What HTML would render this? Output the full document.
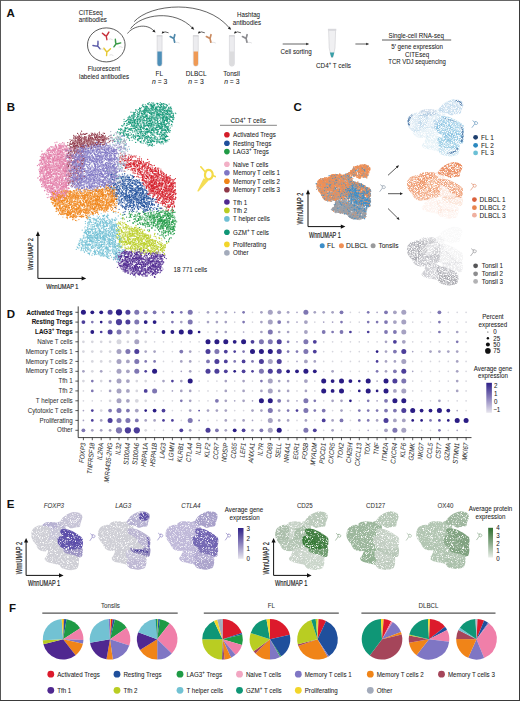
<!DOCTYPE html><html><head><meta charset="utf-8"><style>html,body{margin:0;padding:0;background:#fff;width:520px;height:701px;overflow:hidden}svg{display:block}text{font-family:"Liberation Sans", sans-serif}</style></head><body>
<svg width="520" height="701" viewBox="0 0 520 701">
<defs>
<linearGradient id="gpur" x1="0" y1="0" x2="0" y2="1"><stop offset="0" stop-color="#2e2088"/><stop offset="0.5" stop-color="#8a80bc"/><stop offset="1" stop-color="#e8e6ee"/></linearGradient>
<linearGradient id="ggrn" x1="0" y1="0" x2="0" y2="1"><stop offset="0" stop-color="#2f6f2f"/><stop offset="0.5" stop-color="#86a886"/><stop offset="1" stop-color="#e8eee8"/></linearGradient>
<filter id="spk" x="-8%" y="-8%" width="116%" height="116%" color-interpolation-filters="sRGB"><feGaussianBlur in="SourceGraphic" stdDeviation="0.9" result="b"/><feColorMatrix in="b" type="matrix" values="1 0 0 0 0  0 1 0 0 0  0 0 1 0 0  0 0 0 0 1" result="col"/><feColorMatrix in="b" type="matrix" values="0 0 0 0 0  0 0 0 0 0  0 0 0 0 0  0 0 0 1 0" result="ba"/><feTurbulence type="fractalNoise" baseFrequency="0.95" numOctaves="1" seed="4" result="n"/><feColorMatrix in="n" type="matrix" values="0 0 0 0 0  0 0 0 0 0  0 0 0 0 0  1 0 0 0 0" result="nz"/><feComposite in="ba" in2="nz" operator="arithmetic" k1="0" k2="3.2" k3="3.2" k4="-3.9" result="s"/><feComposite in="col" in2="s" operator="in"/></filter>
<filter id="spk2" x="-8%" y="-8%" width="116%" height="116%" color-interpolation-filters="sRGB"><feGaussianBlur in="SourceGraphic" stdDeviation="0.6" result="b"/><feColorMatrix in="b" type="matrix" values="1 0 0 0 0  0 1 0 0 0  0 0 1 0 0  0 0 0 0 1" result="col"/><feColorMatrix in="b" type="matrix" values="0 0 0 0 0  0 0 0 0 0  0 0 0 0 0  0 0 0 1 0" result="ba"/><feTurbulence type="fractalNoise" baseFrequency="1.6" numOctaves="1" seed="9" result="n"/><feColorMatrix in="n" type="matrix" values="0 0 0 0 0  0 0 0 0 0  0 0 0 0 0  1 0 0 0 0" result="nz"/><feComposite in="ba" in2="nz" operator="arithmetic" k1="0" k2="3.0" k3="3.0" k4="-3.6" result="s"/><feComposite in="col" in2="s" operator="in"/></filter>
<filter id="tex" x="-5%" y="-5%" width="110%" height="110%" color-interpolation-filters="sRGB"><feTurbulence type="fractalNoise" baseFrequency="1.3" numOctaves="1" seed="5" result="n"/><feColorMatrix in="n" type="matrix" values="0 0 0 0 0  0 0 0 0 0  0 0 0 0 0  4 0 0 0 -1.3" result="m"/><feComposite in="SourceGraphic" in2="m" operator="in"/></filter>
<filter id="tex2" x="-5%" y="-5%" width="110%" height="110%" color-interpolation-filters="sRGB"><feTurbulence type="fractalNoise" baseFrequency="1.3" numOctaves="1" seed="8" result="n"/><feColorMatrix in="n" type="matrix" values="0 0 0 0 0  0 0 0 0 0  0 0 0 0 0  5 0 0 0 -2.6" result="m"/><feComposite in="SourceGraphic" in2="m" operator="in"/></filter>
<filter id="tex3" x="-5%" y="-5%" width="110%" height="110%" color-interpolation-filters="sRGB"><feTurbulence type="fractalNoise" baseFrequency="2.2" numOctaves="2" seed="3" result="n"/><feColorMatrix in="n" type="matrix" values="0 0 0 0 0  0 0 0 0 0  0 0 0 0 0  4 0 0 0 -0.9" result="m"/><feComposite in="SourceGraphic" in2="m" operator="in"/></filter>
<linearGradient id="redC" x1="0" y1="0" x2="0.3" y2="1"><stop offset="0" stop-color="#ef9a66"/><stop offset="0.45" stop-color="#e8a878"/><stop offset="0.7" stop-color="#6a9ccc"/><stop offset="1" stop-color="#4a92c8"/></linearGradient>
</defs>
<rect width="520" height="701" fill="#fff"/>
<text x="0" y="0" transform="translate(6.60 16.60) scale(1 1.0)" font-size="11.5" text-anchor="start" font-weight="bold" fill="#111">A</text>
<text x="0" y="0" transform="translate(78.70 14.70) scale(1 1.12)" font-size="6.2" text-anchor="start" fill="#222" stroke="#222" stroke-width="0.05">CITEseq</text>
<text x="0" y="0" transform="translate(78.70 22.00) scale(1 1.12)" font-size="6.2" text-anchor="start" fill="#222" stroke="#222" stroke-width="0.05">antibodies</text>
<ellipse cx="106.3" cy="44.9" rx="18.8" ry="17.0" fill="none" stroke="#333" stroke-width="0.8"/>
<g transform="translate(106.2,35.8) rotate(-10) scale(1.0)" stroke="#c8323c" stroke-width="1.4" stroke-linecap="round" fill="none">
<path d="M0,0.5 L0,4 M0,0.5 L-2.6,-2.4 M0,0.5 L2.6,-2.4 M-1.2,-0.6 L-3.3,-3.2 M1.2,-0.6 L3.3,-3.2"/>
</g>
<path d="M108.7,39.3 q2,-1 4,0.5" stroke="#ccc" stroke-width="0.6" fill="none"/>
<g transform="translate(116.2,43.6) rotate(35) scale(1.0)" stroke="#3a9a48" stroke-width="1.4" stroke-linecap="round" fill="none">
<path d="M0,0.5 L0,4 M0,0.5 L-2.6,-2.4 M0,0.5 L2.6,-2.4 M-1.2,-0.6 L-3.3,-3.2 M1.2,-0.6 L3.3,-3.2"/>
</g>
<path d="M118.7,47.1 q2,-1 4,0.5" stroke="#ccc" stroke-width="0.6" fill="none"/>
<g transform="translate(97.5,45.8) rotate(-40) scale(1.0)" stroke="#5a5aa8" stroke-width="1.4" stroke-linecap="round" fill="none">
<path d="M0,0.5 L0,4 M0,0.5 L-2.6,-2.4 M0,0.5 L2.6,-2.4 M-1.2,-0.6 L-3.3,-3.2 M1.2,-0.6 L3.3,-3.2"/>
</g>
<path d="M100.0,49.3 q2,-1 4,0.5" stroke="#ccc" stroke-width="0.6" fill="none"/>
<g transform="translate(106.9,51.6) rotate(5) scale(1.0)" stroke="#e6c832" stroke-width="1.4" stroke-linecap="round" fill="none">
<path d="M0,0.5 L0,4 M0,0.5 L-2.6,-2.4 M0,0.5 L2.6,-2.4 M-1.2,-0.6 L-3.3,-3.2 M1.2,-0.6 L3.3,-3.2"/>
</g>
<path d="M109.4,55.1 q2,-1 4,0.5" stroke="#ccc" stroke-width="0.6" fill="none"/>
<text x="0" y="0" transform="translate(104.00 70.90) scale(1 1.12)" font-size="6.2" text-anchor="middle" fill="#222" stroke="#222" stroke-width="0.05">Fluorescent</text>
<text x="0" y="0" transform="translate(104.00 79.20) scale(1 1.12)" font-size="6.2" text-anchor="middle" fill="#222" stroke="#222" stroke-width="0.05" textLength="50" lengthAdjust="spacingAndGlyphs">labeled antibodies</text>
<g fill="none" stroke="#222" stroke-width="0.7">
<path d="M127.5,33.5 C132,27 146,22 154.2,31.2"/>
<path d="M130.6,28.6 C141,14 175,9 192.8,28.4"/>
<path d="M134.2,21.6 C150,4 205,-2 229.8,28.4"/>
</g>
<path d="M155.60,32.60 L152.26,31.53 L154.19,29.39Z" fill="#222"/>
<path d="M194.20,29.80 L190.92,28.56 L192.96,26.52Z" fill="#222"/>
<path d="M231.20,29.80 L227.86,28.73 L229.79,26.59Z" fill="#222"/>
<path d="M157.1,35.8 L157.1,63.7 Q157.1,66.2 159.6,66.2 Q162.1,66.2 162.1,63.7 L162.1,35.8Z" fill="#ececef" stroke="#c8c8cc" stroke-width="0.5"/>
<path d="M157.4,51.5 L157.4,63.7 Q157.4,65.9 159.6,65.9 Q161.79999999999998,65.9 161.79999999999998,63.7 L161.79999999999998,51.5Z" fill="#4d8fb8"/>
<rect x="156.7" y="35.199999999999996" width="5.8" height="1.2" fill="#d4d4d8"/>
<path d="M168.6,32.8 Q164.6,30.8 162.4,33.0" fill="none" stroke="#222" stroke-width="0.7"/>
<path d="M161.60,33.60 L162.84,31.03 L164.34,32.83Z" fill="#222"/>
<g transform="translate(173.8,38.6)" stroke="#4f88aa" stroke-width="1.7" stroke-linecap="round" fill="none"><path d="M0,0 L-3.6,-2.0 M0,0 L1.0,-3.9 M0,0 L0.9,3.6"/></g>
<path d="M175.6,42.5 q2.2,-0.6 4,0.6" stroke="#d0d0d4" stroke-width="0.6" fill="none"/>
<path d="M193.3,35.8 L193.3,63.7 Q193.3,66.2 195.8,66.2 Q198.3,66.2 198.3,63.7 L198.3,35.8Z" fill="#ececef" stroke="#c8c8cc" stroke-width="0.5"/>
<path d="M193.60000000000002,51.5 L193.60000000000002,63.7 Q193.60000000000002,65.9 195.8,65.9 Q198.0,65.9 198.0,63.7 L198.0,51.5Z" fill="#ef9a55"/>
<rect x="192.9" y="35.199999999999996" width="5.8" height="1.2" fill="#d4d4d8"/>
<path d="M204.8,32.8 Q200.8,30.8 198.60000000000002,33.0" fill="none" stroke="#222" stroke-width="0.7"/>
<path d="M197.80,33.60 L199.04,31.03 L200.54,32.83Z" fill="#222"/>
<g transform="translate(210.0,38.6)" stroke="#c98a60" stroke-width="1.7" stroke-linecap="round" fill="none"><path d="M0,0 L-3.6,-2.0 M0,0 L1.0,-3.9 M0,0 L0.9,3.6"/></g>
<path d="M211.8,42.5 q2.2,-0.6 4,0.6" stroke="#d0d0d4" stroke-width="0.6" fill="none"/>
<path d="M229.4,35.8 L229.4,63.7 Q229.4,66.2 231.9,66.2 Q234.4,66.2 234.4,63.7 L234.4,35.8Z" fill="#ececef" stroke="#c8c8cc" stroke-width="0.5"/>
<path d="M229.70000000000002,51.5 L229.70000000000002,63.7 Q229.70000000000002,65.9 231.9,65.9 Q234.1,65.9 234.1,63.7 L234.1,51.5Z" fill="#dcdcde"/>
<rect x="229.0" y="35.199999999999996" width="5.8" height="1.2" fill="#d4d4d8"/>
<path d="M240.9,32.8 Q236.9,30.8 234.70000000000002,33.0" fill="none" stroke="#222" stroke-width="0.7"/>
<path d="M233.90,33.60 L235.14,31.03 L236.64,32.83Z" fill="#222"/>
<g transform="translate(246.1,38.6)" stroke="#8c8c90" stroke-width="1.7" stroke-linecap="round" fill="none"><path d="M0,0 L-3.6,-2.0 M0,0 L1.0,-3.9 M0,0 L0.9,3.6"/></g>
<path d="M247.9,42.5 q2.2,-0.6 4,0.6" stroke="#d0d0d4" stroke-width="0.6" fill="none"/>
<text x="0" y="0" transform="translate(159.20 76.30) scale(1 1.12)" font-size="6.5" text-anchor="middle" fill="#222" stroke="#222" stroke-width="0.05">FL</text>
<text x="0" y="0" transform="translate(196.20 76.30) scale(1 1.12)" font-size="6.5" text-anchor="middle" fill="#222" stroke="#222" stroke-width="0.05">DLBCL</text>
<text x="0" y="0" transform="translate(231.60 76.30) scale(1 1.12)" font-size="6.5" text-anchor="middle" fill="#222" stroke="#222" stroke-width="0.05">Tonsil</text>
<text x="0" y="0" transform="translate(159.60 83.60) scale(1 1.12)" font-size="6.8" text-anchor="middle" fill="#222" stroke="#222" stroke-width="0.05"><tspan font-style="italic">n</tspan> = 3</text>
<text x="0" y="0" transform="translate(196.00 83.60) scale(1 1.12)" font-size="6.8" text-anchor="middle" fill="#222" stroke="#222" stroke-width="0.05"><tspan font-style="italic">n</tspan> = 3</text>
<text x="0" y="0" transform="translate(231.80 83.60) scale(1 1.12)" font-size="6.8" text-anchor="middle" fill="#222" stroke="#222" stroke-width="0.05"><tspan font-style="italic">n</tspan> = 3</text>
<text x="0" y="0" transform="translate(248.50 17.00) scale(1 1.12)" font-size="6.2" text-anchor="middle" fill="#222" stroke="#222" stroke-width="0.05">Hashtag</text>
<text x="0" y="0" transform="translate(247.00 25.10) scale(1 1.12)" font-size="6.2" text-anchor="middle" fill="#222" stroke="#222" stroke-width="0.05">antibodies</text>
<line x1="282.7" y1="44" x2="306.5" y2="44" stroke="#222" stroke-width="0.7"/>
<path d="M309.20,44.00 L306.20,45.35 L306.20,42.65Z" fill="#222"/>
<text x="0" y="0" transform="translate(296.00 54.20) scale(1 1.12)" font-size="6.8" text-anchor="middle" fill="#222" stroke="#222" stroke-width="0.05" textLength="31.2" lengthAdjust="spacingAndGlyphs">Cell sorting</text>
<path d="M328.6,30.2 L335.6,30.2 L335.0,48 L332.9,57.4 L331.3,57.4 L329.2,48Z" fill="#f0f0f2" stroke="#c4c4c8" stroke-width="0.5"/>
<path d="M329.9,52.6 L334.3,52.6 L332.9,57.3 L331.3,57.3Z" fill="#3aa0a8"/>
<rect x="327.9" y="28.8" width="8.4" height="1.8" fill="#d8d8dc"/>
<text x="0" y="0" transform="translate(333.50 67.80) scale(1 1.12)" font-size="6.8" text-anchor="middle" fill="#222" stroke="#222" stroke-width="0.05" textLength="35" lengthAdjust="spacingAndGlyphs">CD4<tspan font-size="4.4" dy="-2.6">+</tspan><tspan dy="2.6"> T cells</tspan></text>
<line x1="355.4" y1="44" x2="366.5" y2="44" stroke="#222" stroke-width="0.7"/>
<path d="M369.20,44.00 L366.20,45.35 L366.20,42.65Z" fill="#222"/>
<text x="0" y="0" transform="translate(416.20 37.60) scale(1 1.12)" font-size="6.2" text-anchor="middle" fill="#222" stroke="#222" stroke-width="0.05" textLength="55.4" lengthAdjust="spacingAndGlyphs">Single-cell RNA-seq</text>
<line x1="382" y1="40.0" x2="451.2" y2="40.0" stroke="#333" stroke-width="0.8"/>
<text x="0" y="0" transform="translate(417.10 49.20) scale(1 1.12)" font-size="6.2" text-anchor="middle" fill="#222" stroke="#222" stroke-width="0.05" textLength="51.8" lengthAdjust="spacingAndGlyphs">5′ gene expression</text>
<text x="0" y="0" transform="translate(417.10 56.80) scale(1 1.12)" font-size="6.2" text-anchor="middle" fill="#222" stroke="#222" stroke-width="0.05">CITEseq</text>
<text x="0" y="0" transform="translate(417.10 64.10) scale(1 1.12)" font-size="6.2" text-anchor="middle" fill="#222" stroke="#222" stroke-width="0.05" textLength="57.7" lengthAdjust="spacingAndGlyphs">TCR VDJ sequencing</text>
<text x="0" y="0" transform="translate(6.80 111.00) scale(1 1.0)" font-size="11.5" text-anchor="start" font-weight="bold" fill="#111">B</text>
<g fill="none" stroke-linecap="round" stroke-width="12.5" opacity="1.0" transform="scale(0.1)">
<path stroke="#acb4cb" d="M1125 1389h0m151 123h0m-84 101h0m-10 47h0m12 172h0"/>
<path stroke="#6fbe87" d="M1542 2117h0m75-4h0m16-12h0m19 9h0m-341 34h0m57 14h0m225-27h0m86-9h0m17 15h0m-294 39h0m2 23h0m0-19h0m72 9h0m62-21h0m28 3h0m17 16h0m6 6h0m78-14h0m48-18h0m29 24h0m-323 41h0m54 1h0m97-15h0m7 14h0m117-21h0m23 13h0m15 11h0m17 2h0m5-24h0m-282 52h0m80 2h0m104-5h0m17 11h0m55 8h0m11-24h0m-89 55h0m54 27h0"/>
<path stroke="#b0b8c8" d="M1235 1477h0m1 179h0m-90 88h0m26 130h0"/>
<path stroke="#ccd1db" d="M1218 1636h0m56 63h0"/>
<path stroke="#e27aa6" d="M627 1427h0m-70 22h0m27-1h0m3 4h0m4 11h0m8 14h0m4-19h0m9 8h0m5 12h0m15 0h0m2-14h0m-163 40h0m7 7h0m1 0h0m9-9h0m41-2h0m14 2h0m1-1h0m4 18h0m38-34h0m1 5h0m3 19h0m16 7h0m3-33h0m4 28h0m41-14h0m8 9h0m1 3h0m3 4h0m-245 27h0m8-2h0m5 18h0m21 2h0m6-14h0m37 3h0m10-25h0m36 23h0m31-13h0m5 11h0m7-3h0m11 3h0m2-11h0m13 16h0m13 1h0m4-24h0m4 5h0m7 19h0m-238 14h0m21 14h0m8 2h0m2-5h0m1-14h0m2 31h0m3-13h0m4 17h0m1-3h0m26-4h0m2 2h0m2-24h0m1 7h0m10 5h0m1-13h0m6 25h0m8-24h0m1 17h0m24 16h0m10-8h0m32-6h0m6-23h0m10 3h0m2 32h0m2-3h0m0-14h0m28-19h0m6 0h0m4 35h0m10 2h0m3-31h0m1 31h0m8-1h0m10-13h0m41-22h0m-299 43h0m11 3h0m31 17h0m18 6h0m24 4h0m2-34h0m0 36h0m2-13h0m9-6h0m2-5h0m23-1h0m3-12h0m5 23h0m19-18h0m11 29h0m11 3h0m21-15h0m8 9h0m12-15h0m10 18h0m5-12h0m16 9h0m11-19h0m39 14h0m19-13h0m-338 43h0m23-15h0m67 28h0m9-21h0m12 26h0m3 4h0m5-21h0m4 2h0m8-1h0m26 14h0m6-23h0m3 15h0m2 0h0m1-12h0m20 26h0m4-21h0m0-6h0m3 2h0m4 1h0m12 3h0m2-2h0m3-2h0m10 16h0m7-15h0m1 5h0m2 3h0m1 13h0m7-19h0m13 20h0m17-25h0m16 14h0m1-8h0m4 18h0m19 3h0m-299 20h0m6 16h0m3 2h0m11-19h0m14-6h0m6-4h0m10 17h0m8-10h0m6-6h0m10 12h0m9 17h0m2-21h0m10 22h0m7-37h0m9 14h0m7-4h0m9 22h0m2 4h0m9-37h0m24 39h0m4-3h0m15-13h0m4-15h0m13 0h0m6-3h0m1 1h0m15 18h0m21-7h0m18 9h0m4 3h0m4 7h0m3 0h0m23-15h0m-282 37h0m8-18h0m61 12h0m15-1h0m1 17h0m7-23h0m7 15h0m1-6h0m0-12h0m15 34h0m17-15h0m6-3h0m6 3h0m5 1h0m16-13h0m1 12h0m1 15h0m1-30h0m26 16h0m10-19h0m16 28h0m1 8h0m6-26h0m21-13h0m1 24h0m5 10h0m8-3h0m1 6h0m5-10h0m5 10h0m10-25h0m9 13h0m-314 35h0m17-16h0m11 29h0m35-4h0m0 5h0m2-30h0m13 19h0m1 8h0m1-7h0m3 12h0m10-13h0m9-6h0m12-8h0m3-9h0m23 7h0m3 22h0m9-20h0m31 5h0m2 0h0m1 18h0m5-15h0m6-14h0m3 4h0m26-5h0m2 4h0m18 30h0m5-7h0m7-24h0m38 23h0m5 11h0m7-29h0m6 15h0m-295 17h0m31 34h0m5-26h0m11 6h0m2 9h0m29-16h0m7 23h0m3-16h0m19-5h0m15 26h0m17-7h0m9 2h0m14-5h0m13-16h0m15 20h0m2-15h0m3 1h0m22-7h0m14 28h0m21-17h0m6-13h0m7 31h0m12-24h0m7 14h0m3-6h0m16-5h0m-285 26h0m51 24h0m19-5h0m4 16h0m6-16h0m15 4h0m30 11h0m2-31h0m20 27h0m21-4h0m3-19h0m13-1h0m3 7h0m4 20h0m7 0h0m3-34h0m3 31h0m2-34h0m16 12h0m9 12h0m6-3h0m3 10h0m5-24h0m0 9h0m5 23h0m-221 28h0m30 4h0m1-17h0m27-8h0m17 14h0m3-14h0m2 31h0m16-19h0m5 4h0m37 4h0m19-23h0m10-2h0m3 10h0m5-11h0m24 2h0m18 37h0m2-12h0m6-3h0m21 9h0m-210 10h0m11-3h0m21 7h0m31 1h0m30 1h0m2 25h0m4-23h0m3 26h0m8 1h0m9-16h0m5 15h0m14-28h0m4-8h0m8 13h0m3 5h0m6-9h0m-167 45h0m35 8h0m8-19h0m22 16h0m2 15h0m6-9h0m34 12h0m18-33h0m3 2h0"/>
<path stroke="#a3abbb" d="M1198 1338h0m-35 46h0m22-5h0m7-11h0m32 55h0m-18 45h0m12 20h0m18 30h0m-51 24h0m35 1h0m2 49h0m15 27h0m-90 51h0m104-4h0m25-5h0m-78 20h0m7 5h0m-70 54h0m16-6h0m7-3h0m24 36h0m-72 51h0m63 12h0m11-16h0m-114 35h0m39 10h0m29 13h0m3-15h0"/>
<path stroke="#eca9c6" d="M569 1471h0m57-4h0m-74 43h0m24-12h0m15 15h0m11-21h0m11 25h0m40-34h0m-204 50h0m68 9h0m37-3h0m15-5h0m43-4h0m17 16h0m33-2h0m-207 53h0m1-16h0m96-14h0m2 1h0m1-7h0m14 12h0m28 16h0m4 3h0m7-15h0m1 14h0m16-4h0m1-9h0m76 10h0m-264 15h0m5 29h0m47-15h0m22 12h0m0-27h0m55 5h0m13 6h0m23 2h0m10-5h0m34-8h0m-218 75h0m59-11h0m51-8h0m53 7h0m28-6h0m0-8h0m5 4h0m22-11h0m22 27h0m-265 25h0m102-10h0m61-4h0m6 25h0m26-14h0m20 21h0m16-33h0m15 0h0m3 14h0m33-7h0m-266 62h0m17 5h0m22 1h0m35-9h0m4-17h0m60-4h0m40 4h0m21 23h0m59-10h0m-276 19h0m53 15h0m55 17h0m56 0h0m40-24h0m-174 44h0m35 5h0m70 20h0m28-8h0m53-2h0m4 4h0m41-17h0m-141 51h0m73-18h0m16 27h0m19-1h0m33-12h0m-191 49h0m39-20h0m15-1h0m12 13h0m73-7h0m46 19h0m-169 9h0m37 10h0m50 1h0m6-3h0m4 7h0m36 5h0m-57 32h0m2-17h0m15 19h0m84-2h0"/>
<path stroke="#6e4ea3" d="M1241 2515h0m18-4h0m218-4h0m-259 44h0m28-19h0m2-5h0m27 17h0m10 8h0m6-18h0m12-11h0m7 28h0m53-20h0m19-7h0m18 10h0m69-10h0m39 13h0m38 0h0m50 22h0m12-15h0m-450 21h0m37 28h0m12 2h0m16-4h0m24-30h0m43 29h0m15-19h0m31 11h0m10-19h0m14 3h0m7 33h0m8-23h0m39-8h0m5 17h0m79 12h0m54-14h0m46 12h0m13-11h0m18-23h0m-400 56h0m11-15h0m18 3h0m10 14h0m11 10h0m4-16h0m11 22h0m3 4h0m16-38h0m29 26h0m11-11h0m62-3h0m8 4h0m43 6h0m8-16h0m56-1h0m14 10h0m17 8h0m7-11h0m10 8h0m36-5h0m19 13h0m-429 28h0m33-3h0m37 7h0m41-11h0m8 14h0m19-3h0m8 3h0m10 14h0m67-12h0m31-23h0m17 18h0m24 11h0m1-8h0m19 2h0m21-7h0m4 7h0m15-7h0m-321 21h0m25 30h0m65-14h0m11 12h0m26-13h0m2 7h0m17-20h0m19-1h0m15 21h0m11 12h0m23-3h0m24-14h0m33 1h0m49-12h0m19 17h0m40 5h0m-346 12h0m7 13h0m79-2h0m127-5h0m24 0h0m91 2h0m-54 44h0"/>
<path stroke="#9aa4c0" d="M1164 1338h0m29 52h0m-39 22h0m53 76h0m-36 151h0"/>
<path stroke="#c299b2" d="M728 1488h0m14 26h0m74 177h0m-84 147h0"/>
<path stroke="#d41c28" d="M1291 1548h0m50 11h0m-145 18h0m60-17h0m23 36h0m1 0h0m99-11h0m98 9h0m-279 25h0m10-2h0m35-11h0m2 0h0m7-2h0m6 0h0m30 29h0m13-29h0m3-2h0m16 5h0m14 2h0m2 27h0m14-32h0m9 6h0m18-2h0m2 3h0m5 10h0m11 16h0m7-6h0m13-6h0m18-12h0m31 26h0m27-24h0m-257 38h0m24 24h0m5-35h0m0 13h0m10 23h0m5-34h0m4 10h0m12-10h0m3 4h0m12 22h0m2-4h0m39-1h0m11 10h0m8-19h0m1-1h0m4 5h0m4-12h0m18 16h0m0 0h0m1-13h0m25 12h0m8-1h0m10-6h0m7-3h0m33 13h0m5-10h0m0 16h0m21-27h0m49 32h0m-233 18h0m8 6h0m15-16h0m11 26h0m24 8h0m9-18h0m8 3h0m27-24h0m23 5h0m21 17h0m4 1h0m32-17h0m2 1h0m12 18h0m12 8h0m2-14h0m27-4h0m20 23h0m9-36h0m19 35h0m-196 13h0m6 14h0m5 3h0m9 6h0m37-16h0m11-10h0m21 29h0m35-18h0m11 2h0m0-3h0m2 15h0m12-13h0m13-1h0m3-3h0m8 3h0m2-16h0m0 10h0m31 2h0m17-5h0m10 9h0m-276 29h0m17 2h0m47-6h0m3 17h0m10-10h0m10 14h0m12 4h0m13-14h0m11 21h0m8-34h0m17 14h0m1 5h0m8-19h0m8 31h0m3-5h0m2-19h0m2 8h0m18-2h0m5 18h0m6-25h0m1 29h0m41-14h0m35-12h0m13 28h0m13-14h0m0 9h0m16-28h0m6 16h0m6 2h0m-267 24h0m25 1h0m6 2h0m7 9h0m10 8h0m36-17h0m9 5h0m17 9h0m18 3h0m4 9h0m32-14h0m15 12h0m8-4h0m4 3h0m8 3h0m12-26h0m7-9h0m5 32h0m4-12h0m9-18h0m11 5h0m25-8h0m14 35h0m-286 14h0m34 29h0m13-37h0m11 37h0m26-2h0m5-21h0m13 5h0m8 7h0m1 2h0m10-26h0m3-2h0m57 15h0m30 19h0m0-14h0m15-11h0m8-3h0m25 20h0m4 1h0m2-12h0m5-10h0m14 8h0m1-3h0m3-11h0m1 18h0m31 4h0m-261 48h0m12 2h0m3-8h0m14-1h0m8-23h0m2 3h0m7 30h0m21-1h0m11-17h0m7 22h0m12-14h0m9-6h0m5 6h0m9 13h0m5-28h0m57 1h0m30 30h0m18-32h0m0 12h0m1-19h0m13 39h0m4-16h0m9 4h0m4-8h0m-257 31h0m41 8h0m5 11h0m43-17h0m11-11h0m11 34h0m1-17h0m5 17h0m1-30h0m10 34h0m0-29h0m1-3h0m13 16h0m10 15h0m5-6h0m17-19h0m18 14h0m19-1h0m45-10h0m2 10h0m-227 33h0m4 1h0m1-19h0m36 31h0m6-20h0m8 26h0m5-1h0m15-20h0m21-13h0m8 0h0m7 25h0m11 4h0m14-2h0m11-26h0m2 13h0m7-8h0m26 2h0m8-12h0m-132 68h0m35 1h0m1 7h0m9-5h0m1-14h0m12-16h0m8 36h0m14-15h0m0 1h0m48-1h0m21 8h0m5-12h0m-82 29h0m22 2h0m5 11h0m8 7h0m33 4h0m18-2h0m2-7h0"/>
<path stroke="#d6d9e0" d="M1218 1529h0m11 47h0"/>
<path stroke="#a35b68" d="M797 1355h0m36-20h0m9 5h0m126 16h0m85 2h0m-353 38h0m69-21h0m7 0h0m8 24h0m42-20h0m22 18h0m10-7h0m75 7h0m17-3h0m8-19h0m44 19h0m4-4h0m9-26h0m7 3h0m8 29h0m18-14h0m2-8h0m-281 47h0m7-11h0m40 0h0m60 2h0m7-6h0m5 7h0m1-7h0m16 15h0m44-16h0m18-5h0m56 20h0m1-15h0m6 0h0m29 29h0m-347 9h0m2 32h0m14-26h0m5 15h0m10-4h0m1 15h0m2-29h0m20 22h0m3-6h0m115-22h0m67 31h0m45-3h0m-251 32h0m44 0h0m33 13h0m9-28h0m-153 69h0m111-21h0m-49 32h0m85 22h0m-72 20h0m19 9h0m32 25h0m-115 116h0m106 7h0m-100 64h0m70-13h0m-40 27h0"/>
<path stroke="#e36d75" d="M1315 1557h0m-63 13h0m44 14h0m9-18h0m47 0h0m6 8h0m-141 63h0m116-6h0m4-1h0m26-3h0m93 43h0m-69 39h0m19-25h0m43 19h0m84 10h0m34-2h0m2-8h0m-213 31h0m39-7h0m43 5h0m22 20h0m12-32h0m6 15h0m48-13h0m51 15h0m32-11h0m-171 36h0m30 37h0m39-21h0m28 0h0m85 20h0m5-10h0m19-26h0m66 35h0m7-5h0m-268 24h0m12 16h0m58-27h0m89 30h0m8 2h0m65-28h0m4 8h0m-154 57h0m31-20h0m64 6h0m24-11h0m9 27h0m39 0h0m57-7h0m-273 12h0m33 25h0m47-15h0m7 7h0m31 0h0m10-10h0m90 1h0m53 29h0m-209 17h0m27-5h0m86 8h0m14-17h0m67 14h0m4 11h0m-164 25h0m3 14h0m56 9h0m1-22h0m23 6h0m28-4h0m30 21h0m15-13h0m-110 34h0m70-8h0m9 18h0m-61 36h0m58-12h0"/>
<path stroke="#8a7cc0" d="M668 1498h0m31-8h0m102 21h0m-130 46h0m94-25h0m27 5h0m-135 52h0m10-8h0m33 3h0m80 1h0m26-16h0m-83 54h0m96 0h0m5-12h0m2 27h0m12-32h0m-168 58h0m73 3h0m22-9h0m-96 58h0m96-24h0m70 3h0m-170 54h0m14-13h0m5 5h0m15 8h0m2-26h0m2 25h0m39-24h0m-7 71h0m-38 13h0m43 26h0m5-13h0m1-11h0m0 1h0m1-8h0m8 0h0m20 26h0m2 33h0m6-21h0"/>
<path stroke="#b77f89" d="M906 1356h0m-183 43h0m17 0h0m5-34h0m7 2h0m1 27h0m0 4h0m83-9h0m10 4h0m18-5h0m34-20h0m3 19h0m18 12h0m33-28h0m8 24h0m34-28h0m6 16h0m4 13h0m24-18h0m27-17h0m-325 50h0m31 15h0m19-7h0m8 2h0m77-17h0m29 35h0m3-26h0m38 15h0m5-17h0m18 12h0m15-1h0m12 6h0m7-23h0m58 15h0m-360 58h0m115-17h0m53-8h0m116 12h0m15-24h0m-249 41h0m79 33h0m8 64h0m0 23h0m-11 56h0m-145 30h0m78 12h0m14 17h0m23 123h0"/>
<path stroke="#ada7d9" d="M977 1424h0m-18 55h0m32-21h0m63 1h0m20 0h0m26 18h0m26-8h0m-322 18h0m4 28h0m56-26h0m50 0h0m136 9h0m15-6h0m22-5h0m39 22h0m-217 26h0m63 16h0m5-4h0m25 5h0m14 3h0m9 4h0m109-35h0m-424 74h0m63-5h0m67 2h0m18-20h0m3-9h0m1 2h0m29 4h0m57 15h0m15-7h0m19 13h0m26-12h0m6 0h0m0-4h0m69 11h0m16-28h0m5 0h0m6 0h0m32 33h0m-401 22h0m116 24h0m59-29h0m17 7h0m16 19h0m60-18h0m69 11h0m18-27h0m10 20h0m36 1h0m-410 32h0m64 18h0m8 5h0m1-18h0m19 4h0m16-15h0m106 15h0m65-13h0m32-9h0m21 34h0m66-20h0m0 10h0m73-2h0m-456 46h0m20 6h0m35-1h0m28-31h0m24 29h0m3-30h0m24 15h0m34 11h0m37-15h0m3 19h0m47-16h0m123-10h0m8 2h0m87 16h0m-411 27h0m66-9h0m127 27h0m52-13h0m24 4h0m30 14h0m-261 33h0m7-22h0m51 14h0m171-11h0m62 1h0m19-1h0m-422 32h0m2 20h0m59 8h0m4-3h0m46-23h0m29 34h0m31-30h0m13-6h0m21 21h0m69-7h0m24 11h0m-286 50h0m48-24h0m24 22h0m79-31h0m65 36h0m22-37h0m37 3h0m14 20h0m7 29h0"/>
<path stroke="#8f3848" d="M822 1343h0m38-8h0m68 16h0m3-8h0m25 1h0m11 13h0m-227 29h0m15-4h0m26 4h0m6-22h0m7 0h0m4 27h0m7-18h0m0 26h0m35-26h0m13-3h0m8 3h0m22 17h0m22-14h0m18 14h0m0-16h0m31 6h0m4 0h0m6-10h0m5-7h0m2 14h0m9 22h0m18-31h0m11 25h0m10-14h0m-294 57h0m0-1h0m5-26h0m8 18h0m3-7h0m3 17h0m34 1h0m13-11h0m15-24h0m6 31h0m5-23h0m15 11h0m14-19h0m11 6h0m9 5h0m22-8h0m10-2h0m15 15h0m15-6h0m1 20h0m45-3h0m9-5h0m6-14h0m16 27h0m30-32h0m11 25h0m3-24h0m31 18h0m14-8h0m11-10h0m-394 36h0m5-2h0m1 36h0m19-20h0m20-3h0m0 12h0m10-11h0m6 1h0m2-1h0m3 24h0m6-11h0m23 4h0m1-20h0m1 3h0m2-4h0m7 12h0m1 16h0m2-35h0m2 6h0m4-2h0m16 10h0m3 17h0m23-11h0m4-11h0m3-5h0m0 0h0m12 17h0m12 9h0m1-28h0m34 10h0m15 4h0m26-16h0m27 16h0m62-9h0m-322 61h0m4 7h0m6-37h0m9 6h0m7 11h0m18-1h0m27-16h0m7 2h0m15 9h0m10-13h0m66 7h0m-228 66h0m60-20h0m7-10h0m12 14h0m39 5h0m12-11h0m-151 50h0m23-8h0m23 53h0m37-7h0m7-6h0m59 22h0m2-28h0m12 42h0m-116 33h0m38 0h0m51 36h0m0-6h0m-109 43h0m85-2h0m-84 10h0m63 14h0m-43 38h0m54-1h0"/>
<path stroke="#a06088" d="M661 1461h0m51 19h0m106 35h0m-116 32h0m9-25h0m-17 49h0m14 3h0m76 22h0m-95 14h0m59 14h0m21 14h0m-60 14h0m70 18h0m61-22h0m-182 35h0m82 4h0m-5 37h0m23 12h0m26-1h0m35 20h0m-102 44h0m19-12h0m10-18h0m42 66h0"/>
<path stroke="#b17c9d" d="M700 1503h0m71 20h0m9 57h0m48-3h0m-94 28h0m32-1h0m-79 82h0m26 71h0"/>
<path stroke="#e791b6" d="M598 1435h0m19 4h0m-74 31h0m52 8h0m72-18h0m-201 45h0m44-6h0m9 12h0m46 7h0m11-6h0m51-5h0m3-12h0m-193 51h0m23-24h0m11 33h0m32-30h0m32 21h0m56-12h0m7 13h0m47-26h0m-233 68h0m25-6h0m33-1h0m5 1h0m2-15h0m2 9h0m2 7h0m3-13h0m10 3h0m3 6h0m28 7h0m8 9h0m29 1h0m1-3h0m14-31h0m10 2h0m13 33h0m4-35h0m40 26h0m9 1h0m1-17h0m-252 56h0m35-11h0m10-1h0m0-17h0m0 23h0m11 7h0m7 1h0m45-9h0m13 1h0m2-15h0m6 18h0m2 9h0m18-31h0m9 29h0m7-32h0m51 31h0m5-13h0m8 18h0m38-29h0m-258 71h0m10-8h0m19 5h0m5-4h0m19-6h0m21-26h0m36 29h0m7 1h0m30-30h0m22 35h0m10 2h0m26-26h0m6-2h0m-220 50h0m3-5h0m10 16h0m10-19h0m13 20h0m15-9h0m6 2h0m33-16h0m0 17h0m51 0h0m1 9h0m14-5h0m3-15h0m7 7h0m6-13h0m6 31h0m5-16h0m3-2h0m15-13h0m7 30h0m17-7h0m77-22h0m-291 32h0m70 12h0m3 21h0m5-25h0m10 6h0m2 8h0m2-20h0m19 22h0m14-6h0m106 5h0m12 4h0m0 6h0m5-30h0m7 14h0m8 2h0m-241 20h0m43 17h0m24-1h0m59-3h0m12-2h0m10 10h0m49 0h0m20 9h0m12 6h0m-223 33h0m16-21h0m40 17h0m2-19h0m3 17h0m19-1h0m35 12h0m42-23h0m22 16h0m15 10h0m16-12h0m9 1h0m29-5h0m15 2h0m-275 44h0m2-27h0m29 25h0m38 7h0m8 4h0m2 2h0m8-13h0m10-16h0m25-2h0m17 7h0m5 23h0m6-14h0m23 16h0m17-12h0m18 0h0m4-21h0m19 11h0m2 6h0m7 13h0m9-24h0m-173 39h0m9 25h0m55-24h0m21 0h0m11 0h0m6-5h0m1 30h0m37-15h0m5-1h0m13 1h0m12-2h0m8 9h0m10-26h0m-169 74h0m26-1h0m3-5h0m9 8h0m41-31h0m15 7h0m21 5h0m14 8h0m12 5h0m-176 19h0m40-9h0m1 14h0m7-9h0m45-6h0m39 29h0"/>
<path stroke="#d2df71" d="M1206 2275h0m54 34h0m82 4h0m-173 33h0m124-8h0m16-2h0m11 0h0m10 0h0m54 17h0m22-19h0m-201 62h0m29-24h0m49 24h0m103-8h0m38 7h0m-203 25h0m36-17h0m16-2h0m30 38h0m19-19h0m26-6h0m109 18h0m19-24h0m40 18h0m7-7h0m56 3h0m-258 57h0m2-12h0m10-17h0m27 7h0m90 5h0m24 4h0m62-5h0m34-15h0m49 9h0m-150 51h0m13-2h0m23 5h0m23 9h0m-95 3h0m201 28h0"/>
<path stroke="#476ead" d="M1096 1736h0m197 60h0m17 1h0m30-30h0m-148 59h0m9-18h0m10 23h0m91 4h0m24-2h0m74-8h0m-294 19h0m34 29h0m31-13h0m25 19h0m2-13h0m29-4h0m19-6h0m11 8h0m6 0h0m19-16h0m12 28h0m61-25h0m-228 52h0m1-17h0m10 18h0m123 14h0m71-36h0m10 25h0m26-27h0m1 39h0m1-35h0m13 1h0m3 7h0m3 1h0m3-8h0m9 0h0m8 11h0m7 1h0m8 20h0m6-28h0m-251 52h0m24 18h0m60-23h0m28 16h0m22-23h0m34 17h0m14-18h0m7 5h0m-179 55h0m30 0h0m100-20h0m18 8h0m0 0h0m17 6h0m38-12h0m17-1h0m27 11h0m5 13h0m6-17h0m5-4h0m-237 34h0m38-5h0m44 24h0m29 10h0m15-18h0m50-6h0m1 24h0m4-26h0m41 17h0m15-2h0m16-18h0m5 21h0m15-14h0m-187 44h0m17 17h0m2-20h0m104-13h0m12 24h0m32 36h0m28-19h0m34 1h0m1 1h0m-143 44h0"/>
<path stroke="#a2d6e3" d="M1214 1659h0m-55 236h0m-281 301h0m125-14h0m23 4h0m4-2h0m18 3h0m-171 52h0m14-26h0m81 19h0m153-32h0m73 34h0m-352 44h0m218-20h0m29 0h0m-240 38h0m62 9h0m75-3h0m8-6h0m101-5h0m6 25h0m59-14h0m9 1h0m-320 30h0m139 20h0m8 2h0m55-14h0m123-5h0m-253 50h0m104-14h0m28-9h0m100 23h0m-249 26h0m12-12h0m35 24h0m165 13h0m35-28h0m-295 66h0m121 1h0m11-30h0m12 16h0m53 0h0m129 12h0m-289 12h0m8 16h0m38 13h0m30-17h0m31 7h0m69-8h0m-60 36h0m142-1h0"/>
<path stroke="#c5d649" d="M1193 2229h0m14-10h0m25 42h0m25 9h0m8-1h0m46 0h0m-128 25h0m36 22h0m120-22h0m1 5h0m17 8h0m68 9h0m-224 21h0m19 5h0m10-19h0m74 11h0m17 19h0m45-14h0m10-4h0m45-13h0m3 15h0m25 16h0m9 2h0m-273 17h0m22-12h0m43 32h0m35-18h0m5 13h0m133-23h0m4 30h0m45-11h0m1 4h0m4-10h0m4 13h0m17-19h0m-290 53h0m18-16h0m6 14h0m38-4h0m16-5h0m28 2h0m16-13h0m4 21h0m41 14h0m108-10h0m11-18h0m15-3h0m13-2h0m33 15h0m-367 28h0m187 19h0m37-14h0m14 9h0m11 13h0m97-19h0m1 21h0m18-16h0m20 4h0m26-24h0m16 8h0m37 4h0m-370 39h0m37 9h0m29-2h0m2 11h0m54-28h0m22 20h0m5 9h0m19 8h0m33-10h0m26 9h0m12-29h0m30-6h0m76 2h0m-87 38h0m86-1h0"/>
<path stroke="#f5b06b" d="M703 1912h0m52-10h0m52-4h0m217 16h0m-393 40h0m34-32h0m2 21h0m5-22h0m73 35h0m18 0h0m44-25h0m75 12h0m26-13h0m16-7h0m60 22h0m6-12h0m117 8h0m32-3h0m-628 31h0m70 3h0m10 9h0m53 10h0m23-28h0m8 28h0m58-27h0m28 20h0m14-3h0m9 7h0m23-22h0m65 0h0m0 3h0m1-2h0m88-7h0m33 22h0m13-16h0m79 3h0m-554 57h0m1-22h0m20-1h0m20 35h0m19-11h0m15-12h0m87 22h0m21-11h0m44-13h0m16 1h0m46 21h0m50-34h0m80 34h0m27 2h0m67-21h0m-485 31h0m4 14h0m57 14h0m19-34h0m23 25h0m1 7h0m23-18h0m55 18h0m74-19h0m30 12h0m20-23h0m16 23h0m39-5h0m0-17h0m21 17h0m13-20h0m8 4h0m12-2h0m94 26h0m20-17h0m10-4h0m13 4h0m28 8h0m-578 31h0m59 10h0m4-2h0m4 12h0m44-14h0m7 19h0m59-29h0m10 10h0m65-7h0m57-4h0m4 1h0m6 27h0m13-15h0m113-6h0m42 20h0m30 1h0m81-27h0m-517 54h0m54-19h0m15 36h0m36-11h0m10-19h0m0 8h0m111-7h0m27 30h0m-30 18h0"/>
<path stroke="#b3bac7" d="M1091 1388h0m103-4h0m-12 53h0m22-21h0m27 19h0m7 1h0m6 36h0m-66 17h0m29 64h0m-34 42h0m-99 95h0m1 16h0m10-2h0m47 7h0m8 16h0m50 42h0m30 8h0m-77 71h0"/>
<path stroke="#3aa88e" d="M1519 1026h0m61 10h0m23-9h0m-190 49h0m17-32h0m2 18h0m18 10h0m18-9h0m62 9h0m6-22h0m29 29h0m57-32h0m-264 62h0m39 5h0m11-26h0m11 23h0m6 1h0m17-10h0m27-17h0m32 18h0m23-6h0m7 0h0m67 7h0m7 9h0m47-15h0m15 7h0m18-19h0m19 25h0m5-4h0m6-24h0m-364 60h0m66-8h0m17-7h0m25 0h0m3 29h0m9-15h0m1 17h0m11-38h0m9 37h0m9-25h0m24-6h0m37-1h0m1 10h0m15-9h0m58 15h0m22-5h0m11 9h0m4-13h0m21 12h0m39-2h0m-492 51h0m49-21h0m6 23h0m89 2h0m64-36h0m4 14h0m1-16h0m27 20h0m31-3h0m4-16h0m6 1h0m4-2h0m9 15h0m6 22h0m3-19h0m16 0h0m4 1h0m9 5h0m34 13h0m1-24h0m13 9h0m16 7h0m22-15h0m4-9h0m6 14h0m1-5h0m24 22h0m10-33h0m22 33h0m-485 21h0m36-16h0m9 15h0m13-7h0m1 22h0m40-31h0m31 22h0m10 17h0m20-37h0m3 0h0m1 29h0m18-11h0m23-14h0m7 0h0m13 16h0m20 12h0m23-5h0m8 1h0m9-8h0m17 16h0m31-29h0m55-1h0m2 18h0m9 13h0m2-12h0m6-22h0m28 8h0m46 1h0m-396 48h0m30 5h0m6 6h0m50-4h0m1-11h0m69-1h0m28 20h0m23-4h0m85 3h0m9-31h0m46 21h0m41-22h0m-538 73h0m10-25h0m64 23h0m10-29h0m6-4h0m84 26h0m18 2h0m10-27h0m5 5h0m50 29h0m34-9h0m7 2h0m47-13h0m3-10h0m73 3h0m15-2h0m15 18h0m1-12h0m13 10h0m12-9h0m-384 59h0m17-12h0m15-15h0m33 18h0m23 13h0m5-8h0m15 4h0m221-16h0m51 20h0m-437 39h0m122-36h0m8-1h0m108 32h0m27 2h0m13-26h0m57 1h0m18 28h0m11-15h0m32-11h0m17 8h0m20 16h0m46-1h0m-446 8h0m269 14h0m116 3h0m25-6h0m12 5h0m-185 41h0m31-6h0"/>
<path stroke="#6f8ebf" d="M1065 1704h0m238 44h0m-172 14h0m58-2h0m25 31h0m30 3h0m31 1h0m44-13h0m49 17h0m-164 20h0m93-13h0m34-6h0m25 39h0m-149 14h0m100 24h0m3-25h0m19 6h0m28-9h0m23 24h0m27-26h0m21 13h0m-303 25h0m69-4h0m117 3h0m24 18h0m-80 45h0m27 5h0m15-10h0m13-18h0m30 32h0m4-5h0m-150 26h0m97-7h0m91 19h0m9-15h0m23 15h0m35-29h0m61 26h0m2 12h0m-331 30h0m25-6h0m30-20h0m12 5h0m15 31h0m2-31h0m35 28h0m27-35h0m4 12h0m32 14h0m49-13h0m2 5h0m144-1h0m-221 29h0m72 17h0m37 4h0m94-24h0m-125 38h0m13 9h0m8 22h0m21-21h0m2 3h0m145-8h0"/>
<path stroke="#cbced8" d="M1154 1375h0m51 435h0"/>
<path stroke="#c4c9d3" d="M1219 1414h0m-24 63h0m6 8h0m-11 48h0m-66 104h0m34 66h0"/>
<path stroke="#bec4d6" d="M1227 1427h0m-63 253h0m4 135h0"/>
<path stroke="#88cadb" d="M1159 1412h0m35 26h0m-66 10h0m58 35h0m-253 670h0m108 2h0m44-2h0m-212 38h0m18-17h0m12 20h0m54-1h0m15-33h0m11 16h0m20 13h0m119 1h0m109-10h0m-326 38h0m45 16h0m8-30h0m91 28h0m14-24h0m8-4h0m36 17h0m-131 23h0m6 7h0m9-6h0m1-1h0m20 26h0m60-20h0m41 5h0m17-4h0m-268 56h0m15-23h0m32-4h0m29 13h0m3 26h0m11 0h0m1-12h0m31-22h0m16 31h0m11 2h0m32 0h0m30-15h0m41-23h0m3 9h0m16 2h0m23 16h0m21-3h0m-326 26h0m11-1h0m37 21h0m18 6h0m15-24h0m13 16h0m19-20h0m3 25h0m13-10h0m45-23h0m13 2h0m11 35h0m1-24h0m42-7h0m25-3h0m6 21h0m38-8h0m-313 34h0m2 17h0m23-7h0m15-5h0m11-5h0m10 21h0m16-12h0m125-9h0m5-10h0m42 33h0m19-24h0m13 6h0m0-3h0m3 14h0m30-12h0m-341 54h0m29-24h0m4 34h0m39-2h0m12-32h0m4 1h0m4-2h0m8 8h0m38 16h0m23-23h0m11 0h0m50 11h0m83 4h0m11-4h0m-366 53h0m22-15h0m17 17h0m72-30h0m3 12h0m18 0h0m27 22h0m52-19h0m83-12h0m88 29h0m-311 46h0m13-21h0m25-4h0m31 12h0m6-24h0m100 10h0m14 26h0m3-13h0m29-4h0m16-17h0m46 19h0m2-22h0m37 14h0m14 24h0m39-4h0m13-7h0m-262 37h0m104-22h0m132 6h0m-37 41h0m43-3h0"/>
<path stroke="#9f96ce" d="M1202 1508h0m-30 15h0m-39 188h0m45-15h0m-105 32h0m39 31h0m16-22h0m20 18h0m-54 41h0m24-2h0m-44 34h0m3 17h0m85 31h0m10-36h0m-11 52h0m-33 46h0"/>
<path stroke="#b4abd6" d="M787 1503h0m10-11h0m18 79h0m8-10h0m0 34h0m-146 30h0m131-10h0m-105 86h0m75 88h0m-59 34h0"/>
<path stroke="#de91b2" d="M652 1583h0m45 36h0m37 1h0m-69 54h0m15 0h0m20-20h0m108 6h0m-62 33h0m-2 28h0m75 24h0m-113 59h0"/>
<path stroke="#f08418" d="M913 1872h0m150-20h0m21 13h0m61 7h0m-572 45h0m91 2h0m37-3h0m5-4h0m39 6h0m45-25h0m50 25h0m5 0h0m1-24h0m21-3h0m58 22h0m20-5h0m15-4h0m3 9h0m4-9h0m14 8h0m3 7h0m9-20h0m1 15h0m14 3h0m9 1h0m1-21h0m6 11h0m3-20h0m15 20h0m19-3h0m11 6h0m14-28h0m2 31h0m5-7h0m11 9h0m-570 34h0m6-8h0m30 8h0m5-22h0m23 26h0m30-12h0m19-14h0m1 15h0m9-10h0m3-12h0m14 37h0m4-32h0m27 26h0m33 4h0m2-29h0m18 24h0m1-25h0m8 27h0m5 5h0m2-31h0m2 27h0m11 2h0m24-4h0m5 1h0m6-12h0m11 17h0m6-26h0m7 25h0m3-6h0m14 3h0m11-29h0m0 30h0m26-29h0m5 28h0m1-28h0m12 2h0m1-4h0m7 24h0m21-4h0m5-6h0m9 17h0m31-14h0m26-12h0m6 5h0m1 11h0m1 5h0m6-29h0m25 28h0m3 6h0m11-16h0m7-6h0m8 6h0m1 11h0m1 7h0m3-6h0m2-2h0m7-16h0m0 0h0m0 15h0m3-28h0m3 2h0m11 33h0m9-10h0m5-16h0m12 7h0m8 17h0m4-14h0m-612 54h0m24-1h0m14-28h0m2 29h0m0-3h0m3 7h0m27-26h0m5 4h0m33 5h0m3 7h0m41-22h0m3 6h0m2 27h0m11-13h0m10 2h0m12-9h0m15-5h0m1 1h0m4-5h0m1 18h0m0-15h0m62 15h0m22 0h0m14-5h0m22-2h0m8 14h0m3-16h0m24 5h0m10 0h0m19-6h0m7 22h0m6-39h0m3 26h0m12-26h0m7 37h0m1-34h0m0 1h0m3 33h0m1-35h0m1 32h0m10 0h0m33-5h0m3-29h0m7 24h0m19-22h0m7-1h0m21 24h0m5-9h0m16 11h0m12-13h0m8 12h0m5-24h0m5 25h0m9-27h0m4 11h0m18 15h0m-611 14h0m9 3h0m11 34h0m10-28h0m8 16h0m3-10h0m14-10h0m9 4h0m7-2h0m2 2h0m38-8h0m2 19h0m12-2h0m35-13h0m2 31h0m24-20h0m1 21h0m15-3h0m28-11h0m0-22h0m22 4h0m2 34h0m3-13h0m7 2h0m22-9h0m1-3h0m17-13h0m4 20h0m7 6h0m0-28h0m25 4h0m12 28h0m11-23h0m29 22h0m22-8h0m2-17h0m2 16h0m5-16h0m6 24h0m21-22h0m4-9h0m5 24h0m1-2h0m3 7h0m11-5h0m3-24h0m39 13h0m21 13h0m2 4h0m1-11h0m15 4h0m9-22h0m2 3h0m5 3h0m20 2h0m27 27h0m2-6h0m-642 11h0m14 20h0m2 2h0m8-12h0m5 9h0m0-11h0m7 30h0m13-32h0m17 2h0m2 5h0m1-2h0m26-5h0m7 24h0m23-29h0m8 9h0m7 21h0m17-16h0m2 14h0m9 4h0m20 0h0m12-21h0m22-11h0m4 13h0m24 15h0m3-23h0m1 22h0m14-13h0m4 12h0m2-20h0m5 1h0m4 2h0m12-5h0m1 13h0m7-10h0m2-8h0m1 9h0m7 29h0m36-20h0m16-8h0m6 10h0m3 10h0m8 3h0m7-19h0m10 19h0m5-21h0m8-7h0m7 23h0m2-22h0m1-3h0m0-1h0m4-2h0m1 7h0m27 21h0m4-10h0m3-17h0m3 28h0m13-16h0m8-5h0m12-1h0m6 27h0m17 3h0m3-25h0m1-8h0m13-3h0m16 0h0m20 26h0m29-14h0m14-8h0m-575 44h0m31 10h0m4-12h0m8 28h0m16-9h0m1 3h0m25-16h0m20-13h0m30 17h0m18 14h0m1-12h0m3 19h0m10-31h0m27-1h0m3 19h0m6-25h0m11 34h0m6-17h0m1 17h0m11-3h0m8-11h0m20 6h0m30-1h0m1 4h0m3-13h0m4 7h0m3-16h0m7 12h0m6 14h0m23-23h0m31-2h0m4 4h0m1 23h0m1-24h0m10 21h0m1-33h0m19 19h0m40 3h0m6-7h0m21-9h0m20-1h0m16 4h0m40 14h0m-521 28h0m24-2h0m13 16h0m11-10h0m32-10h0m2 17h0m9 11h0m14-17h0m5-2h0m10-14h0m14 1h0m8 34h0m15-26h0m18-8h0m7 11h0m22-9h0m48 1h0m4-4h0m5 32h0m9-22h0m55-7h0m3 16h0m1-4h0m3-8h0m-229 45h0m41 17h0m30-27h0m93 10h0m7 6h0"/>
<path stroke="#8e75b7" d="M1357 2507h0m-150 46h0m111-9h0m51-3h0m129 12h0m8-5h0m109 3h0m-396 18h0m68 18h0m14 4h0m26-12h0m70 5h0m4-22h0m2 30h0m7-9h0m21-5h0m4 7h0m2-19h0m36 24h0m68-30h0m0 16h0m13 1h0m67 9h0m-440 32h0m17-14h0m60 1h0m47 27h0m73-14h0m11 12h0m28-10h0m49 14h0m55-29h0m23 20h0m15-6h0m-334 42h0m39-16h0m16 10h0m16 22h0m5-26h0m54-5h0m72 2h0m0-2h0m55 7h0m45 21h0m19-1h0m30-17h0m29-14h0m-357 48h0m63 8h0m112 17h0m15-34h0m13 29h0m38-20h0m11-7h0m74 7h0m16 13h0m-271 22h0m2 1h0m45-2h0m13 7h0m14 16h0m32 12h0m27-15h0m70-7h0m28-13h0"/>
<path stroke="#db444e" d="M1251 1539h0m110 19h0m-127 36h0m12-33h0m38 8h0m32 19h0m-15 43h0m6-5h0m46 9h0m26-31h0m15 3h0m64 24h0m-217 14h0m19-1h0m24 12h0m35-8h0m54 15h0m23 9h0m17-31h0m33 4h0m-159 48h0m32-9h0m64 19h0m55-4h0m35-12h0m79 17h0m10 10h0m22-16h0m2 2h0m33 13h0m-290 15h0m12 3h0m62-10h0m5 3h0m4 29h0m0-6h0m59-25h0m9 11h0m12-5h0m90 11h0m13 12h0m39-7h0m-212 32h0m44 8h0m42-9h0m18-7h0m13 2h0m8 12h0m10-22h0m52 17h0m25 6h0m2-16h0m46 23h0m16-16h0m25 23h0m-221 36h0m16-29h0m29 9h0m13 16h0m1-9h0m2-14h0m4 23h0m8-22h0m13 29h0m16 0h0m5-28h0m27 22h0m3 3h0m65-24h0m17-8h0m-262 56h0m27 9h0m31-8h0m20-14h0m45 24h0m3-27h0m79 4h0m70 12h0m-208 51h0m3 5h0m7-6h0m7 3h0m25-17h0m22-4h0m2 26h0m7 0h0m9-18h0m8-16h0m15 37h0m16-12h0m7 9h0m3-35h0m1 32h0m8-5h0m19-7h0m5-11h0m7 10h0m16 10h0m3 3h0m23 6h0m-248 22h0m49 2h0m21-8h0m21-3h0m18 13h0m5-3h0m18 3h0m5 13h0m30-23h0m1 11h0m0-1h0m34 12h0m4-11h0m25-22h0m3 30h0m-134 36h0m22-28h0m26 24h0m13-23h0m14 19h0m56 5h0m37-9h0m-163 27h0m86 19h0m33-23h0m10 34h0m14-8h0m-1 22h0m4 5h0m-58 42h0"/>
<path stroke="#4f2890" d="M1234 2515h0m34 2h0m47-2h0m60-17h0m21-6h0m190 27h0m-403 40h0m26-3h0m12-36h0m7 0h0m13 37h0m2-36h0m13 9h0m46-9h0m15 7h0m3 9h0m41 16h0m10-6h0m0-26h0m1 19h0m2 2h0m3 6h0m10 10h0m17-11h0m7-13h0m0-13h0m0 34h0m37 3h0m69-3h0m6-6h0m8-24h0m8 33h0m10-22h0m7 13h0m12-8h0m8 3h0m48 1h0m1-1h0m5 8h0m9 3h0m-464 36h0m51 5h0m3 0h0m21-18h0m3 14h0m2-22h0m6-5h0m17 9h0m2 6h0m10-20h0m5 24h0m16-21h0m3-3h0m19 7h0m4 18h0m16-8h0m3 8h0m7-9h0m2 6h0m13 4h0m1-17h0m7 24h0m5-11h0m1-6h0m10 1h0m10 7h0m4 5h0m2-10h0m28 17h0m9-18h0m4 20h0m13-22h0m12 12h0m36-3h0m2 0h0m1-7h0m1 0h0m15-6h0m17-12h0m4 6h0m2 11h0m11 2h0m0-18h0m29 4h0m2 16h0m5-3h0m2-15h0m51 23h0m-472 46h0m10 5h0m26-20h0m33 12h0m13-14h0m4 9h0m6 15h0m26-5h0m20-13h0m13-14h0m16-6h0m6 3h0m24 17h0m1-12h0m7-6h0m23 23h0m52-7h0m10 12h0m2-31h0m3 27h0m1 2h0m4-15h0m14 1h0m0 8h0m6-11h0m10 8h0m20-9h0m10 21h0m14 1h0m5-22h0m9 5h0m2-15h0m7 23h0m9 14h0m2-14h0m22-10h0m1-12h0m-415 56h0m16 3h0m22-16h0m5 4h0m9 5h0m1 13h0m15-17h0m3-9h0m7 6h0m7 6h0m0-8h0m27 34h0m3-1h0m1-38h0m1 3h0m5 32h0m12-18h0m9 6h0m0 15h0m2-19h0m2 12h0m2-22h0m5 19h0m11-6h0m4 3h0m3 14h0m12-6h0m5-6h0m31 4h0m14-13h0m1 6h0m10-22h0m1 3h0m1 0h0m2 19h0m6-22h0m36 23h0m27 0h0m2-15h0m3-5h0m10 9h0m14 23h0m9-11h0m13-4h0m6 12h0m6-30h0m7 15h0m1 0h0m3 14h0m5 6h0m2-12h0m6-16h0m-388 40h0m9 18h0m7-17h0m16 6h0m3-2h0m19 7h0m27-16h0m9 7h0m20-8h0m5 7h0m6 23h0m28-6h0m39-7h0m0 6h0m5-11h0m4-2h0m0-10h0m7-4h0m27 12h0m1 15h0m9 9h0m12-29h0m23-1h0m20 9h0m2-12h0m2 5h0m1 29h0m26-2h0m6-19h0m10-14h0m6 7h0m8 8h0m25-12h0m-353 34h0m33 5h0m92 8h0m3-6h0m13 22h0m2-29h0m6 14h0m4-14h0m51 3h0m1 14h0m2 16h0m6-34h0m59 28h0m38-17h0m10 0h0m10-8h0m-129 38h0"/>
<path stroke="#b9cd22" d="M1170 2239h0m17-18h0m60 8h0m-8 48h0m15-34h0m9 2h0m83 29h0m11 2h0m-181 6h0m91 8h0m6 29h0m24-4h0m20-9h0m28-4h0m11 4h0m22 11h0m15-23h0m14 23h0m21-1h0m-254 26h0m23 7h0m39-8h0m13-20h0m4 17h0m1 11h0m39-18h0m1 7h0m14-3h0m2 16h0m17-16h0m8 7h0m14-22h0m11 16h0m12 16h0m1-28h0m26 31h0m16-19h0m30 19h0m8-15h0m7 15h0m9 0h0m12-6h0m22 2h0m-308 41h0m7-4h0m11-1h0m4-14h0m6-5h0m21 30h0m15-37h0m12 14h0m4 23h0m21-1h0m9-30h0m2 29h0m22-7h0m5-29h0m38 26h0m12 0h0m1-1h0m7-23h0m14 36h0m3-22h0m10 12h0m30-23h0m1 1h0m9-5h0m5 28h0m3-16h0m7 11h0m12-15h0m19 3h0m86 9h0m-398 41h0m12-8h0m26 1h0m18 3h0m7 6h0m2-10h0m24 15h0m1 6h0m2-25h0m40 12h0m8 17h0m0-11h0m20-23h0m2 33h0m7-20h0m28-6h0m3-1h0m16 26h0m4 2h0m4-25h0m3-3h0m12 15h0m14-2h0m26-8h0m4 2h0m41-14h0m0 29h0m9-15h0m6 2h0m7 14h0m58-17h0m15 12h0m58 2h0m-365 43h0m31-24h0m19 22h0m2-2h0m3-23h0m11 30h0m12-37h0m35 38h0m21-34h0m0-4h0m17 6h0m9 32h0m12-19h0m13 1h0m20 16h0m17-20h0m19 7h0m14-12h0m8 19h0m36 7h0m1-4h0m9-9h0m33 12h0m5-14h0m0-4h0m1 18h0m-398 28h0m12-17h0m53-3h0m80 18h0m4-14h0m0 9h0m3-13h0m41-3h0m1 28h0m17-25h0m9 19h0m26 11h0m6-6h0m2-20h0m4-7h0m30 6h0m42 22h0m19-15h0m8 5h0m16 0h0m1-18h0m11 9h0m4 16h0m-297 16h0m253 7h0m44 8h0"/>
<path stroke="#6fbfd4" d="M1186 1390h0m56-2h0m-40 13h0m93 90h0m-66 62h0m1 7h0m20 28h0m-36 42h0m-20 73h0m28-22h0m-176 471h0m-141 21h0m32 10h0m60 12h0m36-35h0m3 6h0m37-5h0m3 15h0m91 14h0m44-7h0m-330 40h0m20-22h0m15 25h0m41-1h0m5-15h0m17 28h0m45-19h0m22-14h0m6 9h0m3 11h0m17 4h0m4 2h0m18 1h0m7-23h0m18 18h0m-210 33h0m20 6h0m11 3h0m28-21h0m1 16h0m1-8h0m7-8h0m1 20h0m21-16h0m6 8h0m29-17h0m3 3h0m0 13h0m6 9h0m8-3h0m19-12h0m33 17h0m21-11h0m2 10h0m8-22h0m16-1h0m15 9h0m2 17h0m17-19h0m-332 56h0m44-23h0m7 28h0m17-21h0m10-2h0m42 21h0m21-17h0m7 22h0m7-8h0m4 8h0m3-32h0m27 6h0m28 24h0m15-29h0m13 2h0m6 21h0m13-16h0m0-3h0m30 19h0m2-19h0m35 17h0m-336 17h0m15 7h0m16 15h0m7-23h0m16 7h0m3 29h0m20-24h0m9-3h0m4 20h0m15-19h0m3 24h0m1-34h0m13 34h0m8-18h0m6 5h0m25 1h0m14-11h0m3 3h0m9 14h0m14 2h0m35 4h0m4-28h0m19 7h0m36 22h0m-334 40h0m0-8h0m28-20h0m37 3h0m11 7h0m10-10h0m4 25h0m1 3h0m12-37h0m18 12h0m12 22h0m26-3h0m1-5h0m5-14h0m5 14h0m2 2h0m26-9h0m19-14h0m6 26h0m5-27h0m46 23h0m12-23h0m22 18h0m17 4h0m9 8h0m20-22h0m44 25h0m2-15h0m-381 28h0m14 13h0m17 5h0m20-17h0m32 4h0m1-12h0m11 9h0m14 6h0m31 8h0m9-8h0m3-13h0m41 7h0m26 10h0m45-4h0m9 20h0m2-28h0m14 14h0m38-3h0m41-16h0m-412 41h0m45 3h0m0 11h0m2-2h0m0 20h0m21-22h0m10-12h0m11 5h0m4 21h0m19-20h0m2-4h0m53 4h0m18-2h0m14 14h0m11-22h0m6 30h0m9-8h0m6-16h0m5 22h0m7 8h0m7-14h0m27 13h0m12-4h0m1 7h0m16-31h0m8 17h0m32-19h0m3-4h0m0 33h0m25-3h0m38-27h0m16 14h0m8 12h0m-364 31h0m94 10h0m25 0h0m9-29h0m11-3h0m3 20h0m16-9h0m18 16h0m23 10h0m13-36h0m3 16h0m27 14h0m3-10h0m19-3h0m14-1h0m8 4h0m51 2h0m4 1h0m2 14h0m4-13h0m-357 16h0m102 2h0m10 4h0m35 21h0m12-20h0m12 11h0m18-4h0m31-14h0m6 13h0m16-7h0m23 9h0m46 14h0m0-12h0m2-5h0m4 19h0m0-21h0m15 10h0m15 3h0m11 15h0m-54 21h0m11-10h0m2 21h0m13-30h0m19 18h0m-4 37h0"/>
<path stroke="#b4add9" d="M1216 1472h0m-107 208h0"/>
<path stroke="#e5a9c3" d="M811 1604h0"/>
<path stroke="#7f76c4" d="M962 1428h0m5-6h0m-137 48h0m79-8h0m5-18h0m1 30h0m41-2h0m8-12h0m61-9h0m27 10h0m30 17h0m9-7h0m5 7h0m83-5h0m18-29h0m-382 63h0m29 10h0m3-36h0m5 15h0m5 5h0m2-16h0m9 31h0m4-13h0m31-22h0m23 35h0m0-12h0m2 9h0m2-4h0m37 5h0m4 1h0m2 4h0m28-9h0m1 2h0m18-24h0m0-5h0m36 5h0m17 10h0m12-13h0m17 30h0m22-2h0m8 3h0m2-22h0m14 13h0m45-1h0m-432 47h0m8-4h0m24-26h0m16 9h0m6-1h0m1-9h0m14 1h0m25-3h0m12 5h0m13-3h0m1 8h0m22 11h0m5-7h0m5 19h0m3-31h0m5 30h0m19-16h0m2-15h0m0 15h0m4 10h0m2-8h0m9 15h0m25-19h0m7-13h0m0 37h0m18-23h0m23 15h0m4 8h0m3-35h0m16 11h0m6 23h0m8-5h0m6-27h0m3-1h0m3 15h0m8-6h0m6-4h0m22 26h0m3-4h0m1-16h0m21 14h0m-427 27h0m68 10h0m1-4h0m1-17h0m7 28h0m4-18h0m4-9h0m22 12h0m12 18h0m15-20h0m14 13h0m1-20h0m14 24h0m1-27h0m27 21h0m27-10h0m0 10h0m14 6h0m5 0h0m10-30h0m11 5h0m17 20h0m7-13h0m13 3h0m1 15h0m35-11h0m38 3h0m11-24h0m11 35h0m7-26h0m1 11h0m3 9h0m14 3h0m4-5h0m16-24h0m2 32h0m8-8h0m-428 48h0m4-9h0m2 0h0m11-21h0m5 19h0m6-6h0m1 12h0m15-11h0m23 18h0m45-31h0m11 3h0m16-7h0m4 9h0m24 27h0m44-1h0m22-25h0m31 4h0m16-11h0m5 20h0m6-9h0m7-1h0m14-14h0m53 35h0m11-37h0m18 3h0m13 12h0m40-4h0m6 21h0m-447 31h0m5 5h0m38-15h0m11-8h0m7 7h0m18 13h0m7-16h0m29-1h0m72 20h0m24-23h0m6 31h0m32-36h0m3 31h0m2-8h0m31 0h0m11 7h0m2 8h0m2-30h0m1 5h0m18-8h0m8 20h0m0-16h0m1 21h0m21-17h0m8 7h0m7-16h0m1 31h0m38 1h0m27 3h0m0-14h0m11-7h0m28-15h0m-489 73h0m9-26h0m1 16h0m4 6h0m10-4h0m4-3h0m2-13h0m2-11h0m14 6h0m4-3h0m22 23h0m1-17h0m36-5h0m7 30h0m7-17h0m8 8h0m21 3h0m13-8h0m1 15h0m17-6h0m44-10h0m10 6h0m1-24h0m32 28h0m43-3h0m7 4h0m2-13h0m12 12h0m21 0h0m25-7h0m10 8h0m32-7h0m9-22h0m5 4h0m26 31h0m-440 34h0m25-26h0m17 9h0m24 8h0m8 4h0m45-25h0m24 24h0m6-2h0m1-4h0m3 4h0m20 5h0m6-3h0m5 11h0m1-31h0m9 30h0m5 0h0m27-9h0m10-8h0m7-15h0m14 14h0m30 19h0m4-10h0m15-7h0m33-14h0m9 28h0m14-29h0m1 22h0m10 8h0m2 2h0m6-25h0m25-1h0m-413 31h0m18 13h0m3 18h0m0-17h0m1 7h0m2-2h0m16 3h0m12 11h0m10-1h0m0-13h0m6 4h0m11 9h0m7 0h0m7-32h0m13 19h0m11-20h0m7 0h0m2 39h0m27-7h0m6 5h0m17-10h0m33-23h0m4 31h0m0-18h0m7-17h0m12 21h0m13-10h0m3 18h0m13-5h0m41 14h0m8-6h0m22-17h0m10 11h0m1-22h0m15 31h0m14-24h0m8-4h0m1-7h0m0 39h0m7-31h0m6 2h0m2 22h0m7-31h0m8 10h0m-441 57h0m24 2h0m5-23h0m33-5h0m1 1h0m1 3h0m11-1h0m1 29h0m3-28h0m2 33h0m11-18h0m13-8h0m2 7h0m15 0h0m3-20h0m10 13h0m20-4h0m4-7h0m34 30h0m20 6h0m13-19h0m17 5h0m2 4h0m2-19h0m12-7h0m14 36h0m7-10h0m4 11h0m1-6h0m11-10h0m2-14h0m24 18h0m5-27h0m0 15h0m13 12h0m28-26h0m1 23h0m16 9h0m12-22h0m6-3h0m4 16h0m17 10h0m13-13h0m-419 49h0m31-3h0m0 9h0m29 2h0m10-28h0m7 20h0m21-14h0m52 14h0m2 0h0m4 5h0m17-23h0m6 20h0m10 5h0m3-23h0m10 4h0m71-12h0m8-4h0m10 17h0m5-14h0m11 10h0m7 10h0m9-17h0m4-5h0m23 10h0m1-4h0m8-6h0m16 14h0m-329 42h0m18-17h0m34-2h0m57 22h0m72-22h0m31 0h0"/>
<path stroke="#0f9676" d="M1492 1025h0m41 14h0m-110 14h0m33 17h0m14 1h0m39-15h0m1 3h0m4 4h0m2-12h0m9 13h0m5 7h0m7 6h0m33-14h0m20 9h0m12 7h0m4-29h0m51 22h0m4 2h0m5-14h0m-308 36h0m38-12h0m1 0h0m3 4h0m37 15h0m1 15h0m6-30h0m0 10h0m15-6h0m5-3h0m5 6h0m3 13h0m17-28h0m40 1h0m25 20h0m5-10h0m6 28h0m7-24h0m1 12h0m8 1h0m5 1h0m8-14h0m1 22h0m17-19h0m10-4h0m17-14h0m22 23h0m4 9h0m7-11h0m27-17h0m22 35h0m-382 22h0m1 4h0m32-10h0m9 11h0m4-1h0m6-14h0m4-11h0m3 11h0m22 16h0m4-11h0m1 20h0m0 2h0m19-24h0m20 22h0m7-5h0m25-18h0m19 13h0m1-13h0m2-13h0m2 4h0m13 10h0m7-9h0m32 21h0m3-26h0m7 21h0m7 6h0m2 10h0m6-7h0m23-10h0m5 10h0m2-18h0m3 16h0m15 9h0m8-18h0m7 3h0m14 1h0m1-19h0m2 22h0m55-13h0m1 20h0m-452 22h0m1 16h0m9-23h0m42 17h0m6 10h0m23-5h0m10-11h0m31-7h0m62 14h0m1-20h0m0 26h0m30-20h0m11-10h0m4 18h0m1 12h0m9-18h0m39 16h0m33-30h0m5 7h0m25 17h0m9-15h0m3 10h0m7-15h0m10 29h0m2-21h0m16 4h0m0-8h0m2 4h0m24-1h0m0 26h0m3-7h0m-442 24h0m3-3h0m6-5h0m38 16h0m3-16h0m6-1h0m5 25h0m7-6h0m4 5h0m15-1h0m2-7h0m1-18h0m26 13h0m0 19h0m3-3h0m2-25h0m17 13h0m7-10h0m27 9h0m2-14h0m18 0h0m14 34h0m16-26h0m11 5h0m5-14h0m4 29h0m0-24h0m0 30h0m10-1h0m7-35h0m25 16h0m14 16h0m6 2h0m1-33h0m24 31h0m25-10h0m10-7h0m3-16h0m21 13h0m0-10h0m5-2h0m11 3h0m7 5h0m0-2h0m13 18h0m11 10h0m-454 12h0m39 28h0m88-3h0m14-31h0m10 10h0m15 6h0m37-11h0m1 17h0m8-8h0m2-3h0m25-4h0m5 12h0m4-11h0m9-11h0m41 0h0m28 36h0m9-3h0m4-21h0m11 0h0m5 17h0m9-2h0m15-16h0m3-9h0m4 20h0m22-2h0m71-16h0m-510 63h0m5-13h0m23 16h0m13-5h0m2-2h0m4-21h0m3 7h0m27 3h0m32-6h0m30-1h0m67 24h0m2 6h0m10-33h0m17-1h0m9 36h0m12-25h0m1 0h0m1-9h0m9 30h0m13 4h0m7-12h0m7 13h0m20-16h0m2 1h0m13 0h0m3 15h0m12-35h0m7 5h0m2 5h0m11 1h0m41-11h0m42 13h0m21-9h0m4 4h0m8 10h0m3-12h0m13 17h0m-565 47h0m100-7h0m49 10h0m45-5h0m41-17h0m2 24h0m25-32h0m7-6h0m12 29h0m36-14h0m1 13h0m2-6h0m2-20h0m11 16h0m42-11h0m7 2h0m27-1h0m27-2h0m17 18h0m22-13h0m28-5h0m32 1h0m24-5h0m-426 53h0m6-10h0m55 9h0m8 12h0m8-26h0m28 1h0m12 37h0m4-20h0m30-8h0m2 16h0m14-19h0m12 3h0m2 12h0m14-1h0m2 6h0m10-10h0m17 21h0m6-19h0m99 16h0m9-6h0m2-26h0m24 24h0m16 8h0m17-33h0m10 2h0m-535 51h0m153-13h0m110 18h0m25 11h0m39-16h0m14 9h0m41-14h0m20 5h0m26-2h0m22 9h0m9 7h0m18-14h0m32-12h0m23-3h0m-420 51h0m236-8h0m11-3h0m10 14h0m11 5h0m1-18h0"/>
<path stroke="#968ece" d="M1126 1425h0m14-22h0m-202 59h0m5-15h0m31 21h0m1-12h0m111 2h0m14-4h0m-252 45h0m12-5h0m52 10h0m26 5h0m3-11h0m12-2h0m15-3h0m6 11h0m3-11h0m13 15h0m71 0h0m18-7h0m43-2h0m39-6h0m-366 58h0m20-1h0m138 0h0m36-28h0m22 3h0m1 29h0m5-27h0m0 20h0m32-8h0m4 13h0m10-19h0m7 25h0m5-6h0m22-16h0m2 20h0m5-29h0m44 3h0m10 18h0m6-13h0m-419 47h0m7-14h0m6 28h0m15-22h0m20 21h0m10-10h0m24 11h0m1-15h0m19-9h0m31 17h0m0-3h0m19 1h0m5-21h0m1 10h0m19-5h0m29-2h0m5 25h0m5-21h0m13-11h0m59 18h0m42 16h0m17-11h0m27-15h0m27 17h0m22-3h0m-412 30h0m10 20h0m8-17h0m61 9h0m12-1h0m30-3h0m17-20h0m16 24h0m8-12h0m110 1h0m1 13h0m39-26h0m5 23h0m9-9h0m5-12h0m5 6h0m4 16h0m24-11h0m23-14h0m-374 51h0m3 4h0m2 13h0m8-15h0m1 6h0m24-16h0m33 18h0m4-5h0m35 15h0m9-16h0m30 5h0m61-9h0m22 5h0m1 10h0m19-26h0m20 21h0m38-13h0m5 25h0m56-32h0m7 18h0m-372 57h0m18-22h0m14-10h0m50 29h0m92-29h0m4 24h0m6-14h0m35-8h0m41-7h0m7 18h0m15-14h0m5 28h0m83-28h0m1 19h0m4-20h0m12 22h0m55 7h0m-375 45h0m27-7h0m8-16h0m25 13h0m11 4h0m21-5h0m4-21h0m11 33h0m22-4h0m4-3h0m23-11h0m55-2h0m10-6h0m24 7h0m6-2h0m2-8h0m24 29h0m43-34h0m-455 75h0m60-11h0m34-16h0m54 2h0m10 22h0m3-30h0m20 26h0m6-20h0m10 24h0m4-14h0m4 1h0m24-6h0m147-14h0m35 26h0m-388 26h0m130-4h0m3 24h0m19-14h0m6 2h0m3-21h0m52 30h0m37-6h0m9-18h0m5 21h0m32-24h0m17 28h0m12-9h0m13-16h0m21 11h0m29 7h0m11 5h0m11-22h0m1 20h0m21-28h0m-384 65h0m57-13h0m6 13h0m7 0h0m15-16h0m44 22h0m63-18h0m35 22h0m40 0h0m7-22h0m18-6h0m38 22h0m-256 25h0m40-12h0m58 18h0m-58 21h0"/>
<path stroke="#bec4d1" d="M1110 1388h0m65-17h0m4 63h0m132 115h0m-110 318h0"/>
<path stroke="#1f4f9c" d="M1129 1746h0m29-7h0m89-2h0m31 13h0m-47 22h0m4 19h0m15-22h0m4 29h0m5-3h0m12-1h0m14-24h0m10 2h0m7 23h0m27-33h0m32 33h0m31 4h0m-295 31h0m87 0h0m49-18h0m9 25h0m6-27h0m10-8h0m21 16h0m4 18h0m22-20h0m14 16h0m38-16h0m2 21h0m17-10h0m13-3h0m1-11h0m3 20h0m5-6h0m11 12h0m-314 18h0m54-11h0m8 31h0m10-35h0m8 26h0m15 2h0m14-21h0m19 17h0m9-7h0m66-11h0m10 4h0m69 12h0m1-6h0m27-5h0m20 5h0m-298 39h0m53 19h0m5-20h0m4-6h0m27 11h0m36-18h0m10 4h0m5 24h0m27-5h0m7-25h0m2 25h0m0 9h0m16 3h0m28-30h0m3 7h0m3 22h0m7-11h0m1 5h0m0-4h0m24-5h0m12-15h0m3-5h0m27 25h0m38 2h0m-325 30h0m23 12h0m26-25h0m22 5h0m11-10h0m9 23h0m3-16h0m1 4h0m28-7h0m5 26h0m16-22h0m9 23h0m4-6h0m24 8h0m5 5h0m11-6h0m14-20h0m12 19h0m6-9h0m4-14h0m5-7h0m23 3h0m5 0h0m1 11h0m44 2h0m9 15h0m1-14h0m9 20h0m3-19h0m-263 21h0m5 32h0m28-19h0m14 12h0m2 7h0m9-32h0m1 15h0m1-10h0m3-1h0m0 14h0m0 12h0m21-7h0m0-19h0m2 13h0m7-1h0m12-15h0m30 31h0m3 4h0m3-35h0m7 7h0m46 5h0m12 7h0m1 3h0m1-12h0m3-7h0m13 29h0m27-11h0m17 0h0m1 6h0m-231 41h0m31-1h0m5-8h0m9-18h0m69 7h0m14-8h0m2 4h0m27 17h0m1 3h0m2 8h0m13 3h0m11-27h0m58 13h0m1 15h0m21-38h0m0 16h0m6 21h0m7 2h0m37-12h0m-351 13h0m11 24h0m0-10h0m32 12h0m16-6h0m13 12h0m20-5h0m59-16h0m7-8h0m5 19h0m5-4h0m26 18h0m10-22h0m17 5h0m13 2h0m15-19h0m5 24h0m1-21h0m4 12h0m16 11h0m27 6h0m14-33h0m56 5h0m-326 50h0m29-1h0m22 4h0m17 6h0m12 9h0m49-20h0m57 17h0m8-2h0m11-14h0m14-5h0m25-1h0m20 19h0m47-14h0m4-9h0m16 18h0"/>
<path stroke="#8a80c4" d="M1225 1357h0m-93 47h0m117 148h0m30 29h0m-40 55h0m-139 52h0m12 6h0m23 21h0m20-8h0m-49 22h0m15 6h0m-65 56h0m49-2h0m16-1h0m3-15h0m-18 42h0m51 5h0m44 4h0m29 8h0m-111 86h0m54-24h0m-62 39h0m12-9h0m15 16h0"/>
<path stroke="#9f93cb" d="M703 1474h0m-48 32h0m49 9h0m-1 22h0m68 29h0m36 27h0m-47 24h0m-54 38h0m74 7h0m14-13h0m-20 58h0m0 12h0m-3 7h0m-92 63h0m49-17h0m17-6h0m1-1h0m11 9h0m49 16h0m9-9h0m-71 27h0"/>
<path stroke="#65bba7" d="M1523 1035h0m98 2h0m-153 27h0m154-22h0m10 22h0m17-22h0m16 4h0m4 17h0m-140 34h0m63 11h0m42-7h0m18-13h0m8 22h0m15-8h0m-276 22h0m30 17h0m81-1h0m29-20h0m22 1h0m47 6h0m51 25h0m-333 10h0m19 34h0m68-32h0m2 31h0m28 4h0m13-39h0m72 18h0m36-14h0m25 14h0m136 2h0m-421 36h0m14-9h0m149 0h0m50 13h0m45 11h0m-229 29h0m8-11h0m153-1h0m24-1h0m58-2h0m17 29h0m84-7h0m-402 13h0m123 36h0m114-17h0m107 15h0m1-5h0m-335 30h0m70 0h0m21-14h0m29 2h0m1 32h0m35-34h0m31 2h0m42 17h0m91 2h0m9-23h0m17 4h0m-459 34h0m435 32h0m-191 7h0m84 24h0m14 5h0m64-21h0m-37 46h0"/>
<path stroke="#f29a41" d="M1132 1874h0m-440 36h0m116 4h0m39-7h0m5 2h0m19-11h0m56 7h0m24 14h0m3-20h0m4-5h0m38 17h0m5-14h0m6 8h0m14-10h0m4 13h0m1 4h0m30 3h0m66-14h0m22 18h0m16-22h0m-495 52h0m32-13h0m1 7h0m5-3h0m1-3h0m4-14h0m60 36h0m2-17h0m2 9h0m9 4h0m39-25h0m70 2h0m5 5h0m29 1h0m19 10h0m12 0h0m24-17h0m5 0h0m5-1h0m2 2h0m11 23h0m22-21h0m18 11h0m9 1h0m10 0h0m47-15h0m13-7h0m3 14h0m13-18h0m3 9h0m9 22h0m2-21h0m-599 41h0m17 10h0m4 18h0m20-29h0m5 19h0m59-14h0m13-11h0m16 2h0m1 15h0m8 10h0m45-20h0m7 17h0m25 7h0m11-15h0m42-13h0m6 17h0m3 1h0m37 9h0m7 4h0m12-18h0m25 10h0m18 2h0m33-6h0m60-7h0m15-17h0m7 22h0m35 12h0m4-21h0m38-6h0m25-5h0m10 25h0m-579 42h0m8 2h0m11 6h0m6-12h0m23 11h0m13-16h0m2-17h0m32 9h0m8 22h0m5-19h0m6 8h0m59-9h0m6 0h0m22 8h0m13-6h0m9-9h0m3 7h0m0-1h0m17-10h0m7 1h0m2 5h0m38-2h0m7 30h0m2-11h0m6-2h0m4 11h0m37-20h0m22-5h0m36-5h0m17 14h0m6-13h0m0-8h0m24 37h0m11-22h0m31-12h0m40 14h0m14-8h0m4-5h0m10-3h0m-582 42h0m25 9h0m18 2h0m4-11h0m27 21h0m3-24h0m6 26h0m6-2h0m4 3h0m14-14h0m0-7h0m12 22h0m10 1h0m28-3h0m49-17h0m27 17h0m27-5h0m16-21h0m6 0h0m49 32h0m31-28h0m21 33h0m7-7h0m1-2h0m16 3h0m22 3h0m1-22h0m5-12h0m2 28h0m42-17h0m19 7h0m5-14h0m1-1h0m-503 71h0m6-30h0m81 26h0m9-27h0m71-3h0m16 29h0m3-25h0m16 32h0m2-19h0m4-12h0m0 32h0m1-37h0m19 7h0m57 7h0m18-5h0m0 11h0m38 7h0m4-18h0m6-2h0m46 16h0m11 1h0m44-23h0m34 4h0m22-1h0m36 5h0m25-4h0m-521 59h0m8 1h0m7-21h0m3-3h0m5 13h0m36 16h0m16 4h0m28-17h0m39 4h0m25 2h0m77-7h0m7 15h0m7-20h0m4-7h0m53 15h0m8-2h0m52 6h0m-170 26h0"/>
<path stroke="#d77aa2" d="M766 1499h0m8-6h0m-55 50h0m44 6h0m20-21h0m25-5h0m19-1h0m-163 40h0m112 19h0m44-21h0m-99 59h0m69 0h0m12 10h0m-92 26h0m15 17h0m3 3h0m-89 7h0m174 12h0m6 32h0m-52 39h0m6 21h0m46-22h0m-124 63h0m35-25h0"/>
<path stroke="#1f9a45" d="M1629 2108h0m2 2h0m16 9h0m21-3h0m8-6h0m-285 24h0m42-8h0m48 1h0m8 23h0m19-21h0m5 20h0m31 10h0m6-19h0m17-5h0m0-4h0m12 22h0m1-14h0m10-1h0m0-15h0m49 30h0m40-3h0m28-11h0m18 20h0m15-35h0m-380 45h0m24 23h0m25-17h0m9 17h0m13-21h0m10 26h0m20-22h0m0 16h0m12-23h0m17-7h0m1 14h0m9 4h0m4-18h0m4 11h0m3 19h0m15-13h0m11 18h0m23-28h0m9 11h0m8 17h0m0-23h0m7 26h0m11-16h0m8-23h0m9 16h0m8-7h0m19-8h0m17 29h0m9-19h0m0 10h0m1 14h0m21-33h0m2 18h0m3-5h0m9 10h0m10-13h0m16 3h0m-329 50h0m91 5h0m44 5h0m6-27h0m38 30h0m2-6h0m18-29h0m7 12h0m17 19h0m17-23h0m8 1h0m10-7h0m6 18h0m6-15h0m20 9h0m0 0h0m37-1h0m-329 59h0m11-32h0m49 26h0m7-27h0m15 2h0m20 17h0m77 7h0m51-3h0m1 10h0m3-6h0m6 0h0m50 3h0m2-18h0m28-12h0m4 5h0m11 19h0m15 0h0m-170 14h0m8 17h0m3 5h0m9 14h0m10-31h0m13 3h0m3-1h0m16 17h0m46 9h0m16-31h0m13 13h0m16 22h0m2-11h0m3-21h0m-156 54h0m22 14h0m17-25h0m14-6h0m19 6h0m4 31h0m30-39h0m25 7h0m1 12h0m32-5h0m-77 83h0"/>
<path stroke="#c0c4d0" d="M1156 1439h0m17-22h0m-40 68h0m116 31h0m-47 61h0m1 58h0m39 157h0m-26 63h0"/>
<path stroke="#47ac66" d="M1565 2117h0m120-9h0m-373 32h0m13-19h0m56 15h0m1 2h0m60 8h0m39 3h0m35-26h0m20-2h0m112 14h0m5-9h0m6 14h0m15 12h0m16 6h0m-347 30h0m1 1h0m42-1h0m13-15h0m1 17h0m46 3h0m0-13h0m26 19h0m23-24h0m41 1h0m17-1h0m1 22h0m15-35h0m9 33h0m28-15h0m69-19h0m3 0h0m27 32h0m0-30h0m36-1h0m-412 69h0m108 4h0m33-22h0m72 14h0m47-10h0m1-17h0m17 2h0m18 35h0m13-36h0m23 19h0m20 5h0m10-21h0m46 29h0m4-32h0m6 35h0m-368 8h0m100 22h0m75-9h0m30 6h0m28 7h0m0-21h0m11-8h0m15 14h0m15 8h0m3-10h0m1 10h0m8-12h0m7 12h0m0 14h0m79-8h0m-256 35h0m110-13h0m13 22h0m100-25h0m-36 55h0m24-12h0"/>
<path stroke="#1f9a45" d="M1296 2116h0m206-18h0m158 18h0m56-16h0m-414 57h0m51-6h0m101-1h0m28-14h0m26-4h0m3-1h0m75 4h0m5 15h0m10-4h0m52 5h0m6 0h0m11-10h0m3-2h0m5 15h0m1-5h0m4-17h0m5-7h0m0 6h0m1 19h0m8-14h0m4 5h0m20-20h0m7 20h0m-436 32h0m12-11h0m6 12h0m37-10h0m34 21h0m94-25h0m23 9h0m1 2h0m19 25h0m8-35h0m11 28h0m7 0h0m0-15h0m3 3h0m23-15h0m2 5h0m16-5h0m4 2h0m2 32h0m8-11h0m3-12h0m7 17h0m4 9h0m12-30h0m7 7h0m64 1h0m30 19h0m-398 30h0m1 7h0m13-17h0m25-9h0m14-3h0m91 19h0m33-18h0m4 18h0m28-1h0m13-10h0m42 20h0m13-29h0m1-1h0m12 33h0m1-5h0m5-2h0m2 3h0m4-19h0m6 2h0m4-8h0m1 30h0m18-8h0m11-11h0m2-17h0m20 38h0m19-20h0m20 2h0m5-11h0m-361 32h0m106 1h0m11 17h0m25 15h0m13-25h0m35-5h0m1-2h0m38 30h0m0-8h0m6 4h0m17-11h0m14-15h0m26 32h0m49 0h0m16-11h0m14-23h0m-230 43h0m118 3h0m4 33h0m15-8h0m3 3h0m7-32h0m0 9h0m5 21h0m18-4h0m6 4h0m9-32h0m0 10h0m19 4h0m8-4h0m-40 105h0m5-12h0"/>
<path stroke="#db444e" d="M1195 1592h0m66-5h0m52 6h0m84-25h0m-194 46h0m41-5h0m4 27h0m11-36h0m21 9h0m48 21h0m58-2h0m11-12h0m7-1h0m1 10h0m16 10h0m-160 25h0m5 14h0m4-24h0m37 14h0m9 0h0m28 3h0m21-22h0m30 29h0m29-18h0m3 8h0m18 7h0m14-17h0m1-5h0m49 21h0m5-21h0m-192 34h0m1 24h0m33 1h0m52 5h0m60-33h0m80 27h0m60-4h0m-234 32h0m50 17h0m23-20h0m46 8h0m0 6h0m5 6h0m55-5h0m5-9h0m6 15h0m10-26h0m34-7h0m10 30h0m3-27h0m10 10h0m-231 44h0m30-5h0m20-11h0m25 10h0m36 20h0m16-15h0m7-12h0m8 35h0m17-35h0m44 23h0m27 0h0m-190 25h0m47 6h0m16-4h0m5 13h0m13-3h0m2-16h0m11-5h0m3 10h0m45-10h0m22-3h0m48 19h0m13-10h0m42 23h0m0-7h0m5 5h0m15 4h0m5-33h0m16 23h0m-274 35h0m1 1h0m5-11h0m16 28h0m6-25h0m12 12h0m5 6h0m1-25h0m23 1h0m6 28h0m9-31h0m5 34h0m28-13h0m16 2h0m100-2h0m9-21h0m17-3h0m18 0h0m-231 68h0m119-13h0m8 17h0m10-22h0m24 13h0m27-1h0m2-10h0m11 1h0m11 10h0m6 12h0m-228 19h0m3-4h0m35-5h0m4-2h0m15 13h0m12 15h0m10 0h0m2-18h0m15 9h0m10 16h0m1 1h0m5-3h0m45-33h0m14 30h0m24-22h0m21 17h0m-150 30h0m29-10h0m31 4h0m24 23h0m17-22h0m4-7h0m10 30h0m64-14h0m-107 47h0m40-15h0m40-3h0m-77 53h0m32 10h0m7 2h0m4-6h0m-76 16h0m109 27h0"/>
<path stroke="#d6d9e0" d="M1146 1720h0"/>
<path stroke="#e5a9c3" d="M833 1555h0m-146 80h0m100-6h0m-91 160h0m78-16h0"/>
<path stroke="#d2df71" d="M1228 2197h0m-28 79h0m27-28h0m128 31h0m-110 14h0m12 18h0m13-28h0m22 32h0m24-31h0m10 26h0m22-26h0m-140 50h0m58-7h0m3-1h0m29 24h0m77-2h0m18-23h0m-192 51h0m17 21h0m157-3h0m21 3h0m54-22h0m49-5h0m4-3h0m111 17h0m-418 31h0m7-14h0m20 1h0m64 27h0m102-3h0m20-2h0m12 8h0m87-12h0m76 16h0m-371 43h0m99-17h0m94-2h0m165 2h0m-134 25h0m124 5h0m59 22h0m-185 12h0m39 3h0m82-6h0m13 7h0m5-6h0"/>
<path stroke="#b0b8c8" d="M1263 1628h0"/>
<path stroke="#a06088" d="M702 1487h0m68 24h0m-66 42h0m19-27h0m80 18h0m34 7h0m-160 23h0m53 49h0m17 11h0m29-24h0m-18 54h0m-59 51h0m106-7h0m4-22h0m-76 44h0m50 8h0m7 12h0m3 6h0m26-26h0m-62 68h0m5-9h0m13 0h0m3-29h0m3 65h0m-57 38h0"/>
<path stroke="#f29a41" d="M1082 1879h0m-439 15h0m6 18h0m6-1h0m88-6h0m6 11h0m51 2h0m82-9h0m3-9h0m42 13h0m63-19h0m29-4h0m16 1h0m41 16h0m22 5h0m3-26h0m1 1h0m10 4h0m1-4h0m36 7h0m-600 43h0m23 9h0m56-2h0m88 8h0m18-16h0m7 13h0m20 2h0m29-5h0m9 11h0m6-26h0m13 5h0m0 0h0m15-1h0m23 18h0m10-14h0m2 5h0m7 15h0m13-26h0m21-4h0m19 15h0m14 12h0m13-20h0m21-10h0m3 17h0m16-5h0m4-5h0m22 9h0m12 8h0m1-22h0m24 21h0m7 10h0m40-23h0m-599 55h0m22-20h0m2 22h0m32-5h0m28-3h0m15-4h0m1 7h0m21-24h0m21 32h0m18-11h0m28-23h0m21 4h0m17 21h0m14-26h0m15 30h0m25-21h0m1-1h0m29 18h0m8-21h0m2 7h0m1 16h0m24-8h0m6-2h0m21-5h0m25 3h0m10-6h0m54-11h0m7 8h0m10-1h0m10 26h0m20-10h0m95-9h0m4-1h0m41-10h0m-640 59h0m8-19h0m10 5h0m5-2h0m24 27h0m18-25h0m2 17h0m4-13h0m25 14h0m7 12h0m22-25h0m1-12h0m6 3h0m22 24h0m76-20h0m1 9h0m20 19h0m11 3h0m30 0h0m70-9h0m5-13h0m12 14h0m29-10h0m2-19h0m10-2h0m31 5h0m9 18h0m2-6h0m18-5h0m2 21h0m14-9h0m3-19h0m10 18h0m19 9h0m43-6h0m3-20h0m35 0h0m8 7h0m2 14h0m7-15h0m-588 38h0m66-6h0m2-4h0m1 31h0m69-18h0m37 7h0m22-12h0m40 10h0m81-18h0m6 0h0m2 12h0m21 13h0m6-18h0m13-7h0m49 13h0m29 0h0m14 9h0m18-13h0m6 6h0m30 21h0m3-24h0m5 4h0m11 20h0m10-24h0m1-8h0m18 11h0m-496 63h0m8-13h0m13-15h0m4 8h0m10 12h0m39 7h0m23 2h0m23-6h0m15-6h0m0-13h0m2 2h0m9 14h0m6-25h0m20-2h0m34 18h0m1 6h0m8-16h0m19 6h0m33 7h0m105-23h0m2 17h0m27-6h0m44 10h0m5-21h0m7 10h0m-447 52h0m39 1h0m2 5h0m1-17h0m21 13h0m16-24h0m35 30h0m13 3h0m3-2h0m1-1h0m20-12h0m15-15h0m57 6h0m47-3h0m-232 45h0m64-1h0m61 24h0m14-32h0m31 3h0"/>
<path stroke="#7f76c4" d="M1059 1429h0m-234 49h0m41-8h0m50-1h0m3-25h0m8-2h0m18 27h0m21 10h0m1-26h0m29-5h0m12 21h0m6 2h0m10 1h0m3-22h0m17 20h0m13-12h0m-264 41h0m32-13h0m1 13h0m6 4h0m7 3h0m7-17h0m34 2h0m3 14h0m6 1h0m11 8h0m7-28h0m24 7h0m2-5h0m2 17h0m40-15h0m11 4h0m9 3h0m5 15h0m18 6h0m6-23h0m15 5h0m7 4h0m13 11h0m0-2h0m1-2h0m16-23h0m10 1h0m4 1h0m18-4h0m21 26h0m16 2h0m4-19h0m10 16h0m5-15h0m44 1h0m-488 55h0m41-14h0m1 19h0m2-2h0m5-31h0m19 24h0m5-26h0m3 28h0m5 3h0m13-29h0m6 20h0m18-11h0m20-11h0m0 2h0m3 21h0m17-22h0m14 28h0m4-29h0m3 6h0m64-4h0m4 20h0m22 9h0m51-5h0m1-19h0m10-6h0m21 19h0m35 5h0m10-15h0m7 2h0m21 20h0m-396 18h0m10 0h0m6 27h0m8-9h0m4-3h0m1 1h0m2 0h0m1-22h0m12 22h0m5-9h0m0 20h0m3 0h0m13-9h0m8 4h0m26-24h0m7 2h0m3 23h0m3-15h0m16-4h0m9 4h0m6-6h0m0-10h0m5 35h0m0-29h0m2 21h0m19 7h0m22-14h0m10 6h0m1 1h0m9-28h0m0 30h0m13 2h0m4-6h0m3-22h0m14 22h0m2-24h0m14 2h0m23-1h0m18 20h0m4 8h0m12-1h0m3-28h0m7 19h0m2 0h0m11 11h0m5-20h0m4-6h0m8 23h0m8-3h0m11 0h0m16-24h0m5 29h0m0-17h0m8-16h0m11 17h0m10 15h0m3-12h0m-454 37h0m1 13h0m8-16h0m38-4h0m16 28h0m4-6h0m9-31h0m7 29h0m39 8h0m0-9h0m59-29h0m25 3h0m1 10h0m2 15h0m2-16h0m17-4h0m12 14h0m0 5h0m8-11h0m22-12h0m2 4h0m7 20h0m16-5h0m45 2h0m24-20h0m3 17h0m7-1h0m4-22h0m7 37h0m35-33h0m3 22h0m4 13h0m21-13h0m-466 43h0m33 3h0m10-19h0m2 26h0m3-14h0m1-24h0m54 34h0m19-12h0m8 1h0m38 7h0m2 0h0m17-29h0m2 3h0m13 28h0m2 0h0m38-29h0m3 23h0m1-13h0m8-8h0m9 21h0m9 10h0m9-15h0m8 2h0m5-12h0m19 12h0m36-17h0m2 12h0m6-8h0m1 7h0m5 6h0m11 11h0m3-25h0m37 26h0m1-18h0m15 9h0m4-18h0m36-1h0m-484 65h0m27-27h0m51 17h0m26 4h0m17-4h0m3 12h0m23-23h0m4-6h0m45 19h0m0-21h0m15 0h0m2 5h0m1 26h0m3-5h0m5 0h0m7 9h0m18-32h0m9 5h0m6 25h0m2-36h0m9 17h0m1 21h0m3-29h0m1 29h0m0-14h0m12-7h0m6 19h0m17-23h0m17 3h0m4-13h0m3 25h0m10-3h0m15 13h0m11-33h0m8 31h0m14-2h0m6-34h0m25 37h0m27-7h0m1-17h0m8 15h0m-434 26h0m14 16h0m0-1h0m13 0h0m7-23h0m1 11h0m15-3h0m11-9h0m5 16h0m20-6h0m11 22h0m1-16h0m16 8h0m26-9h0m3-16h0m27 24h0m3 9h0m1-11h0m13 3h0m43-4h0m1-24h0m5 5h0m17 14h0m6 8h0m44-3h0m13 8h0m28 2h0m13-23h0m4 12h0m5 13h0m7-24h0m15 19h0m49 6h0m5-33h0m0 27h0m2-24h0m-450 48h0m7 2h0m7 9h0m8-6h0m3 7h0m3-22h0m11 13h0m4 17h0m1-25h0m16 19h0m2-26h0m4 12h0m22 5h0m2-7h0m6-12h0m3 3h0m2-4h0m0 31h0m2-2h0m2-31h0m6 29h0m22-10h0m16 10h0m3-17h0m4 23h0m25-22h0m3-4h0m39 18h0m19-6h0m4-12h0m32 30h0m11-6h0m5-24h0m4-2h0m8 1h0m5 2h0m12 25h0m2-1h0m6-12h0m0-4h0m2 13h0m8-22h0m3 0h0m43 11h0m19 9h0m-401 28h0m7 13h0m9-28h0m3 4h0m2 6h0m25-4h0m11 12h0m5 16h0m9-32h0m13 21h0m1 7h0m5-22h0m1-5h0m1-4h0m9 17h0m25 1h0m6-12h0m16 5h0m18-1h0m6 27h0m43-21h0m7-17h0m1 28h0m7-8h0m0-17h0m8 19h0m18-12h0m18-6h0m16-1h0m8 18h0m15-1h0m23 12h0m24-22h0m4 10h0m8-10h0m-356 45h0m69 4h0m19-8h0m14-5h0m38 18h0m13-23h0m14 23h0m15 7h0m0-28h0m2 7h0m12 18h0m13-10h0m10 6h0m2-2h0m14 13h0m39-8h0m7-19h0m9-6h0m13 11h0m3 6h0m1-10h0m4 22h0m1-29h0m1 34h0m1-16h0m62-9h0m-322 35h0m23-3h0m4 33h0m6-32h0m42 6h0m72 0h0m5 7h0"/>
<path stroke="#8f3848" d="M810 1346h0m33-2h0m11-1h0m37 8h0m24-11h0m11-7h0m48 6h0m20 1h0m20 6h0m18-15h0m-277 41h0m22 26h0m18-14h0m19 9h0m3-33h0m47 39h0m19-16h0m9 6h0m18-5h0m8 12h0m21 1h0m14-26h0m3 21h0m26 0h0m1-16h0m1-15h0m1-1h0m13 35h0m7 2h0m15-37h0m10 36h0m10-26h0m5 22h0m2-23h0m15 26h0m10-16h0m16-13h0m22 7h0m-410 59h0m14-29h0m11 26h0m6-3h0m19-12h0m3-5h0m37 20h0m5 2h0m4 3h0m0-10h0m10-7h0m8-9h0m4 25h0m20-16h0m4 16h0m25-3h0m2-30h0m4 35h0m5-11h0m24 8h0m5-15h0m67-17h0m2 21h0m32 7h0m1-5h0m18 5h0m4-18h0m95-1h0m-452 42h0m25 13h0m2-24h0m42 23h0m7 7h0m8-7h0m0-11h0m28-3h0m13 23h0m26-5h0m1-4h0m82 10h0m6-20h0m12-11h0m42 10h0m9 16h0m7-28h0m15 4h0m26 3h0m12-3h0m-335 71h0m35-13h0m10 5h0m2 8h0m17-16h0m7 1h0m103-14h0m33-3h0m-244 75h0m176-4h0m2-11h0m-69 61h0m2 6h0m22-1h0m35 25h0m-110 8h0m35 19h0m2-15h0m25 18h0m7-6h0m-94 48h0m42-22h0m27 1h0m0 12h0m73 16h0m-156 17h0m95 30h0m6 5h0m58 1h0m-161 66h0m44-15h0"/>
<path stroke="#acb4cb" d="M1097 1356h0m140 276h0"/>
<path stroke="#a35b68" d="M761 1359h0m25-10h0m21-7h0m105-11h0m81 11h0m36 8h0m80 6h0m-373 25h0m39 16h0m0-32h0m13 12h0m5-2h0m20 7h0m42 4h0m44-8h0m69 18h0m26-26h0m5 29h0m3-27h0m54 14h0m-304 46h0m66-30h0m20 35h0m8-19h0m4 13h0m14 7h0m4-16h0m3-13h0m11-7h0m16 25h0m8 11h0m17-18h0m9-19h0m41 1h0m15 13h0m6-2h0m4 4h0m0-16h0m20 0h0m33 11h0m-345 29h0m5 27h0m32-26h0m42 28h0m18-22h0m32 18h0m15-13h0m48-13h0m-196 55h0m14 11h0m14 4h0m125-20h0m163-9h0m-293 77h0m9-13h0m-59 19h0m55 4h0m34 146h0m40 39h0m-44 38h0m-67 28h0m37-10h0m64 9h0"/>
<path stroke="#8a80c4" d="M1242 1364h0m-65 55h0m87 20h0m-100 13h0m28 20h0m19 2h0m-71 33h0m25 29h0m-86 134h0m31-7h0m-28 28h0m42 13h0m76-10h0m20-4h0m-143 70h0m0 24h0m32-1h0m3-2h0m68 10h0m-40 34h0m68-9h0m-170 42h0m31-15h0m31 35h0m10-2h0m33-32h0m-56 62h0m79-19h0m-28 70h0"/>
<path stroke="#6f8ebf" d="M1120 1720h0m123 30h0m30 9h0m33-9h0m-52 49h0m-77 32h0m67 0h0m80-26h0m-121 51h0m46 2h0m79-3h0m1 20h0m36-27h0m37 26h0m-298 21h0m44-8h0m48 2h0m103-2h0m32 0h0m33-6h0m39 12h0m-197 28h0m29 22h0m10-11h0m2 3h0m11 18h0m74-29h0m10 11h0m30 5h0m15-19h0m11 38h0m3-37h0m17 28h0m2 9h0m12-10h0m-151 23h0m50 15h0m36 2h0m16 8h0m28-15h0m1 2h0m3 5h0m32-9h0m-245 41h0m87 6h0m22-16h0m28 12h0m40-14h0m26 23h0m45-18h0m37 9h0m-239 51h0m19-18h0m19 1h0m99-17h0m19 25h0m117-15h0m-255 41h0m124-11h0m150 15h0"/>
<path stroke="#c299b2" d="M744 1698h0m-47 53h0"/>
<path stroke="#d41c28" d="M1214 1581h0m40 17h0m30-16h0m-6 45h0m2-22h0m11 3h0m3 29h0m18-7h0m25-2h0m9-16h0m14 0h0m7-1h0m29-10h0m7 37h0m7-5h0m25-11h0m16 17h0m11-14h0m14 0h0m6 6h0m11 8h0m-259 10h0m24 22h0m37-1h0m4-27h0m7 3h0m18-5h0m12 3h0m1 14h0m6-4h0m34 8h0m10-11h0m28 28h0m13-34h0m2 23h0m12-3h0m50 12h0m50-23h0m-294 59h0m4-31h0m7 1h0m76 2h0m2-2h0m36 11h0m7 9h0m4 9h0m4-1h0m4-11h0m1-2h0m6-10h0m24 4h0m39-3h0m14-1h0m19 11h0m12 15h0m0-17h0m2 15h0m7-16h0m1 16h0m5-19h0m4 18h0m18 0h0m1-21h0m7-2h0m5 17h0m1 8h0m5 2h0m8-34h0m6 9h0m4 28h0m-182 5h0m1 3h0m5 6h0m36 16h0m6-24h0m17 29h0m44-23h0m18-6h0m25 16h0m32-2h0m5 4h0m9 3h0m14-5h0m25 7h0m22 12h0m5-3h0m-242 16h0m1 1h0m3-11h0m40 1h0m10 1h0m0 11h0m35 7h0m2-11h0m12-4h0m38 27h0m6 5h0m8-19h0m5-18h0m8 8h0m29-2h0m3-3h0m13-2h0m6 32h0m22-28h0m2 19h0m15-4h0m20 7h0m-277 17h0m2-4h0m21 4h0m5 15h0m3-6h0m6 6h0m1 16h0m22-29h0m13 11h0m15-4h0m4-6h0m1 18h0m1-14h0m11 13h0m1 5h0m13 3h0m2 5h0m1 0h0m3-8h0m4-24h0m39 23h0m3-23h0m2 27h0m42-27h0m9 10h0m14 7h0m1-22h0m0 7h0m2 20h0m13-27h0m5 27h0m1-10h0m1 13h0m10-9h0m2-7h0m1-15h0m20 27h0m17 6h0m1-16h0m15 10h0m-286 39h0m38-19h0m6 13h0m7 4h0m2-11h0m5 13h0m2-4h0m4-2h0m10 13h0m23 1h0m6-16h0m1-19h0m14 19h0m7-10h0m29 17h0m7-20h0m4 0h0m0 7h0m12 17h0m9 9h0m19-24h0m1 21h0m19 2h0m12-14h0m13 6h0m0-24h0m3-6h0m8 24h0m6 9h0m-269 7h0m40 16h0m3-14h0m6 13h0m5 6h0m2 14h0m9-16h0m3 17h0m6-8h0m33-13h0m14 23h0m1-37h0m1 3h0m4 11h0m6 21h0m49-15h0m4 18h0m6-16h0m0-22h0m6 3h0m1-1h0m1 12h0m0 14h0m4-4h0m16-7h0m3-14h0m13 7h0m3 17h0m6-24h0m9 28h0m1 0h0m-191 20h0m18-2h0m25-8h0m7 5h0m40-6h0m10 2h0m4 19h0m20-5h0m4 15h0m28 2h0m9-28h0m2 17h0m9-4h0m21 14h0m6-28h0m6 19h0m25-10h0m-227 49h0m63-1h0m13 4h0m15-19h0m5 31h0m3-19h0m11 2h0m17-14h0m5 22h0m2-24h0m9 13h0m19-6h0m8 13h0m4 9h0m6-32h0m1 3h0m0 16h0m7-5h0m7 5h0m2-13h0m2 29h0m5-36h0m17 27h0m-195 31h0m16-7h0m29 18h0m21-22h0m17 24h0m2-7h0m10-10h0m8-6h0m56-8h0m18 12h0m-58 50h0m5-5h0m19 6h0m20-19h0m-62 56h0m20 2h0m46-4h0"/>
<path stroke="#47ac66" d="M1592 2082h0m73-1h0m44 25h0m14-12h0m-494 58h0m61-14h0m6-8h0m25 19h0m30-2h0m11-27h0m14 38h0m18-13h0m48 0h0m4-12h0m17 20h0m46-1h0m17-1h0m26-7h0m22-5h0m29 20h0m0-1h0m26-6h0m33-13h0m7 1h0m41-19h0m3 30h0m-487 32h0m112 10h0m52-29h0m13 23h0m1-27h0m17 18h0m93-17h0m24 38h0m36-37h0m39 37h0m35 0h0m9-39h0m39 25h0m-267 51h0m13-27h0m11 28h0m16-7h0m31-29h0m31 24h0m15-19h0m1 9h0m3-15h0m29 34h0m47-26h0m2-6h0m33 29h0m12 5h0m7 1h0m7-33h0m9 26h0m1-13h0m-273 25h0m112 16h0m24-7h0m18 24h0m28-14h0m3 9h0m30-18h0m29 1h0m5 0h0m74-1h0m2-6h0m-163 51h0m85-16h0m0 15h0m11 20h0m6-24h0m55 6h0m-60 52h0m19-19h0m-68 30h0m14 24h0m66-6h0"/>
<path stroke="#1f4f9c" d="M1129 1656h0m13 24h0m-34 71h0m212 6h0m-158 27h0m48-10h0m11-2h0m70 6h0m18 21h0m23-33h0m-192 38h0m0 24h0m2-4h0m48-2h0m8-2h0m27-11h0m1-7h0m2 28h0m22 1h0m20-18h0m3 26h0m11-1h0m11-11h0m30 2h0m13-28h0m6 7h0m24 11h0m41 9h0m20-1h0m-292 32h0m30-6h0m50 9h0m3-19h0m26 12h0m3-14h0m12 36h0m4-16h0m22-18h0m5 23h0m11-10h0m9 9h0m1-10h0m12 9h0m22-21h0m28 31h0m4-2h0m40-18h0m-353 31h0m52 29h0m6-1h0m12-21h0m5 14h0m26-25h0m13 23h0m13-2h0m2 13h0m0-13h0m29 12h0m3-30h0m14 6h0m21 5h0m45 9h0m0-21h0m6 3h0m2 25h0m10-24h0m3 17h0m2-3h0m11 1h0m0 9h0m28 8h0m17-15h0m39-5h0m4 20h0m12-13h0m2-10h0m13 6h0m5 4h0m-323 22h0m22-4h0m6 22h0m2-18h0m7 10h0m21 3h0m23 14h0m3 0h0m1-10h0m13 13h0m26-17h0m29-19h0m39 30h0m25-14h0m5-8h0m20-4h0m10 11h0m0-3h0m10 20h0m13 3h0m10-35h0m8 17h0m1-7h0m4-2h0m0-10h0m10 34h0m19-30h0m-300 43h0m52 28h0m10-9h0m7-26h0m13 8h0m3 24h0m4-28h0m7 14h0m15-14h0m3 12h0m11-4h0m13 1h0m25 2h0m9-7h0m12 21h0m5-22h0m9 30h0m35-6h0m25 3h0m11-33h0m1 36h0m12-23h0m11-1h0m7 18h0m1-28h0m2-3h0m11 27h0m4-5h0m3 2h0m5-8h0m35 13h0m-336 48h0m7-37h0m1 2h0m14 11h0m17 14h0m43-24h0m17 3h0m7 13h0m10-1h0m0-3h0m7 3h0m3-14h0m19 14h0m1-8h0m25-5h0m3 24h0m16 0h0m4-19h0m3 22h0m7-6h0m2-3h0m18-23h0m27 7h0m4 18h0m9 12h0m13-12h0m29-9h0m3 1h0m25-6h0m14-1h0m-328 45h0m18 21h0m20-2h0m7-25h0m9 18h0m3-23h0m29 14h0m23 21h0m20-35h0m7 8h0m6 16h0m25 1h0m25 5h0m22-21h0m4 10h0m7-14h0m10 22h0m18-7h0m34-22h0m19 2h0m10 3h0m4 1h0m-339 45h0m149-1h0m3-2h0m0-6h0m94 18h0m8-11h0m13 18h0m3-12h0m11-16h0m94 10h0m11 23h0m27-34h0m13 0h0"/>
<path stroke="#bec4d1" d="M1241 1401h0"/>
<path stroke="#c4c9d3" d="M1204 1372h0m-29 32h0m0 84h0m107 54h0m-36 165h0m-91 145h0"/>
<path stroke="#a3abbb" d="M1143 1342h0m18-18h0m35 11h0m70 63h0m-33 19h0m2-2h0m-135 26h0m48 11h0m108 43h0m-38 102h0m-129 115h0m76-2h0m72 1h0m-96 44h0m-7 18h0m53 11h0m31-13h0m-184 47h0m81-4h0m24-6h0m6 15h0m24-11h0m-26 33h0m59 12h0"/>
<path stroke="#6e4ea3" d="M1263 2516h0m34 0h0m18-15h0m-151 33h0m24 22h0m29 2h0m38-14h0m18 4h0m55 2h0m12-28h0m20 30h0m7-23h0m23 22h0m33-22h0m33 12h0m57-3h0m23-3h0m21-8h0m8 5h0m14 4h0m1 23h0m3-13h0m18 12h0m-393 7h0m36 2h0m8 18h0m4-20h0m14 25h0m17-16h0m8 14h0m6 2h0m23-15h0m6 4h0m9 6h0m3 7h0m45 2h0m13-24h0m0-7h0m3 19h0m16-2h0m10 16h0m18-31h0m26 6h0m28 15h0m5-3h0m5-10h0m29 12h0m16-11h0m33-14h0m4 12h0m7 15h0m16 4h0m6-29h0m24-1h0m-434 61h0m54 17h0m2-9h0m105-12h0m54-4h0m7 9h0m11 3h0m16-19h0m11 22h0m4-10h0m12 1h0m1-6h0m22 11h0m13-14h0m86 14h0m-323 40h0m20-9h0m57-13h0m51 4h0m3-6h0m45-1h0m16 38h0m20-4h0m26-16h0m21 9h0m9-10h0m18 0h0m2 22h0m17-37h0m4-2h0m11 18h0m-355 37h0m1 11h0m4 6h0m33-1h0m1-14h0m15 8h0m19 12h0m26-16h0m1-21h0m12 1h0m17 14h0m24-15h0m37 26h0m32 5h0m17-26h0m6 15h0m15 13h0m23-16h0m25-3h0m4-13h0m36-1h0m-237 46h0m34 17h0m60 9h0m6-25h0m6-4h0m49-2h0m2 25h0m6 4h0"/>
<path stroke="#4f2890" d="M1272 2519h0m125-5h0m-221 38h0m53-18h0m18 10h0m39-7h0m5 2h0m13 12h0m18-11h0m33 4h0m3-4h0m5-1h0m3-12h0m4 13h0m2 1h0m12 8h0m26-3h0m40 10h0m19 1h0m15-13h0m1-9h0m7-4h0m16 9h0m8 16h0m15 3h0m104-3h0m-438 8h0m5 18h0m6-16h0m7 5h0m43-4h0m19-2h0m1 30h0m6-34h0m14 24h0m4-23h0m6 30h0m10 3h0m4-15h0m10 6h0m9 0h0m23-1h0m0-16h0m10 12h0m9 3h0m14-3h0m3 17h0m5-9h0m18-6h0m8 7h0m46-2h0m2 9h0m1-11h0m16 13h0m2-24h0m16-4h0m5 13h0m17 11h0m13-31h0m4 34h0m15-35h0m10 23h0m5-3h0m28 5h0m1-1h0m6-5h0m28-8h0m-464 51h0m28 4h0m6-12h0m6-11h0m0-6h0m30 10h0m5 28h0m2-8h0m6-16h0m26-6h0m1-7h0m1 3h0m8 31h0m2-2h0m6-25h0m8 30h0m35-12h0m33 1h0m50-1h0m51 2h0m0-26h0m1 36h0m9-30h0m2 18h0m4 11h0m7-1h0m22-33h0m9-2h0m11 15h0m14-2h0m12 16h0m6-14h0m38-7h0m-428 50h0m18-8h0m8 9h0m16-12h0m3 1h0m1 19h0m1 5h0m3-28h0m1 16h0m13-14h0m9 12h0m8-4h0m0 15h0m13-9h0m41-20h0m15 38h0m2-15h0m8 13h0m10-23h0m32 11h0m0 3h0m9-23h0m8 24h0m5 8h0m41-23h0m2 2h0m16-10h0m20 25h0m14-15h0m5 12h0m33-20h0m22 15h0m2 12h0m5-26h0m7 16h0m3-8h0m1 4h0m0-3h0m3 18h0m33-36h0m2 0h0m-409 49h0m20 3h0m21 16h0m10-22h0m66 0h0m16 9h0m7-6h0m12 24h0m10-8h0m8-3h0m1-18h0m7 34h0m2 0h0m2-6h0m13-24h0m17 13h0m2-8h0m14-6h0m38 18h0m30-11h0m30 4h0m3 16h0m8 0h0m1-3h0m53-5h0m-321 23h0m25 3h0m14 4h0m13 18h0m3-18h0m56-4h0m21 15h0m28-8h0m25 13h0m4-27h0m6-2h0m10 13h0m37 4h0m6-16h0m4 11h0m3-4h0m9 10h0m7 5h0m20-23h0m-28 49h0"/>
<path stroke="#968ece" d="M825 1454h0m28 3h0m16-7h0m11 17h0m5-12h0m21 6h0m13-11h0m8 28h0m21-8h0m23-15h0m81 15h0m25-16h0m-293 57h0m53-26h0m26 31h0m14-29h0m65 19h0m112 13h0m28-19h0m6-8h0m21 11h0m6 9h0m17-19h0m26 13h0m5 6h0m-394 8h0m8 17h0m35 22h0m20-8h0m14 7h0m0-6h0m3-13h0m4 14h0m3-17h0m19 9h0m4-17h0m19 0h0m54 13h0m42-12h0m2-9h0m7 6h0m44 22h0m22-6h0m39 8h0m9-17h0m17 15h0m30-15h0m3-10h0m6 12h0m-453 38h0m19 7h0m6-12h0m11-2h0m33 23h0m5 3h0m48-31h0m71 10h0m2 20h0m6-23h0m5 17h0m2 6h0m23 8h0m18-20h0m15 20h0m14-32h0m1 0h0m0 17h0m5-21h0m24 3h0m29-2h0m39 11h0m32 4h0m25-19h0m19 39h0m-403 39h0m5-8h0m3 6h0m32-35h0m57 14h0m15 9h0m1-2h0m12 2h0m5-5h0m19-9h0m30 0h0m38-10h0m3 16h0m27-1h0m53-15h0m95 17h0m14 13h0m-422 15h0m8-4h0m60 38h0m45-37h0m4 4h0m23 21h0m24-15h0m18 23h0m10-25h0m64-3h0m15-2h0m15 6h0m15 24h0m5-1h0m10-2h0m55-11h0m2 15h0m11-4h0m14 3h0m2-32h0m-433 44h0m27 7h0m10-13h0m35 31h0m5-12h0m56 17h0m22-35h0m29 3h0m21 5h0m54 29h0m1-18h0m2 15h0m4-5h0m20-1h0m3-1h0m39-25h0m40 24h0m8-23h0m28 18h0m26-7h0m7-16h0m20 5h0m-444 56h0m5-18h0m2 18h0m2-17h0m45 35h0m20-25h0m9 18h0m2-19h0m8 26h0m60-36h0m23 11h0m30-13h0m5 30h0m3-26h0m9 11h0m33 22h0m17-31h0m3 16h0m33-9h0m38 12h0m8-19h0m50 17h0m2-13h0m15-5h0m-402 43h0m6 2h0m4 6h0m13 9h0m3 12h0m35 1h0m6-19h0m13 19h0m17-34h0m17 16h0m12-11h0m1 13h0m13-1h0m63 6h0m18-24h0m39 2h0m20-2h0m25 5h0m35 29h0m29-33h0m-370 35h0m7 8h0m6 15h0m8-18h0m40 17h0m31-7h0m1 13h0m3-22h0m37 30h0m54-3h0m5-11h0m22 14h0m11 2h0m8-33h0m34 10h0m4 0h0m2-15h0m9 11h0m18 28h0m6-31h0m15 15h0m7-9h0m4-6h0m27 22h0m20-30h0m5 10h0m1-7h0m6 17h0m-387 36h0m10 18h0m3-29h0m14 31h0m11-17h0m11-5h0m5-6h0m10 9h0m19-17h0m5 6h0m18 20h0m6 7h0m3 0h0m7-22h0m22-9h0m5 16h0m32-6h0m2 13h0m16 3h0m62-17h0m64 2h0m-324 32h0m27 17h0m16-7h0m78-10h0m49 11h0m1-2h0m44-7h0m-88 36h0"/>
<path stroke="#0f9676" d="M1478 1037h0m90-4h0m8 1h0m-146 31h0m11 6h0m12-23h0m17 30h0m39-38h0m13 16h0m15-1h0m10-10h0m10 25h0m3 2h0m20-10h0m30 7h0m6-24h0m1 18h0m12 12h0m5-6h0m1-17h0m26-5h0m25 30h0m-317 23h0m78 2h0m5 14h0m12-30h0m3 22h0m4-4h0m12-21h0m4 25h0m15 0h0m7-24h0m0-2h0m10 15h0m2 4h0m22 18h0m11-37h0m10 8h0m3 2h0m25-1h0m13 24h0m18-26h0m5 14h0m6-15h0m3 31h0m1-30h0m7 16h0m1-23h0m0 24h0m2 4h0m10-29h0m13 22h0m1 9h0m19 1h0m3 0h0m3-3h0m8 8h0m4-27h0m-399 31h0m18 30h0m13-25h0m3 1h0m40 20h0m31-14h0m27 8h0m55-19h0m5-3h0m4 18h0m10 3h0m21-7h0m4-12h0m4 5h0m25 17h0m0 12h0m3-6h0m1-7h0m13 11h0m8-16h0m10 9h0m8-26h0m27 4h0m48 13h0m0-3h0m2-6h0m25-1h0m-435 66h0m25 0h0m13-1h0m13-17h0m6 6h0m5-11h0m11-11h0m2 37h0m13-20h0m8-13h0m5 3h0m12 28h0m9-23h0m25-10h0m6 25h0m4-11h0m4 15h0m4-18h0m10-13h0m39 26h0m1 4h0m13-4h0m10 7h0m30 2h0m32-8h0m39-14h0m3 4h0m9-15h0m2 20h0m18-11h0m11 4h0m4-11h0m4 34h0m5 1h0m4-19h0m4 8h0m53 7h0m-492 42h0m24-4h0m4 6h0m10-12h0m9 0h0m30-23h0m17 15h0m2-17h0m3 12h0m3-4h0m13-1h0m19 9h0m8 17h0m48-9h0m60 8h0m12-31h0m20 21h0m29-17h0m19 16h0m3-15h0m5 10h0m16-12h0m8 30h0m1-17h0m31-18h0m2 26h0m13-26h0m17 1h0m28 14h0m29 5h0m-509 36h0m9 3h0m36-5h0m47 11h0m5-22h0m17 19h0m15 3h0m18-9h0m17-6h0m9 27h0m15 1h0m9-12h0m22-14h0m10-12h0m9 19h0m11-5h0m16 0h0m6 3h0m43 13h0m0-16h0m29 17h0m8-4h0m15 0h0m8-12h0m1 10h0m17-22h0m1 16h0m13 5h0m16-16h0m3-9h0m7 7h0m7 15h0m8 8h0m5-6h0m1 13h0m14-8h0m-467 22h0m29 28h0m7-15h0m40-16h0m1 8h0m23-7h0m5 18h0m22 10h0m10-27h0m10 12h0m38-10h0m6 5h0m11 21h0m21-32h0m20 7h0m1-1h0m7 1h0m8-8h0m33 34h0m3-23h0m14 3h0m12 17h0m19-26h0m15 18h0m8 8h0m4-19h0m11-15h0m13 2h0m14 19h0m41 5h0m0 11h0m6-36h0m4 13h0m-494 32h0m20 19h0m7-17h0m31 25h0m28-15h0m13 5h0m1-7h0m34 4h0m14-22h0m82 8h0m13 8h0m21 17h0m64 0h0m20-7h0m12 6h0m36-26h0m3 12h0m15 10h0m34-5h0m6-1h0m1 5h0m12-17h0m12 13h0m-518 49h0m29 1h0m31 0h0m16 2h0m134-5h0m7-24h0m39 20h0m23-26h0m27 38h0m38-37h0m0 4h0m1 2h0m5 10h0m12 2h0m5 4h0m22-5h0m19 13h0m23 7h0m3-5h0m44-10h0m16-1h0m6-11h0m5 13h0m7-20h0m4 12h0m3-11h0m-459 57h0m156 2h0m22-17h0m29 9h0m82 8h0m15-9h0m11 3h0m8-15h0m19 10h0m69 5h0m7-2h0m2 11h0m30-6h0m-128 22h0"/>
<path stroke="#b3bac7" d="M1163 1382h0m14 14h0m58 12h0m-46 151h0m41 16h0m2 60h0m-86 22h0m55-16h0m19 3h0m-66 56h0m-48 21h0m73 60h0m-17 83h0"/>
<path stroke="#b9cd22" d="M1204 2140h0m23 38h0m-41 87h0m14 9h0m79-12h0m-96 35h0m8 16h0m21-14h0m4 6h0m7 7h0m67-14h0m3 15h0m16-13h0m10 10h0m7-1h0m37-16h0m5 17h0m5-3h0m1-18h0m19 8h0m1 6h0m22-12h0m-242 53h0m41-23h0m19 4h0m25 3h0m13 30h0m3-18h0m27 16h0m3-22h0m8 22h0m14-18h0m0 20h0m16-19h0m32 4h0m19-10h0m6 7h0m33-1h0m8 0h0m9 5h0m10 0h0m14 6h0m9 5h0m24 3h0m-333 16h0m0 13h0m20 7h0m45-3h0m8-31h0m29 12h0m2 12h0m1 14h0m16-35h0m6 1h0m34 25h0m16 7h0m4-9h0m7 2h0m16-15h0m10 1h0m10-13h0m3 23h0m35-2h0m2-14h0m11-7h0m1 11h0m7-13h0m2 1h0m17 23h0m7-23h0m10 22h0m17 11h0m0 2h0m86-11h0m-398 26h0m17 13h0m13 7h0m4-13h0m13 20h0m14-22h0m25-15h0m4 10h0m8 26h0m6-7h0m5 7h0m5-23h0m66-13h0m5 5h0m0 22h0m4-12h0m1 5h0m21-19h0m2 31h0m8 2h0m0-22h0m7 21h0m29 3h0m9-3h0m15 2h0m9-21h0m7-12h0m52 5h0m10 2h0m3-6h0m17 17h0m-382 45h0m50-23h0m17-2h0m10 1h0m71 3h0m7-3h0m8 1h0m33 1h0m3 18h0m8 16h0m28-24h0m3-13h0m2 36h0m5-5h0m26-12h0m5 14h0m1-23h0m9 7h0m3 4h0m9-16h0m0 1h0m11 5h0m17 7h0m22 8h0m18 5h0m4-10h0m1 0h0m19 3h0m28-20h0m16 26h0m22-26h0m-360 37h0m12 2h0m60 4h0m38-6h0m7 16h0m2 0h0m2 12h0m3-19h0m32 16h0m19-24h0m13 9h0m17 15h0m20-27h0m6 33h0m5-18h0m18 11h0m24-13h0m7-7h0m7 14h0m33-17h0m12 25h0m-215 38h0m32-4h0m12-16h0m43-2h0m48 6h0m23 6h0m71 9h0"/>
<path stroke="#c0c4d0" d="M1161 1373h0m15 7h0m67 78h0m13 83h0m-64 87h0m35 52h0m18 29h0"/>
<path stroke="#9f96ce" d="M1089 1400h0m141 233h0m-116 91h0m61-2h0m-35 75h0m-96 34h0m51-10h0m7 22h0"/>
<path stroke="#eca9c6" d="M523 1465h0m-31 38h0m39 12h0m18-5h0m22-17h0m16 14h0m10-22h0m72 32h0m-236 21h0m8 11h0m39 3h0m6 1h0m11 2h0m27-33h0m12 16h0m17-5h0m-153 66h0m83-16h0m58-16h0m28-3h0m1 35h0m58-11h0m14-23h0m64 30h0m-254 34h0m7-4h0m80-24h0m24 28h0m25 1h0m14 6h0m18-13h0m33 11h0m32-8h0m-272 51h0m59-23h0m13 12h0m12 7h0m10 1h0m88-33h0m19 30h0m24-6h0m7 4h0m6 10h0m-97 32h0m128 8h0m-220 6h0m26 13h0m86-18h0m29 3h0m1 30h0m30-12h0m16-21h0m29 29h0m7 6h0m-306 21h0m45 20h0m9-15h0m3-12h0m11 29h0m4-34h0m16 5h0m22 8h0m53 9h0m43 5h0m36 2h0m64-18h0m-240 40h0m11 23h0m1 1h0m13-17h0m19 4h0m16-21h0m7 5h0m27 4h0m14-6h0m37 17h0m18-1h0m33-4h0m0-11h0m4 2h0m5 16h0m28-21h0m-255 45h0m17 4h0m10-12h0m19 34h0m45-10h0m69-18h0m-128 31h0m40 32h0m20-27h0m75 33h0m56-10h0m17-4h0m14 15h0m-44 19h0m-90 25h0m73 10h0m51 0h0m-93 36h0"/>
<path stroke="#8a7cc0" d="M711 1477h0m79 0h0m-135 33h0m16-15h0m46-15h0m86 37h0m-17 6h0m-126 44h0m28 16h0m61 11h0m11-20h0m52-12h0m0 10h0m-139 37h0m59 10h0m78 14h0m-62 25h0m46 2h0m5 2h0m0-3h0m-2 42h0m23 13h0m-137 39h0m72-12h0m-68 40h0m123 11h0m-74 46h0m37-27h0m-87 36h0"/>
<path stroke="#476ead" d="M1088 1746h0m25-1h0m45 11h0m-40 17h0m99 13h0m22-13h0m12 15h0m36 9h0m24-1h0m15-15h0m-176 22h0m26 24h0m18-7h0m9 6h0m26-15h0m5 12h0m16-11h0m36 19h0m3-18h0m28 16h0m5-17h0m22 18h0m34 1h0m0-4h0m-277 51h0m63-6h0m61-29h0m6 1h0m6 5h0m1 9h0m30 1h0m31-6h0m80 25h0m4-16h0m35 12h0m-196 36h0m22-22h0m12 18h0m60-1h0m30-3h0m12-12h0m19 11h0m14 8h0m1-29h0m30 6h0m14 13h0m43 16h0m-304 16h0m30-1h0m7 15h0m1 3h0m14-22h0m7 17h0m42 10h0m39 2h0m6-32h0m37 32h0m18-6h0m2-23h0m45 5h0m44 4h0m2 2h0m-335 25h0m107 13h0m29 7h0m21 8h0m6-26h0m19 24h0m5 9h0m17-28h0m6 21h0m7-2h0m34 8h0m19-36h0m10 12h0m65 2h0m16 13h0m6-14h0m6 14h0m-337 25h0m53 11h0m82 10h0m9-33h0m2 5h0m54-4h0m44 21h0m43 4h0m5-24h0m33 17h0m21 14h0m11 3h0m-259 11h0m6 9h0m21-10h0m36 27h0m8-30h0m3 10h0m77-13h0m14 19h0m45-15h0m4 4h0m1 21h0m22-13h0m0 17h0m43 2h0m29-13h0m-206 50h0m161-21h0m32-7h0"/>
<path stroke="#b77f89" d="M924 1350h0m74-11h0m-257 22h0m41 25h0m45-11h0m29 15h0m37-23h0m37 22h0m41-13h0m4-5h0m28 26h0m117-20h0m-383 46h0m13-20h0m31 23h0m13-12h0m259 5h0m-338 50h0m111-28h0m30 14h0m43 1h0m-167 35h0m10-3h0m106 52h0m-143 43h0m2-22h0m47 8h0m55 5h0m14 21h0m-64 109h0m-59 36h0m74 12h0m-7 22h0m-65 47h0m36 8h0"/>
<path stroke="#ada7d9" d="M814 1475h0m2 1h0m21-36h0m7 36h0m11-7h0m41 8h0m4-5h0m5 2h0m31 3h0m93-6h0m73-9h0m-339 32h0m28 24h0m11-17h0m26 15h0m19-26h0m28-4h0m217 28h0m-222 11h0m2 33h0m3-4h0m88-4h0m1-1h0m52 10h0m-281 20h0m37 4h0m11-4h0m58 6h0m78 13h0m38-1h0m75 1h0m28-24h0m14 24h0m13-37h0m41 37h0m9-8h0m37 7h0m-429 42h0m90-4h0m82-31h0m34 25h0m93-22h0m31 30h0m46-22h0m23-10h0m-386 37h0m11-1h0m6 21h0m62 14h0m92-1h0m87-29h0m62-3h0m6-2h0m-367 60h0m96-12h0m11 29h0m31-7h0m29 4h0m40 2h0m18-25h0m217 14h0m7-18h0m4-5h0m-439 55h0m89 9h0m69-16h0m88 12h0m80-12h0m33-3h0m8 0h0m-333 39h0m45 27h0m25-19h0m90 11h0m65 5h0m1-16h0m22 19h0m13-34h0m-280 53h0m15-13h0m101 36h0m8-20h0m20-4h0m10 15h0m30-15h0m1 12h0m8 2h0m21-24h0m31 30h0m2-20h0m72 4h0m10-15h0m52 31h0m-405 17h0m14 8h0m22-7h0m39 10h0m27-12h0m12 30h0m9-30h0m140 19h0m1-22h0m3-4h0m124 1h0m-206 53h0m74 16h0"/>
<path stroke="#e27aa6" d="M569 1422h0m72 10h0m-109 39h0m24-21h0m6 22h0m3 0h0m36-15h0m4 5h0m8 9h0m22-4h0m5-15h0m15 6h0m-178 41h0m21-10h0m17 22h0m1-2h0m21-20h0m5 22h0m14-12h0m1 3h0m2-20h0m10 7h0m8 11h0m17-14h0m8-5h0m0 36h0m6-12h0m1-5h0m10 14h0m5-20h0m41 3h0m4-14h0m0 25h0m-252 40h0m42 4h0m22-17h0m20 17h0m14 6h0m11-33h0m27 18h0m15 13h0m1-13h0m36-19h0m13 32h0m4-2h0m1-34h0m4 10h0m44 9h0m8-5h0m36 23h0m-302 12h0m8 8h0m2 2h0m3 17h0m16-18h0m7-8h0m26 4h0m8 14h0m2-3h0m3 0h0m6-12h0m15 16h0m15-13h0m8 20h0m1-9h0m6-3h0m0 10h0m6-31h0m1 6h0m8 12h0m20 14h0m5-26h0m1 3h0m18 9h0m6 16h0m6-11h0m2-9h0m2-3h0m8 2h0m18 4h0m-236 21h0m9 26h0m1-18h0m6 10h0m6 15h0m22-14h0m1-14h0m25 17h0m9-12h0m4 1h0m23 13h0m22-4h0m2-18h0m3 28h0m2 4h0m12-17h0m4-16h0m6 0h0m9 11h0m3-9h0m18 2h0m9-5h0m10 21h0m2-2h0m9-8h0m12 14h0m2 12h0m9-28h0m15 4h0m42 8h0m7-1h0m-320 22h0m15 33h0m8-33h0m14 0h0m2 29h0m7-3h0m6-15h0m6 16h0m7-13h0m1 6h0m8 9h0m2 6h0m3-6h0m25 0h0m4-31h0m17 35h0m6-18h0m35-10h0m13 13h0m11 4h0m5-23h0m10 30h0m8-16h0m5-9h0m13 20h0m33-5h0m2 11h0m19-29h0m-262 70h0m16-30h0m3 32h0m26-33h0m2 11h0m6 17h0m3-15h0m3 4h0m0-17h0m34 29h0m1-15h0m21 10h0m10-15h0m9 1h0m14-6h0m37 0h0m0-6h0m8 0h0m23 17h0m6 5h0m5-21h0m4 17h0m1 11h0m15-13h0m2 0h0m5 9h0m2 9h0m16-34h0m-284 48h0m3-3h0m1 23h0m9-15h0m20 8h0m17-4h0m18 3h0m2-10h0m5 25h0m11-16h0m2-6h0m7-3h0m18 28h0m1-15h0m6 12h0m17-18h0m5-1h0m24 5h0m15-6h0m2 10h0m5-9h0m13 10h0m11-7h0m6-1h0m6-17h0m18-2h0m14 12h0m26-3h0m11 11h0m2-6h0m-288 47h0m30 9h0m7 0h0m0-10h0m2-9h0m3 10h0m18-20h0m36 3h0m8 17h0m1-12h0m36 28h0m2-16h0m11 4h0m9 7h0m12-8h0m10-12h0m13-1h0m1-10h0m10 36h0m6-33h0m5 12h0m17-14h0m38 20h0m-262 24h0m18 8h0m18 5h0m1 11h0m5-22h0m2 22h0m11 5h0m8-6h0m2-24h0m2 1h0m15 29h0m7-15h0m1 15h0m1 0h0m4-6h0m7 5h0m5-1h0m3 3h0m1-2h0m22-27h0m3 20h0m6-1h0m26-15h0m28 25h0m1-32h0m1-1h0m0 11h0m12-9h0m26 30h0m1-6h0m9-7h0m14-1h0m-262 46h0m28-11h0m12-12h0m25 9h0m42 6h0m9-19h0m3 7h0m13 10h0m11-13h0m4 14h0m15 3h0m18-15h0m10 9h0m9 12h0m1-22h0m6 19h0m8 2h0m2-16h0m6 10h0m0 16h0m13-27h0m2 22h0m5 7h0m4-13h0m21 14h0m6-30h0m-215 32h0m17 22h0m6-22h0m6 18h0m16-13h0m6 4h0m6 24h0m8 2h0m14-14h0m7 16h0m10-35h0m2 24h0m7 0h0m5-7h0m14 18h0m8-33h0m10-2h0m1 25h0m10 11h0m55-34h0m-166 61h0m6-18h0m6 18h0m18-18h0m0 11h0m19 0h0m3 17h0m8-31h0m12 3h0m7-7h0m9 13h0m7 22h0m1-3h0m22-10h0m25 6h0m4-12h0m1-8h0m-115 44h0m16 15h0m35-24h0"/>
<path stroke="#b4add9" d="M1182 1428h0m-2 33h0m48 22h0m-89 311h0m13-21h0m-22 52h0m-23 46h0m71-29h0m-66 55h0"/>
<path stroke="#a2d6e3" d="M898 2194h0m74-7h0m6 25h0m139 1h0m-264 54h0m181 17h0m0-4h0m-61 47h0m6 19h0m41-4h0m37 1h0m7 10h0m15-21h0m9 10h0m16 6h0m-210 36h0m144-1h0m19-19h0m89 14h0m-353 27h0m98 7h0m49 3h0m0 1h0m28-7h0m48 20h0m26 0h0m6-16h0m2 24h0m22-27h0m82-6h0m6 32h0m39-3h0m-261 28h0m104-14h0m67 1h0m16 13h0m76 18h0m-352 4h0m14-1h0m14 15h0m124 11h0m11-3h0m69 4h0m1-23h0m89 17h0m23 8h0m24 5h0m2-16h0m-330 30h0m109 13h0m126-17h0m50 44h0"/>
<path stroke="#3aa88e" d="M1458 1066h0m17 2h0m28-25h0m23 35h0m2-8h0m13-10h0m3-5h0m91 23h0m7-6h0m6-31h0m42 31h0m18-4h0m-332 48h0m40 2h0m21-5h0m0 6h0m29-25h0m7 14h0m3-27h0m11 18h0m4 5h0m16-1h0m6 6h0m13-28h0m18 14h0m34-2h0m18 14h0m0 11h0m8-17h0m3 9h0m2-28h0m2 13h0m5 18h0m9-14h0m29 11h0m18-4h0m-334 43h0m4-10h0m30 16h0m1-4h0m105-27h0m27 5h0m9 18h0m8-6h0m16 11h0m9-20h0m15 20h0m2 2h0m21-20h0m7 3h0m16 2h0m7 11h0m40-16h0m31 3h0m17 15h0m23 6h0m-438 31h0m4 5h0m47-28h0m67 33h0m20-7h0m8-25h0m4-1h0m33-2h0m9 21h0m11 5h0m40-2h0m27-15h0m11 2h0m21-15h0m13 11h0m23 21h0m36-2h0m2 7h0m1-34h0m9 24h0m18 1h0m3-27h0m16 12h0m1-13h0m28 17h0m-435 56h0m9-5h0m6-16h0m13-3h0m17 28h0m9-8h0m41-16h0m7 1h0m14-10h0m52 14h0m74 5h0m2-15h0m57 27h0m28-25h0m5 7h0m18-13h0m10 10h0m1-2h0m21 20h0m-373 22h0m16-3h0m12 6h0m76 17h0m18-3h0m6-22h0m29-4h0m40 0h0m6 7h0m64 8h0m26-12h0m24-6h0m20 14h0m30 16h0m5-23h0m32 10h0m-436 53h0m89-2h0m6-14h0m51 17h0m64-11h0m3-17h0m18 14h0m24 0h0m9-18h0m0 22h0m12-7h0m11 10h0m48-18h0m9-6h0m22 12h0m12 9h0m-451 22h0m25 20h0m9 10h0m28 4h0m109-22h0m21 5h0m4-9h0m50-9h0m26-2h0m33 1h0m12 16h0m98 5h0m21 3h0m-363 34h0m37-19h0m150 11h0m40-1h0m34 0h0m2 8h0m11-17h0m20 31h0m45 3h0m12-12h0m-223 43h0m30-12h0m6-13h0m36 0h0m54 0h0m44 16h0m62-14h0m19-2h0"/>
<path stroke="#d77aa2" d="M708 1482h0m3 32h0m25-26h0m97 14h0m-103 53h0m8-6h0m21 29h0m49-1h0m-29 48h0m-42 39h0m4 3h0m-5 40h0m51 10h0m-5 42h0m-109 32h0m4-1h0m74 71h0"/>
<path stroke="#f5b06b" d="M610 1901h0m35 6h0m124-14h0m7-7h0m11 28h0m75-31h0m35 33h0m44-24h0m22 15h0m129-6h0m43 15h0m-456 22h0m96-3h0m1-2h0m66 1h0m2 19h0m26-31h0m16 5h0m2 11h0m11 6h0m21-23h0m103 14h0m104 19h0m48 3h0m-644 20h0m25-10h0m11 17h0m70-11h0m8-3h0m14 28h0m2-14h0m17-3h0m37 8h0m19-20h0m74 11h0m39-6h0m0-1h0m2-1h0m21-2h0m37 20h0m26-30h0m22 1h0m2 31h0m4-9h0m61-21h0m23 30h0m1 1h0m45-25h0m29 13h0m52 2h0m-627 55h0m17-34h0m2 28h0m5-27h0m10 19h0m9 14h0m2-21h0m4 15h0m36-12h0m35-7h0m29 3h0m2 16h0m16-14h0m4 21h0m3-25h0m7 11h0m13-10h0m122-6h0m91 15h0m44-15h0m29 0h0m13 12h0m7 2h0m4-16h0m20 26h0m4 4h0m-436 18h0m31-5h0m64 26h0m15-21h0m127 12h0m41-7h0m20-9h0m20-4h0m96 27h0m11 3h0m-493 24h0m38-21h0m3 7h0m25 17h0m10-13h0m129 19h0m57-14h0m13 3h0m16 9h0m21-4h0m55-21h0m7 0h0m6 20h0m10 9h0m91-27h0m5 34h0m3-21h0m-398 40h0m43 2h0m62-12h0m90 10h0m77 1h0m-303 31h0m46-10h0m68 4h0"/>
<path stroke="#e791b6" d="M550 1427h0m6 32h0m10 3h0m22 13h0m24-5h0m3-15h0m2 19h0m10-21h0m21 6h0m16 8h0m-187 46h0m1-21h0m20 7h0m23 11h0m13-11h0m48-8h0m28-5h0m35 7h0m11 21h0m1 3h0m30-11h0m3 2h0m-255 38h0m10-5h0m24-7h0m19 14h0m3-19h0m22 30h0m39-10h0m57 0h0m8 0h0m1-6h0m4-13h0m50 4h0m-257 49h0m0 4h0m8-22h0m25 6h0m46 28h0m30-38h0m8 19h0m30 3h0m6-4h0m3 7h0m13-24h0m41 0h0m22 31h0m40-31h0m-258 73h0m4-29h0m24 30h0m39-22h0m30-10h0m1-4h0m37 37h0m3-29h0m16 3h0m27 2h0m17 9h0m9-19h0m19-1h0m9 36h0m15-15h0m-221 30h0m43-6h0m10 32h0m29-7h0m98 6h0m10-30h0m12-2h0m10 3h0m14-3h0m1 33h0m15-33h0m-288 53h0m27-9h0m36-3h0m22 19h0m30-12h0m1 23h0m14-31h0m10 11h0m5 9h0m25-17h0m11 24h0m34-12h0m65 4h0m9-14h0m-276 42h0m2-8h0m5 3h0m5 31h0m12-3h0m22-30h0m10 21h0m19-12h0m6 12h0m35-3h0m34-13h0m22 16h0m18-12h0m28 23h0m53-14h0m-284 54h0m96-30h0m7-3h0m25 5h0m28 11h0m2-3h0m4-10h0m6 21h0m10 0h0m25 0h0m13 9h0m67-15h0m-269 42h0m0-9h0m2 8h0m6-5h0m4 4h0m7-5h0m32-15h0m26 4h0m25 23h0m10-6h0m33 13h0m4-37h0m14 18h0m4 7h0m9-7h0m20 11h0m7 6h0m9-30h0m25 21h0m-204 36h0m4 0h0m12 10h0m23-13h0m8 9h0m4-10h0m22 21h0m49-34h0m3 5h0m24 25h0m11 4h0m8-21h0m24-4h0m4 18h0m-206 31h0m31-12h0m33 15h0m13-20h0m5 11h0m1 17h0m86-28h0m9-1h0m37 24h0m-158 11h0m16 4h0m19 16h0m21-7h0m14 12h0m31-21h0m1 2h0m29 7h0m10 13h0m-80 24h0m35 17h0m25-5h0"/>
<path stroke="#6fbe87" d="M1607 2111h0m17-8h0m-400 47h0m179-16h0m42-6h0m145 3h0m-184 51h0m87 15h0m48-2h0m10-3h0m40 2h0m74 3h0m83-25h0m-204 31h0m48 8h0m63 20h0m30-8h0m3-8h0m5 10h0m18 5h0m24-11h0m7 18h0m-313 15h0m93 7h0m9-19h0m10 19h0m73-13h0m96 18h0m-218 30h0m197 39h0"/>
<path stroke="#de91b2" d="M711 1480h0m1 14h0m90 95h0m15 88h0m11-28h0m-164 35h0m170-3h0m-136 107h0m40 5h0"/>
<path stroke="#e36d75" d="M1238 1591h0m69-22h0m14 6h0m58 16h0m-68 40h0m75-20h0m105 18h0m-246 28h0m22 3h0m164-17h0m46 24h0m7 11h0m2-38h0m-178 61h0m40 0h0m67 16h0m0-23h0m7 2h0m96-3h0m91-3h0m7 22h0m-273 23h0m84-13h0m84 29h0m50 2h0m15-28h0m14 33h0m69 0h0m-167 23h0m26-20h0m0 37h0m2-35h0m3 17h0m16 19h0m9-4h0m44-18h0m31 14h0m6-8h0m15-17h0m8 6h0m-192 48h0m93-9h0m72 17h0m97-17h0m-236 54h0m2-23h0m87 11h0m6-1h0m22-4h0m7 13h0m-116 42h0m9 3h0m48-23h0m4 15h0m1-17h0m-55 72h0m111-19h0m-32 63h0m76-29h0m25 31h0m7-10h0m15-17h0m16-2h0m25 27h0m11-14h0m-181 40h0m80 13h0m16-17h0m25-14h0m-35 60h0m44-16h0m8-9h0"/>
<path stroke="#6fbfd4" d="M1246 1452h0m-64 140h0m16 179h0m-75 107h0m-96 280h0m9-3h0m98-31h0m-256 38h0m9 16h0m53 17h0m21-1h0m51 1h0m14-6h0m11 7h0m0 2h0m-158 34h0m14 7h0m2-17h0m68-19h0m6 8h0m16 4h0m17 16h0m2-17h0m0-3h0m2 27h0m0-12h0m15-9h0m4-5h0m7 14h0m7-4h0m22-5h0m17 22h0m20-12h0m4-18h0m50 21h0m-264 18h0m34-1h0m16-3h0m9 15h0m25-17h0m16 29h0m40-14h0m9 14h0m61-1h0m44-22h0m3 31h0m1-14h0m2-11h0m15-10h0m-309 75h0m54-26h0m6-3h0m2 5h0m121 14h0m0-18h0m18 15h0m4-1h0m27 1h0m5 6h0m27-6h0m0-11h0m3-9h0m9 5h0m4 25h0m5-15h0m46 0h0m-332 20h0m18 27h0m19 9h0m14 0h0m61-10h0m5 2h0m9 10h0m12-21h0m7 21h0m1-1h0m27-37h0m30 10h0m4 4h0m11 11h0m0-3h0m27-18h0m7 22h0m17-19h0m5 20h0m7-28h0m13 10h0m0 2h0m9 27h0m3-7h0m-286 11h0m8 14h0m11 2h0m10-2h0m16-4h0m28-11h0m1 12h0m8 8h0m4-8h0m2 10h0m8-2h0m5 9h0m1-14h0m15 4h0m12-3h0m1 3h0m1-14h0m2 20h0m1 2h0m2-8h0m23-3h0m1 16h0m12-1h0m2-6h0m5-23h0m43 33h0m39-33h0m33 5h0m1 10h0m22 18h0m4-13h0m-400 51h0m5 3h0m50-27h0m5 16h0m7 2h0m11-11h0m44 1h0m11 11h0m23-8h0m21 13h0m18-31h0m16 14h0m1 3h0m3-8h0m2 11h0m15-3h0m18-20h0m14 0h0m19 38h0m13-23h0m1-10h0m9 21h0m14-24h0m9 26h0m1-27h0m4 2h0m8 24h0m9 3h0m7-21h0m4-7h0m54-1h0m-416 55h0m2-2h0m55 6h0m4 11h0m7-29h0m8 15h0m5-17h0m11 3h0m19 0h0m9 27h0m4-5h0m4-3h0m30-10h0m13-7h0m24-6h0m21 17h0m6-14h0m10 0h0m39 19h0m1 15h0m55-12h0m16 1h0m8 5h0m5-6h0m6-19h0m1 19h0m10-9h0m24 22h0m15-5h0m5-8h0m-401 41h0m22-3h0m2-15h0m15-7h0m22 29h0m6-21h0m5 6h0m10 6h0m30-17h0m18 31h0m6-11h0m5 9h0m29-31h0m11-2h0m41 16h0m21-11h0m14 0h0m11 7h0m0 5h0m50 20h0m22-16h0m26-14h0m50 29h0m-331 21h0m50 10h0m43-9h0m9-10h0m10 31h0m4-8h0m10 7h0m6-11h0m6-10h0m19 21h0m36 1h0m17-6h0m53-11h0m2-7h0m37 16h0m43 0h0m-73 20h0m29 6h0"/>
<path stroke="#9f93cb" d="M687 1506h0m23-24h0m37 27h0m66 109h0m2 52h0m-124 29h0m121-3h0m-144 52h0m41-26h0m6 19h0m-5 54h0m0 38h0m53-16h0"/>
<path stroke="#b17c9d" d="M748 1501h0m-25 21h0m24 54h0m6 20h0m-16 41h0m38-35h0m39 46h0m-112 70h0m5-7h0m105 5h0m-48 50h0"/>
<path stroke="#9aa4c0" d="M1243 1402h0m-58 136h0m-41 22h0m84 87h0m25 6h0"/>
<path stroke="#c5d649" d="M1181 2238h0m43-15h0m-11 27h0m35 28h0m10-6h0m-93 23h0m49-1h0m71-9h0m6-2h0m73 21h0m8-21h0m57 19h0m-205 18h0m36 25h0m15 12h0m8-19h0m2-18h0m5 24h0m5-22h0m7 25h0m24-21h0m7 22h0m44-27h0m12 4h0m36 27h0m21-1h0m-207 14h0m7 21h0m14-24h0m20 4h0m9 3h0m12 28h0m50-36h0m13 2h0m2 13h0m28-5h0m27 1h0m57 8h0m86 0h0m27-6h0m-392 40h0m66 7h0m35-6h0m12-5h0m16 9h0m17-12h0m43-2h0m3 2h0m17 22h0m4 5h0m1-22h0m42-11h0m24 12h0m5 12h0m5 8h0m6-28h0m7 11h0m19 19h0m9-17h0m20-3h0m0-10h0m6 32h0m63-37h0m-410 66h0m54-21h0m21 33h0m58-9h0m8-7h0m36-12h0m12-2h0m10-2h0m30 6h0m30-6h0m36 18h0m1-8h0m0 0h0m61 7h0m25-22h0m8 31h0m42 5h0m-339 23h0m14-1h0m13-15h0m5 4h0m15 7h0m22 11h0m14 10h0m89 2h0m40-14h0m1-2h0m39-5h0m1 11h0m33-9h0m31 1h0m10 2h0m-116 25h0m0-1h0"/>
<path stroke="#65bba7" d="M1532 1042h0m-81 71h0m4-15h0m12-12h0m7 0h0m32 27h0m29-8h0m19 4h0m10 8h0m68-11h0m45-15h0m4 2h0m-344 31h0m135 27h0m62-13h0m9-16h0m4 29h0m96 7h0m44-6h0m32-18h0m40 1h0m-473 41h0m14-8h0m19 12h0m127-15h0m42 33h0m103-34h0m31 1h0m33 23h0m-259 43h0m26-3h0m28-19h0m102 11h0m87 14h0m50-5h0m-359 15h0m40 7h0m5 26h0m15-19h0m49-11h0m31 0h0m70 29h0m116-4h0m43-15h0m-513 36h0m20-6h0m93 13h0m29 8h0m20-2h0m103-8h0m188-12h0m22 15h0m0-21h0m-445 43h0m39 12h0m106-13h0m16 15h0m156-8h0m26-1h0m47 14h0m-420 32h0m30-14h0m160 36h0m184-20h0m13 19h0m0-15h0m-89 32h0m51-6h0m30 8h0m102-9h0"/>
<path stroke="#88cadb" d="M1203 1399h0m21-36h0m-52 74h0m12-23h0m57 233h0m-13 133h0m-151 362h0m-98 41h0m15-20h0m68 6h0m25 23h0m58 3h0m9-16h0m-268 42h0m14-19h0m59 24h0m34-1h0m47 5h0m41 7h0m13-9h0m13 11h0m-233 38h0m4-6h0m0-17h0m93 1h0m57 17h0m3 4h0m24-13h0m14-10h0m2 10h0m27-13h0m15 24h0m14-4h0m27-22h0m6 15h0m-338 39h0m44 2h0m54-5h0m24-18h0m24 7h0m27 14h0m23-20h0m35 21h0m-187 22h0m7 32h0m10-1h0m0-17h0m3-7h0m29 26h0m3-3h0m44-30h0m20 13h0m35-15h0m33 8h0m19 15h0m47 13h0m3-29h0m21 20h0m31-16h0m-350 58h0m70-11h0m22-7h0m16 4h0m108 7h0m3 10h0m5-14h0m1-13h0m2 8h0m8-16h0m17 18h0m13 12h0m7-30h0m13 2h0m9 27h0m8-5h0m60 8h0m12-21h0m-400 47h0m13-11h0m2 18h0m8-4h0m175 4h0m50-2h0m35-6h0m20-15h0m29 17h0m70-9h0m-379 35h0m8 9h0m13-7h0m13-2h0m47 4h0m67-3h0m45 12h0m37-13h0m41 8h0m7 7h0m9 9h0m25-12h0m0 5h0m13-3h0m27 5h0m9-23h0m-416 53h0m101 18h0m38-14h0m39 15h0m4-14h0m0 4h0m21-1h0m45-8h0m38-3h0m2-11h0m41 23h0m33 10h0m11-18h0m26 14h0m65-13h0m-333 51h0m6-27h0m101 1h0m37 33h0m29-4h0m6 8h0m62-28h0m4 7h0m25 17h0m28-15h0m-154 25h0m37-2h0m60 36h0m2-24h0m41-3h0m15 15h0m11-8h0"/>
<path stroke="#bec4d6" d="M1192 1389h0"/>
<path stroke="#b4abd6" d="M813 1558h0m-147 22h0m116 52h0m67-7h0"/>
<path stroke="#ccd1db" d="M1252 1595h0m-84 198h0"/>
<path stroke="#cbced8" d="M1096 1384h0m105-10h0m69 106h0m-68 180h0m-28 100h0"/>
<path stroke="#8e75b7" d="M1179 2555h0m28-6h0m48-8h0m11-5h0m25-13h0m54 15h0m21 2h0m17 19h0m40-31h0m15 6h0m16 19h0m139-9h0m39-18h0m19 25h0m-475 45h0m62-27h0m120 22h0m20-1h0m24-13h0m67 14h0m34-14h0m11-14h0m8 16h0m4 20h0m2 0h0m14-22h0m-338 42h0m146 4h0m60 1h0m3-23h0m58 6h0m2 23h0m63-19h0m2 8h0m13 12h0m8-10h0m21 1h0m7 11h0m14-11h0m-397 57h0m77-22h0m10 13h0m13-10h0m129 6h0m1-22h0m40 31h0m29-13h0m31 8h0m37-9h0m8-8h0m-309 27h0m206 38h0m22-5h0m5-9h0m27-14h0m20 4h0m13 21h0m28-23h0m-191 32h0m20 29h0m6-5h0m28 3h0m47-23h0m24 0h0m-87 33h0"/>
<path stroke="#f08418" d="M974 1873h0m95-22h0m3 27h0m10-35h0m23 25h0m-473 35h0m68 9h0m17 7h0m20-14h0m33 5h0m62-10h0m60 4h0m21-1h0m46 11h0m4-8h0m7 8h0m14 2h0m7-16h0m20 10h0m4-15h0m11 9h0m55 0h0m38 10h0m1-7h0m6-7h0m0 16h0m0-7h0m1-9h0m13-1h0m31 2h0m-643 36h0m30 9h0m20 5h0m1-6h0m20 7h0m1-5h0m22 3h0m14 9h0m27-25h0m8 25h0m19-21h0m20 6h0m16-3h0m3 2h0m0-13h0m5 21h0m12-7h0m33 12h0m18-34h0m5 8h0m1 5h0m16 22h0m5-2h0m22-3h0m33-5h0m18-24h0m5 3h0m18 9h0m1-1h0m22-2h0m11 1h0m21 24h0m36-18h0m7 12h0m3-13h0m3-11h0m3 31h0m4-9h0m1-11h0m6 16h0m2-6h0m1-3h0m11-19h0m32 19h0m11-5h0m11-6h0m5-5h0m10 18h0m38-14h0m-639 49h0m43 12h0m0-8h0m14 4h0m20-25h0m6 14h0m40 4h0m8 15h0m14-16h0m7 12h0m14-30h0m13 26h0m1-29h0m4 9h0m6 7h0m9 5h0m1 10h0m48-16h0m2-7h0m14 10h0m12-19h0m43 37h0m2-1h0m3-21h0m2-8h0m2 26h0m9-23h0m22-3h0m26 23h0m9-22h0m2 17h0m3-14h0m10-5h0m15 7h0m9-13h0m3 25h0m4 13h0m0-14h0m17-3h0m9-21h0m4 11h0m4 10h0m1 6h0m2-17h0m30-9h0m5 27h0m1-17h0m18 11h0m1-7h0m1 2h0m1 1h0m5-10h0m5-1h0m11 29h0m25 3h0m9-39h0m9 2h0m7 36h0m3-38h0m12 33h0m4-24h0m5 20h0m4-3h0m20-21h0m-640 66h0m13-15h0m5-11h0m16 14h0m15 12h0m9-24h0m5 6h0m20 6h0m10 3h0m2-21h0m15 4h0m33 2h0m18 29h0m1-35h0m2 30h0m3-8h0m11-11h0m11-9h0m28 7h0m20 16h0m33-4h0m31-6h0m1 23h0m3-3h0m18-21h0m4-12h0m3 15h0m0 13h0m5-19h0m4-5h0m10 31h0m10-24h0m13 8h0m3-9h0m20 17h0m1-21h0m8 1h0m1 26h0m11 0h0m3-29h0m1 23h0m4 6h0m2-7h0m2-10h0m10 15h0m7-7h0m44-16h0m12 5h0m23-16h0m6 36h0m4-26h0m2 12h0m8 0h0m15-1h0m6-7h0m12 10h0m28-16h0m-595 48h0m4 1h0m79 13h0m19-15h0m8 18h0m6-8h0m2 10h0m4-13h0m8-22h0m9 17h0m35 9h0m14-7h0m11-8h0m1 5h0m12-7h0m21-9h0m11 35h0m6 0h0m4-11h0m24-17h0m5 10h0m22 2h0m2-1h0m17 12h0m9-5h0m10-12h0m68 17h0m11-18h0m10-10h0m10 17h0m9-17h0m12 26h0m7 11h0m4-19h0m3 13h0m31 3h0m0-19h0m9-3h0m1 14h0m1-16h0m14 11h0m6-9h0m20-14h0m7 23h0m3 7h0m2-24h0m7 30h0m25-3h0m3-24h0m-558 36h0m10-2h0m7 23h0m0-2h0m12-13h0m8 21h0m56-5h0m33-18h0m1 3h0m13 14h0m14 11h0m5-26h0m10 6h0m11 2h0m4-8h0m8 28h0m10-1h0m1-15h0m1 7h0m11-21h0m1-2h0m1 31h0m1-16h0m7 10h0m15-16h0m5 23h0m9-22h0m15 20h0m2-17h0m8-11h0m8 3h0m8-2h0m4 20h0m4-21h0m18 27h0m3-28h0m9-1h0m13 7h0m2 6h0m11-9h0m16 12h0m12-16h0m2-2h0m14-3h0m30 2h0m15 34h0m3-15h0m98 14h0m-508 5h0m17 16h0m28-14h0m4 4h0m2-3h0m1 13h0m11-18h0m1 10h0m18 6h0m4-15h0m6 29h0m10-6h0m1 5h0m3-29h0m12 9h0m55 5h0m6-10h0m6 29h0m19-32h0m26 10h0m24-2h0m32-9h0m19 18h0m17-6h0m7-10h0m10-2h0m6 11h0m-252 46h0m7-4h0m5-6h0m31-2h0m55-4h0m16 0h0m39 7h0"/>
<path stroke="#6e4ea3" d="M1247 2507h0m17 11h0m-34 3h0m8 14h0m20-3h0m13 0h0m6 7h0m21 2h0m10-15h0m2 29h0m62-34h0m151 13h0m81 22h0m-419 19h0m1-8h0m8 2h0m53 20h0m20-24h0m48 32h0m114-12h0m8-3h0m25 6h0m15 3h0m9-1h0m2-6h0m8-5h0m19 4h0m17-3h0m5 6h0m9-5h0m4-5h0m27 15h0m4-6h0m27-7h0m-393 38h0m22-11h0m4 25h0m2-27h0m6 28h0m23-25h0m7 13h0m7 11h0m7 7h0m2-33h0m27 0h0m3 20h0m10-21h0m28 22h0m3 2h0m26 11h0m11-13h0m1 12h0m14-29h0m14 21h0m17-17h0m8-12h0m17 24h0m7-2h0m7-22h0m7 5h0m12 34h0m21-5h0m6-32h0m53 21h0m6-7h0m9-2h0m3 23h0m-431 36h0m14-29h0m35 4h0m9 23h0m33-2h0m6 8h0m33-9h0m5 8h0m3-28h0m15 26h0m40-31h0m50 10h0m29-3h0m63 5h0m35 4h0m0-4h0m1 2h0m9-7h0m6 20h0m23 4h0m-339 36h0m6-9h0m28-12h0m13-2h0m24 17h0m19 7h0m7-27h0m28 16h0m3-16h0m0-4h0m16 32h0m25-23h0m21 11h0m11-4h0m5-9h0m0-6h0m1 4h0m5 14h0m3-11h0m5 14h0m20-4h0m3 0h0m45-11h0m12 19h0m25 13h0m7-20h0m-295 28h0m49 16h0m0-20h0m22-3h0m26 19h0m62 1h0m14-15h0m17 2h0m51 18h0m6-11h0m10-2h0m-69 32h0"/>
<path stroke="#8a80c4" d="M1180 1428h0m21 39h0m48 62h0m-171 133h0m67 16h0m102-28h0m-107 59h0m1-18h0m6 22h0m-5 26h0m6 20h0m3-19h0m-35 20h0m22 17h0m48-12h0m20-1h0m-162 38h0m60 47h0m4 24h0m33-22h0m7 4h0m20 47h0m-90 46h0m27-5h0m1-23h0"/>
<path stroke="#8e75b7" d="M1251 2494h0m-49 54h0m14-11h0m58 7h0m8-1h0m20-14h0m43 28h0m27 2h0m3-5h0m19-30h0m139 12h0m-381 60h0m6-15h0m27 0h0m119 15h0m78-29h0m8-7h0m1 35h0m9-32h0m13 32h0m52-5h0m9-7h0m57-2h0m73 13h0m10 0h0m-348 10h0m23 29h0m6 5h0m4 0h0m44-24h0m39 1h0m6 3h0m46 9h0m23 7h0m18 5h0m22-7h0m20-5h0m45-25h0m67 23h0m-423 43h0m81-8h0m15-13h0m0 11h0m312-12h0m5 31h0m-310 42h0m3-18h0m1 5h0m36-6h0m72-18h0m14 37h0m108-9h0m4-27h0m83 8h0m-380 35h0m31-2h0m59 23h0m9-26h0m26 11h0m96-6h0m11 13h0m25 14h0m-151 15h0"/>
<path stroke="#a06088" d="M746 1453h0m-35 54h0m70 3h0m-88 31h0m45 14h0m54-12h0m0 9h0m24 4h0m-42 35h0m-84 22h0m13-5h0m52 2h0m16-5h0m40 18h0m13-21h0m-147 69h0m0-11h0m15-16h0m26 15h0m10-16h0m38 3h0m42-4h0m-150 67h0m14 0h0m0-21h0m42 15h0m15-9h0m33-2h0m-33 42h0m107 31h0m-135 41h0m36-1h0"/>
<path stroke="#f29a41" d="M1082 1877h0m-289 21h0m47 2h0m9 12h0m23 0h0m115-13h0m40-6h0m28 19h0m49-23h0m-571 48h0m26 8h0m36 5h0m22-26h0m28 33h0m1-11h0m3-22h0m39-1h0m14-2h0m3 28h0m18-29h0m8 36h0m2-6h0m5 3h0m13-14h0m2 18h0m11-8h0m14-21h0m40 12h0m24-17h0m4 25h0m20-4h0m5-18h0m5 4h0m8-1h0m0 26h0m41-25h0m4 26h0m28-12h0m1-3h0m6-1h0m21 1h0m16 18h0m1-22h0m30-8h0m9 14h0m20 12h0m14-34h0m3 2h0m30 22h0m0 2h0m18 0h0m35-5h0m-635 32h0m28 4h0m33-13h0m13 32h0m53 1h0m15-15h0m15-23h0m7 22h0m2 13h0m18-23h0m13-10h0m27 24h0m5 9h0m3-35h0m4 16h0m21 13h0m29-28h0m24 13h0m2-1h0m2 18h0m5 6h0m31-8h0m19-25h0m4 7h0m0 2h0m25 8h0m8-21h0m6 17h0m19-1h0m2 4h0m17 6h0m4-7h0m1 7h0m32 0h0m4-23h0m73 27h0m27-26h0m8 24h0m2-10h0m-596 53h0m21-6h0m40-24h0m35 35h0m7 0h0m15-35h0m2 26h0m26-20h0m2 10h0m27 0h0m20-5h0m8 9h0m37-16h0m10 24h0m65-2h0m18 5h0m1-8h0m41 9h0m6-2h0m11-2h0m8-21h0m12 27h0m45 3h0m2-27h0m11-11h0m29 33h0m80-17h0m8-6h0m1-6h0m2 23h0m24 8h0m7-6h0m17-14h0m-579 50h0m15 2h0m21-2h0m12-20h0m15 33h0m2-28h0m9 20h0m11-12h0m22-5h0m11-9h0m10-1h0m19 33h0m2-31h0m5 16h0m10-3h0m10 10h0m21-15h0m50-13h0m4 6h0m14 21h0m27-23h0m20 13h0m5-14h0m40 31h0m0-4h0m12-4h0m20-13h0m3 14h0m18-16h0m30 10h0m2-21h0m12 33h0m126-15h0m-601 55h0m7-30h0m25 1h0m3 3h0m1 1h0m5 10h0m2-10h0m23-1h0m8-1h0m5 16h0m1 4h0m33 6h0m3-5h0m7-16h0m10 14h0m47-9h0m14-10h0m12 1h0m84 10h0m5 0h0m2 7h0m62-6h0m47-3h0m72 0h0m17-9h0m0-3h0m72 27h0m4 5h0m20-2h0m5-32h0m-491 52h0m20 12h0m1-3h0m9 13h0m1-28h0m37 25h0m42-24h0m1 12h0m8-20h0m6 24h0m7-2h0m26 2h0m34-14h0m4-3h0m4-2h0m5 1h0m9 6h0m5 18h0m16-10h0m20-3h0m-254 48h0m44-22h0m34 9h0m4-9h0m3 14h0m50-11h0m3 0h0m6 7h0m60 10h0"/>
<path stroke="#9f96ce" d="M1213 1362h0m-76 87h0m116 35h0m-103 215h0m-81 56h0m32 1h0m1-33h0m11 29h0m83 9h0m-82 86h0m-61 42h0m56 37h0m32 41h0"/>
<path stroke="#e5a9c3" d="M790 1534h0m-14 119h0m-47 50h0m-38 24h0m23 5h0"/>
<path stroke="#b17c9d" d="M666 1506h0m10-1h0m43 30h0m3 23h0m20 46h0m10 4h0m-53 32h0m50 95h0m34-10h0"/>
<path stroke="#0f9676" d="M1482 1038h0m135-2h0m19 1h0m-199 28h0m26 1h0m1-5h0m47-14h0m6 28h0m10-10h0m20-16h0m25 28h0m15-15h0m9 11h0m10 0h0m1-16h0m2-14h0m64 11h0m33 23h0m-319 18h0m10-14h0m1 21h0m4-17h0m4 24h0m25 0h0m15 9h0m10-16h0m0-16h0m2 17h0m4 0h0m3 6h0m27-14h0m2 2h0m5-6h0m17-6h0m21-4h0m18 5h0m6-4h0m2 26h0m44 7h0m24-20h0m43 23h0m22-18h0m16 12h0m-395 41h0m24-4h0m11-25h0m29 2h0m10 19h0m9 14h0m17-27h0m27-10h0m8 3h0m0 17h0m11 10h0m27-29h0m0 3h0m27 19h0m53-1h0m3-13h0m36 14h0m17-20h0m14 22h0m0-19h0m20 0h0m4 5h0m26 14h0m10-4h0m0 4h0m19-14h0m16 25h0m18-27h0m-451 42h0m16-10h0m3 17h0m19-19h0m36 33h0m16-7h0m3 2h0m13-7h0m10-5h0m43-10h0m6 21h0m3-1h0m3 3h0m12-6h0m62-2h0m5 10h0m24 0h0m51-9h0m5 13h0m4-14h0m3-11h0m24 10h0m10 13h0m31-23h0m7-4h0m4 4h0m8 5h0m10-7h0m-490 68h0m44-27h0m7 11h0m8 6h0m38 2h0m16 3h0m15-22h0m61 27h0m7-30h0m8 24h0m2-1h0m18 0h0m2-6h0m13 13h0m22-22h0m3 3h0m8 18h0m12-11h0m0-15h0m48 8h0m19 17h0m17 4h0m8-9h0m6-14h0m1-1h0m9 8h0m27 12h0m7-32h0m36-2h0m16 14h0m-470 59h0m18-20h0m13-11h0m12-2h0m48 9h0m4-2h0m12 27h0m2-23h0m10 11h0m34 11h0m9-33h0m23 30h0m36-17h0m15 15h0m12 9h0m5-16h0m8-3h0m4 3h0m1-15h0m0 14h0m4-18h0m27 12h0m35 4h0m4-8h0m20 23h0m11-14h0m1 14h0m23-28h0m4 32h0m4-19h0m6-2h0m-465 37h0m56-4h0m26 24h0m28-21h0m0-1h0m8 11h0m24-19h0m12 0h0m15 14h0m23-1h0m13 1h0m14 16h0m25-25h0m23 4h0m7 26h0m11-25h0m5 17h0m8 2h0m25-9h0m7-17h0m40 12h0m20 13h0m23-26h0m4-6h0m7 27h0m27-6h0m12 3h0m22-22h0m4 22h0m7 13h0m-484 16h0m27-11h0m1 10h0m1-3h0m6 4h0m27 11h0m118 10h0m2-21h0m15-12h0m26 33h0m13 0h0m10-20h0m24-8h0m26-3h0m9 9h0m6-7h0m13 25h0m40-23h0m5 17h0m4-18h0m29-4h0m5 2h0m6 30h0m4-11h0m1-2h0m7 17h0m14-5h0m3-5h0m3-16h0m3-2h0m14 26h0m-352 21h0m41-2h0m2 1h0m18 17h0m9-6h0m5-25h0m4 2h0m4 2h0m2 18h0m1-23h0m11 21h0m46-11h0m8-7h0m7 3h0m45 5h0m1 27h0m33-11h0m41 10h0m12-15h0m24 3h0m28-17h0m12-4h0m-415 55h0m149-3h0m6 0h0m30-12h0m33 24h0m8-3h0m25-22h0m6 17h0m25-5h0m33 15h0m3-4h0m27-8h0m36 19h0m21-38h0m1 4h0m8-1h0m-171 49h0m3-3h0"/>
<path stroke="#d2df71" d="M1198 2238h0m91 29h0m2 14h0m18 9h0m33 13h0m40 9h0m20-7h0m44-3h0m-215 50h0m10-22h0m2 2h0m35 18h0m34-22h0m69 0h0m28 0h0m14 4h0m31 11h0m3-5h0m46 16h0m-195 6h0m16 3h0m111-3h0m6 16h0m17-8h0m71 31h0m-212 30h0m35 1h0m21-23h0m35-2h0m71 4h0m22 6h0m33-7h0m69 23h0m-381 13h0m1 27h0m4-15h0m69-15h0m26 11h0m1-10h0m12-1h0m72 5h0m14 0h0m46 28h0m59 2h0m16-21h0m17 14h0m3-6h0m40-8h0m10 0h0m-273 38h0m63-11h0m5 9h0m7-1h0m3 13h0m6-22h0m15 11h0m41 0h0m42-5h0m13 21h0m41-15h0m0 29h0"/>
<path stroke="#b0b8c8" d="M1191 1450h0m65-7h0m-64 57h0m21 54h0"/>
<path stroke="#b9cd22" d="M1201 2236h0m31-4h0m-28 9h0m26 29h0m27 1h0m4-22h0m10 25h0m89-4h0m0-16h0m-176 64h0m16-31h0m15 18h0m16-19h0m29 3h0m36 9h0m0-17h0m12 8h0m12-8h0m8 6h0m2 28h0m5-22h0m24 25h0m3-2h0m1 3h0m7-18h0m10 8h0m3-27h0m24 11h0m37 7h0m48 16h0m-302 26h0m6-10h0m56 17h0m44-9h0m16 11h0m13-8h0m0 4h0m22-14h0m0 20h0m14-15h0m11-16h0m16 20h0m15 16h0m25-35h0m1 16h0m3 19h0m113-11h0m4-13h0m-384 40h0m7-1h0m60 7h0m65 6h0m19-26h0m13 39h0m22-35h0m19 8h0m2 0h0m6 18h0m4-10h0m4-5h0m27 7h0m7 16h0m20-30h0m0 22h0m25-3h0m15 4h0m2-12h0m14 20h0m27-6h0m34-28h0m-363 51h0m4-12h0m1 17h0m0 18h0m18-25h0m31 0h0m1 7h0m7 6h0m4-5h0m2-12h0m5 13h0m0 2h0m6 14h0m10-9h0m12-5h0m8-2h0m1 0h0m35 5h0m8-1h0m5-24h0m11 33h0m27-16h0m22 16h0m8-27h0m15 21h0m9 5h0m15-27h0m0 2h0m7 9h0m6-10h0m13 17h0m1-18h0m8-1h0m2 30h0m4-10h0m14 12h0m8-39h0m24 35h0m5-25h0m25 14h0m92 6h0m19-9h0m-509 41h0m71 16h0m1-20h0m8 21h0m23-11h0m18-28h0m10 28h0m6-10h0m29 4h0m17-22h0m10 17h0m7 2h0m5 17h0m5-10h0m17-25h0m34 0h0m4 5h0m2 15h0m1-3h0m4-10h0m45 5h0m12-5h0m13 0h0m1 9h0m15-10h0m9 14h0m33 18h0m4-10h0m24-22h0m14 7h0m8 23h0m8-16h0m4 7h0m1-19h0m-370 38h0m37 3h0m18 26h0m21-27h0m8-6h0m20 5h0m13 2h0m15-1h0m3 6h0m2-8h0m8-4h0m19 15h0m20-16h0m23 11h0m5 2h0m6 7h0m0 12h0m36 1h0m7-27h0m37-1h0m34 17h0m9-13h0m11 27h0m-185 9h0m64-7h0m5 20h0m57-19h0"/>
<path stroke="#6f8ebf" d="M1074 1758h0m259 18h0m-135 36h0m42 21h0m39-20h0m63 4h0m16-13h0m13 6h0m-127 62h0m3 3h0m4-1h0m62 3h0m103-12h0m-276 27h0m31-6h0m30 8h0m43-11h0m16 3h0m17 6h0m103 18h0m-150 39h0m61 6h0m18 4h0m28-2h0m37-22h0m1-9h0m70 21h0m22-21h0m23 21h0m-251 22h0m33 8h0m4 19h0m15 3h0m54-37h0m22-1h0m30 27h0m0-8h0m16 0h0m-225 59h0m22-32h0m1 21h0m31-12h0m29-4h0m95-2h0m26 0h0m53 6h0m30 15h0m-222 48h0m8-3h0m98-10h0m54-24h0m3 3h0m60 15h0m-234 59h0m50 0h0m146-30h0m59-3h0m1 36h0"/>
<path stroke="#e27aa6" d="M494 1478h0m15-11h0m0 1h0m6 3h0m38-12h0m13 11h0m28-15h0m1-1h0m9 15h0m-185 43h0m58-12h0m7 3h0m5-17h0m7 20h0m11 5h0m19-12h0m0 1h0m10 6h0m11-19h0m3-1h0m3 9h0m28 16h0m7-8h0m13 5h0m21-11h0m18-2h0m0 10h0m8-16h0m3 7h0m6 2h0m14-17h0m7 8h0m11 30h0m-232 27h0m11 10h0m15-32h0m4 18h0m12-1h0m1 7h0m3 10h0m0-14h0m16 4h0m2-20h0m16 17h0m11-18h0m24 16h0m0 11h0m3-12h0m5-16h0m5 19h0m3-4h0m4-5h0m3-4h0m3-3h0m20-9h0m21 27h0m13 9h0m19-23h0m9 2h0m-257 62h0m10-15h0m2 15h0m5 0h0m21-27h0m3-9h0m11 21h0m21-16h0m5 17h0m9-18h0m30 23h0m2-12h0m2-4h0m1 2h0m27 16h0m6 3h0m1-17h0m5 14h0m3-18h0m4-12h0m6 31h0m9-17h0m28-10h0m3 32h0m21 2h0m17-33h0m8 7h0m5-6h0m3 4h0m4 22h0m19-20h0m-315 33h0m54 34h0m5-24h0m6-3h0m6-2h0m35 4h0m1 7h0m22 1h0m7-19h0m14 8h0m3-11h0m42 12h0m4 22h0m1-8h0m0-22h0m13 6h0m20-3h0m9 26h0m7-26h0m10 1h0m5 25h0m7-12h0m3 9h0m2 9h0m1-7h0m5-11h0m15 16h0m12-27h0m-278 30h0m12 31h0m8 1h0m6-5h0m3-3h0m1-12h0m2-1h0m1 6h0m2 16h0m0-6h0m8 2h0m5-21h0m3 4h0m3 4h0m10-12h0m6 27h0m13-4h0m15-10h0m2-14h0m23 26h0m3-4h0m8-9h0m16 15h0m2 3h0m1-15h0m17 10h0m7-10h0m1 7h0m11 13h0m0-34h0m10-4h0m9 3h0m3 30h0m1 4h0m6-4h0m10-16h0m5-5h0m6 17h0m31 0h0m-300 15h0m14 19h0m10-2h0m21 7h0m8-25h0m26 30h0m16-29h0m10 22h0m14-13h0m8 15h0m3-6h0m31-8h0m6 8h0m14 11h0m7-5h0m5-1h0m1-27h0m36 4h0m5 13h0m1 5h0m2 14h0m1-32h0m1 33h0m1-8h0m9 5h0m4-17h0m4 12h0m27 1h0m-253 24h0m7 17h0m17-10h0m5 13h0m2-21h0m2 7h0m11-17h0m3 5h0m23 0h0m8 23h0m5-26h0m13 12h0m14-8h0m0 5h0m11-1h0m55-13h0m5 15h0m3 9h0m25 9h0m3-16h0m66 11h0m-309 46h0m9-6h0m7-18h0m6 13h0m12-16h0m9 1h0m14 26h0m14-18h0m1 7h0m3-10h0m3 16h0m9-4h0m4-11h0m11 21h0m2-22h0m27-10h0m20 28h0m6-29h0m0 27h0m36-2h0m2-15h0m0 25h0m4-33h0m6 6h0m1 15h0m15 1h0m34-2h0m0-19h0m3 24h0m4-10h0m3-11h0m17-6h0m-278 55h0m5-15h0m19 0h0m14 27h0m32-1h0m3-13h0m28-2h0m3 17h0m18-21h0m9-1h0m7 0h0m0 5h0m13-8h0m9 1h0m3 22h0m3-19h0m24 25h0m5-9h0m17 10h0m19-9h0m15 1h0m7-2h0m0 1h0m3 4h0m1-6h0m10 4h0m-232 38h0m2-21h0m11 28h0m0 5h0m10-25h0m0 8h0m2-4h0m3 18h0m13 0h0m12-18h0m22 11h0m7-12h0m3-6h0m2 4h0m14 19h0m16-19h0m5 6h0m1 9h0m16-28h0m3 34h0m29-30h0m18 30h0m18-35h0m2 1h0m12 9h0m5 3h0m11 1h0m-196 42h0m15 11h0m3 4h0m14-25h0m9 2h0m9-4h0m27 20h0m21 3h0m2-17h0m13 14h0m7-15h0m21 18h0m5-12h0m9-8h0m39 23h0m-207 31h0m40-14h0m4-8h0m1 4h0m17 5h0m18-5h0m2 7h0m11 18h0m4-20h0m3 17h0m11-8h0m1-9h0m1 26h0m27-16h0m29 3h0m3 16h0m5-30h0m2 6h0m1-11h0m1 36h0m11-37h0m-156 46h0m5-3h0m32 14h0m20-11h0m22-8h0m43 5h0m16 5h0m1-10h0m-49 48h0"/>
<path stroke="#9aa4c0" d="M1109 1352h0m100 81h0m79 33h0m-45 95h0m-53 130h0m-19 82h0m45-10h0"/>
<path stroke="#8a7cc0" d="M708 1507h0m39-21h0m4 14h0m26 16h0m25-19h0m-115 23h0m1 9h0m25 27h0m48-4h0m6-16h0m31 14h0m-117 17h0m42 17h0m17-10h0m8 15h0m6 8h0m2-32h0m-69 38h0m6 35h0m16-16h0m21 14h0m29-32h0m-41 53h0m20-12h0m68 5h0m-113 57h0m25-11h0m2 56h0m-64 37h0m78 7h0m49-6h0m24-5h0m-98 15h0m39 30h0m13-25h0"/>
<path stroke="#6fbe87" d="M1657 2070h0m8 33h0m-292 40h0m140-1h0m0 9h0m27 4h0m98-27h0m34 25h0m25-7h0m1 13h0m3-3h0m-456 34h0m92-24h0m86 15h0m88-8h0m5 8h0m109-19h0m123 17h0m-397 41h0m9-14h0m184 1h0m38 17h0m171-23h0m-322 39h0m7 9h0m125-6h0m6 34h0m14-7h0m28-30h0m1 22h0m48-11h0m5 3h0m7 60h0m35 4h0m38-18h0m-132 51h0m18 9h0m72 15h0"/>
<path stroke="#e791b6" d="M591 1461h0m10 1h0m1 7h0m1-18h0m22 7h0m6 6h0m10-21h0m-136 60h0m10 14h0m13-23h0m15 20h0m1-20h0m35 19h0m14-8h0m31 8h0m20-32h0m9 0h0m25 4h0m8 6h0m-240 43h0m36-14h0m22 38h0m1-34h0m9 26h0m20-3h0m1-10h0m12 13h0m24-26h0m18 6h0m20 12h0m28 1h0m29 4h0m4-6h0m27 3h0m-265 37h0m31-20h0m5 37h0m52-6h0m23-9h0m46-6h0m18 18h0m8-2h0m7-32h0m1 5h0m8 27h0m32-22h0m-258 66h0m10-21h0m5 21h0m42-32h0m66 23h0m1-12h0m9 12h0m1-18h0m25 23h0m4-4h0m38 6h0m25-18h0m7-13h0m20 0h0m34 16h0m-298 37h0m24 4h0m23-6h0m1-14h0m1 28h0m21 6h0m3-29h0m2 6h0m3 25h0m2-1h0m18 1h0m23-28h0m39-9h0m15 6h0m5 17h0m0-6h0m9 11h0m25-5h0m10-7h0m11 7h0m6 14h0m11-20h0m5 9h0m1 4h0m17-5h0m-245 43h0m2 9h0m19-17h0m37-9h0m14 20h0m1-19h0m33 18h0m9-11h0m8-19h0m48 29h0m8 1h0m2-13h0m34-9h0m19 1h0m4-2h0m11 5h0m-232 33h0m14 28h0m24-33h0m15 26h0m0-5h0m46-16h0m11 24h0m5-5h0m4 4h0m9 10h0m43-25h0m1-3h0m2 8h0m8 1h0m11-5h0m1 1h0m39-4h0m4 26h0m-260 40h0m45-3h0m10-21h0m12 8h0m22-14h0m14 25h0m6-4h0m8 2h0m37-10h0m35-20h0m3 13h0m37-12h0m15 37h0m1-33h0m19 27h0m-244 10h0m36 0h0m27 22h0m1-20h0m5 17h0m11 10h0m39-5h0m8-20h0m3 33h0m25-13h0m2-13h0m3-7h0m17 13h0m28-14h0m1 1h0m1 14h0m2-19h0m-190 54h0m12 15h0m27-11h0m7-8h0m17 22h0m12-2h0m10-21h0m13 6h0m14-1h0m4-6h0m4 23h0m10-10h0m3 8h0m20 3h0m-146 18h0m6 17h0m18-13h0m13 11h0m8 12h0m1-2h0m7 0h0m31-2h0m28-7h0m9-12h0m16-1h0m14 5h0m30 13h0m25-24h0m-187 59h0m37-7h0m2-8h0m6-2h0m56 21h0m24-3h0m1-20h0m10 7h0m4 17h0m22-16h0m-122 27h0m15 23h0m42 12h0m15-28h0"/>
<path stroke="#8f3848" d="M816 1312h0m-79 41h0m39-19h0m31-3h0m59 5h0m4-3h0m13 26h0m32-8h0m1 0h0m24-2h0m11 0h0m20-2h0m24-27h0m29 37h0m5 0h0m1-3h0m15-20h0m-306 37h0m51 19h0m13-18h0m11 8h0m31 1h0m1-14h0m3 25h0m12-23h0m23 6h0m4 18h0m4-3h0m4-29h0m12 22h0m1-23h0m2 14h0m14 12h0m7 2h0m12-28h0m3 12h0m4 6h0m14-7h0m2-2h0m7 14h0m14 13h0m10-28h0m1-8h0m4 13h0m11 6h0m14 15h0m3-16h0m4-17h0m1 31h0m6-2h0m21-9h0m20 5h0m-405 40h0m27-10h0m30 11h0m11 6h0m12-26h0m14 18h0m2 9h0m10-32h0m11 1h0m3 22h0m35 5h0m8-13h0m9 6h0m61-19h0m1 35h0m25-9h0m4-3h0m10 6h0m5-1h0m28-2h0m2-16h0m13 15h0m5-3h0m16-1h0m1-23h0m-330 52h0m4-6h0m27 26h0m11-12h0m2 1h0m2-22h0m37 8h0m11 14h0m13-20h0m8-3h0m0 0h0m8 26h0m7 5h0m12-15h0m1 10h0m2-21h0m10 27h0m7-22h0m25-5h0m3 3h0m4 9h0m34 15h0m22-27h0m4 8h0m14-9h0m7 2h0m35 2h0m8-2h0m-299 68h0m27-13h0m11-18h0m18 35h0m150-34h0m-231 48h0m6-10h0m15 20h0m62-7h0m13-8h0m44 29h0m-131 19h0m37 9h0m105 2h0m8 2h0m-154 33h0m85-3h0m43-12h0m3 30h0m5-1h0m1-31h0m4 6h0m-146 44h0m1 10h0m57 4h0m65 6h0m-51 29h0m11 2h0m38-25h0m-99 53h0m29 7h0m30-4h0m-68 27h0m71 30h0m-89 9h0"/>
<path stroke="#a2d6e3" d="M1120 1790h0m-108 345h0m33 46h0m-142 40h0m4-15h0m75 5h0m140-11h0m33 4h0m-268 60h0m8-21h0m31 17h0m41-14h0m8 29h0m5-4h0m2-7h0m37-11h0m114 12h0m15 30h0m-284 42h0m79-15h0m130 33h0m25-23h0m-170 29h0m63 22h0m28 12h0m1-17h0m26-4h0m18-1h0m50 11h0m26-12h0m26 1h0m4 2h0m-384 57h0m38-16h0m45-12h0m51 31h0m21-3h0m6-30h0m75 5h0m14-5h0m171 18h0m-417 57h0m139-1h0m6 0h0m73-12h0m19 13h0m21-19h0m91 5h0m4-14h0m33 9h0m-389 28h0m120 27h0m25-33h0m20 6h0m177 3h0m-122 47h0m33-10h0m54 9h0m84 16h0m9-25h0m-92 60h0"/>
<path stroke="#b4add9" d="M1178 1394h0m-25 322h0m-82 160h0m10-31h0m62 20h0m42-9h0m-71 32h0"/>
<path stroke="#65bba7" d="M1536 1028h0m-45 15h0m57-2h0m-55 57h0m9 14h0m69-4h0m20 4h0m18-19h0m-182 64h0m4-6h0m208-24h0m14 23h0m34-8h0m-403 39h0m26 8h0m75-6h0m153 2h0m41-8h0m19 0h0m50-1h0m2 1h0m36-14h0m-323 75h0m25-8h0m92-30h0m74 1h0m15 32h0m56-20h0m2 0h0m7-3h0m-318 41h0m30 22h0m37-12h0m33-7h0m91 24h0m20-11h0m83 3h0m2-11h0m24 1h0m18-16h0m28 26h0m3 2h0m20 7h0m-359 35h0m59-2h0m41-4h0m53 1h0m136-10h0m61 5h0m-261 40h0m40 14h0m97-38h0m73 25h0m24-20h0m-384 51h0m133-4h0m138 17h0m36-22h0m35-5h0m15 6h0m-320 36h0m114 9h0m174 26h0m69-28h0"/>
<path stroke="#c299b2" d="M644 1495h0m14 57h0m143-12h0m1 42h0m-138 74h0m50 15h0m105 3h0"/>
<path stroke="#d77aa2" d="M666 1469h0m50 21h0m-13 88h0m14 1h0m-3 22h0m60 9h0m3 5h0m-20 58h0m18-5h0m-34 61h0m-10 45h0m-27 35h0m42-7h0m13 3h0m11 52h0"/>
<path stroke="#a3abbb" d="M1107 1315h0m91 78h0m4-13h0m-92 26h0m27-5h0m71 16h0m33-14h0m1 10h0m6 26h0m5-30h0m-115 66h0m112-26h0m-4 37h0m-35 35h0m6 0h0m3 48h0m-28 64h0m-74 38h0m108 4h0m-154 20h0m91-10h0m-86 81h0m72 28h0m78 4h0m-137 62h0m43 10h0m70-14h0m4 3h0m-30 67h0"/>
<path stroke="#bec4d6" d="M1164 1803h0"/>
<path stroke="#476ead" d="M1091 1789h0m77-1h0m2-2h0m56-23h0m37-1h0m-153 67h0m130 8h0m1-27h0m12 28h0m55-33h0m49 20h0m4-12h0m66 21h0m-200 43h0m46-24h0m71-7h0m20 27h0m4-5h0m11-5h0m18-9h0m17 25h0m26-12h0m-142 13h0m8 6h0m13 13h0m33 8h0m10 5h0m12-10h0m50-10h0m33 6h0m-292 34h0m129 15h0m116-19h0m17-3h0m72 27h0m-318 40h0m32 5h0m6-31h0m24 21h0m61 7h0m42-19h0m12 18h0m8-10h0m7-14h0m5 20h0m8 7h0m40-15h0m28-7h0m12 4h0m20-3h0m49 10h0m-261 19h0m2 32h0m5-9h0m7-25h0m17 37h0m60-28h0m15-6h0m25-5h0m3 4h0m35 15h0m28 15h0m10-13h0m-326 53h0m72-15h0m62 16h0m45-33h0m38 36h0m2 0h0m3 1h0m4-30h0m24 25h0m30-13h0m23 8h0m3-23h0m22 11h0m26 18h0m13-22h0m1-2h0m21-4h0m-299 39h0m8 30h0m63-1h0m8-18h0m107-14h0m44 23h0m-243 20h0"/>
<path stroke="#e36d75" d="M1204 1533h0m18 17h0m88 9h0m16 5h0m-117 66h0m13-23h0m62-6h0m62 50h0m6 1h0m39 21h0m6-10h0m58 9h0m45 2h0m-113 29h0m61 11h0m-45 27h0m45-13h0m49 20h0m74-17h0m10 28h0m8 0h0m58-2h0m5-4h0m-278 9h0m60 22h0m3-4h0m71 9h0m61-27h0m46 4h0m51 28h0m-148 10h0m63-2h0m41 24h0m-153 27h0m107 22h0m24 3h0m29-7h0m17-9h0m8-13h0m11-3h0m16 13h0m18 18h0m-215 25h0m97-4h0m22-6h0m27 14h0m43-20h0m2 17h0m15-23h0m14 3h0m-176 67h0m5-17h0m11-5h0m72-1h0m20 1h0m37 10h0m40-3h0m8-12h0m-195 42h0m52 3h0m20 21h0m29-28h0m19 30h0m48 2h0m23-4h0m-44 37h0m41-13h0"/>
<path stroke="#968ece" d="M1003 1464h0m5 6h0m31 0h0m18-30h0m26 19h0m18 7h0m112-4h0m-400 30h0m27 19h0m5-27h0m17 4h0m90 25h0m23-32h0m9 1h0m14 19h0m26 17h0m17-24h0m41 2h0m2 13h0m33-28h0m-361 69h0m10-13h0m6-5h0m39-6h0m5 14h0m46-15h0m21 2h0m29 4h0m133 15h0m15-21h0m16 33h0m-327 39h0m19-16h0m28-16h0m15 16h0m39 9h0m83-25h0m37 34h0m17-7h0m29 6h0m34-26h0m6-9h0m38 35h0m43-15h0m4 2h0m13-14h0m-396 68h0m45-34h0m23 5h0m30 6h0m49 17h0m3-31h0m10 23h0m9-14h0m18 26h0m31-16h0m1-16h0m30 32h0m52 0h0m54-29h0m13 22h0m37-14h0m25-14h0m-437 45h0m0 14h0m12-16h0m1 23h0m23-13h0m23 0h0m13 3h0m12-1h0m32 2h0m82-9h0m26 8h0m53 7h0m3 11h0m14-15h0m9 17h0m30-5h0m53-9h0m22 13h0m-430 3h0m1 17h0m5 20h0m4-21h0m13 8h0m10 0h0m8-24h0m26 6h0m2 33h0m50-32h0m3 16h0m6-3h0m8 11h0m57-7h0m12-5h0m19 20h0m19-25h0m5 3h0m15-7h0m0 11h0m36-14h0m16-4h0m9 33h0m4-5h0m54-8h0m30-7h0m3 17h0m26 2h0m-436 41h0m0-15h0m21 15h0m2-32h0m33 31h0m14-5h0m1 3h0m55 6h0m7-21h0m14 12h0m26-30h0m42 11h0m41 1h0m6 22h0m5-2h0m9 1h0m5-10h0m0-5h0m1-14h0m32 12h0m8 3h0m23-17h0m37 2h0m39 24h0m-422 15h0m11 4h0m21 0h0m2 3h0m43-1h0m18 5h0m96 0h0m60 20h0m49-22h0m48-4h0m87 0h0m-425 39h0m12 23h0m1 3h0m18-32h0m1 10h0m38 12h0m25 4h0m15-9h0m13 17h0m1-15h0m24-2h0m37 19h0m37-10h0m6-10h0m5-9h0m18 26h0m65-30h0m29 15h0m16-10h0m11 12h0m27 6h0m-383 18h0m4-2h0m5 21h0m27 7h0m13-30h0m8 1h0m23 18h0m5 14h0m2-1h0m68-9h0m7-2h0m16 8h0m13-18h0m14 16h0m77-11h0m11-12h0m20 8h0m-266 48h0m39-13h0m13 9h0m52 10h0m16-11h0"/>
<path stroke="#b77f89" d="M831 1345h0m-81 22h0m32-3h0m12 12h0m41 11h0m16-6h0m16 12h0m43 4h0m18 0h0m125-2h0m27-3h0m-294 27h0m15 17h0m20-9h0m19-22h0m191 10h0m-264 57h0m8 0h0m25-13h0m102-14h0m31-2h0m53 24h0m-265 47h0m66-19h0m207-1h0m-201 66h0m-113 68h0m17-2h0m13-21h0m71 20h0m-16 59h0m27 18h0m-109 38h0m123-5h0m-30 44h0m37-1h0"/>
<path stroke="#a35b68" d="M808 1343h0m87 9h0m53-20h0m1 10h0m26 17h0m16-33h0m-233 58h0m7-3h0m3 5h0m16-13h0m4 19h0m41-3h0m13 3h0m4-11h0m1 4h0m45-20h0m8 30h0m14-5h0m25-2h0m84-14h0m-320 58h0m26-6h0m4 6h0m24-1h0m10-19h0m4 11h0m7 3h0m13-9h0m29 8h0m3 9h0m22-4h0m22-28h0m28 5h0m28 20h0m11-5h0m33-19h0m19 4h0m50 12h0m-330 47h0m1 9h0m31 1h0m18-11h0m6-25h0m18 27h0m23-8h0m1 10h0m18-26h0m15 36h0m3-16h0m38 8h0m3-5h0m10-1h0m16-20h0m47 33h0m21-18h0m2-20h0m7 3h0m60 2h0m-346 40h0m47 5h0m14-2h0m36 26h0m8-13h0m31 15h0m-137 36h0m12-3h0m35-21h0m67 4h0m-92 32h0m119 35h0m-122 5h0m28 16h0m-71 26h0m2-2h0m39 7h0m1 4h0m-28 48h0m26 51h0m26-17h0m14-7h0m-48 39h0m109 16h0m-98 71h0"/>
<path stroke="#d6d9e0" d="M1190 1338h0m31 246h0m1 33h0"/>
<path stroke="#db444e" d="M1198 1583h0m6-15h0m45 15h0m23 16h0m13-6h0m2-22h0m52-3h0m28 60h0m37-4h0m-137 23h0m14-3h0m152 12h0m9 7h0m32 1h0m13 12h0m-176 21h0m27 22h0m16-3h0m4-31h0m26 7h0m75 14h0m9-3h0m53-11h0m10 21h0m54 3h0m-207 26h0m18-19h0m9 14h0m27 16h0m22-8h0m49 6h0m11 5h0m18-20h0m39 2h0m13 8h0m-149 53h0m4-4h0m3-27h0m89 2h0m11 6h0m13-1h0m29-13h0m53 11h0m0 22h0m2-4h0m15-12h0m17-14h0m6 20h0m9-6h0m16 1h0m-205 47h0m9-21h0m10-4h0m3 14h0m33 8h0m27 15h0m17-19h0m21 6h0m2-5h0m0 15h0m3-27h0m50 12h0m2-16h0m1 6h0m5 24h0m14-28h0m12 29h0m27-35h0m19 29h0m-306 19h0m22-1h0m4 17h0m8-9h0m6 19h0m13-35h0m5 1h0m48 28h0m7-27h0m11 22h0m18-19h0m25 18h0m43-17h0m26 20h0m21-11h0m20-13h0m5 7h0m-152 59h0m3-26h0m22 23h0m45 9h0m8-8h0m6-19h0m14 14h0m14-12h0m21-3h0m2 24h0m-222 21h0m50-6h0m3 30h0m5-12h0m12-7h0m22 13h0m36-13h0m24-10h0m36 12h0m16-3h0m8-5h0m47-1h0m10 10h0m-189 36h0m20 20h0m36-29h0m42 28h0m1-26h0m86 24h0m-127 16h0m8 3h0m6-2h0m96 26h0m-46 11h0m2 29h0m28 16h0m13 13h0"/>
<path stroke="#6fbfd4" d="M1207 1389h0m51 65h0m-36 58h0m31-31h0m-97 273h0m41-3h0m2 32h0m-127 374h0m111 2h0m-289 35h0m53-2h0m39-13h0m56 11h0m24-26h0m11 15h0m51 20h0m-274 17h0m53-3h0m50 22h0m1-1h0m39 4h0m67-11h0m26-16h0m29 4h0m27-9h0m9 0h0m-233 66h0m23-9h0m18-7h0m18 2h0m54-18h0m7 24h0m22-16h0m3-8h0m5 19h0m40 6h0m9-22h0m1 27h0m16-22h0m8 8h0m17 3h0m-308 53h0m16-15h0m2 20h0m0-22h0m8 14h0m5 5h0m1-24h0m2 6h0m35 14h0m26-18h0m5 8h0m1-15h0m33 23h0m2-21h0m7 21h0m3-8h0m47-3h0m11-5h0m2 25h0m4-31h0m27 32h0m16-38h0m27 19h0m13-10h0m13 26h0m10 1h0m4-12h0m1-18h0m19 13h0m-354 28h0m23 6h0m5 11h0m20 9h0m1-21h0m3-9h0m13-1h0m4 23h0m19-16h0m17 13h0m12-22h0m5 2h0m2 24h0m11 5h0m1-13h0m14-16h0m2 3h0m2 13h0m10-2h0m24 0h0m5-14h0m3 35h0m26-26h0m22 12h0m3 12h0m5 3h0m34-27h0m4 20h0m2 0h0m11-25h0m0-2h0m5 1h0m1 6h0m3 21h0m17-20h0m15 22h0m-352 28h0m42 10h0m3-26h0m4 16h0m15-22h0m1 36h0m4 2h0m1-19h0m16-6h0m4 17h0m8-21h0m8 17h0m35-22h0m15 6h0m13-7h0m15 13h0m9 12h0m0-28h0m6 14h0m6 1h0m4 23h0m7-14h0m5 5h0m11-27h0m7 14h0m18 6h0m8 6h0m7 9h0m19-35h0m9 28h0m58-29h0m9 4h0m-378 39h0m41 12h0m4 3h0m29-9h0m0 7h0m11-9h0m21 10h0m2-9h0m2 2h0m29-7h0m70 17h0m16 4h0m6-23h0m27 34h0m1-13h0m3-21h0m8 36h0m3-11h0m4 10h0m22 0h0m27 1h0m1-21h0m2-4h0m30 25h0m8-1h0m-413 40h0m42-37h0m5 2h0m8 19h0m29-21h0m4 38h0m13-28h0m6 22h0m29-3h0m12-16h0m14 18h0m4 1h0m9-30h0m6 25h0m11-15h0m5 23h0m19-19h0m4 16h0m7-1h0m7-24h0m4 8h0m1 6h0m4-14h0m16-6h0m18 37h0m32-7h0m13-7h0m8-19h0m14-4h0m27 11h0m1-10h0m0 20h0m2 16h0m26-20h0m8 1h0m11-1h0m8 5h0m8 8h0m-398 25h0m3-12h0m64 2h0m69 29h0m129-5h0m7-14h0m20 12h0m52 11h0m8-31h0m21 15h0m2-9h0m-309 37h0m7 2h0m34 19h0m28-10h0m6-9h0m28 3h0m4-9h0m34 1h0m5-8h0m4 17h0m15 12h0m19-7h0m12 0h0m64-10h0m12 10h0m3-22h0m8 3h0m8 2h0m1-5h0m-107 47h0m11 7h0m7 9h0m34-12h0m18 22h0m6-18h0m3-4h0m22-8h0m13 26h0m1 10h0m6-5h0m-19 24h0m34-14h0"/>
<path stroke="#b4abd6" d="M698 1546h0m45 7h0m-42 53h0m37 42h0m-49 54h0"/>
<path stroke="#47ac66" d="M1504 2108h0m219-28h0m-474 64h0m211 15h0m49-19h0m40 16h0m16-23h0m7 17h0m22-12h0m3-5h0m6-13h0m27 37h0m19-18h0m6-10h0m0 24h0m18 4h0m29-14h0m10 16h0m11-35h0m-370 65h0m45-24h0m0 13h0m17 19h0m7-37h0m68 30h0m33-29h0m3 23h0m9-6h0m7-15h0m57 28h0m10-25h0m33 29h0m31 4h0m26-19h0m4 9h0m11-25h0m-437 49h0m92 2h0m21-9h0m57 30h0m11-29h0m42 12h0m20-8h0m27 0h0m28 2h0m7-5h0m23 20h0m9-19h0m2 4h0m7 3h0m41 6h0m11 4h0m77-11h0m4-11h0m-307 49h0m3 2h0m65 24h0m40-11h0m1-15h0m21-7h0m47 16h0m3-22h0m0 18h0m6-17h0m35 35h0m26-12h0m9-6h0m3-16h0m14 4h0m-172 56h0m47-11h0m115 1h0m-93 54h0m66-25h0"/>
<path stroke="#de91b2" d="M710 1491h0m7-7h0m24 95h0m-94 76h0m30-3h0m27 37h0m57 47h0m-25 59h0m6-29h0m17 37h0"/>
<path stroke="#4f2890" d="M1251 2511h0m17 7h0m113-1h0m55-5h0m0-9h0m5-2h0m-250 25h0m22 6h0m6 22h0m25-25h0m0 29h0m9-31h0m30 16h0m0-3h0m2-19h0m13 0h0m15 35h0m3-29h0m26 28h0m3-20h0m14 4h0m1-16h0m5 21h0m38-17h0m14 26h0m45-16h0m3 16h0m3 6h0m29-27h0m50 7h0m15 20h0m8-39h0m2 37h0m-368 27h0m4-15h0m10-8h0m37 31h0m1-26h0m5 12h0m5-5h0m1-8h0m6 11h0m3-13h0m3 4h0m50 27h0m2-10h0m12 3h0m5 2h0m12 0h0m2-6h0m12 13h0m14-23h0m6-12h0m5 15h0m8-14h0m10 28h0m21 6h0m54-15h0m20-17h0m23 5h0m8 19h0m19-23h0m54-1h0m13 26h0m-436 11h0m34 12h0m6 25h0m7-7h0m9 1h0m1-23h0m14-8h0m8 22h0m0-4h0m6 5h0m21-11h0m8 12h0m2-4h0m3-13h0m13 7h0m6-2h0m12-4h0m26 24h0m12-32h0m4 33h0m3-23h0m9 10h0m27 4h0m4 6h0m3-13h0m6 21h0m12-8h0m3 7h0m2-26h0m34-7h0m20 8h0m3 7h0m3-8h0m9 5h0m5-12h0m4 10h0m18 22h0m14-5h0m3-32h0m15 7h0m51 12h0m5 1h0m-442 33h0m13 11h0m12 7h0m14-14h0m15 19h0m5 2h0m5-34h0m3 11h0m2 24h0m9-29h0m2 16h0m2-1h0m13-16h0m8 18h0m23 12h0m5-1h0m16-5h0m21-25h0m3 20h0m1 0h0m7-24h0m3 28h0m2-32h0m13 4h0m10-1h0m8 1h0m3 11h0m4 8h0m14-12h0m1-6h0m0 23h0m5-21h0m4 14h0m33-20h0m10 32h0m18 0h0m0-32h0m2 35h0m16-22h0m0-4h0m6-2h0m7 7h0m1 10h0m2-20h0m2 27h0m12-11h0m1 0h0m4 6h0m1-27h0m1 5h0m6 23h0m27-28h0m18 1h0m1 26h0m-360 42h0m4-18h0m14 15h0m11 6h0m21-26h0m30 21h0m1 7h0m4-16h0m19 2h0m0-19h0m4 24h0m5-15h0m0-2h0m16 9h0m34 15h0m6-2h0m32-7h0m21 6h0m10-15h0m2-13h0m19 30h0m0-28h0m4 31h0m0-30h0m11 25h0m0-20h0m20 9h0m11 10h0m5 2h0m2-17h0m22 26h0m4-17h0m17-13h0m4 3h0m14 12h0m-313 38h0m38 1h0m8 7h0m0-1h0m8-16h0m24 12h0m4-3h0m3-12h0m13 9h0m5-7h0m2-12h0m11 27h0m11-8h0m8-10h0m1 9h0m16-11h0m3-2h0m30 2h0m37 7h0m9 1h0m22-7h0m47-8h0m-60 47h0"/>
<path stroke="#ada7d9" d="M858 1467h0m85-1h0m33-13h0m0 24h0m10-36h0m63 36h0m11-23h0m104 24h0m-373 6h0m7 13h0m5-11h0m93 30h0m1-36h0m8 12h0m3 26h0m3-14h0m0-4h0m22 14h0m28-9h0m32-23h0m29 28h0m145-2h0m-384 37h0m9 13h0m0-13h0m35 13h0m19-31h0m5 15h0m65-19h0m147 9h0m24-3h0m22-8h0m30 21h0m-256 40h0m9 1h0m113 15h0m1-6h0m1-24h0m81 19h0m-221 25h0m36 23h0m12-18h0m106 18h0m75-7h0m4-14h0m-85 26h0m0 36h0m11-11h0m4-4h0m30 11h0m20-4h0m68 6h0m-423 13h0m22 12h0m132-10h0m73 4h0m164-1h0m33-9h0m16 6h0m-453 33h0m150 5h0m90-7h0m3 7h0m22 7h0m7 10h0m25-13h0m69 28h0m76-38h0m-373 48h0m3 26h0m0-35h0m34 10h0m91 28h0m8-34h0m1 0h0m14 27h0m42-19h0m8 21h0m87 6h0m74-28h0m13 1h0m-357 66h0m10-12h0m58-25h0m22 36h0m22-3h0m7-23h0m14 26h0m29-29h0m-18 69h0m18-19h0m5 2h0m23 4h0m6 0h0m113 1h0m53-17h0m-235 39h0"/>
<path stroke="#f08418" d="M1004 1865h0m57 7h0m7-14h0m7 17h0m41-11h0m-560 50h0m57 3h0m25 0h0m21-10h0m20 9h0m29 0h0m26-7h0m31-8h0m36-2h0m54 20h0m48-12h0m31 10h0m23-15h0m6 7h0m1-2h0m2-17h0m15 25h0m9-7h0m10-7h0m16 14h0m10-16h0m29-7h0m11-1h0m4 7h0m4 6h0m5-3h0m16-4h0m0-10h0m3 17h0m1-14h0m42 10h0m-618 23h0m11 9h0m6 5h0m2 4h0m46 4h0m3 3h0m16 2h0m1 1h0m16 4h0m66-16h0m5 13h0m2-21h0m13-6h0m19 30h0m34-19h0m6 0h0m1-10h0m13 10h0m37-9h0m14 27h0m16-5h0m9-6h0m3-10h0m14 17h0m6 1h0m9 2h0m2-22h0m11 8h0m6 18h0m1-24h0m12 8h0m24-4h0m11-2h0m43 22h0m3-34h0m7 24h0m8-3h0m14 13h0m67-29h0m8 1h0m7 30h0m9-29h0m3-1h0m0 21h0m14 6h0m3-34h0m-631 72h0m4-12h0m15-1h0m17 18h0m1-3h0m27-34h0m2 4h0m7 22h0m0-15h0m6-3h0m11 0h0m8 7h0m4-14h0m11 5h0m5 6h0m10 1h0m19-2h0m1 13h0m20-17h0m9 11h0m16 9h0m14-19h0m6 6h0m6-12h0m21 0h0m6 9h0m13-3h0m1 18h0m10-19h0m2-1h0m13 19h0m5-11h0m29-7h0m13 16h0m7-19h0m38 18h0m8 15h0m13-4h0m26-30h0m7-3h0m10 37h0m11-6h0m6-26h0m5 6h0m14-10h0m19 3h0m17 5h0m24 22h0m11-32h0m1 29h0m40-26h0m13 26h0m3 6h0m2-28h0m3-1h0m16-4h0m10 24h0m5 7h0m2-10h0m1 2h0m7 4h0m1-7h0m-639 44h0m12-25h0m5 5h0m11 7h0m3 23h0m0-2h0m23-1h0m16-14h0m18-4h0m3-5h0m6-7h0m1 19h0m9-20h0m2 5h0m5 29h0m2-33h0m22 15h0m7-9h0m4-7h0m15 32h0m6-11h0m23 0h0m29-6h0m1 15h0m27-19h0m1 16h0m2-4h0m14-15h0m4 16h0m16 6h0m19 0h0m23-13h0m11 8h0m21-4h0m12-12h0m1 15h0m20 4h0m12-24h0m24 0h0m6 6h0m6-11h0m22 8h0m10 10h0m11-16h0m3 4h0m15 10h0m4 2h0m28 4h0m5-23h0m1 30h0m3 0h0m13-2h0m25-19h0m0-10h0m11 17h0m4 21h0m6-33h0m2 14h0m7 13h0m2-19h0m-567 45h0m20 13h0m1-8h0m6 12h0m69-15h0m14 18h0m10-36h0m12 2h0m5 10h0m7 15h0m20 4h0m23-13h0m3 6h0m4-19h0m36-6h0m8 4h0m1-2h0m19 1h0m6-4h0m3 32h0m5-19h0m2-4h0m18 9h0m10-3h0m30 18h0m2-14h0m2-15h0m15 21h0m2-19h0m5 1h0m19 29h0m9-31h0m5 21h0m7-21h0m11-1h0m10 7h0m14 19h0m0-21h0m1 24h0m19-19h0m11-13h0m19 24h0m17 9h0m15-9h0m4-23h0m2-1h0m4 9h0m0-2h0m6 9h0m55 2h0m-597 28h0m7-7h0m3 4h0m10 19h0m0-4h0m2-6h0m0 15h0m25-7h0m3-21h0m8 0h0m13 24h0m21-13h0m4 19h0m0-16h0m18 19h0m0-17h0m0 1h0m16-12h0m9 34h0m2-16h0m16-10h0m5-7h0m29 6h0m5-3h0m7 3h0m18-11h0m4 29h0m2-21h0m13-8h0m5 25h0m2-25h0m30 37h0m0-21h0m13 9h0m6-20h0m11 16h0m28 1h0m37-18h0m6 10h0m2-6h0m6 0h0m21-6h0m24 15h0m5-4h0m26-5h0m10 13h0m28-8h0m5 12h0m15-19h0m42 5h0m-526 30h0m2 13h0m4 5h0m16-5h0m29-14h0m8 13h0m6 4h0m12 17h0m0-33h0m1 22h0m8-22h0m1 28h0m12-13h0m7 9h0m1-6h0m68-3h0m17-9h0m43-8h0m19 5h0m14 30h0m11-16h0m47-4h0m6-13h0m47-1h0m205 2h0m-509 53h0m32-11h0m0 4h0m12-2h0m10 30h0m1-29h0m14-6h0m20 6h0m0 2h0m28-9h0m10 4h0m9-3h0m18 4h0m7-1h0m-79 38h0"/>
<path stroke="#c4c9d3" d="M1236 1533h0m-74 61h0m27 37h0m28-12h0m-103 62h0m13 64h0m120 31h0"/>
<path stroke="#c0c4d0" d="M1114 1348h0m-16 37h0m117 4h0m11 29h0m14 33h0m1 36h0m-43 315h0"/>
<path stroke="#3aa88e" d="M1465 1079h0m9-13h0m7-21h0m2-5h0m18 19h0m35 6h0m38-22h0m20 1h0m25 28h0m27-5h0m45-26h0m-256 66h0m31-7h0m4 18h0m12-6h0m44-12h0m22-7h0m6 11h0m1 9h0m45-32h0m0 14h0m1 15h0m6-2h0m15-14h0m22-12h0m35 13h0m6 14h0m1-8h0m3 6h0m4-3h0m6 9h0m18-13h0m-387 23h0m9 11h0m4 6h0m30-2h0m45 17h0m10-16h0m5 5h0m16-23h0m69 6h0m13 32h0m17-20h0m22 13h0m51-2h0m6 5h0m15-30h0m66 12h0m-414 25h0m6 19h0m83-14h0m88 5h0m3 7h0m18-7h0m21 26h0m7-29h0m5 6h0m6 10h0m9-25h0m18 9h0m14-4h0m31 19h0m25 10h0m7-10h0m18-3h0m3 4h0m30-5h0m3 4h0m42-23h0m5 20h0m-334 20h0m63 3h0m10 6h0m4 2h0m47 16h0m54 2h0m80-28h0m2 34h0m12-3h0m4-15h0m36-13h0m2 9h0m-397 42h0m11 2h0m1 21h0m35-22h0m12-8h0m18 17h0m8-18h0m14 22h0m76-19h0m4 3h0m9-1h0m6 3h0m20 21h0m6-33h0m23 5h0m4 7h0m8 15h0m1-31h0m14 25h0m26-8h0m44 17h0m4-30h0m15 20h0m-473 27h0m24 11h0m23 6h0m53-21h0m7 11h0m27-12h0m17 4h0m34 23h0m23-20h0m72 6h0m13 3h0m40-6h0m0-11h0m34 8h0m43-3h0m15 11h0m10 6h0m3-10h0m21 16h0m-467 11h0m52 28h0m37 2h0m15 0h0m72 5h0m32-38h0m23 13h0m52 25h0m60-4h0m30-22h0m3 1h0m83-12h0m-363 63h0m109-10h0m44 4h0m6-6h0m17 10h0m40-5h0m3 20h0m9-7h0m11-3h0m20-20h0m51 3h0m31 22h0m-453 15h0m199-6h0m75 29h0m22-26h0m32 13h0m52-7h0m21 1h0m43 2h0m-152 29h0"/>
<path stroke="#d41c28" d="M1260 1555h0m-39 34h0m7-25h0m77 8h0m3 25h0m15-28h0m72 19h0m20 1h0m-146 26h0m39 15h0m26 2h0m8-2h0m8-5h0m35 3h0m0 8h0m19-21h0m12-6h0m24 23h0m-157 40h0m17-26h0m2 20h0m8-10h0m36-8h0m0-6h0m11 22h0m12-15h0m7 18h0m0-13h0m43 14h0m6 4h0m32-26h0m3 23h0m15 2h0m14-23h0m33 10h0m5 20h0m-179 28h0m2-13h0m28-1h0m10-3h0m9 14h0m2-18h0m7 34h0m16-8h0m37 2h0m18-11h0m11-20h0m10 27h0m7-17h0m1-4h0m8 23h0m35-27h0m5 32h0m4-8h0m27-4h0m-207 27h0m12 16h0m41-3h0m34-23h0m3 37h0m10-38h0m2 25h0m15 6h0m34-21h0m2 26h0m32-6h0m8 7h0m32-8h0m15 5h0m3 2h0m42-12h0m39 12h0m-359 10h0m79 31h0m3-18h0m6 11h0m22-6h0m12-1h0m20-1h0m2-21h0m22 8h0m4-8h0m5 3h0m2 19h0m16 11h0m25 3h0m12-31h0m1 4h0m6 14h0m12 9h0m29-3h0m3-2h0m19-5h0m22-9h0m2 19h0m10-19h0m66 23h0m11-12h0m-324 45h0m6 7h0m24-14h0m34 13h0m6 3h0m10-13h0m10-26h0m16 4h0m8 25h0m13-13h0m8 4h0m17-5h0m10 19h0m7-7h0m23-22h0m0 31h0m8-36h0m19 19h0m3 20h0m29-3h0m4-5h0m4-4h0m38-5h0m13 11h0m-275 36h0m20-11h0m2-17h0m6 30h0m2-26h0m25 7h0m1-9h0m9 11h0m7-2h0m12 27h0m8-12h0m11 1h0m2-6h0m5 7h0m14-11h0m7-6h0m4 2h0m2-14h0m12 6h0m39 16h0m13 4h0m14-6h0m16-7h0m4 6h0m15-18h0m24 27h0m1-2h0m-275 15h0m27 10h0m25-7h0m4 18h0m3-18h0m8-4h0m5 15h0m2-12h0m1 1h0m7 5h0m8 24h0m22-20h0m26 12h0m9-23h0m3 10h0m9 26h0m3-6h0m5-17h0m6-3h0m20-11h0m5 4h0m9 33h0m0-4h0m14-3h0m3-4h0m10 5h0m16-17h0m14-15h0m3 37h0m1-35h0m18 13h0m-278 40h0m8 9h0m4-2h0m16-11h0m10-10h0m39 28h0m14-18h0m7 9h0m9 19h0m10-28h0m8 11h0m23-2h0m2-5h0m9-14h0m3 29h0m19 0h0m15-14h0m30 11h0m3-3h0m18-24h0m21 4h0m-205 42h0m29 30h0m4-23h0m9-12h0m5-1h0m2 39h0m12-18h0m4-4h0m16-8h0m30-7h0m2 3h0m5 19h0m18 12h0m23-12h0m3-10h0m6-8h0m16 29h0m21-6h0m15-17h0m-141 43h0m15 15h0m10 2h0m28-10h0m26-17h0m23 23h0m-91 21h0m43 28h0m35-19h0m6-18h0m6 2h0m6 27h0"/>
<path stroke="#f5b06b" d="M1054 1868h0m-282 49h0m0-29h0m20 29h0m57-8h0m30-8h0m65-2h0m37-4h0m50 22h0m19-33h0m97 23h0m-556 49h0m10-26h0m6 17h0m31-1h0m28-9h0m78-5h0m33 2h0m2 12h0m14 4h0m23-3h0m72 8h0m5-23h0m28 1h0m31-4h0m3 8h0m42-15h0m3 30h0m66-1h0m7-4h0m31 10h0m-547 9h0m80 29h0m58-8h0m27-3h0m67 11h0m20-28h0m57 5h0m42-6h0m118 14h0m18 0h0m13-10h0m22 1h0m9-8h0m25 7h0m32-7h0m13 19h0m5-18h0m-417 39h0m25 11h0m0 15h0m44 3h0m12 1h0m42 5h0m61-10h0m33-3h0m52 6h0m34-13h0m-397 35h0m154 26h0m13-38h0m54 31h0m0 7h0m16-13h0m22-11h0m2 16h0m29-22h0m104 0h0m15 12h0m-423 32h0m28 12h0m86-16h0m35 21h0m9-13h0m56-9h0m26 24h0m4-18h0m79 20h0m-376 32h0m177 9h0m-40 6h0m36 6h0m9 40h0"/>
<path stroke="#c5d649" d="M1233 2180h0m-29 59h0m62 12h0m15 5h0m-114 52h0m33 3h0m97 5h0m18-24h0m14-1h0m7 22h0m6-1h0m3-29h0m10 16h0m129 16h0m-261 38h0m4 6h0m13-34h0m14 25h0m24 6h0m14-14h0m23 9h0m18-12h0m2 13h0m39-6h0m36 5h0m10-26h0m0 30h0m-252 13h0m61 9h0m5 0h0m14 4h0m26 11h0m4 6h0m1-15h0m18-19h0m14 17h0m15 18h0m17-6h0m2-27h0m2 21h0m13 10h0m10-11h0m17 11h0m1-11h0m22 6h0m8-6h0m24-3h0m10 16h0m52-5h0m37-31h0m-333 48h0m0-1h0m75 23h0m41-6h0m2-17h0m71 28h0m9-36h0m19 29h0m37 0h0m8-1h0m15-7h0m6 0h0m5-12h0m17-9h0m11 34h0m6-18h0m8 6h0m1-24h0m17 28h0m33 9h0m34-1h0m-409 37h0m24-26h0m85-3h0m2 33h0m0-29h0m1 23h0m35-15h0m52 23h0m4-30h0m18 18h0m2-26h0m1 16h0m30-13h0m83 12h0m2-3h0m32 12h0m-238 20h0m7 7h0m181 20h0m5-29h0m4 31h0m9-20h0m-149 26h0m104 10h0"/>
<path stroke="#1f9a45" d="M1429 2117h0m150-7h0m155-6h0m-431 42h0m92-9h0m54 1h0m10-4h0m72 24h0m1-16h0m3 13h0m63-29h0m12-6h0m10 3h0m1-1h0m20 36h0m6 0h0m1-23h0m26 5h0m4 17h0m22-4h0m21-22h0m7 25h0m5-34h0m17 0h0m-484 48h0m38-9h0m38 2h0m14 27h0m31 7h0m11-34h0m95 3h0m9 2h0m35 10h0m22 20h0m48-26h0m3 23h0m10-17h0m3 14h0m48-5h0m13-20h0m2 20h0m8 1h0m39-15h0m-436 34h0m76 6h0m15-11h0m12 32h0m24 5h0m24-11h0m6-20h0m18 21h0m11-4h0m33 14h0m1-15h0m15-3h0m5 2h0m1-3h0m11 14h0m25-12h0m12-12h0m8-1h0m6 8h0m13-5h0m6-9h0m6 19h0m8-1h0m11 4h0m1-21h0m8 24h0m3 4h0m9-9h0m30 2h0m1-4h0m20 5h0m9-3h0m1-18h0m15 7h0m26 6h0m-335 28h0m57 14h0m11-13h0m15-7h0m20 14h0m26-4h0m14 0h0m13 12h0m2-19h0m22 14h0m7 2h0m19-14h0m11 15h0m5-1h0m15-16h0m0 31h0m12-10h0m1-17h0m13-2h0m4 26h0m23-3h0m14 9h0m-259 23h0m118-19h0m33-1h0m5 20h0m49-12h0m17 21h0m2-18h0m22 3h0m2-3h0m3 25h0m3-23h0m11-5h0m6 15h0m-119 46h0m5-13h0m17-8h0m7-3h0m3 30h0m20-27h0m49 17h0m11-10h0m-100 41h0m45 36h0"/>
<path stroke="#7f76c4" d="M969 1424h0m38 11h0m59 4h0m-298 31h0m41 5h0m5 3h0m24-26h0m29 1h0m48 25h0m17-12h0m3-2h0m11-19h0m5 28h0m4-22h0m25 14h0m3-7h0m6 5h0m13-13h0m3 13h0m29-8h0m5 17h0m30 1h0m50-3h0m31-11h0m-377 41h0m20 12h0m28 3h0m1 3h0m4-13h0m5 6h0m3-19h0m18 21h0m2 2h0m17-5h0m12 2h0m2-28h0m1 19h0m17-4h0m10-18h0m18 17h0m32 10h0m5-8h0m24-9h0m15-9h0m3 13h0m22-5h0m8 29h0m4-31h0m2 7h0m11 15h0m10-13h0m2-10h0m17 14h0m3 0h0m1 12h0m22-17h0m2 9h0m2-19h0m13 30h0m4-12h0m6 12h0m1-30h0m3 31h0m1-21h0m15 2h0m81-9h0m-514 70h0m5-17h0m24 2h0m38 10h0m4 5h0m30-14h0m2 8h0m2-30h0m32 31h0m7-17h0m10 2h0m12-18h0m14 9h0m3 5h0m16 16h0m2-31h0m13 8h0m15 17h0m18 14h0m2-20h0m11 12h0m0 4h0m3-34h0m13 29h0m5-16h0m17-8h0m33 4h0m1 26h0m0-21h0m0-13h0m11-1h0m2 19h0m21 1h0m1-10h0m7 25h0m10-27h0m31 6h0m1 4h0m4 18h0m1-23h0m9-1h0m-436 29h0m21 24h0m13-18h0m5 29h0m19-16h0m2 15h0m5-33h0m6 13h0m20-11h0m13 1h0m4 32h0m1-29h0m6-5h0m8 9h0m6 18h0m11-17h0m10 20h0m12-27h0m15 23h0m27-22h0m11 6h0m27 12h0m8 6h0m11 4h0m10-29h0m3-6h0m16 5h0m0 4h0m10 19h0m3-18h0m0 25h0m2-14h0m28-17h0m6 20h0m9-12h0m18 20h0m10 4h0m7-10h0m34 3h0m14 6h0m16-21h0m-444 64h0m23-20h0m7-11h0m41-1h0m3-5h0m6 32h0m5-16h0m34 20h0m4-23h0m2 15h0m6-23h0m33 4h0m22-9h0m10 9h0m4-1h0m6-7h0m14 12h0m4 15h0m11-11h0m2-15h0m15 32h0m18-9h0m8-25h0m18-1h0m36 33h0m3-6h0m25 6h0m25 1h0m7-27h0m1 31h0m-395 12h0m39 20h0m4-12h0m16-2h0m2-5h0m4 0h0m10 0h0m5-12h0m20 38h0m16-30h0m1 3h0m29-4h0m3 18h0m18-16h0m0 30h0m56-37h0m8 17h0m4 10h0m22-23h0m2 24h0m39-21h0m12 4h0m7-4h0m20 26h0m29 1h0m0-3h0m4-9h0m13-13h0m3 15h0m2 10h0m18-17h0m2 5h0m5-18h0m5 26h0m8-30h0m3 6h0m-425 47h0m7 1h0m51-10h0m3-4h0m5 23h0m23 0h0m8 10h0m0-30h0m0 14h0m5-15h0m1 1h0m42 22h0m29-13h0m10-5h0m22 26h0m5-10h0m12-11h0m0 11h0m23-24h0m10 22h0m17 7h0m9 2h0m3-16h0m12-9h0m17 4h0m10 24h0m7 0h0m12-27h0m3 8h0m7-11h0m14 10h0m6 21h0m18-36h0m35 4h0m6 35h0m38-7h0m4-5h0m-467 37h0m7-14h0m34 5h0m9-5h0m5 5h0m6 23h0m8-13h0m2 10h0m24-33h0m13 14h0m9 21h0m24-36h0m4 36h0m9-7h0m6-25h0m11-3h0m4 35h0m1-18h0m11-4h0m7 4h0m4 8h0m10-8h0m14 8h0m4-4h0m19-2h0m16 8h0m6 9h0m7-24h0m6 2h0m1-14h0m3 21h0m6-10h0m8 11h0m18-24h0m19 16h0m13 13h0m5-10h0m30-8h0m4-1h0m3 16h0m13 1h0m14 11h0m18-35h0m4 30h0m-469 25h0m16-7h0m8 3h0m6 24h0m11 0h0m5-7h0m18 2h0m23-1h0m17-24h0m0 16h0m17-1h0m2 15h0m19-16h0m17-12h0m4 15h0m13-3h0m21 17h0m11-30h0m4 27h0m15-5h0m11 0h0m15-25h0m11 19h0m5 14h0m7-30h0m2 2h0m20 8h0m1-17h0m23 2h0m6 3h0m13 6h0m5-5h0m5 19h0m2-18h0m9 3h0m41-11h0m8 5h0m8 1h0m7 28h0m12 0h0m6-18h0m2 10h0m12-20h0m-433 69h0m16-36h0m8 1h0m33 34h0m17-16h0m1 20h0m10-10h0m3-27h0m22 13h0m21 13h0m15-3h0m10-7h0m18-5h0m1-8h0m9 13h0m16 13h0m1 5h0m7-35h0m4 4h0m8 30h0m44-27h0m2-7h0m14 17h0m5-2h0m17 3h0m0-13h0m4 21h0m1 5h0m16 1h0m33-18h0m25 8h0m-399 37h0m35-16h0m25 12h0m22 1h0m2 2h0m17 0h0m16 20h0m2 0h0m46-12h0m17-11h0m1 21h0m2-12h0m11 5h0m22-5h0m4-6h0m46 3h0m2 16h0m16-20h0m62-12h0m21 9h0m12 9h0m32-22h0m-337 49h0m114-5h0m14-5h0m56 20h0"/>
<path stroke="#9f93cb" d="M674 1543h0m169-10h0m-106 46h0m-19 46h0m79 14h0m41-12h0m-95 113h0m69-1h0m-70 59h0m-70 13h0m128 0h0m3 4h0"/>
<path stroke="#1f4f9c" d="M1116 1747h0m107-7h0m-97 55h0m55-13h0m32 2h0m18-20h0m22 14h0m17 1h0m8-8h0m11 11h0m1-4h0m7 19h0m38-23h0m-204 61h0m23 0h0m66 3h0m2-32h0m3-5h0m64 1h0m38 32h0m2-10h0m11 14h0m1-32h0m34 0h0m2 1h0m-267 67h0m25-21h0m12-10h0m8-2h0m18 26h0m13-11h0m43 17h0m1 2h0m31-18h0m6 12h0m14 6h0m20-23h0m52 26h0m10-33h0m1 3h0m10 15h0m6-2h0m3 1h0m21-19h0m7 35h0m-242 19h0m33-12h0m35 14h0m22 11h0m9-5h0m1-17h0m2-6h0m11 13h0m19 23h0m8-32h0m11 7h0m2 6h0m35-6h0m0 2h0m30-10h0m3 13h0m11-15h0m0 23h0m9-7h0m11-13h0m11 29h0m16-34h0m-293 60h0m29-8h0m31 3h0m4-9h0m31 15h0m6-11h0m11 18h0m21 7h0m6 3h0m19-13h0m11-9h0m17 9h0m11-11h0m2 11h0m10-17h0m2-6h0m9-3h0m15 34h0m6-8h0m15-18h0m2 15h0m11-8h0m0 8h0m54-9h0m-324 26h0m11 0h0m2 35h0m16-27h0m20 0h0m13 24h0m30-27h0m10 14h0m6-18h0m30 10h0m6 27h0m13-30h0m2 31h0m19-24h0m1 14h0m18-22h0m12 15h0m12 6h0m4 4h0m7-24h0m29 23h0m2 5h0m19-14h0m1-10h0m5 20h0m4-1h0m0-20h0m20-6h0m16-3h0m21 26h0m21 6h0m25 3h0m11-5h0m-370 15h0m4 13h0m32 3h0m46-11h0m30-10h0m10 29h0m0-9h0m18-1h0m2 6h0m4 3h0m39-7h0m11 8h0m22-25h0m3 24h0m6-18h0m7 16h0m17-11h0m0 10h0m17 7h0m20-24h0m5 28h0m10 0h0m23-10h0m-331 12h0m52 26h0m60-4h0m8-2h0m4-6h0m10 24h0m4-5h0m10-19h0m1 11h0m42 13h0m14-14h0m15-23h0m32 23h0m2-10h0m7 19h0m0-20h0m20 15h0m15 4h0m63-22h0m37 12h0m-323 23h0m125 6h0m1-3h0m96 16h0m16-13h0m-254 53h0m194-21h0"/>
<path stroke="#bec4d1" d="M1186 1645h0"/>
<path stroke="#cbced8" d="M1160 1382h0m91 250h0m7-17h0m-41 254h0"/>
<path stroke="#b3bac7" d="M1174 1368h0m13 0h0m16 106h0m34-7h0m38 28h0m-63 28h0m-29 39h0m12 16h0m1 14h0m-11 77h0m-48 50h0m24 22h0m-117 49h0m142 29h0m7-10h0m-137 49h0m37 28h0m46 40h0m15 7h0"/>
<path stroke="#88cadb" d="M1113 1378h0m146 75h0m2 49h0m-72 144h0m26 28h0m-57 455h0m-236 57h0m18-3h0m9 11h0m15 5h0m133-3h0m21-6h0m-264 46h0m79-14h0m5-21h0m3-1h0m7 30h0m3-5h0m57 5h0m10-27h0m8 29h0m5-3h0m20 4h0m38 2h0m15-18h0m9 16h0m17-5h0m26-27h0m-283 73h0m38-26h0m67-6h0m20-2h0m41 14h0m21 9h0m3-22h0m47 5h0m28 16h0m14 5h0m-256 49h0m28-5h0m1-22h0m104 26h0m31-3h0m71-8h0m-299 54h0m9-7h0m88 8h0m21-14h0m1-15h0m22 29h0m23-30h0m11 25h0m9-23h0m28 11h0m12-3h0m7 15h0m25-31h0m30 30h0m21 1h0m3-30h0m2 28h0m-342 36h0m56-14h0m10-5h0m27 7h0m23 11h0m23 12h0m9-37h0m25 30h0m14-23h0m34 20h0m50 4h0m21-7h0m58-21h0m-336 63h0m7-10h0m10-3h0m28-12h0m62 18h0m31-1h0m34 8h0m25-17h0m53 7h0m36-13h0m19 21h0m35-3h0m-340 53h0m38-30h0m1 32h0m64-38h0m13 10h0m38 7h0m69-16h0m3 22h0m86-3h0m18-8h0m44 5h0m-271 25h0m29 23h0m36 12h0m12-2h0m14-19h0m20 5h0m51 14h0m3-14h0m56 12h0m6-1h0m0-1h0m6-25h0m9 22h0m72-9h0m-304 35h0m25 5h0m53-13h0m134 20h0m11-25h0m13 32h0m-77 15h0m54 12h0"/>
<path stroke="#eca9c6" d="M527 1479h0m76-37h0m34 13h0m-171 48h0m4 4h0m51 7h0m47 3h0m4-34h0m101-3h0m-216 78h0m68-10h0m6 4h0m25-25h0m18 29h0m30 0h0m45-20h0m8 19h0m28-4h0m-238 48h0m10-38h0m53 32h0m84-28h0m44 18h0m-120 42h0m57 4h0m86 3h0m23-27h0m-277 58h0m13 2h0m22-11h0m27 7h0m43-13h0m8 16h0m28 9h0m43-13h0m9-10h0m42 26h0m-186 26h0m68 15h0m61-16h0m16-4h0m11 15h0m4-32h0m57 27h0m12-26h0m-253 42h0m22 24h0m89-1h0m6-16h0m75-7h0m25 25h0m-223 13h0m32 17h0m156-2h0m44-7h0m23 24h0m-261 22h0m39 14h0m16-12h0m8-2h0m67 15h0m39-17h0m15-8h0m13 11h0m10-2h0m25 14h0m15-20h0m-233 51h0m25 1h0m13 4h0m31 3h0m83-14h0m20 20h0m13 5h0m12-30h0m-160 33h0m37 13h0m41 2h0m14-14h0m20 16h0m56-12h0m8 7h0m17-5h0m-96 57h0m14-15h0m24 13h0m42-3h0m-24 31h0"/>
<path stroke="#acb4cb" d="M1246 1456h0m-63 201h0m6 86h0"/>
</g>
<g opacity="1">
<g transform="translate(39.00,102.60) scale(1.0000,1.0000) translate(-39.0,-102.6)">
</g></g>
<g transform="translate(39.00,102.60) scale(1.0000,1.0000) translate(-39.0,-102.6)">
<g fill="none" stroke="#f2d52a" stroke-width="1.30" stroke-linecap="round" stroke-linejoin="round" opacity="0.85">
<path d="M208.5,169.8 C211.5,169.8 213,172.5 212.6,175.5 C212.2,178.5 209.5,180 207.2,179 C205,178 204.8,175 205.3,173 C205.8,171 206.8,169.8 208.5,169.8 Z" stroke-width="2.2"/>
<path d="M204.8,171.5 L200.8,166.8 M212.6,175.5 L215.2,176.6" stroke-width="1.6"/>
</g><g fill="#f2d52a" opacity="0.8">
<path d="M203.6,178.2 L208.6,180.6 L198.6,191.6 L197.2,191.2Z"/>
</g></g>
<path d="M37.9,234.3 L37.9,278.4 L83.2,278.4" fill="none" stroke="#111" stroke-width="1.0"/>
<path d="M37.90,231.30 L39.97,235.90 L35.83,235.90Z" fill="#111"/>
<path d="M86.20,278.40 L81.60,280.47 L81.60,276.33Z" fill="#111"/>
<text x="0" y="0" transform="translate(62.30 288.60) scale(1 1.0)" font-size="7.9" text-anchor="middle" fill="#222" stroke="#222" stroke-width="0.2" textLength="32.3" lengthAdjust="spacingAndGlyphs">WnnUMAP 1</text>
<text x="0" y="0" transform="translate(33.00 254.20) rotate(-90) scale(1 1.0)" font-size="7.9" text-anchor="middle" fill="#222" stroke="#222" stroke-width="0.2" textLength="32.3" lengthAdjust="spacingAndGlyphs">WnnUMAP 2</text>
<text x="0" y="0" transform="translate(190.30 271.60) scale(1 1.12)" font-size="6.2" text-anchor="middle" fill="#222" stroke="#222" stroke-width="0.05" textLength="33.6" lengthAdjust="spacingAndGlyphs">18 771 cells</text>
<text x="0" y="0" transform="translate(248.20 123.00) scale(1 1.12)" font-size="6.6" text-anchor="middle" fill="#222" stroke="#222" stroke-width="0.05" textLength="35.5" lengthAdjust="spacingAndGlyphs">CD4<tspan font-size="4.4" dy="-2.5">+</tspan><tspan dy="2.5"> T cells</tspan></text>
<line x1="220" y1="125.3" x2="276.9" y2="125.3" stroke="#333" stroke-width="0.6"/>
<circle cx="226.9" cy="134.7" r="2.8" fill="#d41c28"/>
<text x="0" y="0" transform="translate(233.10 137.20) scale(1 1.12)" font-size="6.2" text-anchor="start" fill="#222" stroke="#222" stroke-width="0.05">Activated Tregs</text>
<circle cx="226.9" cy="143.2" r="2.8" fill="#1f4f9c"/>
<text x="0" y="0" transform="translate(233.10 145.70) scale(1 1.12)" font-size="6.2" text-anchor="start" fill="#222" stroke="#222" stroke-width="0.05">Resting Tregs</text>
<circle cx="226.9" cy="151.6" r="2.8" fill="#1f9a45"/>
<text x="0" y="0" transform="translate(233.10 154.10) scale(1 1.12)" font-size="6.2" fill="#222" stroke="#222" stroke-width="0.05">LAG3<tspan font-size="4.5" dy="-2.5">+</tspan><tspan dy="2.5"> Tregs</tspan></text>
<circle cx="226.9" cy="164.2" r="2.8" fill="#f2b0c6"/>
<text x="0" y="0" transform="translate(233.10 166.70) scale(1 1.12)" font-size="6.2" text-anchor="start" fill="#222" stroke="#222" stroke-width="0.05">Naive T cells</text>
<circle cx="226.9" cy="172.7" r="2.8" fill="#7f76c4"/>
<text x="0" y="0" transform="translate(233.10 175.20) scale(1 1.12)" font-size="6.2" text-anchor="start" fill="#222" stroke="#222" stroke-width="0.05">Memory T cells 1</text>
<circle cx="226.9" cy="181.2" r="2.8" fill="#f08418"/>
<text x="0" y="0" transform="translate(233.10 183.70) scale(1 1.12)" font-size="6.2" text-anchor="start" fill="#222" stroke="#222" stroke-width="0.05">Memory T cells 2</text>
<circle cx="226.9" cy="189.7" r="2.8" fill="#8f3848"/>
<text x="0" y="0" transform="translate(233.10 192.20) scale(1 1.12)" font-size="6.2" text-anchor="start" fill="#222" stroke="#222" stroke-width="0.05">Memory T cells 3</text>
<circle cx="226.9" cy="202.0" r="2.8" fill="#4f2890"/>
<text x="0" y="0" transform="translate(233.10 204.50) scale(1 1.12)" font-size="6.2" text-anchor="start" fill="#222" stroke="#222" stroke-width="0.05">Tfh 1</text>
<circle cx="226.9" cy="210.4" r="2.8" fill="#b9cd22"/>
<text x="0" y="0" transform="translate(233.10 212.90) scale(1 1.12)" font-size="6.2" text-anchor="start" fill="#222" stroke="#222" stroke-width="0.05">Tfh 2</text>
<circle cx="226.9" cy="218.9" r="2.8" fill="#6fbfd4"/>
<text x="0" y="0" transform="translate(233.10 221.40) scale(1 1.12)" font-size="6.2" text-anchor="start" fill="#222" stroke="#222" stroke-width="0.05">T helper cells</text>
<circle cx="226.9" cy="232.3" r="2.8" fill="#0f9676"/>
<text x="0" y="0" transform="translate(233.10 234.80) scale(1 1.12)" font-size="6.2" fill="#222" stroke="#222" stroke-width="0.05">GZM<tspan font-size="4.5" dy="-2.5">+</tspan><tspan dy="2.5"> T cells</tspan></text>
<circle cx="226.9" cy="244.4" r="2.8" fill="#f2d52a"/>
<text x="0" y="0" transform="translate(233.10 246.90) scale(1 1.12)" font-size="6.2" text-anchor="start" fill="#222" stroke="#222" stroke-width="0.05">Proliferating</text>
<circle cx="226.9" cy="252.9" r="2.8" fill="#a3abbb"/>
<text x="0" y="0" transform="translate(233.10 255.40) scale(1 1.12)" font-size="6.2" text-anchor="start" fill="#222" stroke="#222" stroke-width="0.05">Other</text>
<text x="0" y="0" transform="translate(293.60 111.40) scale(1 1.0)" font-size="11.5" text-anchor="start" font-weight="bold" fill="#111">C</text>
<g transform="translate(316.90,164.50) scale(0.3933,0.3159) translate(-39.0,-102.6)">
<g fill="none" stroke-linecap="round" stroke-width="35.0" opacity="1.0" transform="scale(0.1)">
<path stroke="#ef8f55" d="M1485 1079h0m99-19h0m51-16h0m26 16h0m-251 54h0m24-15h0m214-13h0m-288 57h0m26 16h0m47-34h0m91 0h0m3-1h0m21 28h0m75-19h0m9-7h0m7-3h0m36 9h0m0 9h0m27 12h0m-307 35h0m141-7h0m35 10h0m20-19h0m1 7h0m40 13h0m36-25h0m53 14h0m17-21h0m-462 74h0m84-25h0m4 27h0m73-6h0m2 2h0m12-9h0m3-15h0m81 25h0m3-7h0m7-4h0m32 1h0m32-17h0m17 30h0m13-18h0m36-17h0m9 20h0m-249 26h0m55 1h0m9 24h0m39-29h0m1 6h0m5 2h0m20 4h0m4 12h0m134-2h0m-488 21h0m129-2h0m0 31h0m5-25h0m13 6h0m143-7h0m77 7h0m-722 58h0m101-1h0m70 4h0m60 1h0m41 1h0m1-4h0m30-20h0m62 20h0m13-31h0m23 1h0m35 9h0m34 10h0m61-5h0m212 18h0m-774 20h0m5-1h0m82-7h0m33 2h0m44-4h0m70 27h0m43-17h0m117-17h0m0 3h0m52 15h0m195 7h0m29-2h0m15-9h0m24 7h0m60-10h0m22-6h0m-784 63h0m87 7h0m2-6h0m63 4h0m35-24h0m12 19h0m78 8h0m77-29h0m32 9h0m314 0h0m104 13h0m-995 20h0m92 11h0m62 11h0m2 8h0m36-8h0m2-1h0m50-14h0m61 13h0m44-16h0m44 13h0m18-6h0m139-14h0m-736 66h0m62-27h0m35 11h0m36-12h0m20 23h0m13-2h0m4 9h0m10-16h0m29-17h0m22 27h0m63-2h0m17 12h0m17-7h0m2-22h0m40 13h0m74-5h0m1 19h0m104 3h0m59-24h0m2 13h0m14-8h0m20 2h0m22-14h0m146 29h0m-843 22h0m34-14h0m22 32h0m44-10h0m97-16h0m29 18h0m13-4h0m17 13h0m61-7h0m20 3h0m17-3h0m4-28h0m16 33h0m19-32h0m10 1h0m28 31h0m21-10h0m20-20h0m98 11h0m19-13h0m140 9h0m58-7h0m-778 53h0m27 2h0m61 5h0m22 6h0m2-17h0m11-10h0m37 25h0m18-7h0m47 5h0m9-19h0m9 29h0m47-9h0m111-27h0m9 33h0m12-13h0m29-4h0m35-7h0m16 1h0m131 8h0m26 5h0m29 12h0m65-16h0m57 6h0m27-17h0m4 19h0m25-7h0m58 0h0m-926 20h0m157 28h0m64-18h0m48 10h0m29-12h0m20 18h0m0-10h0m12 7h0m40-21h0m12 12h0m57-3h0m1 26h0m64-34h0m9 10h0m85-11h0m24 35h0m41-34h0m24 8h0m63 26h0m28-37h0m13 5h0m3 10h0m240 13h0m-1061 24h0m7 18h0m59-29h0m77 6h0m7 18h0m37 12h0m23-24h0m79 0h0m118 14h0m33-12h0m12-15h0m72 18h0m70 6h0m5-20h0m81 10h0m77 20h0m6-33h0m27 27h0m10-19h0m45-2h0m120 21h0m38-10h0m149 7h0m-1145 23h0m3 23h0m23-24h0m32-5h0m94 1h0m15 1h0m62 32h0m65-34h0m15 10h0m25 18h0m50 5h0m123-28h0m18 27h0m85-18h0m40 13h0m78-31h0m10 15h0m21 5h0m273 12h0m18-12h0m-1006 37h0m8-8h0m67 29h0m99-28h0m158-10h0m205 31h0m58 6h0m33-28h0m37 14h0m15-1h0m31-20h0m81-2h0m38 28h0m138-26h0m21 19h0m35 3h0m46 13h0m-1005 40h0m8-32h0m105-4h0m23 0h0m14 35h0m32-29h0m1 0h0m3 6h0m15 22h0m12 1h0m33-31h0m23 6h0m19 0h0m29 19h0m8-13h0m14 7h0m125 11h0m20-8h0m63 7h0m83-13h0m26-14h0m218 7h0m105 16h0m1-11h0m9 3h0m17 14h0m49-4h0m107-7h0m-1239 28h0m2 7h0m18-17h0m26 15h0m7-3h0m1 0h0m15 1h0m30-7h0m63 28h0m90-3h0m17 4h0m8-1h0m0-17h0m10-3h0m5 15h0m59-15h0m32 14h0m32-3h0m18 0h0m29-17h0m88 24h0m28-30h0m44 9h0m71 11h0m9-6h0m308-5h0m202-1h0m71 2h0m20 12h0m-1282 18h0m91 30h0m10-9h0m16-5h0m16-16h0m31 17h0m3-18h0m69 34h0m54-20h0m78-2h0m42 9h0m20 4h0m183-24h0m53 9h0m357 5h0m152-17h0m-1154 69h0m19-22h0m15 0h0m8 17h0m106-9h0m232 11h0m23-28h0m205 25h0m3 6h0m11-10h0m45 15h0m3 1h0m160-5h0m174 2h0m209-19h0m-1178 53h0m192 6h0m24-20h0m5-7h0m118 26h0m11-21h0m1 3h0m18-4h0m86-3h0m44 28h0m125-35h0m381 20h0m7-19h0m73 9h0m22 27h0m-925 37h0m86-16h0m60 0h0m135-12h0m24-4h0m16 27h0m45-3h0m134 12h0m87-16h0m130-10h0m193-2h0m24 23h0m7-12h0m15 4h0m63-4h0m-1171 20h0m23 0h0m9 11h0m47 12h0m97-25h0m7 13h0m74-12h0m0 24h0m63-20h0m18 29h0m66-6h0m54-2h0m148-8h0m123 8h0m377 7h0m8-10h0m13 15h0m-1122 20h0m89-2h0m75-8h0m87 11h0m121 5h0m175-16h0m511 12h0m56-7h0m-1099 44h0m14-11h0m6 25h0m3 2h0m27 0h0m9-9h0m131 14h0m88-3h0m9-8h0m27 5h0m59-29h0m134 10h0m26 15h0m56-14h0m11 7h0m305-19h0m-858 61h0m2 0h0m63-9h0m79-3h0m125 18h0m164-14h0m1 39h0m669-11h0m-364 61h0m284-9h0m19 23h0m-530 96h0m521 40h0m-83 58h0m-336 164h0m394-6h0m-16 80h0m-278 20h0"/>
<path stroke="#3d8ec9" d="M1323 1131h0m11 29h0m249 28h0m-224 32h0m134 70h0m155 5h0m-178 58h0m98-6h0m-696 13h0m675 0h0m63 71h0m-895 12h0m527 5h0m-222 67h0m-439 31h0m38-25h0m107 20h0m468-5h0m78 21h0m-540 23h0m62-16h0m244 30h0m187-2h0m-279 43h0m44-5h0m261-16h0m12 4h0m-251 23h0m361 0h0m27 4h0m4 2h0m121 32h0m-662 4h0m72 8h0m188 10h0m15 2h0m22-10h0m94-5h0m84-1h0m18 3h0m-556 34h0m222 21h0m340 0h0m70 11h0m179-8h0m47 2h0m-589 10h0m98 10h0m18 21h0m5 8h0m34-25h0m61 10h0m32-8h0m101 2h0m22-16h0m190 32h0m-900 20h0m322 11h0m26-25h0m118 23h0m57 6h0m31-5h0m152-18h0m29 31h0m195-16h0m23 8h0m-915 22h0m36 8h0m74 16h0m236-11h0m90 15h0m106-14h0m14-9h0m10-10h0m219 23h0m2-28h0m54 0h0m-538 39h0m104 19h0m7 12h0m30-24h0m9 2h0m2 25h0m27-29h0m86 14h0m18 5h0m247 10h0m6-5h0m35 0h0m19-5h0m1-6h0m8 10h0m2-10h0m85-16h0m-779 38h0m148 18h0m6-9h0m113 8h0m6 14h0m52-26h0m4 11h0m22-14h0m19 37h0m2-6h0m33-23h0m6 20h0m7 4h0m44-29h0m121-3h0m7 25h0m25 11h0m15 1h0m33-36h0m70 8h0m-498 30h0m92 38h0m11-12h0m28-3h0m50-8h0m78 9h0m42-19h0m60 8h0m43-12h0m78 19h0m-1066 23h0m154 4h0m205 24h0m97-19h0m14-12h0m36-1h0m64 24h0m28 0h0m48 1h0m5 11h0m18-23h0m16 20h0m13-25h0m113 29h0m83 1h0m26-38h0m12 19h0m-533 44h0m117 14h0m14-31h0m44 0h0m47 8h0m33 21h0m395 3h0m-1055 15h0m404-5h0m83 30h0m159-21h0m98 5h0m177-4h0m27 16h0m120-10h0m-409 19h0m65 13h0m137 21h0m70-6h0m7-27h0m18 25h0m9-19h0m40 25h0m52 1h0m51-3h0m-789 25h0m391-17h0m29 20h0m37-6h0m44-8h0m71-5h0m27 26h0m32 1h0m54-5h0m68 0h0m1 8h0m47-20h0m-665 32h0m301 18h0m3 3h0m182-10h0m55 18h0m78-2h0m33-21h0m-391 48h0m130 1h0m161-12h0m-787 71h0m384 1h0m8-32h0m37 14h0m84 2h0m285-22h0m23 16h0m-577 24h0m78 34h0m25-32h0m64 34h0m266-26h0m140-8h0m-677 54h0m181-3h0m192 10h0m309 12h0m-343 15h0m3 18h0m48 5h0m141-22h0m91 8h0m-798 45h0m234-22h0m166 24h0m59-7h0m139 6h0m224 5h0m-283 24h0m57 22h0m235 2h0m-663 23h0m30-5h0m49 17h0m43-23h0m216-5h0m26-4h0m194 3h0m-365 55h0m408-3h0m52 17h0m-468 18h0m272 5h0m157-14h0m-345 48h0m350 6h0m-348 43h0m195 10h0m-37 28h0"/>
<path stroke="#9c9ea4" d="M1419 1070h0m187-18h0m-115 42h0m194 4h0m-343 72h0m96 15h0m11 73h0m102 59h0m-556 73h0m24 4h0m107-15h0m446 14h0m30-1h0m82-22h0m-538 63h0m127-9h0m2 19h0m-657 58h0m136 11h0m77-22h0m-5 49h0m42-2h0m211 3h0m9 4h0m137-24h0m17 34h0m50-32h0m-658 38h0m52 24h0m-306 50h0m165-22h0m172-4h0m40-2h0m375 25h0m85 4h0m12-6h0m68 10h0m-892 23h0m247 8h0m316-28h0m89 31h0m51-5h0m109-23h0m276-1h0m-1075 62h0m83-24h0m59 19h0m133 5h0m22 8h0m3 0h0m326-3h0m365-30h0m-1009 57h0m421 7h0m117-21h0m118 17h0m-575 35h0m15 4h0m418-16h0m125 27h0m22 3h0m64-34h0m37 6h0m499-6h0m-1104 67h0m40-4h0m59 11h0m341-28h0m105-4h0m258 7h0m266 0h0m-1055 39h0m261 8h0m870 7h0m-1192 19h0m349 34h0m126-27h0m185 20h0m492-18h0m-1170 31h0m32 0h0m61 20h0m44-2h0m90 14h0m138-21h0m133-8h0m49 32h0m10-26h0m569-2h0m-1107 58h0m51-8h0m263 13h0m138 6h0m148-4h0m266-9h0m-743 18h0m113 16h0m225 6h0m64 8h0m42 0h0m3-31h0m37 37h0m18-35h0m3 34h0m6 0h0m538-23h0m-927 62h0m107-24h0m40-10h0m139 2h0m104 34h0m13-9h0m86-28h0m71 16h0m71 14h0m9-20h0m207 15h0m-941 20h0m307 12h0m83-2h0m108-10h0m362-3h0m41 6h0m-776 57h0m44-25h0m50 29h0m216-18h0m244 23h0m63 1h0m80-4h0m30-23h0m8-6h0m83 25h0m49-16h0m-987 54h0m65-6h0m8-11h0m224 5h0m40 18h0m204 3h0m143-19h0m13 6h0m119-8h0m17 23h0m-633 7h0m8 21h0m20-4h0m5 5h0m8-3h0m45-2h0m13-2h0m176 0h0m178-20h0m96 32h0m24-32h0m41 23h0m0-15h0m43 3h0m117 2h0m-752 43h0m7 6h0m95 12h0m24-17h0m6-10h0m4-5h0m27 34h0m103-21h0m9-7h0m7 6h0m283 23h0m142-6h0m100-23h0m-861 51h0m56 19h0m27-34h0m43 22h0m109-2h0m5-23h0m172 36h0m57-3h0m3-17h0m93-14h0m69 22h0m-618 37h0m12-14h0m45 25h0m134-26h0m71 18h0m0-16h0m28 23h0m66-15h0m32-8h0m27 22h0m57 4h0m63-16h0m15-15h0m4 4h0m-538 55h0m7-1h0m34 1h0m29 2h0m33 13h0m8-26h0m91 3h0m11-2h0m13 20h0m32-5h0m39-27h0m26 11h0m18 6h0m66 15h0m48 3h0m73-6h0m36-8h0m13 5h0m10 12h0m2-21h0m8 7h0m-636 38h0m1-23h0m58 19h0m9 6h0m10-6h0m13-15h0m130 5h0m17 23h0m48-32h0m175 34h0m35-13h0m75-6h0m2 6h0m14 14h0m26-2h0m5-17h0m14 15h0m47-8h0m59 8h0m69 0h0m-790 22h0m3 1h0m19-13h0m124 4h0m22 25h0m15-28h0m87 20h0m4 2h0m5 4h0m40-15h0m159-4h0m74 16h0m28 7h0m69 3h0m16-31h0m59 23h0m11 3h0m-799 10h0m98 34h0m128-4h0m27 8h0m52-35h0m21 10h0m52 26h0m99-29h0m156 4h0m163-13h0m-669 43h0m28 15h0m24 3h0m33-22h0m34 0h0m19 30h0m46-12h0m100 4h0m34-14h0m21 16h0m122 6h0m32 3h0m56-12h0m14-4h0m26 12h0m16-3h0m52-25h0m17 36h0m12-15h0m-310 30h0m40 27h0m134-37h0m26 34h0m4 1h0m9-35h0m13 3h0m90 0h0m5 33h0m-446 13h0m91 27h0m16-31h0m8 13h0m97 1h0m9 16h0m53-35h0m65 26h0m56-2h0m8 8h0m-362 39h0m21-24h0m60 16h0m21-15h0m10 23h0m17-11h0m22-18h0m22 11h0m15 13h0m85 10h0m145-34h0m-387 38h0m87 18h0m49-17h0m29 26h0m71-6h0m15-23h0m34 36h0m95-17h0m-190 55h0"/>
<path stroke="#3d8ec9" d="M1586 1119h0m68-36h0m-227 48h0m162 3h0m131 7h0m-399 112h0m5 13h0m127-12h0m156-11h0m-478 119h0m57 68h0m-324 46h0m48-27h0m-57 42h0m31 16h0m181-6h0m116-20h0m85 62h0m-522 39h0m3-17h0m478-5h0m29 30h0m-709 18h0m82 25h0m105-13h0m34-6h0m402 8h0m122 4h0m65-18h0m50 29h0m-452 6h0m165 36h0m18-12h0m150-11h0m-686 54h0m553 7h0m55-24h0m109-9h0m22-1h0m29 23h0m60-4h0m127-9h0m15 13h0m-698 32h0m148-14h0m403 4h0m77 22h0m-930 34h0m242-7h0m8 6h0m259 1h0m79 14h0m13-3h0m41-32h0m60 25h0m12-13h0m122 7h0m203-5h0m6 10h0m35-21h0m-877 64h0m94-19h0m187-3h0m84 13h0m57 12h0m24-24h0m4 11h0m2-11h0m22 27h0m7 2h0m50-38h0m34 18h0m3 14h0m70-5h0m55 6h0m16-13h0m10 15h0m145-23h0m23 6h0m-589 57h0m27-15h0m30 5h0m69-21h0m8 15h0m54 2h0m104 8h0m7-13h0m6 0h0m22-11h0m44 23h0m3 7h0m12-28h0m100 23h0m45-23h0m16 5h0m68 20h0m22 3h0m17-27h0m-497 66h0m15-22h0m16 25h0m155 1h0m130-21h0m116-7h0m-503 32h0m102 12h0m32 4h0m11 8h0m33-6h0m37-10h0m17-2h0m58 10h0m63-14h0m97 25h0m91 5h0m40-12h0m-1000 54h0m173-17h0m174 16h0m63-28h0m96 12h0m8 10h0m33-12h0m8-4h0m31 21h0m402-15h0m-900 31h0m431 12h0m22 16h0m18-11h0m15-10h0m2 15h0m27-24h0m35-7h0m125 4h0m9 26h0m52 5h0m188-24h0m-498 31h0m31-2h0m34 29h0m1-1h0m14 1h0m5 1h0m49-20h0m26 25h0m13-36h0m10 38h0m32-16h0m12-12h0m5 11h0m222 15h0m13-29h0m-487 56h0m175 15h0m51-7h0m36-22h0m9 15h0m55-12h0m62-2h0m123 11h0m-921 29h0m419 29h0m28-16h0m157-21h0m180 19h0m37 6h0m20-13h0m80 7h0m-480 20h0m24 1h0m33 19h0m24 3h0m11-20h0m21 34h0m30-16h0m64-15h0m98 27h0m89-16h0m15 8h0m34-22h0m-732 64h0m131-16h0m83 25h0m2-8h0m120-19h0m43 14h0m86-24h0m119 36h0m80-30h0m32 9h0m-805 47h0m123 3h0m102-5h0m41-19h0m95 6h0m166-1h0m5 17h0m207-11h0m44 23h0m50-6h0m-756 38h0m222 1h0m21-17h0m313 11h0m180-11h0m42 0h0m-505 59h0m377-17h0m71 14h0m-695 14h0m213 3h0m36 2h0m126 0h0m73-3h0m31 36h0m167-4h0m-654 5h0m129 34h0m143-11h0m166 0h0m14 11h0m3-33h0m39 35h0m18-1h0m-493 9h0m84 34h0m223-11h0m81 3h0m-516 27h0m278 12h0m400 4h0m-138 22h0m62-11h0m-295 70h0m58-4h0m12 1h0m247-28h0m92 12h0m27-15h0m-209 62h0m112 3h0m-101 15h0m218 26h0m-344 35h0m101 23h0"/>
<path stroke="#9c9ea4" d="M1600 1028h0m-72 130h0m173 18h0m-491 96h0m66 1h0m-6 43h0m34-9h0m151-16h0m-68 33h0m-619 45h0m176-2h0m154 29h0m51-9h0m35-25h0m454 8h0m-705 47h0m225 14h0m60 5h0m-620 10h0m454 27h0m191-20h0m-558 45h0m362-9h0m153 29h0m66-23h0m-812 33h0m88 27h0m159-23h0m370 5h0m156-3h0m-783 47h0m99 5h0m32-16h0m105 11h0m688 12h0m-760 39h0m196-29h0m16 3h0m-163 41h0m4 30h0m470-18h0m-640 53h0m671-13h0m169 18h0m-927 5h0m219 9h0m87 28h0m313-29h0m-236 52h0m720 11h0m55-25h0m-1099 62h0m78-22h0m416 29h0m47-11h0m42 2h0m23 11h0m4-34h0m-246 60h0m7-25h0m837 38h0m-982 27h0m209 3h0m13-18h0m0 4h0m83-1h0m98-11h0m62 33h0m252-26h0m-900 41h0m92 8h0m304-8h0m111 9h0m11 18h0m137-6h0m84-18h0m31 22h0m242-21h0m-946 35h0m19 14h0m114-12h0m125 1h0m293 1h0m615-13h0m-892 53h0m119 22h0m165-1h0m-576 33h0m24-22h0m26 33h0m32-38h0m6 16h0m10-3h0m157-1h0m22-12h0m12 5h0m61 7h0m51-2h0m80 14h0m30 2h0m50-19h0m-478 45h0m135 12h0m60 9h0m72-29h0m112-4h0m424 5h0m11 10h0m253 12h0m-1036 40h0m71-4h0m12-2h0m145-10h0m61 19h0m157-23h0m362 31h0m-594 9h0m54 18h0m40-9h0m11 2h0m6 19h0m6-6h0m101-17h0m0 20h0m386-13h0m167 15h0m67 3h0m-811 2h0m20 32h0m131-22h0m3 0h0m52-7h0m4 13h0m48 13h0m573-21h0m-862 36h0m97 6h0m47-6h0m76 16h0m42-2h0m27-15h0m81 31h0m210-6h0m49-26h0m-658 55h0m17 21h0m65-21h0m17-6h0m44-9h0m16 11h0m27 23h0m4-21h0m103 16h0m11-30h0m22 26h0m14 2h0m5 2h0m44-7h0m36 8h0m22 5h0m17-23h0m35 15h0m-503 39h0m31-28h0m36-1h0m62 29h0m33-14h0m22 2h0m18 3h0m15 9h0m24 6h0m65-27h0m22 6h0m19-8h0m38 28h0m43-15h0m30 2h0m150 9h0m-572 15h0m74 30h0m41-13h0m58 1h0m173-1h0m28 2h0m9 13h0m34-26h0m87 13h0m21 4h0m8-11h0m87-3h0m1 3h0m-717 47h0m44-12h0m85 2h0m70 17h0m15-3h0m5-16h0m3 2h0m6 24h0m95-1h0m54-19h0m147-15h0m63 3h0m218 26h0m57 3h0m-848 37h0m21-13h0m1-5h0m213 6h0m27-13h0m157 15h0m54 1h0m28-23h0m105 33h0m16-15h0m159 9h0m19-19h0m-743 51h0m79 19h0m11-27h0m9 9h0m26 13h0m170-31h0m10 31h0m47-25h0m8 29h0m103-34h0m126 30h0m68-1h0m2-29h0m96 21h0m9-22h0m9-1h0m-690 42h0m69 17h0m14-14h0m0 26h0m33-32h0m126 37h0m32-8h0m72-2h0m31 5h0m44-9h0m109 10h0m56-11h0m9 2h0m-313 22h0m98-6h0m45 34h0m35-25h0m63-9h0m92 9h0m82 12h0m-460 43h0m8-23h0m134 27h0m30 9h0m21-29h0m3 17h0m9-11h0m9 8h0m24-4h0m26 6h0m31-21h0m-270 44h0m59 19h0m224 4h0m5-23h0m17 6h0m17 15h0m36-6h0m-338 19h0m78 7h0m7 20h0m190-19h0m85-4h0m-299 47h0m24 6h0m53-7h0m16 10h0m18-13h0"/>
<path stroke="#ef8f55" d="M1586 1033h0m-80 25h0m32 7h0m38-23h0m6 25h0m61 7h0m-250 39h0m182-2h0m19-29h0m3 5h0m-87 59h0m1-4h0m31 4h0m4-5h0m28-6h0m47 8h0m59-18h0m10 11h0m-380 61h0m40-30h0m8 4h0m37 4h0m212 9h0m25-16h0m12-8h0m73 35h0m-469 38h0m61-15h0m203-8h0m6 23h0m16-3h0m19-24h0m72 20h0m-387 46h0m42-3h0m41-11h0m167-17h0m8 37h0m58-19h0m21 20h0m5-30h0m4 3h0m39-3h0m50-1h0m31-6h0m10 15h0m-552 61h0m33 1h0m2-17h0m23-8h0m2-13h0m12 10h0m60 1h0m77-9h0m8 7h0m62-5h0m110 10h0m33-8h0m30 18h0m7 12h0m6-19h0m84-8h0m-945 62h0m39-6h0m24-2h0m87 15h0m192-7h0m30-3h0m172-5h0m4 1h0m64 6h0m83-10h0m67 15h0m11-5h0m65 6h0m48-4h0m9-27h0m21 1h0m-869 58h0m6 4h0m31-11h0m4 18h0m14-19h0m93 9h0m4-19h0m10 21h0m50-23h0m8 29h0m65-4h0m97-20h0m32-1h0m39 22h0m114-14h0m28-5h0m92 20h0m134-25h0m2 16h0m12-6h0m-903 46h0m3 14h0m28-36h0m7 0h0m6 24h0m0-7h0m19-2h0m138 14h0m20-30h0m6 9h0m56 13h0m152-6h0m8-14h0m213 22h0m64 5h0m20-15h0m91 23h0m80-14h0m7-22h0m-993 75h0m44-10h0m30 7h0m33-21h0m89-12h0m31 30h0m39-28h0m85 3h0m4 5h0m54 25h0m88-30h0m15 11h0m9-9h0m76 32h0m189-19h0m-996 40h0m7 2h0m51 16h0m58-27h0m8-11h0m54 18h0m0 14h0m18 7h0m13-39h0m58 37h0m59-28h0m16 5h0m14-9h0m17 5h0m13-7h0m48 24h0m3-8h0m98 15h0m26-9h0m46-24h0m15 1h0m1 12h0m32-7h0m2-1h0m14 7h0m13 25h0m64-37h0m16 6h0m-744 58h0m5-5h0m28 16h0m6-34h0m31 33h0m10-4h0m10-2h0m2-28h0m55 2h0m7 19h0m37 14h0m27-22h0m66 6h0m21-11h0m13 21h0m57 3h0m18-17h0m14 20h0m32-31h0m14 31h0m2-23h0m13 2h0m14 17h0m236-26h0m-750 54h0m7 3h0m11 1h0m39-17h0m87 11h0m33 17h0m68-13h0m9-22h0m72 38h0m3-18h0m28 9h0m18-2h0m77 10h0m61-37h0m25 29h0m29-10h0m61 5h0m1-7h0m77-7h0m56-2h0m144 24h0m78-15h0m-979 29h0m54 31h0m70-11h0m68-8h0m18 15h0m36-17h0m27 10h0m30 2h0m14-2h0m24-6h0m18 12h0m63-12h0m66 17h0m25-19h0m14-7h0m105 23h0m4-7h0m6-24h0m13 17h0m217-20h0m88 24h0m34 8h0m22 3h0m7-10h0m-1062 45h0m22-30h0m21 33h0m158-17h0m55 18h0m34-14h0m3 8h0m55-18h0m12-6h0m36 25h0m30-10h0m12 13h0m27-1h0m36-26h0m113 34h0m74-2h0m3-28h0m89 2h0m73 23h0m143-11h0m38-20h0m4 4h0m16 26h0m57-33h0m24 28h0m-1038 38h0m29 0h0m5-26h0m28 29h0m23 2h0m151-20h0m3 26h0m28-17h0m141 8h0m30-20h0m16 23h0m14-9h0m64-15h0m67-7h0m7 2h0m55 24h0m11 10h0m40-31h0m101-5h0m111 20h0m29-11h0m64 5h0m42 15h0m-1141 37h0m51-4h0m1 1h0m89 12h0m50-23h0m29-11h0m91 21h0m4 5h0m7 6h0m13-26h0m3 27h0m110 2h0m2-6h0m27 0h0m33-23h0m59 7h0m33 25h0m103-1h0m6-15h0m257-11h0m6 7h0m142 11h0m26 7h0m47-23h0m-1164 54h0m52 9h0m107-7h0m36 0h0m29-28h0m113 12h0m4 4h0m2 16h0m50 3h0m0-37h0m146 15h0m39 20h0m1-23h0m66 2h0m3 21h0m61-5h0m6-20h0m243 11h0m224 14h0m-1146 24h0m42 8h0m31-1h0m11-1h0m41-19h0m39 20h0m7 0h0m32-16h0m44 0h0m7 15h0m56 0h0m48-18h0m9 30h0m21-26h0m11 27h0m92-18h0m55 18h0m99-23h0m55 19h0m170 5h0m99-10h0m47-8h0m100-2h0m4 9h0m-1175 16h0m41 28h0m3-7h0m44-8h0m36-16h0m64 24h0m47-17h0m145 15h0m73-9h0m20 22h0m13-14h0m26 2h0m90-24h0m18 12h0m25 6h0m69-3h0m142 22h0m194-7h0m103-8h0m54 7h0m-1143 30h0m137 20h0m13-34h0m92 21h0m81 10h0m77-18h0m32 19h0m33-24h0m14 13h0m1 0h0m52-20h0m7 33h0m65-35h0m117 15h0m177-10h0m90-6h0m136 27h0m92-1h0m-1219 44h0m41 3h0m31-31h0m48 5h0m3 14h0m6-20h0m24 30h0m68-6h0m59-1h0m34-9h0m18-14h0m131 14h0m87-17h0m236 24h0m53-23h0m26 37h0m178-4h0m29-23h0m86-1h0m39-3h0m49 20h0m-1214 18h0m55 9h0m92-2h0m131 26h0m13-35h0m172-4h0m6 32h0m1-9h0m520-14h0m93-6h0m76 22h0m25-22h0m7 29h0m-1092 8h0m49 6h0m33 8h0m157 1h0m70 22h0m192-15h0m108-20h0m36 37h0m332-32h0m52 15h0m6-13h0m4 13h0m-1032 36h0m10 3h0m140-16h0m9 34h0m95-23h0m64 2h0m38-8h0m69 1h0m416 11h0m218-4h0m-1141 27h0m20 22h0m68-21h0m11 9h0m53 0h0m44-14h0m5 18h0m19 9h0m36-9h0m13-8h0m102 25h0m32-33h0m5-3h0m115 14h0m8 24h0m626-35h0m-1121 55h0m58-12h0m53-5h0m298 17h0m47-15h0m304 27h0m43 6h0m107 1h0m79-15h0m-849 38h0m1028 1h0m-90 28h0m-22 85h0m-479 62h0m118-11h0m111-3h0m-106 135h0m112-14h0m-587 20h0m403 56h0m390-13h0m-199 150h0m-138 36h0m70 19h0"/>
<path stroke="#3d8ec9" d="M1667 1084h0m-141 59h0m116-20h0m-200 47h0m224 24h0m57-28h0m-438 55h0m-27 46h0m253-6h0m91 69h0m45 16h0m-946 26h0m131 3h0m481 9h0m323-13h0m-494 29h0m3 29h0m82 1h0m-316 38h0m164-3h0m-367 47h0m12-9h0m22-12h0m29 17h0m381-8h0m-389 33h0m4-3h0m-123 34h0m82 8h0m305 8h0m299-8h0m20 15h0m-818 51h0m222-7h0m7 7h0m72-32h0m338 24h0m71 4h0m66-21h0m76-9h0m-303 38h0m118 17h0m14 19h0m149-25h0m3 24h0m26-8h0m-927 43h0m661-16h0m173 0h0m81 2h0m129-14h0m44 27h0m-840 10h0m348 13h0m54 17h0m143 6h0m67-21h0m109-1h0m84-7h0m-888 67h0m237-12h0m449 11h0m379-9h0m-985 36h0m6 9h0m200-24h0m175 17h0m45-22h0m35 18h0m77 1h0m174 11h0m76-3h0m-784 27h0m212 8h0m102-15h0m33 6h0m4-9h0m64 4h0m69 29h0m26-36h0m8 7h0m8 3h0m85 21h0m125-15h0m27-10h0m202-4h0m-665 44h0m106 3h0m13 28h0m163-17h0m77-7h0m12 24h0m20-23h0m31 1h0m72 3h0m39-6h0m36 21h0m2 2h0m40-36h0m-858 44h0m7 11h0m44 18h0m418-1h0m7-12h0m81 6h0m15 9h0m60-9h0m3 9h0m22-19h0m10 4h0m67-21h0m24 16h0m1 15h0m37-3h0m60-20h0m30 31h0m22-6h0m14-13h0m14-19h0m2 16h0m-990 53h0m214-13h0m225 15h0m39-10h0m7 5h0m18 0h0m84 11h0m4-5h0m83-24h0m98 8h0m130-4h0m70 17h0m64-23h0m-282 62h0m11-6h0m43-4h0m76-1h0m79-12h0m18 2h0m-478 66h0m14-25h0m34-6h0m4 15h0m16-1h0m12 10h0m67 11h0m136-17h0m32-8h0m141 11h0m10-7h0m29 22h0m-927 9h0m9 29h0m113-24h0m105-7h0m176 14h0m151 3h0m23-7h0m36 3h0m127-15h0m6 4h0m25 7h0m64 6h0m84-10h0m-817 68h0m418-24h0m259 5h0m78-1h0m-335 28h0m94 14h0m65-19h0m53 9h0m21 18h0m40 1h0m80-6h0m35 12h0m54-11h0m-792 40h0m103 7h0m129-27h0m56 30h0m94-25h0m166-2h0m19 30h0m-612 25h0m237-4h0m48 20h0m172-17h0m17-19h0m71 7h0m20 12h0m19 9h0m33-3h0m12 5h0m72-29h0m-747 47h0m131 14h0m425-23h0m21 6h0m84 24h0m22-15h0m161 7h0m34 5h0m-539 14h0m456-2h0m36 20h0m-738 47h0m339-19h0m116 15h0m39 10h0m-336 41h0m94-21h0m4-6h0m436 16h0m-848 21h0m21 1h0m104 14h0m136 6h0m8-16h0m74 14h0m117-5h0m259-11h0m-315 69h0m31-32h0m177 12h0m67 12h0m8-14h0m3-8h0m8 8h0m29 9h0m29-17h0m16 0h0m-71 92h0m112-9h0m-295 33h0m101 41h0m54 6h0m137-10h0m-355 69h0m54-8h0m47 40h0m70-7h0"/>
<path stroke="#9c9ea4" d="M1578 1061h0m-147 60h0m43 26h0m-31 25h0m88 75h0m-548 89h0m-168 42h0m34 20h0m312-31h0m212 4h0m-548 55h0m318-3h0m36 2h0m20 6h0m-451 18h0m104 7h0m-268 38h0m5 22h0m170-9h0m446 11h0m7 39h0m-580 23h0m70 3h0m29 11h0m2-19h0m331-2h0m173 9h0m-675 25h0m12 7h0m136 20h0m66-20h0m119-6h0m27 7h0m416 0h0m94 9h0m-947 21h0m125 27h0m170 2h0m362-8h0m-691 14h0m180 16h0m132-5h0m20-4h0m257 17h0m69 2h0m86-7h0m100 17h0m93-24h0m-851 55h0m182 12h0m167-7h0m281-27h0m-503 37h0m174-1h0m235 1h0m44 36h0m82-23h0m11 10h0m23-12h0m461 0h0m-1175 36h0m379 18h0m116-25h0m80 27h0m105-7h0m12 6h0m153 7h0m295 1h0m-1003 13h0m76 18h0m102 6h0m90-23h0m91 5h0m76 10h0m1-21h0m7 11h0m191 9h0m467-4h0m-1233 58h0m456-12h0m146-6h0m-519 34h0m29 17h0m1-5h0m52 3h0m115 1h0m117-27h0m17 35h0m32-27h0m115 10h0m51 13h0m97-21h0m132 16h0m375-16h0m11-7h0m-983 46h0m200-2h0m141-7h0m606 24h0m36-24h0m-976 40h0m29 6h0m154 14h0m33 4h0m88 5h0m84-9h0m13-2h0m219-19h0m37 13h0m-851 51h0m72-23h0m25 2h0m119 28h0m48-16h0m59 11h0m161-18h0m474 2h0m138 2h0m-1090 49h0m130-11h0m5-1h0m531 19h0m331-28h0m-944 44h0m200 30h0m68-23h0m25 23h0m43-33h0m209 12h0m335 5h0m6 12h0m-563 10h0m76 15h0m23 6h0m12-18h0m32 1h0m216 19h0m309-25h0m-750 41h0m190 19h0m118 2h0m65-12h0m12 12h0m185-11h0m192 23h0m79-5h0m-847 34h0m59 9h0m166-18h0m17 20h0m114-28h0m8 32h0m10-34h0m30 1h0m109 28h0m224-5h0m54-3h0m6 12h0m-745 10h0m12 15h0m71-11h0m2 27h0m64-2h0m12-26h0m140-10h0m36 14h0m56-4h0m4 0h0m73 1h0m293 11h0m-837 32h0m34 17h0m71-18h0m12 11h0m40-20h0m20 24h0m43-6h0m121-21h0m18 3h0m106-1h0m41-1h0m0 1h0m14 13h0m23-12h0m10 20h0m164 0h0m14-23h0m33 0h0m42 30h0m-780 10h0m10 9h0m26 25h0m83-29h0m35 14h0m31-2h0m50-17h0m14 35h0m9-7h0m24-12h0m106-15h0m14 36h0m16 0h0m26-25h0m39 24h0m75-13h0m23 10h0m28-6h0m-643 45h0m51 1h0m113-22h0m20 6h0m1 4h0m235 14h0m10-10h0m34-6h0m36 4h0m19-24h0m46 31h0m82-11h0m21 10h0m6 8h0m5-30h0m-765 37h0m41 2h0m96 16h0m60-5h0m33 2h0m91-20h0m277 26h0m42 12h0m156-22h0m54 8h0m39-13h0m-663 31h0m42 15h0m31 19h0m10-27h0m28 29h0m86-14h0m27-24h0m142 7h0m115 23h0m87-21h0m47 26h0m-730 11h0m52 12h0m117 8h0m18-26h0m18 19h0m138-7h0m8 15h0m5-13h0m45 21h0m43-33h0m24 23h0m49-10h0m56 16h0m-358 35h0m3 3h0m10-28h0m112 20h0m14 11h0m131-20h0m21 8h0m79-4h0m13-9h0m146 26h0m-454 11h0m113 0h0m43 30h0m2-3h0m43-10h0m1-7h0m36 12h0m17-18h0m69 29h0m0-31h0m61-4h0m25 27h0m-232 38h0m39 11h0m15-33h0m62 32h0m5-37h0m19 34h0m17-10h0m6-9h0m48-11h0m90 29h0m-401 34h0m105-8h0m2-9h0m108 14h0m73 2h0m-244 24h0m36 20h0m22-9h0m8-20h0m144 24h0m11 7h0m46-16h0"/>
<path stroke="#ef8f55" d="M1500 1040h0m54 29h0m25 10h0m55-3h0m-242 4h0m66 33h0m34-25h0m18 22h0m2 9h0m46 0h0m3-7h0m-240 19h0m183-11h0m1 10h0m5 1h0m120-3h0m80 9h0m13-6h0m-428 46h0m45-5h0m18 6h0m132-18h0m114 18h0m2 19h0m25-25h0m16 2h0m48 9h0m7-17h0m34-3h0m-452 43h0m2 22h0m141 4h0m43-32h0m37 37h0m21-13h0m15-19h0m32 9h0m26 14h0m23-28h0m46 37h0m54-20h0m-475 59h0m17-9h0m71-22h0m2 33h0m2 1h0m74-38h0m56 28h0m98-26h0m-315 70h0m142-21h0m101 18h0m5-16h0m88 16h0m4 0h0m17-24h0m35 27h0m-781 23h0m46 18h0m9-8h0m15 11h0m139-8h0m166-29h0m63 27h0m58-20h0m27-4h0m63 0h0m147 16h0m-849 51h0m15 7h0m12-13h0m20-7h0m186-8h0m245 30h0m171-30h0m77-3h0m4-2h0m9 29h0m84-24h0m56-1h0m3 17h0m-905 30h0m4-1h0m1-11h0m35 17h0m31 6h0m70-10h0m6 10h0m74-19h0m240-7h0m240 35h0m20-10h0m47-13h0m14-12h0m129 12h0m-1150 58h0m47 6h0m16-9h0m111-4h0m21-20h0m16 27h0m70 4h0m69 1h0m168-8h0m77-7h0m31 15h0m134-32h0m56 25h0m170-25h0m14 11h0m-951 49h0m35 13h0m7 2h0m71-9h0m88-1h0m55 2h0m17-25h0m5 24h0m29-19h0m144 6h0m166 12h0m31-18h0m37 29h0m-780 3h0m23 21h0m102-5h0m3 11h0m72-15h0m38-7h0m58 8h0m58-1h0m3-12h0m35 33h0m85-35h0m46 37h0m101-11h0m7 2h0m38 7h0m43-29h0m10 10h0m-692 29h0m13 17h0m19-21h0m0 34h0m15-33h0m8 18h0m21-18h0m34 37h0m18-27h0m8 19h0m26-31h0m98 30h0m19-16h0m70 12h0m40 11h0m5-5h0m14-16h0m25 12h0m30-14h0m50 17h0m42-26h0m129 13h0m6 14h0m10-11h0m114 11h0m34-18h0m-868 36h0m13-5h0m53 21h0m67-22h0m40 21h0m47-3h0m12-12h0m64 2h0m16 27h0m31-25h0m38 14h0m11-14h0m14 5h0m29-17h0m28 26h0m20 0h0m22-11h0m12 20h0m17-18h0m20 18h0m0-11h0m95-16h0m119 14h0m59-2h0m48 15h0m0-14h0m85-7h0m-1029 50h0m26-26h0m52 32h0m30-11h0m28 0h0m56-13h0m36 2h0m52 6h0m11-16h0m77 12h0m15-8h0m2 28h0m2-21h0m33 20h0m23-6h0m33-25h0m97 37h0m25 2h0m17-39h0m15 1h0m27 28h0m12-29h0m35 20h0m51-19h0m16 20h0m84-15h0m150 4h0m44 29h0m10-27h0m15-9h0m94 31h0m-1150 20h0m7-7h0m51 30h0m55 2h0m21-34h0m121 25h0m7 8h0m68-27h0m2 7h0m27-18h0m4 12h0m8 2h0m3-8h0m6 28h0m106-5h0m8-15h0m39 20h0m6-19h0m40-12h0m15 33h0m76-11h0m3-21h0m5 31h0m89-33h0m69 1h0m7 9h0m71-5h0m32 21h0m136 4h0m7-25h0m43 5h0m-1112 49h0m8-13h0m63 20h0m54-22h0m14 21h0m48-20h0m18 24h0m96-11h0m16-15h0m2 12h0m10-1h0m13 17h0m1-14h0m25 18h0m6-2h0m23-5h0m22-5h0m76-8h0m84 10h0m72 8h0m10-33h0m4 7h0m39 7h0m4 2h0m9-1h0m30-14h0m257 17h0m109 2h0m52 7h0m-1171 28h0m49 20h0m2 0h0m29-19h0m37-11h0m53 21h0m8-23h0m59 24h0m26 9h0m64-2h0m40-18h0m1-10h0m9-3h0m11 25h0m0-6h0m133 15h0m114-21h0m68-13h0m23 5h0m7 5h0m4 1h0m57 5h0m0 12h0m163 6h0m105-38h0m196 26h0m-1149 31h0m22-13h0m166 11h0m73-16h0m0 39h0m20-39h0m21 17h0m58 21h0m49-18h0m20-14h0m19 4h0m72 11h0m31-2h0m457-19h0m9 31h0m89-30h0m6 35h0m69-29h0m-1174 65h0m12-8h0m2-15h0m117 9h0m114-5h0m131 9h0m57-2h0m9 13h0m16-8h0m4-6h0m42 13h0m44-10h0m25-15h0m10 15h0m381-19h0m210 19h0m-1171 42h0m4 5h0m53-16h0m294-2h0m82 24h0m79 2h0m453-27h0m49-2h0m27 7h0m22-10h0m102-2h0m-1172 44h0m18 16h0m40-9h0m48 6h0m73-12h0m49 9h0m21-9h0m43-6h0m35 15h0m22-11h0m185 9h0m85-7h0m9 22h0m135 4h0m18-14h0m246-3h0m12-15h0m33 21h0m26-4h0m4 1h0m23 13h0m44-2h0m-1184 32h0m82-11h0m11 3h0m47 15h0m78-10h0m94 10h0m24-18h0m43 1h0m145-11h0m57 3h0m25 23h0m18 1h0m94-27h0m69 32h0m95-6h0m195-3h0m92 3h0m64 7h0m-1214 24h0m22 1h0m107 0h0m26 3h0m22 16h0m9-26h0m69 12h0m65-2h0m486-2h0m246-14h0m71 9h0m-1108 27h0m325 13h0m6 20h0m34-11h0m107 5h0m311 1h0m48-16h0m76-11h0m269 27h0m-1103 40h0m19-19h0m34 2h0m71 19h0m74-27h0m116 32h0m87-14h0m446-3h0m-876 34h0m35 18h0m10 6h0m21-33h0m144 15h0m12-14h0m4 14h0m473-21h0m213 7h0m199 18h0m-1018 22h0m694 14h0m2-19h0m62 2h0m155 0h0m-227 56h0m101 15h0m123-20h0m-697 31h0m598 2h0m75 24h0m-416 9h0m140 25h0m186-16h0m83 18h0m166-28h0m-511 109h0m27-10h0m-34 36h0m-128 61h0m-267 27h0m387-13h0m148 49h0m260 12h0m-463 10h0m51 19h0m119 8h0m309-22h0m-381 94h0m170 44h0"/>
<path stroke="#9c9ea4" d="M1609 1033h0m-167 66h0m221 13h0m-95 203h0m-364 6h0m178 29h0m-257 49h0m-89 32h0m195 3h0m-312 38h0m315 3h0m254-31h0m-933 41h0m189 34h0m47-36h0m310 29h0m-660 43h0m150 25h0m638-11h0m8 22h0m-777 24h0m32 19h0m579 4h0m-651 23h0m584 14h0m105-19h0m221 19h0m-845 28h0m243-7h0m625-3h0m-933 30h0m266 18h0m71 5h0m46-4h0m326 16h0m82-34h0m32 2h0m5 12h0m339 12h0m-852 31h0m216-5h0m663 23h0m-1128 22h0m14 13h0m17-5h0m157 6h0m204-2h0m334 0h0m-419 38h0m110 8h0m502-38h0m194 14h0m-1079 49h0m322 11h0m201-22h0m64-12h0m2 3h0m-594 54h0m6 7h0m132 2h0m90-8h0m161-2h0m78 6h0m262-7h0m-495 29h0m23 9h0m356-14h0m8 2h0m356 14h0m-870 25h0m94 30h0m234-24h0m94 22h0m58-20h0m-551 60h0m18 0h0m19-18h0m98 5h0m103 0h0m116-2h0m57 11h0m11-16h0m67 2h0m68-5h0m273 17h0m179 9h0m-952 19h0m268 8h0m100-9h0m361 3h0m118-4h0m228 22h0m13-29h0m-827 42h0m65-2h0m267 33h0m161-7h0m140 4h0m-857 14h0m119 32h0m119-4h0m7-15h0m47 10h0m161 9h0m60-6h0m83-13h0m324 9h0m49-27h0m-747 62h0m94-5h0m156-6h0m157 26h0m116-16h0m48-2h0m14-8h0m85-4h0m146 19h0m21-5h0m27-3h0m-866 49h0m7 4h0m2 1h0m10-15h0m9 6h0m89-10h0m32 6h0m1-6h0m31 11h0m7 8h0m151-6h0m6-10h0m426 13h0m-775 24h0m14 17h0m30-20h0m43 7h0m23-14h0m18 1h0m27 29h0m17-13h0m66 13h0m2 1h0m6 3h0m44-17h0m2 6h0m28-3h0m57-4h0m68 2h0m18 17h0m42-24h0m120 21h0m-645 38h0m43-18h0m14 11h0m54 0h0m78-14h0m29 9h0m4-19h0m12 32h0m185-2h0m30-6h0m42-16h0m67 8h0m109-3h0m-660 29h0m40 24h0m69 8h0m30-32h0m85-2h0m36 31h0m10-19h0m1-6h0m84 27h0m164 3h0m11-25h0m38 12h0m64-22h0m22 34h0m94-38h0m-811 50h0m53-10h0m37 0h0m5 12h0m26 9h0m31-17h0m105 4h0m31 11h0m75 0h0m69 10h0m119 1h0m13 5h0m8-25h0m9 2h0m79 6h0m64-14h0m16 18h0m21 9h0m110-23h0m-801 66h0m97-7h0m27-11h0m12 0h0m8-8h0m31 0h0m19 30h0m14-21h0m48-13h0m12 15h0m11 5h0m103 12h0m4 1h0m173-17h0m34-4h0m54-16h0m130 15h0m24 6h0m-788 33h0m11 12h0m45-13h0m1-6h0m39 24h0m4-6h0m10-8h0m46 2h0m23-3h0m17 5h0m13 15h0m6-25h0m20 10h0m7 2h0m17 0h0m33 13h0m59-19h0m15 22h0m18-17h0m39-13h0m17 18h0m118-11h0m65-14h0m23 13h0m34 3h0m-704 33h0m145 24h0m32-18h0m88-17h0m11 32h0m1-22h0m61 23h0m33 5h0m6-35h0m164 26h0m15 8h0m13-32h0m5 9h0m34 21h0m49-12h0m104-14h0m-623 41h0m11-5h0m110 12h0m25-13h0m64 31h0m6-9h0m62 8h0m33 2h0m37-32h0m20 20h0m76-20h0m73 19h0m8-2h0m30-3h0m27 2h0m25 4h0m8 7h0m-494 12h0m239 26h0m117 2h0m8-14h0m14 16h0m103-14h0m-375 35h0m9 23h0m28-20h0m105 18h0m35-1h0m102-22h0m43 22h0m8-7h0m-319 14h0m7 10h0m2 4h0m59 14h0m5-16h0m70 17h0m7-22h0m30-1h0m2 5h0m44 13h0m41-1h0m5 0h0m77-12h0m-221 38h0m0-10h0m76 21h0m23-21h0m59 16h0m49-14h0m8 11h0"/>
<path stroke="#ef8f55" d="M1541 1030h0m101 32h0m2-11h0m16 9h0m37 7h0m-367 24h0m51 15h0m13 3h0m5 2h0m28-22h0m34-9h0m12 25h0m112-10h0m27-11h0m22 3h0m11 31h0m55-28h0m-365 38h0m82 23h0m79 1h0m2 0h0m14-15h0m10 13h0m126 9h0m27-24h0m58-12h0m-378 69h0m27-11h0m84-15h0m7 3h0m55 19h0m30-13h0m53 8h0m13 0h0m10 16h0m21-15h0m46 8h0m-421 37h0m12-3h0m77-17h0m85-3h0m64 15h0m20-19h0m35 36h0m30-6h0m14 7h0m41-35h0m-453 75h0m56-20h0m66 17h0m31-14h0m92 17h0m22-10h0m6-16h0m3 5h0m2-7h0m6 28h0m13-8h0m25-22h0m28-9h0m21 35h0m5-11h0m29-6h0m40 7h0m21 0h0m-380 16h0m62 21h0m114-7h0m53 0h0m4 13h0m53-25h0m90 8h0m11 8h0m-879 45h0m30-3h0m57 16h0m84-20h0m169-5h0m53 27h0m134-31h0m14-7h0m124 38h0m14 0h0m58-36h0m51 16h0m2-5h0m24 12h0m70 11h0m-878 41h0m120-23h0m39 13h0m1-6h0m8 12h0m4-30h0m26 29h0m31-19h0m308-9h0m77 9h0m11 14h0m26 11h0m23-13h0m81-20h0m6 33h0m74-9h0m15-10h0m21-7h0m-845 45h0m190-1h0m111-12h0m8 3h0m94 7h0m209 0h0m33 21h0m83-16h0m-1000 55h0m186-14h0m40-14h0m8-5h0m71 7h0m6-8h0m27 27h0m47-10h0m0-11h0m10 32h0m47-19h0m31 7h0m120 0h0m71-11h0m21 3h0m254-11h0m-1037 55h0m14-10h0m113 21h0m14-6h0m116-15h0m38 1h0m4 13h0m90-23h0m5 29h0m16-33h0m28 25h0m206 5h0m130-23h0m-779 57h0m155-16h0m15 11h0m51-4h0m12-5h0m1 3h0m54 26h0m21-32h0m17-1h0m2 0h0m148 9h0m36 19h0m76-9h0m-585 44h0m0 10h0m20-12h0m136 8h0m29-5h0m130-30h0m20 38h0m0-14h0m108 2h0m91-18h0m40 26h0m1 5h0m193-19h0m0 6h0m67-2h0m40 14h0m-787 12h0m29 16h0m21-14h0m59 6h0m47 20h0m41 0h0m50-37h0m2 17h0m11 7h0m1 8h0m23-6h0m84 7h0m49-19h0m60-1h0m4-4h0m66-7h0m83 23h0m84-23h0m100 9h0m102 26h0m-1047 11h0m118 8h0m3-14h0m15 11h0m15 10h0m31-2h0m144-9h0m53-5h0m21 18h0m139-24h0m113 3h0m20 12h0m3-3h0m28-12h0m6 21h0m3 1h0m71-3h0m22-9h0m214-6h0m-1006 62h0m5-12h0m96 4h0m8 11h0m29 6h0m1-19h0m2-13h0m17 1h0m0 6h0m20 21h0m80-17h0m22-6h0m77 14h0m18-20h0m27 10h0m74-14h0m30 36h0m44-18h0m8 14h0m17-19h0m3-10h0m23-1h0m90 15h0m35 10h0m20-21h0m95 21h0m218-8h0m47-12h0m-1099 53h0m37-17h0m72 15h0m10 19h0m28-19h0m46 20h0m27-11h0m50 3h0m50 3h0m8-30h0m14 27h0m16 1h0m90-9h0m64-6h0m4 14h0m15-19h0m20 26h0m34-30h0m19 7h0m32 23h0m68-2h0m0-24h0m82 24h0m8-13h0m233-20h0m18 28h0m2-21h0m12 12h0m110-2h0m-1207 32h0m42 1h0m108-6h0m25 10h0m3-14h0m24 0h0m43 31h0m36-18h0m67 14h0m5-4h0m47-12h0m0-5h0m11 18h0m176-22h0m39 21h0m64 11h0m8 2h0m46-32h0m30 2h0m18 17h0m26-3h0m8 16h0m118-7h0m151-17h0m39 0h0m10 0h0m41 8h0m87 6h0m-1178 15h0m110 27h0m27-1h0m21 4h0m44 4h0m18-11h0m9-6h0m12-9h0m37 5h0m129 10h0m15 1h0m19 10h0m104-11h0m5 12h0m53-8h0m21-9h0m77-15h0m90 16h0m103-20h0m345 2h0m-1289 52h0m24 23h0m36-5h0m59-2h0m3-6h0m7-26h0m25 24h0m104 11h0m17-24h0m22-5h0m16 4h0m33 16h0m225 10h0m46-6h0m34-15h0m74 0h0m403 1h0m57 20h0m94-18h0m28 12h0m-1287 23h0m15 18h0m20-18h0m39-11h0m36 28h0m52-21h0m77 15h0m17-14h0m82 29h0m122-14h0m12-2h0m6-14h0m5-2h0m58 32h0m57-21h0m30 7h0m23-7h0m45-10h0m40 15h0m33-11h0m31 22h0m25-3h0m376-28h0m67 13h0m-1209 61h0m105-15h0m33 8h0m54-4h0m23-8h0m41-3h0m75 4h0m98 8h0m37-23h0m57 32h0m28-17h0m135 14h0m304-9h0m121-15h0m97 10h0m4 12h0m-960 31h0m3 16h0m40-36h0m66 34h0m4-6h0m87-15h0m32 19h0m57-14h0m15-9h0m8 28h0m10-2h0m17-1h0m30-12h0m23 11h0m283 3h0m158-1h0m108-4h0m-1195 17h0m46-6h0m33 35h0m49-13h0m146 13h0m114-37h0m583 14h0m203-15h0m13 30h0m-1128 12h0m41-2h0m89 19h0m45 14h0m51-17h0m41-10h0m3-3h0m15 5h0m4 6h0m16-14h0m63 9h0m137 16h0m47-13h0m105-12h0m372 29h0m-962 16h0m33-6h0m71 26h0m12-15h0m58-6h0m34 14h0m44-8h0m30 26h0m3-6h0m70-13h0m-373 44h0m75 14h0m6-6h0m170-13h0m468-14h0m10 49h0m118 10h0m136 9h0m18-24h0m-185 65h0m75-23h0m159 17h0m-235 42h0m-320 16h0m511 30h0m29-8h0m-527 61h0m288 30h0m285-37h0m-103 155h0m-239 83h0m-25 57h0m14-9h0m69 11h0m190 40h0"/>
<path stroke="#3d8ec9" d="M1538 1128h0m77-7h0m-303 48h0m6 100h0m147 0h0m-297 50h0m104-20h0m2 18h0m286-14h0m-486 76h0m81 2h0m15-3h0m-439 61h0m137-28h0m144 16h0m48-2h0m-205 49h0m95-1h0m155 5h0m102-15h0m-144 40h0m136 2h0m-401 41h0m73-25h0m28 15h0m313 33h0m95 17h0m13-10h0m-552 56h0m59 7h0m263-2h0m124 1h0m35-17h0m109-17h0m-888 71h0m191-21h0m317-1h0m46 15h0m194-9h0m3 6h0m22-9h0m3-3h0m9 18h0m79-26h0m143 15h0m37-20h0m12 31h0m-1074 22h0m680-3h0m143 0h0m43 5h0m83-11h0m12 28h0m115-4h0m42-14h0m29 5h0m-1012 54h0m145-31h0m412 16h0m2 13h0m63-20h0m125 9h0m175-1h0m97 0h0m-779 51h0m200-22h0m150 17h0m39 3h0m17-18h0m150-3h0m44 15h0m65 4h0m135-26h0m-764 41h0m240 6h0m11 21h0m19-23h0m13 22h0m69 3h0m18-1h0m112-28h0m211 17h0m2 4h0m63 10h0m31-10h0m-495 30h0m17-10h0m29 28h0m53-9h0m34 9h0m64-6h0m48-21h0m27 5h0m27 8h0m93 14h0m29 1h0m82-7h0m20-22h0m21 1h0m-564 49h0m30 1h0m0-2h0m278 19h0m7 9h0m3-32h0m115 32h0m19-25h0m79 2h0m-1098 60h0m560-9h0m22 9h0m101-17h0m32-2h0m136-12h0m132 29h0m124-5h0m-975 46h0m404 4h0m61-13h0m93 3h0m55 7h0m48-22h0m7 9h0m37 0h0m40-19h0m2-2h0m119 34h0m89-35h0m14 29h0m29 8h0m0-35h0m-971 63h0m333-18h0m154 20h0m31-23h0m2 32h0m120-15h0m10-1h0m15 12h0m21-26h0m15 12h0m31-7h0m117-3h0m151 22h0m-1075 16h0m547 24h0m18 4h0m17-30h0m75 3h0m34 3h0m68-4h0m16 0h0m3 1h0m53 31h0m-839 1h0m624 13h0m72 19h0m10-20h0m40 13h0m111-15h0m56 7h0m108-12h0m0-1h0m-1030 52h0m86-9h0m592 20h0m60 0h0m103-10h0m163 21h0m25-21h0m60 10h0m-281 40h0m8-26h0m20 8h0m57 30h0m9-15h0m24-13h0m53-5h0m21 19h0m62-10h0m15 22h0m-725 24h0m275-13h0m6 0h0m168 22h0m29-3h0m109-21h0m23 9h0m10 3h0m5-2h0m14 10h0m122-25h0m-766 65h0m42 12h0m234-28h0m227 21h0m34-13h0m18 20h0m4-14h0m64-3h0m15-17h0m5 5h0m3 8h0m30 14h0m5-16h0m12 16h0m17-1h0m14 3h0m15-24h0m11 23h0m-573 45h0m98-13h0m15 9h0m234-17h0m9 6h0m130-13h0m-489 51h0m183 7h0m59 11h0m196-20h0m51-11h0m-773 53h0m448 17h0m100-22h0m-99 48h0m102 16h0m7 0h0m22-25h0m-540 56h0m374-6h0m49-18h0m149 24h0m-275 35h0m192 0h0m62-12h0m8 19h0m93-26h0m49 6h0m-178 66h0m11-38h0m141 3h0m40 24h0m-138 27h0m-246 95h0m218 24h0m139 47h0"/>
<path stroke="#3d8ec9" d="M1578 1059h0m15-1h0m-266 115h0m270 5h0m-188 39h0m-520 138h0m320-8h0m108 8h0m-341 39h0m132-6h0m107-14h0m117 12h0m-557 36h0m82-6h0m16 17h0m93 0h0m-132 38h0m10-3h0m22-28h0m197 33h0m104 1h0m-613 54h0m260 29h0m381-11h0m49 7h0m-526 15h0m38 18h0m477-15h0m17 8h0m7-7h0m-884 60h0m365-5h0m98-27h0m25 36h0m110-8h0m114 11h0m115-22h0m14-16h0m57 37h0m3-31h0m3 11h0m207 17h0m-769 36h0m13-14h0m216-3h0m128 13h0m164-16h0m27-8h0m92 19h0m124 5h0m-208 39h0m220-14h0m97 10h0m-972 32h0m273 17h0m162-24h0m58-5h0m245 11h0m56 13h0m75-2h0m13 4h0m12-14h0m167 23h0m-918 17h0m29 13h0m385-13h0m12 11h0m108 1h0m5-15h0m28-11h0m57 15h0m30-14h0m138 32h0m6-6h0m72-4h0m-1105 45h0m149-26h0m139 31h0m248-30h0m73 19h0m15 14h0m58-1h0m12-4h0m3-12h0m81 8h0m0 5h0m54-23h0m1 0h0m3 19h0m17-9h0m61-7h0m26 21h0m-418 33h0m70-15h0m39-10h0m7 31h0m72-16h0m58 16h0m64-32h0m18 39h0m40-39h0m171 0h0m10 10h0m66 28h0m0-30h0m32 14h0m53-2h0m-1041 40h0m255-8h0m129 22h0m55-15h0m59 0h0m29 1h0m123-10h0m13 21h0m165 7h0m102-7h0m66 1h0m4 5h0m-591 6h0m82 34h0m3-10h0m76 11h0m35-20h0m30-11h0m1 25h0m23-21h0m7-10h0m4 15h0m78 6h0m10-21h0m26 11h0m36 2h0m39 13h0m49-5h0m-417 48h0m37 2h0m45-24h0m112 28h0m81-24h0m10-8h0m197 28h0m-863 21h0m118 22h0m202-5h0m80-8h0m9-4h0m55 8h0m82-16h0m47 16h0m13-23h0m11 25h0m23-25h0m3 27h0m112-4h0m14 12h0m106-22h0m-979 47h0m68 9h0m222-16h0m330 15h0m189-18h0m11 20h0m27-21h0m30 18h0m103-11h0m5 10h0m-1117 47h0m438-10h0m80-2h0m262-13h0m13-3h0m143 12h0m31 10h0m18-9h0m19 9h0m-275 30h0m35 9h0m6-28h0m16 9h0m13 17h0m38-26h0m5 5h0m74 15h0m15 14h0m-140 40h0m1-25h0m30 6h0m54 4h0m68-19h0m63 29h0m17-22h0m80 28h0m-712 8h0m69 31h0m3 3h0m291-26h0m1 24h0m25-35h0m1 0h0m13 11h0m28 19h0m20 1h0m54-23h0m107 16h0m28-23h0m61 25h0m80-16h0m-594 57h0m103-17h0m125 10h0m151-7h0m7-8h0m41 15h0m82-17h0m-657 54h0m54 17h0m92-4h0m146-5h0m40-1h0m177 0h0m15-4h0m25-4h0m5 8h0m15-13h0m15 15h0m49-15h0m5 23h0m6-4h0m76-2h0m-379 23h0m136 20h0m204-19h0m33 19h0m-719 35h0m94-23h0m335 9h0m215 21h0m-569 26h0m56-8h0m104 22h0m47-31h0m72 13h0m178 15h0m-293 11h0m117 6h0m-172 44h0m197-1h0m13 27h0m137-25h0m33-1h0m47-9h0m-208 54h0m194 14h0m-459 21h0m122 44h0m23 1h0m27 14h0m195 57h0m64 5h0m-235 48h0m50-16h0"/>
<path stroke="#ef8f55" d="M1611 1039h0m-183 33h0m41-23h0m0-1h0m38 23h0m7-30h0m37 36h0m41-13h0m7 4h0m-243 40h0m13-16h0m24 22h0m12-14h0m21 9h0m28-11h0m28 16h0m5-13h0m30-16h0m9 3h0m65 27h0m32-14h0m21 7h0m25 6h0m-231 37h0m81-20h0m50 6h0m35 0h0m11 18h0m6-30h0m26 5h0m-256 32h0m102 30h0m14-28h0m16 26h0m135-29h0m1 11h0m81 24h0m-482 19h0m36 21h0m39-23h0m124 20h0m5-8h0m28-7h0m70-8h0m52-3h0m14 30h0m39-1h0m-363 16h0m65 3h0m75-13h0m29 16h0m5 6h0m12 4h0m16-24h0m10 14h0m124 12h0m45 0h0m-422 42h0m47-13h0m37-3h0m52 2h0m154 15h0m92-31h0m13 12h0m23 10h0m4-21h0m-898 71h0m184-33h0m3 28h0m195-10h0m13-10h0m213 27h0m2-7h0m173-19h0m-827 36h0m3 27h0m194-16h0m19 22h0m7-10h0m41 3h0m91-17h0m13-15h0m98 4h0m11 32h0m108-1h0m66 1h0m71-11h0m48-14h0m38 12h0m106-17h0m-942 73h0m11-14h0m8 3h0m5 5h0m52-19h0m6 21h0m28-14h0m91-1h0m153 19h0m8-39h0m26 31h0m516-22h0m-1095 59h0m69-28h0m19 31h0m24 5h0m49-5h0m5-19h0m78 0h0m129 5h0m54-9h0m83-1h0m25 8h0m43 2h0m-561 52h0m16-17h0m26 19h0m43 4h0m44-26h0m62 4h0m16 11h0m20-8h0m19 5h0m9 18h0m31-3h0m3-30h0m49 13h0m4-3h0m29-8h0m20 16h0m6 1h0m100 12h0m26-26h0m-596 67h0m14-21h0m21-8h0m41 21h0m3-25h0m37 1h0m11 14h0m69-11h0m24-6h0m0 18h0m64-6h0m45-12h0m0-3h0m29 5h0m40 34h0m17-2h0m17-6h0m16-4h0m59 6h0m23-33h0m50 23h0m62-20h0m58 24h0m6 0h0m24-7h0m57-15h0m-839 62h0m44-25h0m33 18h0m77-18h0m63 27h0m133-13h0m8-13h0m28 22h0m0-11h0m3 6h0m1 16h0m21 2h0m10-11h0m32-13h0m178 5h0m26 13h0m28-16h0m201 7h0m66 7h0m-919 39h0m31-20h0m95 3h0m29 14h0m17-14h0m115 11h0m8 5h0m22-27h0m14 11h0m15-11h0m22 1h0m42 34h0m31-3h0m15-30h0m48 36h0m46-2h0m14-32h0m6 2h0m34 18h0m54-24h0m84 11h0m30 8h0m-775 56h0m120-13h0m3 3h0m21-1h0m4 0h0m76-15h0m68 7h0m18 20h0m9-30h0m117 5h0m30 12h0m31 3h0m50-8h0m64 5h0m15-17h0m7-1h0m16 23h0m84 8h0m34-13h0m39-10h0m16 5h0m46 0h0m42-9h0m3 24h0m56-1h0m28-4h0m40-4h0m-1092 49h0m38-33h0m73 35h0m118-32h0m109 17h0m40-10h0m23 12h0m21-23h0m17 24h0m19 15h0m24-28h0m26-9h0m21 21h0m20-18h0m106 8h0m155-5h0m22-4h0m61 25h0m45 10h0m82-38h0m197 37h0m-1170 40h0m26-36h0m58 15h0m4-10h0m122 17h0m6 1h0m9-13h0m15-8h0m4 16h0m66-5h0m8-15h0m10 19h0m44 11h0m3-16h0m170-7h0m29-6h0m86 5h0m21-4h0m19 6h0m249 1h0m54 22h0m12 8h0m116-39h0m33 10h0m-1195 36h0m68 11h0m1 11h0m26-21h0m49 5h0m155-11h0m15 25h0m46-16h0m8 19h0m22-27h0m2 8h0m33 10h0m14 17h0m52-25h0m24-3h0m95 29h0m46-18h0m15 10h0m4-16h0m44-3h0m8 9h0m151-3h0m138 5h0m122-2h0m38-6h0m-1079 61h0m8-10h0m17-22h0m13 15h0m10 8h0m28 3h0m29-18h0m12 13h0m35-21h0m12 4h0m39 28h0m33-6h0m47-27h0m52 34h0m20-6h0m53-2h0m80-19h0m50 1h0m109-3h0m30 21h0m336-23h0m21 5h0m32 24h0m-1042 7h0m106 18h0m55-13h0m3-1h0m106 26h0m107-14h0m49-1h0m68-12h0m487-3h0m106 21h0m-1085 38h0m17-3h0m18 4h0m36-4h0m63 22h0m147-34h0m25-4h0m16 35h0m32 1h0m2-14h0m122 0h0m53 10h0m183-25h0m38 11h0m293 17h0m-1063 12h0m149-3h0m249 25h0m70-6h0m3 0h0m32 9h0m0-30h0m100 5h0m475-5h0m120 7h0m-1153 43h0m70 25h0m96-5h0m43-26h0m3 13h0m24 7h0m79 4h0m41-11h0m55-10h0m211 15h0m469-11h0m23 0h0m53 13h0m-1041 17h0m23-4h0m5 2h0m35 14h0m231 5h0m0-3h0m36 13h0m128-27h0m38 7h0m497 20h0m44-12h0m-1175 40h0m86 1h0m17 2h0m87 16h0m77-10h0m115-8h0m12 15h0m44-35h0m1 35h0m54-3h0m10-14h0m240-4h0m52 14h0m7-21h0m182 14h0m148 12h0m-1052 31h0m116-5h0m2-17h0m5 9h0m23 7h0m164-13h0m242-5h0m457 7h0m100 31h0m-1107 29h0m149-27h0m29 13h0m28 15h0m33-26h0m208 1h0m76 14h0m264-15h0m155 9h0m109 27h0m-952 19h0m141-15h0m424 4h0m-287 36h0m44 31h0m379-18h0m124 19h0m141-7h0m-776 19h0m571 32h0m-38 38h0m-161 14h0m-106 37h0m-22 139h0m450-23h0m-427 68h0m442 8h0m-586 3h0m363 9h0m21 117h0m43 56h0"/>
<path stroke="#9c9ea4" d="M1328 1140h0m122 4h0m179 13h0m39-37h0m-302 114h0m-11 55h0m-457 103h0m638-31h0m116 34h0m-644 27h0m118 7h0m33-27h0m-379 47h0m16-4h0m114 17h0m296-3h0m-678 29h0m156 6h0m30-8h0m76 32h0m250-32h0m179 0h0m5 20h0m42-4h0m-529 32h0m272 22h0m-319 23h0m85-12h0m109 7h0m42-1h0m101 12h0m93-19h0m70-3h0m-419 70h0m468-14h0m160-12h0m-759 47h0m310-4h0m322-10h0m16 38h0m-670 27h0m64-8h0m40-13h0m9 2h0m12 29h0m173-24h0m18 26h0m208-3h0m46 0h0m213 3h0m-752 42h0m148-36h0m325 30h0m-648 29h0m108 15h0m385-19h0m81 6h0m185 5h0m-728 44h0m48 5h0m278-22h0m26 5h0m23 14h0m417 2h0m8-25h0m88 14h0m213-18h0m-1131 44h0m148 5h0m409-9h0m123 31h0m94-10h0m267 4h0m44-10h0m-781 53h0m5-5h0m228 0h0m30-11h0m76 13h0m3-19h0m-494 30h0m90 24h0m18-17h0m119 15h0m1 7h0m10-23h0m18 28h0m38-5h0m47-20h0m98 13h0m0 7h0m206-24h0m37 30h0m52-1h0m-846 19h0m196-3h0m282-1h0m-314 27h0m50 0h0m48 18h0m70-4h0m67 5h0m57 15h0m62-15h0m126-14h0m76 9h0m-542 64h0m208-6h0m349-14h0m205-1h0m136-2h0m68 14h0m-820 12h0m2-1h0m96 1h0m8-1h0m7 23h0m19-19h0m11 27h0m318-29h0m32 4h0m-701 57h0m119-23h0m21 12h0m10 2h0m11 2h0m249-13h0m353 25h0m-742 13h0m277 14h0m89 11h0m564 0h0m16 11h0m-738 27h0m25 14h0m11 0h0m25-9h0m99-2h0m53-13h0m27 21h0m133-35h0m83 10h0m331-8h0m50 28h0m-811 49h0m1-3h0m14-29h0m111 5h0m45 15h0m3-3h0m51 10h0m125-16h0m8-16h0m45 37h0m33-11h0m-489 23h0m39 16h0m11-3h0m19-7h0m16 21h0m92-19h0m71-15h0m67 11h0m8 3h0m28-7h0m55 15h0m30-15h0m182 18h0m0 9h0m-606 17h0m11 21h0m22-25h0m186 7h0m44-12h0m10 31h0m17-34h0m17 17h0m48 3h0m57-15h0m49 17h0m25-15h0m147-6h0m83 29h0m174-8h0m-937 46h0m46-5h0m19-3h0m19 11h0m33-13h0m10 0h0m6 3h0m20 7h0m42-15h0m17-9h0m26 3h0m41 20h0m32-16h0m11 19h0m76 3h0m0-25h0m26-11h0m24 38h0m216-19h0m13 7h0m71-18h0m154-4h0m-836 66h0m14-13h0m111 18h0m6 0h0m20-23h0m61 23h0m59-22h0m18 5h0m15-12h0m4 25h0m9-23h0m135-2h0m18 1h0m92 5h0m25 25h0m52-33h0m67 22h0m7 5h0m-781 35h0m70-26h0m61 23h0m1-19h0m8 32h0m36-15h0m95-2h0m17-4h0m36-8h0m34 13h0m16-19h0m106 15h0m33-11h0m44 26h0m196-18h0m-678 54h0m9 7h0m61-3h0m139 5h0m94-26h0m187 29h0m59-13h0m7-20h0m49 2h0m45-6h0m-652 38h0m4 34h0m162-28h0m19 3h0m84 27h0m7-25h0m13-7h0m5 23h0m36 1h0m117-10h0m29 8h0m102-25h0m24 8h0m2 6h0m11-13h0m15 12h0m24 15h0m5-13h0m42-13h0m56 19h0m-639 22h0m64 5h0m57-1h0m6 3h0m54-5h0m106 32h0m64-27h0m23 5h0m60 5h0m8-13h0m45 26h0m84-6h0m10-6h0m17 3h0m9-13h0m-337 61h0m110 5h0m12-1h0m66 1h0m6-3h0m22-8h0m67-1h0m3 12h0m40-37h0m36 31h0m-391 34h0m34-8h0m11 0h0m33 8h0m41-16h0m129 15h0m70-11h0m52-9h0m-270 55h0m97-10h0m67-8h0m16 0h0m-194 42h0m87 20h0m37 16h0"/>
<path stroke="#3d8ec9" d="M1542 1142h0m-28 18h0m-138 66h0m156-1h0m68-5h0m-478 107h0m232 25h0m181 5h0m-762 30h0m243 32h0m182-7h0m63 26h0m-471 36h0m429-13h0m-329 54h0m79-28h0m-329 150h0m192 0h0m7-21h0m44-13h0m191 8h0m267 23h0m93-29h0m27 32h0m-765 40h0m43-11h0m383 13h0m194-10h0m70-2h0m24-6h0m62-7h0m45-2h0m-803 49h0m570-11h0m4 8h0m113-17h0m74 2h0m53 21h0m8 6h0m-872 45h0m71-6h0m105-6h0m384-7h0m69 23h0m0-39h0m88 2h0m29 16h0m108-14h0m48-4h0m26 26h0m-735 39h0m424-17h0m91 10h0m7 3h0m184-12h0m107 18h0m-984 32h0m278 11h0m180 3h0m45-11h0m11 1h0m6-8h0m10-15h0m42 25h0m33-22h0m13 26h0m59 3h0m72-11h0m304-2h0m-1159 42h0m243 0h0m126 18h0m266-9h0m33-23h0m135 4h0m30-5h0m22 2h0m-924 51h0m554 1h0m120-20h0m26 16h0m7 3h0m372 11h0m19-26h0m98 9h0m2 14h0m4-9h0m-1045 37h0m357 13h0m96-12h0m33 23h0m2 0h0m88-14h0m55-13h0m16 15h0m29 9h0m93-8h0m51 3h0m95-15h0m62 16h0m44-12h0m52 13h0m-990 45h0m128-26h0m115 19h0m215-11h0m22-1h0m41 1h0m107-13h0m227 17h0m-1084 23h0m41-5h0m132 18h0m295 17h0m221-32h0m147 8h0m29 18h0m35-1h0m29-10h0m92-6h0m188 22h0m-455 9h0m48-1h0m37 16h0m9 7h0m7-6h0m28-11h0m7 8h0m68-1h0m101 4h0m32 11h0m-786 20h0m357 9h0m103-13h0m38 24h0m55-25h0m22-1h0m55 19h0m12 13h0m25-3h0m7-11h0m15-19h0m22 26h0m25-20h0m48 1h0m56 8h0m-418 27h0m30-2h0m99 34h0m50-15h0m183-16h0m38 0h0m28 1h0m5 20h0m29-4h0m-570 27h0m52-9h0m18 27h0m49-15h0m19 13h0m7-24h0m74 35h0m52-9h0m62-11h0m15-19h0m44 0h0m78 6h0m36 8h0m7 13h0m6-22h0m-609 64h0m301 8h0m37-22h0m28 5h0m6-15h0m21 26h0m10-27h0m18 3h0m38-7h0m2 20h0m64 8h0m53 3h0m20-1h0m21 9h0m-814 40h0m232-11h0m91-15h0m82-4h0m156 3h0m44 22h0m102-24h0m5 3h0m8-2h0m73 5h0m28 0h0m42 2h0m-704 45h0m215 10h0m12 2h0m69-8h0m21-10h0m123-14h0m191 34h0m56-30h0m15 19h0m3-11h0m15 21h0m-397 21h0m21-10h0m51 22h0m173-18h0m74 28h0m30-38h0m15 25h0m-784 50h0m197-11h0m17-9h0m76 21h0m55-16h0m124-10h0m65 24h0m31 0h0m66-1h0m-623 27h0m235-17h0m31 31h0m202-1h0m69-12h0m32 1h0m23-2h0m78 3h0m-432 33h0m171 13h0m6-24h0m108-4h0m13 6h0m120 18h0m20-5h0m-527 31h0m376-3h0m76 20h0m86 0h0m-14 23h0m-502 38h0m96 14h0m221-12h0m184 62h0m-383 21h0m190-14h0m78 20h0m-189 40h0m251-8h0m-111 44h0"/>
<path stroke="#9c9ea4" d="M1300 1237h0m97-35h0m189 70h0m42-29h0m-179 79h0m156 2h0m2 18h0m62 12h0m-768 8h0m228 9h0m57-1h0m150-8h0m102 4h0m167 28h0m76-23h0m-855 40h0m118 9h0m185 7h0m483-13h0m-676 48h0m241-2h0m57 4h0m-752 21h0m249 27h0m59-18h0m382-13h0m117 36h0m-604 9h0m447 19h0m50-20h0m-638 54h0m257-2h0m51 22h0m5-7h0m97 3h0m54-9h0m203 4h0m71 6h0m-658 20h0m32 12h0m129 4h0m133-16h0m7 5h0m41-4h0m60 5h0m63 11h0m137 1h0m-567 26h0m41-13h0m162 13h0m569-17h0m-192 75h0m94-8h0m99-22h0m112 7h0m-1127 42h0m609-11h0m49-5h0m42 28h0m93-8h0m155 8h0m139-13h0m-1063 32h0m611 25h0m71-27h0m-739 51h0m235-15h0m209 25h0m322 5h0m270-16h0m-967 31h0m51 19h0m125 13h0m207-7h0m248-30h0m42 5h0m288 21h0m19-13h0m259-3h0m-1118 45h0m320-15h0m173 32h0m559-11h0m-754 54h0m101-4h0m95-24h0m38 21h0m320-30h0m-888 59h0m65-18h0m19 31h0m77-3h0m60-6h0m92-1h0m84 10h0m75-4h0m5-1h0m38-7h0m137 3h0m269 15h0m11-1h0m-950 9h0m79 19h0m61-19h0m4 19h0m62 5h0m156-2h0m132-10h0m17-11h0m55 5h0m-126 39h0m4-6h0m424 6h0m324-1h0m-1043 36h0m15 23h0m70-14h0m16 6h0m204-12h0m154 30h0m220-31h0m23 19h0m12 0h0m125-13h0m223 11h0m-1110 19h0m1 19h0m506 10h0m374-28h0m77 23h0m-840 23h0m77-7h0m207 28h0m7-13h0m8 0h0m36 3h0m8-21h0m70 20h0m135-8h0m63 3h0m-330 58h0m39-23h0m55 11h0m321-4h0m245-16h0m-775 62h0m9-20h0m26 11h0m4-5h0m26 28h0m66-6h0m68-22h0m53 18h0m20-10h0m182 5h0m-284 54h0m94 0h0m64-3h0m90-22h0m145 23h0m-585 34h0m13 10h0m2-26h0m12-3h0m181-5h0m39 21h0m23-1h0m1 14h0m4-20h0m8 9h0m40 7h0m34-6h0m24-27h0m128 30h0m9-25h0m79-7h0m47 37h0m9-35h0m69 9h0m-786 49h0m0 4h0m65 5h0m31 8h0m22-31h0m41 26h0m15-14h0m74 8h0m7-2h0m48 8h0m30-17h0m3 8h0m75 13h0m97-2h0m25-21h0m19 26h0m91-17h0m36-1h0m70 8h0m-758 36h0m2-22h0m47 2h0m141 19h0m67 9h0m21-5h0m42-20h0m10-4h0m48 14h0m108 2h0m7-4h0m68 14h0m21-10h0m125 8h0m54 7h0m-753 34h0m24-3h0m36-2h0m1-20h0m8 14h0m43-5h0m4 25h0m54-25h0m3-11h0m32 5h0m3 4h0m7 19h0m8-20h0m93 22h0m66-23h0m36 9h0m187-15h0m18 27h0m1 9h0m113-28h0m83 21h0m-744 16h0m36 5h0m84-4h0m30-3h0m2 2h0m46 6h0m55 17h0m114-27h0m189-4h0m44 7h0m28 30h0m37-23h0m-681 50h0m52-10h0m21 6h0m69 13h0m38-28h0m26 13h0m25-13h0m72 27h0m207 6h0m9-30h0m72 12h0m60-18h0m51 24h0m8-1h0m7-3h0m-345 38h0m25 8h0m31-5h0m146-15h0m21 10h0m65-9h0m9 15h0m55-17h0m14 2h0m4-2h0m-403 67h0m117-12h0m61 6h0m195 0h0m10-20h0m37 0h0m-365 49h0m4-9h0m19-7h0m89 8h0m11 0h0m31 7h0m140 18h0m-338 14h0m48 27h0m36-20h0m18 6h0m67 16h0m40-11h0m50-10h0m26 13h0m8-3h0m57-9h0m18-11h0m-210 66h0m43-7h0m29-13h0m51 16h0m-45 23h0"/>
<path stroke="#ef8f55" d="M1605 1037h0m-102 11h0m73 0h0m-204 62h0m30 5h0m4-9h0m34-13h0m69 3h0m59 8h0m8-6h0m12 17h0m16-5h0m19-14h0m2 18h0m13-21h0m26 21h0m41-12h0m-302 30h0m4-7h0m34 14h0m47 18h0m6-3h0m16-7h0m8 9h0m42-32h0m50 28h0m0 0h0m102 1h0m0-1h0m-400 13h0m19 30h0m66-11h0m91-8h0m8 21h0m151-5h0m1-9h0m30-13h0m8 3h0m39-5h0m-469 46h0m65 5h0m9 7h0m167 12h0m27-29h0m16 16h0m-286 23h0m2 11h0m29 18h0m7-10h0m28-24h0m7 5h0m84 7h0m29-2h0m23 0h0m17-11h0m20 6h0m32-6h0m13 0h0m23 19h0m87-11h0m8 0h0m23-3h0m-439 68h0m5-21h0m29-5h0m-280 66h0m153-28h0m64 11h0m57-11h0m50-2h0m53 30h0m61-12h0m55 15h0m18-10h0m22-18h0m83 11h0m3-11h0m27 26h0m41-13h0m4-17h0m-909 65h0m49 4h0m60-8h0m28-24h0m37 10h0m1-2h0m26 27h0m156-36h0m141 6h0m64 27h0m56-23h0m24 11h0m154 14h0m28-6h0m42 5h0m-968 25h0m35 6h0m30 10h0m31-23h0m82-8h0m19 7h0m45 4h0m30 18h0m8-34h0m44 38h0m149-13h0m349-7h0m123-14h0m-998 37h0m52 30h0m23 4h0m34-35h0m44 1h0m55 35h0m28-2h0m8-10h0m18 5h0m12-20h0m58 1h0m9-2h0m117 0h0m43 29h0m78-27h0m268 9h0m183-9h0m-1165 62h0m96-32h0m36 31h0m35-18h0m24-1h0m45 25h0m13-17h0m2 6h0m42-8h0m15 1h0m14 15h0m1-21h0m134 6h0m186-14h0m133 22h0m-806 25h0m8 1h0m36 3h0m7-3h0m20 24h0m58-10h0m61 9h0m20-15h0m111-9h0m6-8h0m17 16h0m9-14h0m73 30h0m90 1h0m0-21h0m3 14h0m32-8h0m47-8h0m106-5h0m93-2h0m-848 32h0m32 2h0m30 4h0m47 4h0m61-4h0m60 17h0m21-22h0m30 33h0m13-11h0m37-10h0m14 25h0m41-18h0m11 16h0m121-8h0m57-3h0m31-25h0m29 30h0m97 3h0m17-23h0m68-3h0m40 25h0m46-3h0m-913 28h0m72 11h0m12-17h0m7-6h0m14 1h0m1 19h0m19-2h0m9 3h0m14-15h0m24 22h0m62-31h0m40 11h0m2-2h0m56 18h0m4-7h0m65 0h0m22 2h0m61-6h0m55-8h0m16 9h0m201 8h0m11-13h0m3 15h0m15 1h0m59-12h0m71 13h0m68 3h0m3-13h0m33-19h0m43 34h0m-1024 40h0m36-2h0m52-31h0m41 7h0m219 29h0m13-39h0m1 0h0m20 11h0m53 27h0m275-4h0m108-21h0m153-7h0m83 24h0m-1081 15h0m8 17h0m36-6h0m5 15h0m29 5h0m29-5h0m28 7h0m57-9h0m43-5h0m6 9h0m29-9h0m11-19h0m68 32h0m55-14h0m30 4h0m69-2h0m0-5h0m1-9h0m14 23h0m29-31h0m23 13h0m11-11h0m29 7h0m47 3h0m13-2h0m30 14h0m31-14h0m34 6h0m2 13h0m45-21h0m186 16h0m6-15h0m203 17h0m-1156 15h0m77 24h0m28 9h0m30-37h0m101 20h0m42 0h0m10 10h0m48-14h0m2-12h0m15 7h0m72-1h0m2-2h0m100 15h0m60-22h0m29 30h0m90-13h0m6 17h0m22 3h0m189-8h0m58 5h0m70-19h0m88 0h0m-1080 30h0m108 27h0m68-13h0m134-11h0m154 23h0m21-21h0m14 12h0m17-22h0m49 15h0m34 4h0m340-10h0m29 25h0m73-2h0m64-33h0m57 4h0m38 11h0m-1294 46h0m39-10h0m27 23h0m14-18h0m2 1h0m123 1h0m46-3h0m40-3h0m10 26h0m28-22h0m50 16h0m208 7h0m7-19h0m61-20h0m12 28h0m114-9h0m238-9h0m98 4h0m5 22h0m58-23h0m64 20h0m21-16h0m-1247 61h0m42-35h0m60 13h0m1 10h0m18 9h0m76-25h0m110 26h0m77 2h0m10-15h0m15-22h0m1 6h0m83 7h0m72 12h0m1 1h0m1 10h0m57-23h0m328 18h0m131 3h0m76-23h0m22 21h0m-1110 10h0m85 21h0m10-8h0m22 14h0m200-23h0m28-3h0m63 32h0m55-21h0m53-3h0m28 20h0m58-16h0m52 7h0m25-19h0m261 0h0m42 32h0m24-18h0m195 8h0m-1224 27h0m7 16h0m55 0h0m22-7h0m237-3h0m78 11h0m47-15h0m179 17h0m25-12h0m7 10h0m57-26h0m112 4h0m386 16h0m11-2h0m-1092 23h0m109-1h0m99 32h0m33-26h0m25 24h0m30-3h0m25-22h0m223 24h0m59-9h0m243-15h0m135 13h0m11 4h0m65-15h0m-1098 55h0m46-9h0m26-14h0m51 31h0m10-8h0m12-9h0m13 15h0m149-5h0m59-7h0m12-14h0m79 23h0m9 3h0m29 6h0m75-31h0m155 8h0m174 3h0m28 7h0m142 3h0m6-28h0m85 21h0m-1100 46h0m55-3h0m38-13h0m24 23h0m46-22h0m174 10h0m52 15h0m10-20h0m-411 34h0m82 19h0m33-27h0m34 34h0m37-33h0m14 32h0m98-3h0m57-15h0m233-6h0m262 21h0m-876 11h0m15 14h0m77 10h0m66 1h0m85-4h0m24-22h0m467 34h0m-646 18h0m26-14h0m477 4h0m246 17h0m24-10h0m167 21h0m-462 39h0m495-28h0m72 7h0m-666 52h0m74 38h0m400 4h0m111-19h0m62 7h0m12 35h0m-548 74h0m-43 55h0m-165 71h0m407 11h0m-213 46h0m131 18h0"/>
</g>
</g>
<g opacity="1">
<g transform="translate(316.90,164.50) scale(0.3933,0.3159) translate(-39.0,-102.6)">
</g></g>
<g transform="translate(316.90,164.50) scale(0.3933,0.3159) translate(-39.0,-102.6)">
<g fill="none" stroke="#8a98a8" stroke-width="2.37" stroke-linecap="round" stroke-linejoin="round" opacity="0.85">
<path d="M206.5,170.2 C210,168.5 213.5,171 213,175 C212.5,179 208.5,180 206.5,177.8 C204.5,175.5 204.5,172 206.5,170.2 Z"/>
<path d="M205.8,177 L199,188 M204.8,171 L201,167"/>
</g></g>
<g filter="url(#tex)" opacity="0.95">
<g transform="translate(408.30,100.40) scale(0.3985,0.3165) translate(-39.0,-102.6)">
<path d="M108.0,136.0C108.8,134.2 114.2,131.8 117.0,132.0C119.8,132.2 123.0,134.3 125.0,137.0C127.0,139.7 128.7,143.3 129.0,148.0C129.3,152.7 127.7,159.7 127.0,165.0C126.3,170.3 126.2,176.2 125.0,180.0C123.8,183.8 122.0,187.0 120.0,188.0C118.0,189.0 113.8,189.0 113.0,186.0C112.2,183.0 114.3,175.2 115.0,170.0C115.7,164.8 117.5,159.5 117.0,155.0C116.5,150.5 113.5,146.2 112.0,143.0C110.5,139.8 107.2,137.8 108.0,136.0Z" fill="#b0d0e8" stroke="#b0d0e8" stroke-width="6" stroke-linejoin="round" opacity="0.3"/>
<path d="M105.0,168.0C106.3,164.3 111.7,164.3 114.0,166.0C116.3,167.7 118.5,173.7 119.0,178.0C119.5,182.3 118.2,189.0 117.0,192.0C115.8,195.0 113.8,196.7 112.0,196.0C110.2,195.3 107.2,192.7 106.0,188.0C104.8,183.3 103.7,171.7 105.0,168.0Z" fill="#90c0e0" stroke="#90c0e0" stroke-width="6" stroke-linejoin="round" opacity="0.5"/>
<path d="M80.0,146.0C82.5,144.7 86.7,144.3 90.0,144.0C93.3,143.7 96.7,143.7 100.0,144.0C103.3,144.3 107.2,144.7 110.0,146.0C112.8,147.3 115.6,148.8 117.0,152.0C118.4,155.2 118.5,160.7 118.5,165.0C118.5,169.3 118.1,174.5 117.0,178.0C115.9,181.5 114.8,184.2 112.0,186.0C109.2,187.8 104.0,188.2 100.0,189.0C96.0,189.8 91.7,190.8 88.0,191.0C84.3,191.2 80.7,191.5 78.0,190.0C75.3,188.5 73.0,186.2 72.0,182.0C71.0,177.8 71.5,170.0 72.0,165.0C72.5,160.0 73.7,155.2 75.0,152.0C76.3,148.8 77.5,147.3 80.0,146.0Z" fill="#9cc4e0" stroke="#9cc4e0" stroke-width="6" stroke-linejoin="round" opacity="0.3"/>
<path d="M70.0,140.0C70.8,138.1 72.7,136.6 75.0,135.5C77.3,134.4 80.8,133.9 84.0,133.5C87.2,133.1 91.0,133.2 94.0,133.3C97.0,133.4 99.9,133.5 102.0,134.3C104.1,135.1 106.0,136.4 106.5,138.0C107.0,139.6 106.4,142.4 105.0,144.0C103.6,145.6 100.5,146.8 98.0,147.5C95.5,148.2 92.7,148.1 90.0,148.5C87.3,148.9 84.5,149.6 82.0,150.0C79.5,150.4 77.0,151.5 75.0,151.0C73.0,150.5 70.8,148.8 70.0,147.0C69.2,145.2 69.2,141.9 70.0,140.0Z" fill="#5a88b8" stroke="#5a88b8" stroke-width="6" stroke-linejoin="round" opacity="0.35"/>
<path d="M66.0,148.0C67.4,144.8 71.3,145.8 74.0,146.0C76.7,146.2 80.2,147.0 82.0,149.0C83.8,151.0 84.7,154.5 85.0,158.0C85.3,161.5 84.7,166.0 84.0,170.0C83.3,174.0 82.7,179.2 81.0,182.0C79.3,184.8 76.3,187.2 74.0,187.0C71.7,186.8 68.4,184.7 67.0,181.0C65.6,177.3 65.7,170.5 65.5,165.0C65.3,159.5 64.6,151.2 66.0,148.0Z" fill="#9cc4e0" stroke="#9cc4e0" stroke-width="6" stroke-linejoin="round" opacity="0.3"/>
<path d="M38.5,168.0C38.7,164.5 39.3,161.0 40.5,158.0C41.7,155.0 43.5,152.0 45.5,150.0C47.5,148.0 50.1,147.0 52.5,146.0C54.9,145.0 57.8,144.1 60.0,144.0C62.2,143.9 64.0,144.2 65.5,145.5C67.0,146.8 68.3,148.8 69.0,152.0C69.7,155.2 69.5,160.3 69.5,165.0C69.5,169.7 69.2,175.3 69.0,180.0C68.8,184.7 69.2,190.1 68.0,193.0C66.8,195.9 64.2,196.5 62.0,197.5C59.8,198.5 57.1,199.2 55.0,199.0C52.9,198.8 51.4,197.8 49.5,196.0C47.6,194.2 45.2,190.8 43.5,188.0C41.8,185.2 40.3,182.3 39.5,179.0C38.7,175.7 38.3,171.5 38.5,168.0Z" fill="#8cb8da" stroke="#8cb8da" stroke-width="6" stroke-linejoin="round" opacity="0.3"/>
<path d="M51.0,196.0C51.8,193.9 55.1,193.4 58.0,192.5C60.9,191.6 64.8,191.0 68.5,190.5C72.2,190.0 76.4,189.8 80.0,189.5C83.6,189.2 86.2,189.4 90.0,189.0C93.8,188.6 99.3,187.4 103.0,187.0C106.7,186.6 109.7,185.8 112.0,186.5C114.3,187.2 116.2,188.8 117.0,191.0C117.8,193.2 117.7,197.2 117.0,200.0C116.3,202.8 116.3,205.5 113.0,207.5C109.7,209.5 102.2,210.6 97.3,212.2C92.4,213.8 88.6,216.0 83.8,217.0C79.0,218.0 72.7,218.6 68.5,218.0C64.3,217.4 61.0,215.4 58.5,213.2C56.0,211.0 54.8,207.9 53.5,205.0C52.2,202.1 50.2,198.1 51.0,196.0Z" fill="#a8cce4" stroke="#a8cce4" stroke-width="6" stroke-linejoin="round" opacity="0.3"/>
<path d="M88.0,218.0C90.0,216.9 93.5,216.1 97.3,216.0C101.1,215.9 107.5,216.5 110.8,217.5C114.1,218.5 115.6,219.6 117.0,222.0C118.4,224.4 118.3,228.5 119.0,232.0C119.7,235.5 120.3,239.5 121.0,243.0C121.7,246.5 123.3,249.9 123.0,253.0C122.7,256.1 121.0,260.2 119.0,261.3C117.0,262.4 114.7,260.3 110.8,259.3C106.9,258.3 100.2,256.8 95.4,255.5C90.6,254.2 85.3,253.3 82.0,251.7C78.7,250.0 76.2,247.6 75.8,245.6C75.4,243.6 78.3,242.2 79.6,239.6C80.9,237.0 82.4,232.9 83.4,230.0C84.4,227.1 84.6,224.3 85.4,222.3C86.2,220.3 86.0,219.1 88.0,218.0Z" fill="#a8d0e4" stroke="#a8d0e4" stroke-width="6" stroke-linejoin="round" opacity="0.3"/>
<path d="M116.0,223.0C117.8,220.3 124.0,224.0 128.0,225.0C132.0,226.0 136.0,227.2 140.0,229.0C144.0,230.8 148.0,233.3 152.0,236.0C156.0,238.7 161.8,242.7 164.0,245.0C166.2,247.3 165.3,248.7 165.0,250.0C164.7,251.3 165.0,252.5 162.0,253.0C159.0,253.5 151.8,253.3 147.0,253.0C142.2,252.7 137.2,251.9 133.0,251.0C128.8,250.1 124.7,249.2 122.0,247.5C119.3,245.8 118.0,245.1 117.0,241.0C116.0,236.9 114.2,225.7 116.0,223.0Z" fill="#78bcdc" stroke="#78bcdc" stroke-width="6" stroke-linejoin="round" opacity="0.7"/>
<path d="M119.0,252.6C121.9,250.8 129.8,251.6 135.0,251.6C140.2,251.6 145.2,252.1 150.0,252.6C154.8,253.1 161.7,252.7 164.0,254.6C166.3,256.5 164.3,261.0 163.6,264.0C162.9,267.0 162.3,270.9 160.0,272.8C157.7,274.7 152.6,274.9 150.0,275.5C147.4,276.1 147.0,276.7 144.2,276.5C141.4,276.3 136.6,275.4 133.0,274.5C129.4,273.6 125.1,272.9 122.6,270.9C120.1,268.9 118.4,265.8 117.8,262.7C117.2,259.6 116.1,254.4 119.0,252.6Z" fill="#8cc4e0" stroke="#8cc4e0" stroke-width="6" stroke-linejoin="round" opacity="0.45"/>
<path d="M128.0,213.0C129.7,211.4 136.0,211.8 140.0,211.5C144.0,211.2 148.2,211.2 152.0,211.0C155.8,210.8 159.5,210.2 163.0,210.0C166.5,209.8 170.9,208.7 173.0,210.0C175.1,211.3 175.2,215.2 175.5,218.0C175.8,220.8 175.4,224.0 175.0,227.0C174.6,230.0 174.7,234.8 173.0,236.0C171.3,237.2 167.7,235.0 165.0,234.0C162.3,233.0 159.8,231.0 157.0,230.0C154.2,229.0 151.2,228.7 148.0,228.0C144.8,227.3 141.0,227.2 138.0,226.0C135.0,224.8 131.7,223.2 130.0,221.0C128.3,218.8 126.3,214.6 128.0,213.0Z" fill="#6cb4da" stroke="#6cb4da" stroke-width="6" stroke-linejoin="round" opacity="0.7"/>
<path d="M113.0,180.0C114.7,178.0 118.8,176.7 122.0,176.0C125.2,175.3 129.0,175.3 132.0,176.0C135.0,176.7 137.5,177.7 140.0,180.0C142.5,182.3 145.0,187.2 147.0,190.0C149.0,192.8 150.0,194.7 152.0,197.0C154.0,199.3 157.8,201.7 159.0,204.0C160.2,206.3 160.5,209.6 159.0,211.0C157.5,212.4 153.5,212.3 150.0,212.5C146.5,212.7 142.0,212.6 138.0,212.0C134.0,211.4 129.3,210.3 126.0,209.0C122.7,207.7 120.2,206.2 118.0,204.0C115.8,201.8 114.0,198.7 113.0,196.0C112.0,193.3 112.0,190.7 112.0,188.0C112.0,185.3 111.3,182.0 113.0,180.0Z" fill="#74b8dc" stroke="#74b8dc" stroke-width="6" stroke-linejoin="round" opacity="0.7"/>
<path d="M121.0,156.0C123.2,155.2 128.5,155.2 132.7,156.0C136.9,156.8 142.0,158.9 146.2,160.8C150.4,162.7 154.2,165.2 157.7,167.6C161.2,170.0 164.4,172.9 167.3,175.3C170.2,177.7 173.6,179.2 175.0,182.0C176.4,184.8 176.0,188.5 176.0,192.0C176.0,195.5 175.7,200.0 175.0,203.0C174.3,206.0 173.7,209.2 172.0,210.0C170.3,210.8 167.1,208.7 165.0,207.5C162.9,206.3 161.4,204.9 159.2,203.0C157.0,201.1 154.0,198.0 152.0,196.0C150.0,194.0 148.7,193.4 147.0,190.8C145.3,188.2 143.9,183.2 141.9,180.4C139.9,177.6 137.3,175.7 135.0,174.0C132.7,172.3 130.2,171.3 128.0,170.0C125.8,168.7 123.4,167.5 122.0,166.0C120.6,164.5 119.7,162.7 119.5,161.0C119.3,159.3 118.8,156.8 121.0,156.0Z" fill="#7cbee0" stroke="#7cbee0" stroke-width="6" stroke-linejoin="round" opacity="0.65"/>
<path d="M117.8,132.5C118.1,130.3 120.8,126.3 122.6,123.5C124.4,120.7 125.9,118.3 128.6,115.8C131.2,113.2 134.6,110.5 138.5,108.2C142.4,106.0 147.7,103.1 151.9,102.3C156.1,101.5 160.1,102.3 163.5,103.3C166.9,104.3 170.6,106.0 172.4,108.2C174.2,110.4 174.5,113.3 174.4,116.2C174.3,119.1 172.6,122.6 171.6,125.8C170.6,129.0 169.3,132.6 168.7,135.4C168.0,138.2 169.5,141.1 167.7,142.4C165.9,143.8 161.3,142.8 157.7,143.5C154.1,144.2 149.4,146.7 146.2,146.4C143.0,146.1 141.4,142.9 138.5,141.6C135.6,140.3 131.7,139.5 128.8,138.7C125.9,137.9 122.8,137.7 121.0,136.7C119.2,135.7 117.5,134.7 117.8,132.5Z" fill="#84b4da" stroke="#84b4da" stroke-width="6" stroke-linejoin="round" opacity="0.45"/>
<g fill="none" stroke="#2f5f96" stroke-width="5" stroke-linecap="round" opacity="0.75">
<path d="M47,150 C41,157 38,168 41,180"/>
<path d="M171,182 C176,195 176,215 173,232"/>
<path d="M160,104 C168,106 172,110 172,118"/>
<path d="M140,270 C150,268 158,262 162,256"/>
<path d="M128,158 C140,162 150,166 158,172" stroke-width="3" opacity="0.6"/>
</g>
</g></g>
<g transform="translate(408.30,100.40) scale(0.3985,0.3165) translate(-39.0,-102.6)">
<g fill="none" stroke="#6a9ac0" stroke-width="2.37" stroke-linecap="round" stroke-linejoin="round" opacity="0.85">
<path d="M206.5,170.2 C210,168.5 213.5,171 213,175 C212.5,179 208.5,180 206.5,177.8 C204.5,175.5 204.5,172 206.5,170.2 Z"/>
<path d="M205.8,177 L199,188 M204.8,171 L201,167"/>
</g></g>
<g filter="url(#tex)" opacity="0.95">
<g transform="translate(408.30,163.20) scale(0.3904,0.3142) translate(-39.0,-102.6)">
<path d="M108.0,136.0C108.8,134.2 114.2,131.8 117.0,132.0C119.8,132.2 123.0,134.3 125.0,137.0C127.0,139.7 128.7,143.3 129.0,148.0C129.3,152.7 127.7,159.7 127.0,165.0C126.3,170.3 126.2,176.2 125.0,180.0C123.8,183.8 122.0,187.0 120.0,188.0C118.0,189.0 113.8,189.0 113.0,186.0C112.2,183.0 114.3,175.2 115.0,170.0C115.7,164.8 117.5,159.5 117.0,155.0C116.5,150.5 113.5,146.2 112.0,143.0C110.5,139.8 107.2,137.8 108.0,136.0Z" fill="#f4b090" stroke="#f4b090" stroke-width="6" stroke-linejoin="round" opacity="0.25"/>
<path d="M105.0,168.0C106.3,164.3 111.7,164.3 114.0,166.0C116.3,167.7 118.5,173.7 119.0,178.0C119.5,182.3 118.2,189.0 117.0,192.0C115.8,195.0 113.8,196.7 112.0,196.0C110.2,195.3 107.2,192.7 106.0,188.0C104.8,183.3 103.7,171.7 105.0,168.0Z" fill="#f0a078" stroke="#f0a078" stroke-width="6" stroke-linejoin="round" opacity="0.25"/>
<path d="M80.0,146.0C82.5,144.7 86.7,144.3 90.0,144.0C93.3,143.7 96.7,143.7 100.0,144.0C103.3,144.3 107.2,144.7 110.0,146.0C112.8,147.3 115.6,148.8 117.0,152.0C118.4,155.2 118.5,160.7 118.5,165.0C118.5,169.3 118.1,174.5 117.0,178.0C115.9,181.5 114.8,184.2 112.0,186.0C109.2,187.8 104.0,188.2 100.0,189.0C96.0,189.8 91.7,190.8 88.0,191.0C84.3,191.2 80.7,191.5 78.0,190.0C75.3,188.5 73.0,186.2 72.0,182.0C71.0,177.8 71.5,170.0 72.0,165.0C72.5,160.0 73.7,155.2 75.0,152.0C76.3,148.8 77.5,147.3 80.0,146.0Z" fill="#f09a6a" stroke="#f09a6a" stroke-width="6" stroke-linejoin="round" opacity="0.8"/>
<path d="M70.0,140.0C70.8,138.1 72.7,136.6 75.0,135.5C77.3,134.4 80.8,133.9 84.0,133.5C87.2,133.1 91.0,133.2 94.0,133.3C97.0,133.4 99.9,133.5 102.0,134.3C104.1,135.1 106.0,136.4 106.5,138.0C107.0,139.6 106.4,142.4 105.0,144.0C103.6,145.6 100.5,146.8 98.0,147.5C95.5,148.2 92.7,148.1 90.0,148.5C87.3,148.9 84.5,149.6 82.0,150.0C79.5,150.4 77.0,151.5 75.0,151.0C73.0,150.5 70.8,148.8 70.0,147.0C69.2,145.2 69.2,141.9 70.0,140.0Z" fill="#ec8a5a" stroke="#ec8a5a" stroke-width="6" stroke-linejoin="round" opacity="0.85"/>
<path d="M66.0,148.0C67.4,144.8 71.3,145.8 74.0,146.0C76.7,146.2 80.2,147.0 82.0,149.0C83.8,151.0 84.7,154.5 85.0,158.0C85.3,161.5 84.7,166.0 84.0,170.0C83.3,174.0 82.7,179.2 81.0,182.0C79.3,184.8 76.3,187.2 74.0,187.0C71.7,186.8 68.4,184.7 67.0,181.0C65.6,177.3 65.7,170.5 65.5,165.0C65.3,159.5 64.6,151.2 66.0,148.0Z" fill="#ee9262" stroke="#ee9262" stroke-width="6" stroke-linejoin="round" opacity="0.85"/>
<path d="M38.5,168.0C38.7,164.5 39.3,161.0 40.5,158.0C41.7,155.0 43.5,152.0 45.5,150.0C47.5,148.0 50.1,147.0 52.5,146.0C54.9,145.0 57.8,144.1 60.0,144.0C62.2,143.9 64.0,144.2 65.5,145.5C67.0,146.8 68.3,148.8 69.0,152.0C69.7,155.2 69.5,160.3 69.5,165.0C69.5,169.7 69.2,175.3 69.0,180.0C68.8,184.7 69.2,190.1 68.0,193.0C66.8,195.9 64.2,196.5 62.0,197.5C59.8,198.5 57.1,199.2 55.0,199.0C52.9,198.8 51.4,197.8 49.5,196.0C47.6,194.2 45.2,190.8 43.5,188.0C41.8,185.2 40.3,182.3 39.5,179.0C38.7,175.7 38.3,171.5 38.5,168.0Z" fill="#ee9060" stroke="#ee9060" stroke-width="6" stroke-linejoin="round" opacity="0.85"/>
<path d="M51.0,196.0C51.8,193.9 55.1,193.4 58.0,192.5C60.9,191.6 64.8,191.0 68.5,190.5C72.2,190.0 76.4,189.8 80.0,189.5C83.6,189.2 86.2,189.4 90.0,189.0C93.8,188.6 99.3,187.4 103.0,187.0C106.7,186.6 109.7,185.8 112.0,186.5C114.3,187.2 116.2,188.8 117.0,191.0C117.8,193.2 117.7,197.2 117.0,200.0C116.3,202.8 116.3,205.5 113.0,207.5C109.7,209.5 102.2,210.6 97.3,212.2C92.4,213.8 88.6,216.0 83.8,217.0C79.0,218.0 72.7,218.6 68.5,218.0C64.3,217.4 61.0,215.4 58.5,213.2C56.0,211.0 54.8,207.9 53.5,205.0C52.2,202.1 50.2,198.1 51.0,196.0Z" fill="#f09a6e" stroke="#f09a6e" stroke-width="6" stroke-linejoin="round" opacity="0.8"/>
<path d="M88.0,218.0C90.0,216.9 93.5,216.1 97.3,216.0C101.1,215.9 107.5,216.5 110.8,217.5C114.1,218.5 115.6,219.6 117.0,222.0C118.4,224.4 118.3,228.5 119.0,232.0C119.7,235.5 120.3,239.5 121.0,243.0C121.7,246.5 123.3,249.9 123.0,253.0C122.7,256.1 121.0,260.2 119.0,261.3C117.0,262.4 114.7,260.3 110.8,259.3C106.9,258.3 100.2,256.8 95.4,255.5C90.6,254.2 85.3,253.3 82.0,251.7C78.7,250.0 76.2,247.6 75.8,245.6C75.4,243.6 78.3,242.2 79.6,239.6C80.9,237.0 82.4,232.9 83.4,230.0C84.4,227.1 84.6,224.3 85.4,222.3C86.2,220.3 86.0,219.1 88.0,218.0Z" fill="#f4b090" stroke="#f4b090" stroke-width="6" stroke-linejoin="round" opacity="0.15"/>
<path d="M116.0,223.0C117.8,220.3 124.0,224.0 128.0,225.0C132.0,226.0 136.0,227.2 140.0,229.0C144.0,230.8 148.0,233.3 152.0,236.0C156.0,238.7 161.8,242.7 164.0,245.0C166.2,247.3 165.3,248.7 165.0,250.0C164.7,251.3 165.0,252.5 162.0,253.0C159.0,253.5 151.8,253.3 147.0,253.0C142.2,252.7 137.2,251.9 133.0,251.0C128.8,250.1 124.7,249.2 122.0,247.5C119.3,245.8 118.0,245.1 117.0,241.0C116.0,236.9 114.2,225.7 116.0,223.0Z" fill="#f4b090" stroke="#f4b090" stroke-width="6" stroke-linejoin="round" opacity="0.15"/>
<path d="M119.0,252.6C121.9,250.8 129.8,251.6 135.0,251.6C140.2,251.6 145.2,252.1 150.0,252.6C154.8,253.1 161.7,252.7 164.0,254.6C166.3,256.5 164.3,261.0 163.6,264.0C162.9,267.0 162.3,270.9 160.0,272.8C157.7,274.7 152.6,274.9 150.0,275.5C147.4,276.1 147.0,276.7 144.2,276.5C141.4,276.3 136.6,275.4 133.0,274.5C129.4,273.6 125.1,272.9 122.6,270.9C120.1,268.9 118.4,265.8 117.8,262.7C117.2,259.6 116.1,254.4 119.0,252.6Z" fill="#f4b090" stroke="#f4b090" stroke-width="6" stroke-linejoin="round" opacity="0.15"/>
<path d="M128.0,213.0C129.7,211.4 136.0,211.8 140.0,211.5C144.0,211.2 148.2,211.2 152.0,211.0C155.8,210.8 159.5,210.2 163.0,210.0C166.5,209.8 170.9,208.7 173.0,210.0C175.1,211.3 175.2,215.2 175.5,218.0C175.8,220.8 175.4,224.0 175.0,227.0C174.6,230.0 174.7,234.8 173.0,236.0C171.3,237.2 167.7,235.0 165.0,234.0C162.3,233.0 159.8,231.0 157.0,230.0C154.2,229.0 151.2,228.7 148.0,228.0C144.8,227.3 141.0,227.2 138.0,226.0C135.0,224.8 131.7,223.2 130.0,221.0C128.3,218.8 126.3,214.6 128.0,213.0Z" fill="#f0a078" stroke="#f0a078" stroke-width="6" stroke-linejoin="round" opacity="0.28"/>
<path d="M113.0,180.0C114.7,178.0 118.8,176.7 122.0,176.0C125.2,175.3 129.0,175.3 132.0,176.0C135.0,176.7 137.5,177.7 140.0,180.0C142.5,182.3 145.0,187.2 147.0,190.0C149.0,192.8 150.0,194.7 152.0,197.0C154.0,199.3 157.8,201.7 159.0,204.0C160.2,206.3 160.5,209.6 159.0,211.0C157.5,212.4 153.5,212.3 150.0,212.5C146.5,212.7 142.0,212.6 138.0,212.0C134.0,211.4 129.3,210.3 126.0,209.0C122.7,207.7 120.2,206.2 118.0,204.0C115.8,201.8 114.0,198.7 113.0,196.0C112.0,193.3 112.0,190.7 112.0,188.0C112.0,185.3 111.3,182.0 113.0,180.0Z" fill="#f0a078" stroke="#f0a078" stroke-width="6" stroke-linejoin="round" opacity="0.25"/>
<path d="M121.0,156.0C123.2,155.2 128.5,155.2 132.7,156.0C136.9,156.8 142.0,158.9 146.2,160.8C150.4,162.7 154.2,165.2 157.7,167.6C161.2,170.0 164.4,172.9 167.3,175.3C170.2,177.7 173.6,179.2 175.0,182.0C176.4,184.8 176.0,188.5 176.0,192.0C176.0,195.5 175.7,200.0 175.0,203.0C174.3,206.0 173.7,209.2 172.0,210.0C170.3,210.8 167.1,208.7 165.0,207.5C162.9,206.3 161.4,204.9 159.2,203.0C157.0,201.1 154.0,198.0 152.0,196.0C150.0,194.0 148.7,193.4 147.0,190.8C145.3,188.2 143.9,183.2 141.9,180.4C139.9,177.6 137.3,175.7 135.0,174.0C132.7,172.3 130.2,171.3 128.0,170.0C125.8,168.7 123.4,167.5 122.0,166.0C120.6,164.5 119.7,162.7 119.5,161.0C119.3,159.3 118.8,156.8 121.0,156.0Z" fill="#ec8c5c" stroke="#ec8c5c" stroke-width="6" stroke-linejoin="round" opacity="0.8"/>
<path d="M117.8,132.5C118.1,130.3 120.8,126.3 122.6,123.5C124.4,120.7 125.9,118.3 128.6,115.8C131.2,113.2 134.6,110.5 138.5,108.2C142.4,106.0 147.7,103.1 151.9,102.3C156.1,101.5 160.1,102.3 163.5,103.3C166.9,104.3 170.6,106.0 172.4,108.2C174.2,110.4 174.5,113.3 174.4,116.2C174.3,119.1 172.6,122.6 171.6,125.8C170.6,129.0 169.3,132.6 168.7,135.4C168.0,138.2 169.5,141.1 167.7,142.4C165.9,143.8 161.3,142.8 157.7,143.5C154.1,144.2 149.4,146.7 146.2,146.4C143.0,146.1 141.4,142.9 138.5,141.6C135.6,140.3 131.7,139.5 128.8,138.7C125.9,137.9 122.8,137.7 121.0,136.7C119.2,135.7 117.5,134.7 117.8,132.5Z" fill="#ea8454" stroke="#ea8454" stroke-width="6" stroke-linejoin="round" opacity="0.95"/>
</g></g>
<g transform="translate(408.30,163.20) scale(0.3904,0.3142) translate(-39.0,-102.6)">
<g fill="none" stroke="#e09070" stroke-width="2.39" stroke-linecap="round" stroke-linejoin="round" opacity="0.85">
<path d="M206.5,170.2 C210,168.5 213.5,171 213,175 C212.5,179 208.5,180 206.5,177.8 C204.5,175.5 204.5,172 206.5,170.2 Z"/>
<path d="M205.8,177 L199,188 M204.8,171 L201,167"/>
</g></g>
<g filter="url(#tex)" opacity="0.95">
<g transform="translate(408.30,228.00) scale(0.3904,0.3245) translate(-39.0,-102.6)">
<path d="M108.0,136.0C108.8,134.2 114.2,131.8 117.0,132.0C119.8,132.2 123.0,134.3 125.0,137.0C127.0,139.7 128.7,143.3 129.0,148.0C129.3,152.7 127.7,159.7 127.0,165.0C126.3,170.3 126.2,176.2 125.0,180.0C123.8,183.8 122.0,187.0 120.0,188.0C118.0,189.0 113.8,189.0 113.0,186.0C112.2,183.0 114.3,175.2 115.0,170.0C115.7,164.8 117.5,159.5 117.0,155.0C116.5,150.5 113.5,146.2 112.0,143.0C110.5,139.8 107.2,137.8 108.0,136.0Z" fill="#c4c4c8" stroke="#c4c4c8" stroke-width="6" stroke-linejoin="round" opacity="0.2"/>
<path d="M105.0,168.0C106.3,164.3 111.7,164.3 114.0,166.0C116.3,167.7 118.5,173.7 119.0,178.0C119.5,182.3 118.2,189.0 117.0,192.0C115.8,195.0 113.8,196.7 112.0,196.0C110.2,195.3 107.2,192.7 106.0,188.0C104.8,183.3 103.7,171.7 105.0,168.0Z" fill="#bcbcc0" stroke="#bcbcc0" stroke-width="6" stroke-linejoin="round" opacity="0.3"/>
<path d="M80.0,146.0C82.5,144.7 86.7,144.3 90.0,144.0C93.3,143.7 96.7,143.7 100.0,144.0C103.3,144.3 107.2,144.7 110.0,146.0C112.8,147.3 115.6,148.8 117.0,152.0C118.4,155.2 118.5,160.7 118.5,165.0C118.5,169.3 118.1,174.5 117.0,178.0C115.9,181.5 114.8,184.2 112.0,186.0C109.2,187.8 104.0,188.2 100.0,189.0C96.0,189.8 91.7,190.8 88.0,191.0C84.3,191.2 80.7,191.5 78.0,190.0C75.3,188.5 73.0,186.2 72.0,182.0C71.0,177.8 71.5,170.0 72.0,165.0C72.5,160.0 73.7,155.2 75.0,152.0C76.3,148.8 77.5,147.3 80.0,146.0Z" fill="#b8b8be" stroke="#b8b8be" stroke-width="6" stroke-linejoin="round" opacity="0.45"/>
<path d="M70.0,140.0C70.8,138.1 72.7,136.6 75.0,135.5C77.3,134.4 80.8,133.9 84.0,133.5C87.2,133.1 91.0,133.2 94.0,133.3C97.0,133.4 99.9,133.5 102.0,134.3C104.1,135.1 106.0,136.4 106.5,138.0C107.0,139.6 106.4,142.4 105.0,144.0C103.6,145.6 100.5,146.8 98.0,147.5C95.5,148.2 92.7,148.1 90.0,148.5C87.3,148.9 84.5,149.6 82.0,150.0C79.5,150.4 77.0,151.5 75.0,151.0C73.0,150.5 70.8,148.8 70.0,147.0C69.2,145.2 69.2,141.9 70.0,140.0Z" fill="#acacb2" stroke="#acacb2" stroke-width="6" stroke-linejoin="round" opacity="0.55"/>
<path d="M66.0,148.0C67.4,144.8 71.3,145.8 74.0,146.0C76.7,146.2 80.2,147.0 82.0,149.0C83.8,151.0 84.7,154.5 85.0,158.0C85.3,161.5 84.7,166.0 84.0,170.0C83.3,174.0 82.7,179.2 81.0,182.0C79.3,184.8 76.3,187.2 74.0,187.0C71.7,186.8 68.4,184.7 67.0,181.0C65.6,177.3 65.7,170.5 65.5,165.0C65.3,159.5 64.6,151.2 66.0,148.0Z" fill="#b0b0b6" stroke="#b0b0b6" stroke-width="6" stroke-linejoin="round" opacity="0.55"/>
<path d="M38.5,168.0C38.7,164.5 39.3,161.0 40.5,158.0C41.7,155.0 43.5,152.0 45.5,150.0C47.5,148.0 50.1,147.0 52.5,146.0C54.9,145.0 57.8,144.1 60.0,144.0C62.2,143.9 64.0,144.2 65.5,145.5C67.0,146.8 68.3,148.8 69.0,152.0C69.7,155.2 69.5,160.3 69.5,165.0C69.5,169.7 69.2,175.3 69.0,180.0C68.8,184.7 69.2,190.1 68.0,193.0C66.8,195.9 64.2,196.5 62.0,197.5C59.8,198.5 57.1,199.2 55.0,199.0C52.9,198.8 51.4,197.8 49.5,196.0C47.6,194.2 45.2,190.8 43.5,188.0C41.8,185.2 40.3,182.3 39.5,179.0C38.7,175.7 38.3,171.5 38.5,168.0Z" fill="#9c9ca4" stroke="#9c9ca4" stroke-width="6" stroke-linejoin="round" opacity="0.75"/>
<path d="M51.0,196.0C51.8,193.9 55.1,193.4 58.0,192.5C60.9,191.6 64.8,191.0 68.5,190.5C72.2,190.0 76.4,189.8 80.0,189.5C83.6,189.2 86.2,189.4 90.0,189.0C93.8,188.6 99.3,187.4 103.0,187.0C106.7,186.6 109.7,185.8 112.0,186.5C114.3,187.2 116.2,188.8 117.0,191.0C117.8,193.2 117.7,197.2 117.0,200.0C116.3,202.8 116.3,205.5 113.0,207.5C109.7,209.5 102.2,210.6 97.3,212.2C92.4,213.8 88.6,216.0 83.8,217.0C79.0,218.0 72.7,218.6 68.5,218.0C64.3,217.4 61.0,215.4 58.5,213.2C56.0,211.0 54.8,207.9 53.5,205.0C52.2,202.1 50.2,198.1 51.0,196.0Z" fill="#a4a4ac" stroke="#a4a4ac" stroke-width="6" stroke-linejoin="round" opacity="0.65"/>
<path d="M88.0,218.0C90.0,216.9 93.5,216.1 97.3,216.0C101.1,215.9 107.5,216.5 110.8,217.5C114.1,218.5 115.6,219.6 117.0,222.0C118.4,224.4 118.3,228.5 119.0,232.0C119.7,235.5 120.3,239.5 121.0,243.0C121.7,246.5 123.3,249.9 123.0,253.0C122.7,256.1 121.0,260.2 119.0,261.3C117.0,262.4 114.7,260.3 110.8,259.3C106.9,258.3 100.2,256.8 95.4,255.5C90.6,254.2 85.3,253.3 82.0,251.7C78.7,250.0 76.2,247.6 75.8,245.6C75.4,243.6 78.3,242.2 79.6,239.6C80.9,237.0 82.4,232.9 83.4,230.0C84.4,227.1 84.6,224.3 85.4,222.3C86.2,220.3 86.0,219.1 88.0,218.0Z" fill="#acacb4" stroke="#acacb4" stroke-width="6" stroke-linejoin="round" opacity="0.6"/>
<path d="M116.0,223.0C117.8,220.3 124.0,224.0 128.0,225.0C132.0,226.0 136.0,227.2 140.0,229.0C144.0,230.8 148.0,233.3 152.0,236.0C156.0,238.7 161.8,242.7 164.0,245.0C166.2,247.3 165.3,248.7 165.0,250.0C164.7,251.3 165.0,252.5 162.0,253.0C159.0,253.5 151.8,253.3 147.0,253.0C142.2,252.7 137.2,251.9 133.0,251.0C128.8,250.1 124.7,249.2 122.0,247.5C119.3,245.8 118.0,245.1 117.0,241.0C116.0,236.9 114.2,225.7 116.0,223.0Z" fill="#a0a0a8" stroke="#a0a0a8" stroke-width="6" stroke-linejoin="round" opacity="0.7"/>
<path d="M119.0,252.6C121.9,250.8 129.8,251.6 135.0,251.6C140.2,251.6 145.2,252.1 150.0,252.6C154.8,253.1 161.7,252.7 164.0,254.6C166.3,256.5 164.3,261.0 163.6,264.0C162.9,267.0 162.3,270.9 160.0,272.8C157.7,274.7 152.6,274.9 150.0,275.5C147.4,276.1 147.0,276.7 144.2,276.5C141.4,276.3 136.6,275.4 133.0,274.5C129.4,273.6 125.1,272.9 122.6,270.9C120.1,268.9 118.4,265.8 117.8,262.7C117.2,259.6 116.1,254.4 119.0,252.6Z" fill="#98989f" stroke="#98989f" stroke-width="6" stroke-linejoin="round" opacity="0.8"/>
<path d="M128.0,213.0C129.7,211.4 136.0,211.8 140.0,211.5C144.0,211.2 148.2,211.2 152.0,211.0C155.8,210.8 159.5,210.2 163.0,210.0C166.5,209.8 170.9,208.7 173.0,210.0C175.1,211.3 175.2,215.2 175.5,218.0C175.8,220.8 175.4,224.0 175.0,227.0C174.6,230.0 174.7,234.8 173.0,236.0C171.3,237.2 167.7,235.0 165.0,234.0C162.3,233.0 159.8,231.0 157.0,230.0C154.2,229.0 151.2,228.7 148.0,228.0C144.8,227.3 141.0,227.2 138.0,226.0C135.0,224.8 131.7,223.2 130.0,221.0C128.3,218.8 126.3,214.6 128.0,213.0Z" fill="#bcbcc2" stroke="#bcbcc2" stroke-width="6" stroke-linejoin="round" opacity="0.3"/>
<path d="M113.0,180.0C114.7,178.0 118.8,176.7 122.0,176.0C125.2,175.3 129.0,175.3 132.0,176.0C135.0,176.7 137.5,177.7 140.0,180.0C142.5,182.3 145.0,187.2 147.0,190.0C149.0,192.8 150.0,194.7 152.0,197.0C154.0,199.3 157.8,201.7 159.0,204.0C160.2,206.3 160.5,209.6 159.0,211.0C157.5,212.4 153.5,212.3 150.0,212.5C146.5,212.7 142.0,212.6 138.0,212.0C134.0,211.4 129.3,210.3 126.0,209.0C122.7,207.7 120.2,206.2 118.0,204.0C115.8,201.8 114.0,198.7 113.0,196.0C112.0,193.3 112.0,190.7 112.0,188.0C112.0,185.3 111.3,182.0 113.0,180.0Z" fill="#c0c0c6" stroke="#c0c0c6" stroke-width="6" stroke-linejoin="round" opacity="0.28"/>
<path d="M121.0,156.0C123.2,155.2 128.5,155.2 132.7,156.0C136.9,156.8 142.0,158.9 146.2,160.8C150.4,162.7 154.2,165.2 157.7,167.6C161.2,170.0 164.4,172.9 167.3,175.3C170.2,177.7 173.6,179.2 175.0,182.0C176.4,184.8 176.0,188.5 176.0,192.0C176.0,195.5 175.7,200.0 175.0,203.0C174.3,206.0 173.7,209.2 172.0,210.0C170.3,210.8 167.1,208.7 165.0,207.5C162.9,206.3 161.4,204.9 159.2,203.0C157.0,201.1 154.0,198.0 152.0,196.0C150.0,194.0 148.7,193.4 147.0,190.8C145.3,188.2 143.9,183.2 141.9,180.4C139.9,177.6 137.3,175.7 135.0,174.0C132.7,172.3 130.2,171.3 128.0,170.0C125.8,168.7 123.4,167.5 122.0,166.0C120.6,164.5 119.7,162.7 119.5,161.0C119.3,159.3 118.8,156.8 121.0,156.0Z" fill="#c4c4c8" stroke="#c4c4c8" stroke-width="6" stroke-linejoin="round" opacity="0.22"/>
<path d="M117.8,132.5C118.1,130.3 120.8,126.3 122.6,123.5C124.4,120.7 125.9,118.3 128.6,115.8C131.2,113.2 134.6,110.5 138.5,108.2C142.4,106.0 147.7,103.1 151.9,102.3C156.1,101.5 160.1,102.3 163.5,103.3C166.9,104.3 170.6,106.0 172.4,108.2C174.2,110.4 174.5,113.3 174.4,116.2C174.3,119.1 172.6,122.6 171.6,125.8C170.6,129.0 169.3,132.6 168.7,135.4C168.0,138.2 169.5,141.1 167.7,142.4C165.9,143.8 161.3,142.8 157.7,143.5C154.1,144.2 149.4,146.7 146.2,146.4C143.0,146.1 141.4,142.9 138.5,141.6C135.6,140.3 131.7,139.5 128.8,138.7C125.9,137.9 122.8,137.7 121.0,136.7C119.2,135.7 117.5,134.7 117.8,132.5Z" fill="#c8c8cc" stroke="#c8c8cc" stroke-width="6" stroke-linejoin="round" opacity="0.12"/>
</g></g>
<g transform="translate(408.30,228.00) scale(0.3904,0.3245) translate(-39.0,-102.6)">
<g fill="none" stroke="#909094" stroke-width="2.31" stroke-linecap="round" stroke-linejoin="round" opacity="0.85">
<path d="M206.5,170.2 C210,168.5 213.5,171 213,175 C212.5,179 208.5,180 206.5,177.8 C204.5,175.5 204.5,172 206.5,170.2 Z"/>
<path d="M205.8,177 L199,188 M204.8,171 L201,167"/>
</g></g>
<path d="M308.0,192.6 L308.0,226.6 L342.4,226.6" fill="none" stroke="#111" stroke-width="1.0"/>
<path d="M308.00,189.60 L310.07,194.20 L305.93,194.20Z" fill="#111"/>
<path d="M345.40,226.60 L340.80,228.67 L340.80,224.53Z" fill="#111"/>
<text x="0" y="0" transform="translate(324.90 237.60) scale(1 1.0)" font-size="8.5" text-anchor="middle" fill="#222" stroke="#222" stroke-width="0.2" textLength="31.8" lengthAdjust="spacingAndGlyphs">WnnUMAP 1</text>
<text x="0" y="0" transform="translate(302.50 208.70) rotate(-90) scale(1 1.0)" font-size="8.5" text-anchor="middle" fill="#222" stroke="#222" stroke-width="0.2" textLength="31.8" lengthAdjust="spacingAndGlyphs">WnnUMAP 2</text>
<g stroke="#111" stroke-width="0.7">
<line x1="388" y1="175.3" x2="397" y2="167.1"/><line x1="388" y1="193.7" x2="400.5" y2="193.7"/><line x1="388" y1="208.5" x2="397.6" y2="218.0"/>
</g>
<path d="M399.00,165.30 L397.67,168.31 L395.87,166.30Z" fill="#222"/>
<path d="M403.00,193.70 L400.00,195.05 L400.00,192.35Z" fill="#222"/>
<path d="M399.60,220.00 L396.52,218.83 L398.43,216.92Z" fill="#222"/>
<circle cx="322.2" cy="245.7" r="2.5" fill="#3d8ec9"/>
<text x="0" y="0" transform="translate(327.00 248.20) scale(1 1.12)" font-size="6.8" text-anchor="start" fill="#222" stroke="#222" stroke-width="0.05">FL</text>
<circle cx="341.4" cy="245.7" r="2.5" fill="#ef8f55"/>
<text x="0" y="0" transform="translate(346.00 248.20) scale(1 1.12)" font-size="6.8" text-anchor="start" fill="#222" stroke="#222" stroke-width="0.05">DLBCL</text>
<circle cx="373.1" cy="245.7" r="2.5" fill="#999a9c"/>
<text x="0" y="0" transform="translate(378.40 248.20) scale(1 1.12)" font-size="6.6" text-anchor="start" fill="#222" stroke="#222" stroke-width="0.05">Tonsils</text>
<circle cx="475.6" cy="137.3" r="2.4" fill="#1d3f6e"/>
<text x="0" y="0" transform="translate(481.00 139.80) scale(1 1.12)" font-size="6.5" text-anchor="start" fill="#222" stroke="#222" stroke-width="0.05">FL 1</text>
<circle cx="475.6" cy="145.3" r="2.4" fill="#2b88bf"/>
<text x="0" y="0" transform="translate(481.00 147.80) scale(1 1.12)" font-size="6.5" text-anchor="start" fill="#222" stroke="#222" stroke-width="0.05">FL 2</text>
<circle cx="475.6" cy="152.9" r="2.4" fill="#6cc0d6"/>
<text x="0" y="0" transform="translate(481.00 155.40) scale(1 1.12)" font-size="6.5" text-anchor="start" fill="#222" stroke="#222" stroke-width="0.05">FL 3</text>
<circle cx="474.4" cy="199.6" r="2.4" fill="#d9603c"/>
<text x="0" y="0" transform="translate(479.60 202.10) scale(1 1.12)" font-size="6.5" text-anchor="start" fill="#222" stroke="#222" stroke-width="0.05">DLBCL 1</text>
<circle cx="474.4" cy="207.7" r="2.4" fill="#e8844e"/>
<text x="0" y="0" transform="translate(479.60 210.20) scale(1 1.12)" font-size="6.5" text-anchor="start" fill="#222" stroke="#222" stroke-width="0.05">DLBCL 2</text>
<circle cx="474.4" cy="215.2" r="2.4" fill="#efb0a0"/>
<text x="0" y="0" transform="translate(479.60 217.70) scale(1 1.12)" font-size="6.5" text-anchor="start" fill="#222" stroke="#222" stroke-width="0.05">DLBCL 3</text>
<circle cx="475.6" cy="265.8" r="2.4" fill="#555557"/>
<text x="0" y="0" transform="translate(481.80 268.30) scale(1 1.12)" font-size="6.3" text-anchor="start" fill="#222" stroke="#222" stroke-width="0.05">Tonsil 1</text>
<circle cx="475.6" cy="273.8" r="2.4" fill="#8c8c8e"/>
<text x="0" y="0" transform="translate(481.80 276.30) scale(1 1.12)" font-size="6.3" text-anchor="start" fill="#222" stroke="#222" stroke-width="0.05">Tonsil 2</text>
<circle cx="475.6" cy="281.4" r="2.4" fill="#b2b2b4"/>
<text x="0" y="0" transform="translate(481.80 283.90) scale(1 1.12)" font-size="6.3" text-anchor="start" fill="#222" stroke="#222" stroke-width="0.05">Tonsil 3</text>
<text x="0" y="0" transform="translate(6.80 318.00) scale(1 1.0)" font-size="11.5" text-anchor="start" font-weight="bold" fill="#111">D</text>
<g>
<circle cx="83.4" cy="312.3" r="2.5" fill="#2a1c84"/>
<circle cx="92.3" cy="312.3" r="1.9" fill="#2a1c84"/>
<circle cx="101.2" cy="312.3" r="1.9" fill="#2a1c84"/>
<circle cx="110.1" cy="312.3" r="2.5" fill="#4c3e9a"/>
<circle cx="119.0" cy="312.3" r="3.1" fill="#2a1c84"/>
<circle cx="127.9" cy="312.3" r="2.5" fill="#4c3e9a"/>
<circle cx="136.8" cy="312.3" r="2.5" fill="#7e76b2"/>
<circle cx="145.7" cy="312.3" r="1.9" fill="#7e76b2"/>
<circle cx="154.6" cy="312.3" r="1.9" fill="#7e76b2"/>
<circle cx="163.5" cy="312.3" r="1.35" fill="#a6a2c2"/>
<circle cx="172.4" cy="312.3" r="1.35" fill="#4c3e9a"/>
<circle cx="181.3" cy="312.3" r="1.35" fill="#7e76b2"/>
<circle cx="190.2" cy="312.3" r="2.5" fill="#7e76b2"/>
<circle cx="199.1" cy="312.3" r="0.85" fill="#d6d6de"/>
<circle cx="208.0" cy="312.3" r="1.35" fill="#a6a2c2"/>
<circle cx="216.9" cy="312.3" r="1.35" fill="#a6a2c2"/>
<circle cx="225.8" cy="312.3" r="1.35" fill="#a6a2c2"/>
<circle cx="234.7" cy="312.3" r="0.85" fill="#a6a2c2"/>
<circle cx="243.6" cy="312.3" r="1.35" fill="#7e76b2"/>
<circle cx="252.5" cy="312.3" r="0.85" fill="#d6d6de"/>
<circle cx="261.4" cy="312.3" r="1.35" fill="#a6a2c2"/>
<circle cx="270.3" cy="312.3" r="2.5" fill="#a6a2c2"/>
<circle cx="279.2" cy="312.3" r="1.9" fill="#a6a2c2"/>
<circle cx="288.1" cy="312.3" r="1.35" fill="#a6a2c2"/>
<circle cx="297.0" cy="312.3" r="0.85" fill="#a6a2c2"/>
<circle cx="305.9" cy="312.3" r="2.5" fill="#7e76b2"/>
<circle cx="314.8" cy="312.3" r="1.35" fill="#a6a2c2"/>
<circle cx="323.7" cy="312.3" r="1.35" fill="#a6a2c2"/>
<circle cx="332.6" cy="312.3" r="1.35" fill="#a6a2c2"/>
<circle cx="341.5" cy="312.3" r="1.9" fill="#7e76b2"/>
<circle cx="350.4" cy="312.3" r="0.85" fill="#d6d6de"/>
<circle cx="359.3" cy="312.3" r="0.85" fill="#d6d6de"/>
<circle cx="368.2" cy="312.3" r="1.35" fill="#7e76b2"/>
<circle cx="377.1" cy="312.3" r="0.85" fill="#a6a2c2"/>
<circle cx="386.0" cy="312.3" r="1.9" fill="#7e76b2"/>
<circle cx="394.9" cy="312.3" r="1.9" fill="#a6a2c2"/>
<circle cx="403.8" cy="312.3" r="2.5" fill="#a6a2c2"/>
<circle cx="412.7" cy="312.3" r="0.85" fill="#d6d6de"/>
<circle cx="421.6" cy="312.3" r="0.85" fill="#d6d6de"/>
<circle cx="430.5" cy="312.3" r="0.85" fill="#d6d6de"/>
<circle cx="439.4" cy="312.3" r="1.9" fill="#7e76b2"/>
<circle cx="448.3" cy="312.3" r="0.85" fill="#d6d6de"/>
<circle cx="457.2" cy="312.3" r="0.85" fill="#d6d6de"/>
<circle cx="466.1" cy="312.3" r="0.85" fill="#d6d6de"/>
<circle cx="83.4" cy="322.1" r="1.9" fill="#4c3e9a"/>
<circle cx="92.3" cy="322.1" r="1.35" fill="#7e76b2"/>
<circle cx="101.2" cy="322.1" r="1.35" fill="#2a1c84"/>
<circle cx="110.1" cy="322.1" r="1.9" fill="#7e76b2"/>
<circle cx="119.0" cy="322.1" r="3.1" fill="#4c3e9a"/>
<circle cx="127.9" cy="322.1" r="2.5" fill="#4c3e9a"/>
<circle cx="136.8" cy="322.1" r="2.5" fill="#7e76b2"/>
<circle cx="145.7" cy="322.1" r="1.9" fill="#2a1c84"/>
<circle cx="154.6" cy="322.1" r="1.9" fill="#2a1c84"/>
<circle cx="163.5" cy="322.1" r="0.85" fill="#d6d6de"/>
<circle cx="172.4" cy="322.1" r="1.35" fill="#7e76b2"/>
<circle cx="181.3" cy="322.1" r="1.35" fill="#a6a2c2"/>
<circle cx="190.2" cy="322.1" r="2.5" fill="#7e76b2"/>
<circle cx="199.1" cy="322.1" r="0.85" fill="#d6d6de"/>
<circle cx="208.0" cy="322.1" r="1.35" fill="#a6a2c2"/>
<circle cx="216.9" cy="322.1" r="1.35" fill="#a6a2c2"/>
<circle cx="225.8" cy="322.1" r="1.35" fill="#a6a2c2"/>
<circle cx="234.7" cy="322.1" r="0.85" fill="#d6d6de"/>
<circle cx="243.6" cy="322.1" r="1.35" fill="#7e76b2"/>
<circle cx="252.5" cy="322.1" r="0.85" fill="#d6d6de"/>
<circle cx="261.4" cy="322.1" r="1.35" fill="#a6a2c2"/>
<circle cx="270.3" cy="322.1" r="2.5" fill="#a6a2c2"/>
<circle cx="279.2" cy="322.1" r="1.9" fill="#7e76b2"/>
<circle cx="288.1" cy="322.1" r="1.35" fill="#a6a2c2"/>
<circle cx="297.0" cy="322.1" r="0.85" fill="#a6a2c2"/>
<circle cx="305.9" cy="322.1" r="1.9" fill="#a6a2c2"/>
<circle cx="314.8" cy="322.1" r="0.85" fill="#d6d6de"/>
<circle cx="323.7" cy="322.1" r="0.85" fill="#a6a2c2"/>
<circle cx="332.6" cy="322.1" r="0.85" fill="#a6a2c2"/>
<circle cx="341.5" cy="322.1" r="1.35" fill="#7e76b2"/>
<circle cx="350.4" cy="322.1" r="0.85" fill="#d6d6de"/>
<circle cx="359.3" cy="322.1" r="0.85" fill="#d6d6de"/>
<circle cx="368.2" cy="322.1" r="1.35" fill="#7e76b2"/>
<circle cx="377.1" cy="322.1" r="1.35" fill="#7e76b2"/>
<circle cx="386.0" cy="322.1" r="1.9" fill="#7e76b2"/>
<circle cx="394.9" cy="322.1" r="1.9" fill="#a6a2c2"/>
<circle cx="403.8" cy="322.1" r="2.5" fill="#a6a2c2"/>
<circle cx="412.7" cy="322.1" r="0.85" fill="#d6d6de"/>
<circle cx="421.6" cy="322.1" r="0.85" fill="#d6d6de"/>
<circle cx="430.5" cy="322.1" r="0.85" fill="#d6d6de"/>
<circle cx="439.4" cy="322.1" r="1.35" fill="#7e76b2"/>
<circle cx="448.3" cy="322.1" r="0.85" fill="#d6d6de"/>
<circle cx="457.2" cy="322.1" r="0.85" fill="#d6d6de"/>
<circle cx="466.1" cy="322.1" r="0.85" fill="#d6d6de"/>
<circle cx="83.4" cy="332.0" r="0.85" fill="#a6a2c2"/>
<circle cx="92.3" cy="332.0" r="1.9" fill="#2a1c84"/>
<circle cx="101.2" cy="332.0" r="1.35" fill="#4c3e9a"/>
<circle cx="110.1" cy="332.0" r="2.5" fill="#4c3e9a"/>
<circle cx="119.0" cy="332.0" r="2.5" fill="#7e76b2"/>
<circle cx="127.9" cy="332.0" r="1.9" fill="#a6a2c2"/>
<circle cx="136.8" cy="332.0" r="1.9" fill="#a6a2c2"/>
<circle cx="145.7" cy="332.0" r="1.35" fill="#a6a2c2"/>
<circle cx="154.6" cy="332.0" r="0.85" fill="#a6a2c2"/>
<circle cx="163.5" cy="332.0" r="1.9" fill="#2a1c84"/>
<circle cx="172.4" cy="332.0" r="1.9" fill="#2a1c84"/>
<circle cx="181.3" cy="332.0" r="2.5" fill="#2a1c84"/>
<circle cx="190.2" cy="332.0" r="2.5" fill="#2a1c84"/>
<circle cx="199.1" cy="332.0" r="1.35" fill="#2a1c84"/>
<circle cx="208.0" cy="332.0" r="0.85" fill="#d6d6de"/>
<circle cx="216.9" cy="332.0" r="1.35" fill="#a6a2c2"/>
<circle cx="225.8" cy="332.0" r="1.35" fill="#a6a2c2"/>
<circle cx="234.7" cy="332.0" r="0.85" fill="#d6d6de"/>
<circle cx="243.6" cy="332.0" r="0.85" fill="#a6a2c2"/>
<circle cx="252.5" cy="332.0" r="0.85" fill="#d6d6de"/>
<circle cx="261.4" cy="332.0" r="1.35" fill="#a6a2c2"/>
<circle cx="270.3" cy="332.0" r="2.5" fill="#7e76b2"/>
<circle cx="279.2" cy="332.0" r="1.35" fill="#a6a2c2"/>
<circle cx="288.1" cy="332.0" r="1.35" fill="#a6a2c2"/>
<circle cx="297.0" cy="332.0" r="0.85" fill="#d6d6de"/>
<circle cx="305.9" cy="332.0" r="1.9" fill="#a6a2c2"/>
<circle cx="314.8" cy="332.0" r="0.85" fill="#d6d6de"/>
<circle cx="323.7" cy="332.0" r="1.9" fill="#7e76b2"/>
<circle cx="332.6" cy="332.0" r="1.35" fill="#7e76b2"/>
<circle cx="341.5" cy="332.0" r="1.9" fill="#7e76b2"/>
<circle cx="350.4" cy="332.0" r="1.35" fill="#4c3e9a"/>
<circle cx="359.3" cy="332.0" r="0.85" fill="#d6d6de"/>
<circle cx="368.2" cy="332.0" r="1.35" fill="#4c3e9a"/>
<circle cx="377.1" cy="332.0" r="0.85" fill="#d6d6de"/>
<circle cx="386.0" cy="332.0" r="1.9" fill="#7e76b2"/>
<circle cx="394.9" cy="332.0" r="1.9" fill="#7e76b2"/>
<circle cx="403.8" cy="332.0" r="2.5" fill="#a6a2c2"/>
<circle cx="412.7" cy="332.0" r="0.85" fill="#d6d6de"/>
<circle cx="421.6" cy="332.0" r="0.85" fill="#d6d6de"/>
<circle cx="430.5" cy="332.0" r="0.85" fill="#d6d6de"/>
<circle cx="439.4" cy="332.0" r="1.35" fill="#7e76b2"/>
<circle cx="448.3" cy="332.0" r="0.85" fill="#d6d6de"/>
<circle cx="457.2" cy="332.0" r="1.35" fill="#a6a2c2"/>
<circle cx="466.1" cy="332.0" r="0.85" fill="#d6d6de"/>
<circle cx="83.4" cy="341.8" r="1.35" fill="#d6d6de"/>
<circle cx="92.3" cy="341.8" r="1.35" fill="#d6d6de"/>
<circle cx="101.2" cy="341.8" r="1.35" fill="#d6d6de"/>
<circle cx="110.1" cy="341.8" r="1.35" fill="#d6d6de"/>
<circle cx="119.0" cy="341.8" r="2.5" fill="#d6d6de"/>
<circle cx="127.9" cy="341.8" r="1.35" fill="#d6d6de"/>
<circle cx="136.8" cy="341.8" r="2.5" fill="#a6a2c2"/>
<circle cx="145.7" cy="341.8" r="1.35" fill="#d6d6de"/>
<circle cx="154.6" cy="341.8" r="0.85" fill="#d6d6de"/>
<circle cx="163.5" cy="341.8" r="0.85" fill="#d6d6de"/>
<circle cx="172.4" cy="341.8" r="0.85" fill="#d6d6de"/>
<circle cx="181.3" cy="341.8" r="0.85" fill="#d6d6de"/>
<circle cx="190.2" cy="341.8" r="0.85" fill="#d6d6de"/>
<circle cx="199.1" cy="341.8" r="0.85" fill="#d6d6de"/>
<circle cx="208.0" cy="341.8" r="2.5" fill="#2a1c84"/>
<circle cx="216.9" cy="341.8" r="2.5" fill="#2a1c84"/>
<circle cx="225.8" cy="341.8" r="2.5" fill="#2a1c84"/>
<circle cx="234.7" cy="341.8" r="1.9" fill="#2a1c84"/>
<circle cx="243.6" cy="341.8" r="2.5" fill="#2a1c84"/>
<circle cx="252.5" cy="341.8" r="1.9" fill="#4c3e9a"/>
<circle cx="261.4" cy="341.8" r="2.5" fill="#7e76b2"/>
<circle cx="270.3" cy="341.8" r="2.5" fill="#7e76b2"/>
<circle cx="279.2" cy="341.8" r="2.5" fill="#4c3e9a"/>
<circle cx="288.1" cy="341.8" r="1.35" fill="#7e76b2"/>
<circle cx="297.0" cy="341.8" r="0.85" fill="#a6a2c2"/>
<circle cx="305.9" cy="341.8" r="2.5" fill="#7e76b2"/>
<circle cx="314.8" cy="341.8" r="1.9" fill="#4c3e9a"/>
<circle cx="323.7" cy="341.8" r="0.85" fill="#d6d6de"/>
<circle cx="332.6" cy="341.8" r="0.85" fill="#d6d6de"/>
<circle cx="341.5" cy="341.8" r="0.85" fill="#d6d6de"/>
<circle cx="350.4" cy="341.8" r="0.85" fill="#d6d6de"/>
<circle cx="359.3" cy="341.8" r="0.85" fill="#d6d6de"/>
<circle cx="368.2" cy="341.8" r="0.85" fill="#d6d6de"/>
<circle cx="377.1" cy="341.8" r="0.85" fill="#d6d6de"/>
<circle cx="386.0" cy="341.8" r="1.35" fill="#a6a2c2"/>
<circle cx="394.9" cy="341.8" r="1.9" fill="#4c3e9a"/>
<circle cx="403.8" cy="341.8" r="1.9" fill="#a6a2c2"/>
<circle cx="412.7" cy="341.8" r="0.85" fill="#d6d6de"/>
<circle cx="421.6" cy="341.8" r="0.85" fill="#d6d6de"/>
<circle cx="430.5" cy="341.8" r="0.85" fill="#d6d6de"/>
<circle cx="439.4" cy="341.8" r="0.85" fill="#d6d6de"/>
<circle cx="448.3" cy="341.8" r="0.85" fill="#d6d6de"/>
<circle cx="457.2" cy="341.8" r="1.35" fill="#7e76b2"/>
<circle cx="466.1" cy="341.8" r="0.85" fill="#d6d6de"/>
<circle cx="83.4" cy="351.6" r="1.35" fill="#d6d6de"/>
<circle cx="92.3" cy="351.6" r="1.35" fill="#d6d6de"/>
<circle cx="101.2" cy="351.6" r="1.35" fill="#d6d6de"/>
<circle cx="110.1" cy="351.6" r="1.35" fill="#d6d6de"/>
<circle cx="119.0" cy="351.6" r="2.5" fill="#a6a2c2"/>
<circle cx="127.9" cy="351.6" r="2.5" fill="#7e76b2"/>
<circle cx="136.8" cy="351.6" r="2.5" fill="#4c3e9a"/>
<circle cx="145.7" cy="351.6" r="1.35" fill="#a6a2c2"/>
<circle cx="154.6" cy="351.6" r="1.35" fill="#a6a2c2"/>
<circle cx="163.5" cy="351.6" r="0.85" fill="#d6d6de"/>
<circle cx="172.4" cy="351.6" r="0.85" fill="#d6d6de"/>
<circle cx="181.3" cy="351.6" r="1.9" fill="#7e76b2"/>
<circle cx="190.2" cy="351.6" r="1.35" fill="#a6a2c2"/>
<circle cx="199.1" cy="351.6" r="0.85" fill="#d6d6de"/>
<circle cx="208.0" cy="351.6" r="2.5" fill="#4c3e9a"/>
<circle cx="216.9" cy="351.6" r="2.5" fill="#7e76b2"/>
<circle cx="225.8" cy="351.6" r="1.9" fill="#4c3e9a"/>
<circle cx="234.7" cy="351.6" r="1.35" fill="#4c3e9a"/>
<circle cx="243.6" cy="351.6" r="1.35" fill="#7e76b2"/>
<circle cx="252.5" cy="351.6" r="2.5" fill="#2a1c84"/>
<circle cx="261.4" cy="351.6" r="2.5" fill="#2a1c84"/>
<circle cx="270.3" cy="351.6" r="2.5" fill="#2a1c84"/>
<circle cx="279.2" cy="351.6" r="2.5" fill="#4c3e9a"/>
<circle cx="288.1" cy="351.6" r="1.35" fill="#7e76b2"/>
<circle cx="297.0" cy="351.6" r="1.35" fill="#7e76b2"/>
<circle cx="305.9" cy="351.6" r="2.5" fill="#7e76b2"/>
<circle cx="314.8" cy="351.6" r="1.9" fill="#4c3e9a"/>
<circle cx="323.7" cy="351.6" r="0.85" fill="#d6d6de"/>
<circle cx="332.6" cy="351.6" r="0.85" fill="#d6d6de"/>
<circle cx="341.5" cy="351.6" r="0.85" fill="#d6d6de"/>
<circle cx="350.4" cy="351.6" r="0.85" fill="#d6d6de"/>
<circle cx="359.3" cy="351.6" r="0.85" fill="#d6d6de"/>
<circle cx="368.2" cy="351.6" r="0.85" fill="#d6d6de"/>
<circle cx="377.1" cy="351.6" r="1.35" fill="#2a1c84"/>
<circle cx="386.0" cy="351.6" r="1.35" fill="#a6a2c2"/>
<circle cx="394.9" cy="351.6" r="1.9" fill="#7e76b2"/>
<circle cx="403.8" cy="351.6" r="2.5" fill="#4c3e9a"/>
<circle cx="412.7" cy="351.6" r="0.85" fill="#a6a2c2"/>
<circle cx="421.6" cy="351.6" r="0.85" fill="#d6d6de"/>
<circle cx="430.5" cy="351.6" r="1.35" fill="#a6a2c2"/>
<circle cx="439.4" cy="351.6" r="1.35" fill="#a6a2c2"/>
<circle cx="448.3" cy="351.6" r="1.35" fill="#a6a2c2"/>
<circle cx="457.2" cy="351.6" r="1.35" fill="#a6a2c2"/>
<circle cx="466.1" cy="351.6" r="0.85" fill="#d6d6de"/>
<circle cx="83.4" cy="361.4" r="0.85" fill="#d6d6de"/>
<circle cx="92.3" cy="361.4" r="1.35" fill="#d6d6de"/>
<circle cx="101.2" cy="361.4" r="1.35" fill="#d6d6de"/>
<circle cx="110.1" cy="361.4" r="1.35" fill="#d6d6de"/>
<circle cx="119.0" cy="361.4" r="2.5" fill="#a6a2c2"/>
<circle cx="127.9" cy="361.4" r="1.9" fill="#a6a2c2"/>
<circle cx="136.8" cy="361.4" r="2.5" fill="#7e76b2"/>
<circle cx="145.7" cy="361.4" r="1.35" fill="#7e76b2"/>
<circle cx="154.6" cy="361.4" r="1.35" fill="#7e76b2"/>
<circle cx="163.5" cy="361.4" r="0.85" fill="#d6d6de"/>
<circle cx="172.4" cy="361.4" r="0.85" fill="#d6d6de"/>
<circle cx="181.3" cy="361.4" r="1.35" fill="#a6a2c2"/>
<circle cx="190.2" cy="361.4" r="1.35" fill="#a6a2c2"/>
<circle cx="199.1" cy="361.4" r="0.85" fill="#d6d6de"/>
<circle cx="208.0" cy="361.4" r="1.9" fill="#7e76b2"/>
<circle cx="216.9" cy="361.4" r="2.5" fill="#4c3e9a"/>
<circle cx="225.8" cy="361.4" r="1.9" fill="#4c3e9a"/>
<circle cx="234.7" cy="361.4" r="1.35" fill="#7e76b2"/>
<circle cx="243.6" cy="361.4" r="1.9" fill="#4c3e9a"/>
<circle cx="252.5" cy="361.4" r="1.35" fill="#7e76b2"/>
<circle cx="261.4" cy="361.4" r="2.5" fill="#4c3e9a"/>
<circle cx="270.3" cy="361.4" r="2.5" fill="#a6a2c2"/>
<circle cx="279.2" cy="361.4" r="2.5" fill="#4c3e9a"/>
<circle cx="288.1" cy="361.4" r="0.85" fill="#d6d6de"/>
<circle cx="297.0" cy="361.4" r="0.85" fill="#a6a2c2"/>
<circle cx="305.9" cy="361.4" r="1.9" fill="#a6a2c2"/>
<circle cx="314.8" cy="361.4" r="1.35" fill="#a6a2c2"/>
<circle cx="323.7" cy="361.4" r="0.85" fill="#d6d6de"/>
<circle cx="332.6" cy="361.4" r="0.85" fill="#d6d6de"/>
<circle cx="341.5" cy="361.4" r="0.85" fill="#d6d6de"/>
<circle cx="350.4" cy="361.4" r="0.85" fill="#d6d6de"/>
<circle cx="359.3" cy="361.4" r="0.85" fill="#d6d6de"/>
<circle cx="368.2" cy="361.4" r="0.85" fill="#d6d6de"/>
<circle cx="377.1" cy="361.4" r="1.35" fill="#4c3e9a"/>
<circle cx="386.0" cy="361.4" r="1.35" fill="#a6a2c2"/>
<circle cx="394.9" cy="361.4" r="1.35" fill="#a6a2c2"/>
<circle cx="403.8" cy="361.4" r="2.5" fill="#a6a2c2"/>
<circle cx="412.7" cy="361.4" r="0.85" fill="#d6d6de"/>
<circle cx="421.6" cy="361.4" r="0.85" fill="#d6d6de"/>
<circle cx="430.5" cy="361.4" r="0.85" fill="#d6d6de"/>
<circle cx="439.4" cy="361.4" r="0.85" fill="#d6d6de"/>
<circle cx="448.3" cy="361.4" r="0.85" fill="#d6d6de"/>
<circle cx="457.2" cy="361.4" r="1.35" fill="#a6a2c2"/>
<circle cx="466.1" cy="361.4" r="0.85" fill="#d6d6de"/>
<circle cx="83.4" cy="371.3" r="1.35" fill="#a6a2c2"/>
<circle cx="92.3" cy="371.3" r="1.35" fill="#d6d6de"/>
<circle cx="101.2" cy="371.3" r="1.35" fill="#a6a2c2"/>
<circle cx="110.1" cy="371.3" r="0.85" fill="#d6d6de"/>
<circle cx="119.0" cy="371.3" r="2.5" fill="#a6a2c2"/>
<circle cx="127.9" cy="371.3" r="1.9" fill="#a6a2c2"/>
<circle cx="136.8" cy="371.3" r="2.5" fill="#7e76b2"/>
<circle cx="145.7" cy="371.3" r="1.35" fill="#4c3e9a"/>
<circle cx="154.6" cy="371.3" r="2.5" fill="#2a1c84"/>
<circle cx="163.5" cy="371.3" r="0.85" fill="#d6d6de"/>
<circle cx="172.4" cy="371.3" r="0.85" fill="#d6d6de"/>
<circle cx="181.3" cy="371.3" r="0.85" fill="#a6a2c2"/>
<circle cx="190.2" cy="371.3" r="1.35" fill="#a6a2c2"/>
<circle cx="199.1" cy="371.3" r="0.85" fill="#d6d6de"/>
<circle cx="208.0" cy="371.3" r="2.5" fill="#4c3e9a"/>
<circle cx="216.9" cy="371.3" r="2.5" fill="#4c3e9a"/>
<circle cx="225.8" cy="371.3" r="1.9" fill="#4c3e9a"/>
<circle cx="234.7" cy="371.3" r="1.35" fill="#2a1c84"/>
<circle cx="243.6" cy="371.3" r="1.9" fill="#4c3e9a"/>
<circle cx="252.5" cy="371.3" r="1.35" fill="#4c3e9a"/>
<circle cx="261.4" cy="371.3" r="2.5" fill="#7e76b2"/>
<circle cx="270.3" cy="371.3" r="2.5" fill="#4c3e9a"/>
<circle cx="279.2" cy="371.3" r="2.5" fill="#4c3e9a"/>
<circle cx="288.1" cy="371.3" r="1.9" fill="#2a1c84"/>
<circle cx="297.0" cy="371.3" r="1.9" fill="#2a1c84"/>
<circle cx="305.9" cy="371.3" r="2.5" fill="#2a1c84"/>
<circle cx="314.8" cy="371.3" r="1.9" fill="#2a1c84"/>
<circle cx="323.7" cy="371.3" r="0.85" fill="#d6d6de"/>
<circle cx="332.6" cy="371.3" r="1.35" fill="#a6a2c2"/>
<circle cx="341.5" cy="371.3" r="0.85" fill="#d6d6de"/>
<circle cx="350.4" cy="371.3" r="0.85" fill="#d6d6de"/>
<circle cx="359.3" cy="371.3" r="0.85" fill="#d6d6de"/>
<circle cx="368.2" cy="371.3" r="0.85" fill="#d6d6de"/>
<circle cx="377.1" cy="371.3" r="1.35" fill="#7e76b2"/>
<circle cx="386.0" cy="371.3" r="1.35" fill="#a6a2c2"/>
<circle cx="394.9" cy="371.3" r="1.9" fill="#7e76b2"/>
<circle cx="403.8" cy="371.3" r="2.5" fill="#4c3e9a"/>
<circle cx="412.7" cy="371.3" r="0.85" fill="#a6a2c2"/>
<circle cx="421.6" cy="371.3" r="0.85" fill="#d6d6de"/>
<circle cx="430.5" cy="371.3" r="0.85" fill="#d6d6de"/>
<circle cx="439.4" cy="371.3" r="0.85" fill="#d6d6de"/>
<circle cx="448.3" cy="371.3" r="0.85" fill="#d6d6de"/>
<circle cx="457.2" cy="371.3" r="1.35" fill="#a6a2c2"/>
<circle cx="466.1" cy="371.3" r="0.85" fill="#d6d6de"/>
<circle cx="83.4" cy="381.1" r="1.35" fill="#d6d6de"/>
<circle cx="92.3" cy="381.1" r="1.35" fill="#7e76b2"/>
<circle cx="101.2" cy="381.1" r="1.35" fill="#d6d6de"/>
<circle cx="110.1" cy="381.1" r="1.35" fill="#a6a2c2"/>
<circle cx="119.0" cy="381.1" r="2.5" fill="#a6a2c2"/>
<circle cx="127.9" cy="381.1" r="1.9" fill="#a6a2c2"/>
<circle cx="136.8" cy="381.1" r="1.35" fill="#d6d6de"/>
<circle cx="145.7" cy="381.1" r="1.35" fill="#d6d6de"/>
<circle cx="154.6" cy="381.1" r="0.85" fill="#d6d6de"/>
<circle cx="163.5" cy="381.1" r="1.35" fill="#a6a2c2"/>
<circle cx="172.4" cy="381.1" r="1.35" fill="#4c3e9a"/>
<circle cx="181.3" cy="381.1" r="1.35" fill="#a6a2c2"/>
<circle cx="190.2" cy="381.1" r="2.5" fill="#2a1c84"/>
<circle cx="199.1" cy="381.1" r="0.85" fill="#d6d6de"/>
<circle cx="208.0" cy="381.1" r="0.85" fill="#d6d6de"/>
<circle cx="216.9" cy="381.1" r="0.85" fill="#d6d6de"/>
<circle cx="225.8" cy="381.1" r="1.35" fill="#a6a2c2"/>
<circle cx="234.7" cy="381.1" r="0.85" fill="#d6d6de"/>
<circle cx="243.6" cy="381.1" r="1.35" fill="#a6a2c2"/>
<circle cx="252.5" cy="381.1" r="0.85" fill="#d6d6de"/>
<circle cx="261.4" cy="381.1" r="1.35" fill="#7e76b2"/>
<circle cx="270.3" cy="381.1" r="2.5" fill="#a6a2c2"/>
<circle cx="279.2" cy="381.1" r="1.35" fill="#a6a2c2"/>
<circle cx="288.1" cy="381.1" r="1.35" fill="#a6a2c2"/>
<circle cx="297.0" cy="381.1" r="0.85" fill="#d6d6de"/>
<circle cx="305.9" cy="381.1" r="1.9" fill="#a6a2c2"/>
<circle cx="314.8" cy="381.1" r="0.85" fill="#d6d6de"/>
<circle cx="323.7" cy="381.1" r="2.5" fill="#2a1c84"/>
<circle cx="332.6" cy="381.1" r="1.9" fill="#2a1c84"/>
<circle cx="341.5" cy="381.1" r="2.5" fill="#2a1c84"/>
<circle cx="350.4" cy="381.1" r="1.9" fill="#2a1c84"/>
<circle cx="359.3" cy="381.1" r="1.35" fill="#2a1c84"/>
<circle cx="368.2" cy="381.1" r="2.5" fill="#2a1c84"/>
<circle cx="377.1" cy="381.1" r="0.85" fill="#a6a2c2"/>
<circle cx="386.0" cy="381.1" r="2.5" fill="#2a1c84"/>
<circle cx="394.9" cy="381.1" r="2.5" fill="#4c3e9a"/>
<circle cx="403.8" cy="381.1" r="2.5" fill="#7e76b2"/>
<circle cx="412.7" cy="381.1" r="0.85" fill="#d6d6de"/>
<circle cx="421.6" cy="381.1" r="0.85" fill="#d6d6de"/>
<circle cx="430.5" cy="381.1" r="0.85" fill="#d6d6de"/>
<circle cx="439.4" cy="381.1" r="0.85" fill="#d6d6de"/>
<circle cx="448.3" cy="381.1" r="0.85" fill="#d6d6de"/>
<circle cx="457.2" cy="381.1" r="1.35" fill="#a6a2c2"/>
<circle cx="466.1" cy="381.1" r="0.85" fill="#d6d6de"/>
<circle cx="83.4" cy="390.9" r="0.85" fill="#d6d6de"/>
<circle cx="92.3" cy="390.9" r="1.35" fill="#7e76b2"/>
<circle cx="101.2" cy="390.9" r="0.85" fill="#d6d6de"/>
<circle cx="110.1" cy="390.9" r="1.35" fill="#a6a2c2"/>
<circle cx="119.0" cy="390.9" r="2.5" fill="#a6a2c2"/>
<circle cx="127.9" cy="390.9" r="1.9" fill="#a6a2c2"/>
<circle cx="136.8" cy="390.9" r="1.35" fill="#d6d6de"/>
<circle cx="145.7" cy="390.9" r="1.9" fill="#4c3e9a"/>
<circle cx="154.6" cy="390.9" r="2.5" fill="#7e76b2"/>
<circle cx="163.5" cy="390.9" r="0.85" fill="#d6d6de"/>
<circle cx="172.4" cy="390.9" r="0.85" fill="#a6a2c2"/>
<circle cx="181.3" cy="390.9" r="1.35" fill="#a6a2c2"/>
<circle cx="190.2" cy="390.9" r="1.35" fill="#a6a2c2"/>
<circle cx="199.1" cy="390.9" r="0.85" fill="#d6d6de"/>
<circle cx="208.0" cy="390.9" r="0.85" fill="#d6d6de"/>
<circle cx="216.9" cy="390.9" r="0.85" fill="#d6d6de"/>
<circle cx="225.8" cy="390.9" r="1.35" fill="#a6a2c2"/>
<circle cx="234.7" cy="390.9" r="0.85" fill="#d6d6de"/>
<circle cx="243.6" cy="390.9" r="1.35" fill="#a6a2c2"/>
<circle cx="252.5" cy="390.9" r="0.85" fill="#d6d6de"/>
<circle cx="261.4" cy="390.9" r="1.35" fill="#a6a2c2"/>
<circle cx="270.3" cy="390.9" r="2.5" fill="#a6a2c2"/>
<circle cx="279.2" cy="390.9" r="1.35" fill="#a6a2c2"/>
<circle cx="288.1" cy="390.9" r="1.35" fill="#a6a2c2"/>
<circle cx="297.0" cy="390.9" r="0.85" fill="#d6d6de"/>
<circle cx="305.9" cy="390.9" r="1.35" fill="#a6a2c2"/>
<circle cx="314.8" cy="390.9" r="0.85" fill="#d6d6de"/>
<circle cx="323.7" cy="390.9" r="2.5" fill="#2a1c84"/>
<circle cx="332.6" cy="390.9" r="1.9" fill="#2a1c84"/>
<circle cx="341.5" cy="390.9" r="2.5" fill="#2a1c84"/>
<circle cx="350.4" cy="390.9" r="0.85" fill="#d6d6de"/>
<circle cx="359.3" cy="390.9" r="1.35" fill="#2a1c84"/>
<circle cx="368.2" cy="390.9" r="2.5" fill="#2a1c84"/>
<circle cx="377.1" cy="390.9" r="1.35" fill="#2a1c84"/>
<circle cx="386.0" cy="390.9" r="2.5" fill="#2a1c84"/>
<circle cx="394.9" cy="390.9" r="1.9" fill="#a6a2c2"/>
<circle cx="403.8" cy="390.9" r="2.5" fill="#a6a2c2"/>
<circle cx="412.7" cy="390.9" r="0.85" fill="#d6d6de"/>
<circle cx="421.6" cy="390.9" r="0.85" fill="#d6d6de"/>
<circle cx="430.5" cy="390.9" r="0.85" fill="#d6d6de"/>
<circle cx="439.4" cy="390.9" r="0.85" fill="#d6d6de"/>
<circle cx="448.3" cy="390.9" r="0.85" fill="#d6d6de"/>
<circle cx="457.2" cy="390.9" r="1.35" fill="#a6a2c2"/>
<circle cx="466.1" cy="390.9" r="0.85" fill="#d6d6de"/>
<circle cx="83.4" cy="400.8" r="0.85" fill="#d6d6de"/>
<circle cx="92.3" cy="400.8" r="0.85" fill="#d6d6de"/>
<circle cx="101.2" cy="400.8" r="0.85" fill="#d6d6de"/>
<circle cx="110.1" cy="400.8" r="1.35" fill="#d6d6de"/>
<circle cx="119.0" cy="400.8" r="2.5" fill="#a6a2c2"/>
<circle cx="127.9" cy="400.8" r="1.9" fill="#a6a2c2"/>
<circle cx="136.8" cy="400.8" r="1.9" fill="#d6d6de"/>
<circle cx="145.7" cy="400.8" r="1.35" fill="#d6d6de"/>
<circle cx="154.6" cy="400.8" r="0.85" fill="#d6d6de"/>
<circle cx="163.5" cy="400.8" r="0.85" fill="#d6d6de"/>
<circle cx="172.4" cy="400.8" r="0.85" fill="#d6d6de"/>
<circle cx="181.3" cy="400.8" r="1.35" fill="#7e76b2"/>
<circle cx="190.2" cy="400.8" r="1.35" fill="#a6a2c2"/>
<circle cx="199.1" cy="400.8" r="0.85" fill="#d6d6de"/>
<circle cx="208.0" cy="400.8" r="0.85" fill="#d6d6de"/>
<circle cx="216.9" cy="400.8" r="1.9" fill="#7e76b2"/>
<circle cx="225.8" cy="400.8" r="1.35" fill="#a6a2c2"/>
<circle cx="234.7" cy="400.8" r="0.85" fill="#a6a2c2"/>
<circle cx="243.6" cy="400.8" r="1.35" fill="#a6a2c2"/>
<circle cx="252.5" cy="400.8" r="0.85" fill="#a6a2c2"/>
<circle cx="261.4" cy="400.8" r="2.5" fill="#2a1c84"/>
<circle cx="270.3" cy="400.8" r="2.5" fill="#2a1c84"/>
<circle cx="279.2" cy="400.8" r="1.9" fill="#7e76b2"/>
<circle cx="288.1" cy="400.8" r="1.35" fill="#a6a2c2"/>
<circle cx="297.0" cy="400.8" r="0.85" fill="#a6a2c2"/>
<circle cx="305.9" cy="400.8" r="2.5" fill="#7e76b2"/>
<circle cx="314.8" cy="400.8" r="1.35" fill="#7e76b2"/>
<circle cx="323.7" cy="400.8" r="0.85" fill="#d6d6de"/>
<circle cx="332.6" cy="400.8" r="1.35" fill="#a6a2c2"/>
<circle cx="341.5" cy="400.8" r="1.35" fill="#a6a2c2"/>
<circle cx="350.4" cy="400.8" r="1.35" fill="#2a1c84"/>
<circle cx="359.3" cy="400.8" r="0.85" fill="#d6d6de"/>
<circle cx="368.2" cy="400.8" r="1.35" fill="#7e76b2"/>
<circle cx="377.1" cy="400.8" r="0.85" fill="#a6a2c2"/>
<circle cx="386.0" cy="400.8" r="1.9" fill="#7e76b2"/>
<circle cx="394.9" cy="400.8" r="2.5" fill="#2a1c84"/>
<circle cx="403.8" cy="400.8" r="2.5" fill="#2a1c84"/>
<circle cx="412.7" cy="400.8" r="0.85" fill="#d6d6de"/>
<circle cx="421.6" cy="400.8" r="0.85" fill="#d6d6de"/>
<circle cx="430.5" cy="400.8" r="0.85" fill="#d6d6de"/>
<circle cx="439.4" cy="400.8" r="1.35" fill="#a6a2c2"/>
<circle cx="448.3" cy="400.8" r="0.85" fill="#d6d6de"/>
<circle cx="457.2" cy="400.8" r="0.85" fill="#d6d6de"/>
<circle cx="466.1" cy="400.8" r="0.85" fill="#d6d6de"/>
<circle cx="83.4" cy="410.6" r="0.85" fill="#a6a2c2"/>
<circle cx="92.3" cy="410.6" r="1.35" fill="#4c3e9a"/>
<circle cx="101.2" cy="410.6" r="1.35" fill="#d6d6de"/>
<circle cx="110.1" cy="410.6" r="1.9" fill="#7e76b2"/>
<circle cx="119.0" cy="410.6" r="2.5" fill="#7e76b2"/>
<circle cx="127.9" cy="410.6" r="1.9" fill="#7e76b2"/>
<circle cx="136.8" cy="410.6" r="1.9" fill="#a6a2c2"/>
<circle cx="145.7" cy="410.6" r="1.35" fill="#2a1c84"/>
<circle cx="154.6" cy="410.6" r="1.9" fill="#2a1c84"/>
<circle cx="163.5" cy="410.6" r="1.9" fill="#4c3e9a"/>
<circle cx="172.4" cy="410.6" r="0.85" fill="#d6d6de"/>
<circle cx="181.3" cy="410.6" r="0.85" fill="#d6d6de"/>
<circle cx="190.2" cy="410.6" r="1.35" fill="#a6a2c2"/>
<circle cx="199.1" cy="410.6" r="0.85" fill="#4c3e9a"/>
<circle cx="208.0" cy="410.6" r="1.35" fill="#a6a2c2"/>
<circle cx="216.9" cy="410.6" r="1.35" fill="#a6a2c2"/>
<circle cx="225.8" cy="410.6" r="1.35" fill="#a6a2c2"/>
<circle cx="234.7" cy="410.6" r="0.85" fill="#d6d6de"/>
<circle cx="243.6" cy="410.6" r="0.85" fill="#d6d6de"/>
<circle cx="252.5" cy="410.6" r="1.35" fill="#a6a2c2"/>
<circle cx="261.4" cy="410.6" r="1.35" fill="#a6a2c2"/>
<circle cx="270.3" cy="410.6" r="2.5" fill="#7e76b2"/>
<circle cx="279.2" cy="410.6" r="1.35" fill="#a6a2c2"/>
<circle cx="288.1" cy="410.6" r="1.35" fill="#7e76b2"/>
<circle cx="297.0" cy="410.6" r="1.35" fill="#4c3e9a"/>
<circle cx="305.9" cy="410.6" r="2.5" fill="#7e76b2"/>
<circle cx="314.8" cy="410.6" r="1.35" fill="#7e76b2"/>
<circle cx="323.7" cy="410.6" r="1.9" fill="#7e76b2"/>
<circle cx="332.6" cy="410.6" r="0.85" fill="#d6d6de"/>
<circle cx="341.5" cy="410.6" r="1.35" fill="#a6a2c2"/>
<circle cx="350.4" cy="410.6" r="0.85" fill="#d6d6de"/>
<circle cx="359.3" cy="410.6" r="1.35" fill="#7e76b2"/>
<circle cx="368.2" cy="410.6" r="1.35" fill="#7e76b2"/>
<circle cx="377.1" cy="410.6" r="1.35" fill="#7e76b2"/>
<circle cx="386.0" cy="410.6" r="1.9" fill="#7e76b2"/>
<circle cx="394.9" cy="410.6" r="1.9" fill="#7e76b2"/>
<circle cx="403.8" cy="410.6" r="2.5" fill="#4c3e9a"/>
<circle cx="412.7" cy="410.6" r="2.5" fill="#2a1c84"/>
<circle cx="421.6" cy="410.6" r="1.9" fill="#2a1c84"/>
<circle cx="430.5" cy="410.6" r="1.9" fill="#2a1c84"/>
<circle cx="439.4" cy="410.6" r="2.5" fill="#2a1c84"/>
<circle cx="448.3" cy="410.6" r="1.9" fill="#2a1c84"/>
<circle cx="457.2" cy="410.6" r="0.85" fill="#a6a2c2"/>
<circle cx="466.1" cy="410.6" r="0.85" fill="#d6d6de"/>
<circle cx="83.4" cy="420.4" r="0.85" fill="#a6a2c2"/>
<circle cx="92.3" cy="420.4" r="1.35" fill="#4c3e9a"/>
<circle cx="101.2" cy="420.4" r="1.35" fill="#a6a2c2"/>
<circle cx="110.1" cy="420.4" r="2.5" fill="#4c3e9a"/>
<circle cx="119.0" cy="420.4" r="2.5" fill="#7e76b2"/>
<circle cx="127.9" cy="420.4" r="2.5" fill="#7e76b2"/>
<circle cx="136.8" cy="420.4" r="1.9" fill="#7e76b2"/>
<circle cx="145.7" cy="420.4" r="1.35" fill="#a6a2c2"/>
<circle cx="154.6" cy="420.4" r="1.35" fill="#a6a2c2"/>
<circle cx="163.5" cy="420.4" r="1.35" fill="#4c3e9a"/>
<circle cx="172.4" cy="420.4" r="1.35" fill="#4c3e9a"/>
<circle cx="181.3" cy="420.4" r="0.85" fill="#d6d6de"/>
<circle cx="190.2" cy="420.4" r="2.5" fill="#7e76b2"/>
<circle cx="199.1" cy="420.4" r="0.85" fill="#7e76b2"/>
<circle cx="208.0" cy="420.4" r="0.85" fill="#d6d6de"/>
<circle cx="216.9" cy="420.4" r="0.85" fill="#d6d6de"/>
<circle cx="225.8" cy="420.4" r="1.35" fill="#a6a2c2"/>
<circle cx="234.7" cy="420.4" r="1.35" fill="#d6d6de"/>
<circle cx="243.6" cy="420.4" r="1.35" fill="#a6a2c2"/>
<circle cx="252.5" cy="420.4" r="0.85" fill="#a6a2c2"/>
<circle cx="261.4" cy="420.4" r="0.85" fill="#d6d6de"/>
<circle cx="270.3" cy="420.4" r="2.5" fill="#a6a2c2"/>
<circle cx="279.2" cy="420.4" r="1.35" fill="#a6a2c2"/>
<circle cx="288.1" cy="420.4" r="1.35" fill="#a6a2c2"/>
<circle cx="297.0" cy="420.4" r="0.85" fill="#d6d6de"/>
<circle cx="305.9" cy="420.4" r="1.35" fill="#a6a2c2"/>
<circle cx="314.8" cy="420.4" r="0.85" fill="#d6d6de"/>
<circle cx="323.7" cy="420.4" r="1.9" fill="#4c3e9a"/>
<circle cx="332.6" cy="420.4" r="1.35" fill="#a6a2c2"/>
<circle cx="341.5" cy="420.4" r="1.9" fill="#7e76b2"/>
<circle cx="350.4" cy="420.4" r="0.85" fill="#d6d6de"/>
<circle cx="359.3" cy="420.4" r="1.35" fill="#7e76b2"/>
<circle cx="368.2" cy="420.4" r="1.35" fill="#7e76b2"/>
<circle cx="377.1" cy="420.4" r="1.35" fill="#a6a2c2"/>
<circle cx="386.0" cy="420.4" r="2.5" fill="#4c3e9a"/>
<circle cx="394.9" cy="420.4" r="1.9" fill="#a6a2c2"/>
<circle cx="403.8" cy="420.4" r="1.9" fill="#a6a2c2"/>
<circle cx="412.7" cy="420.4" r="1.35" fill="#2a1c84"/>
<circle cx="421.6" cy="420.4" r="1.35" fill="#2a1c84"/>
<circle cx="430.5" cy="420.4" r="1.35" fill="#7e76b2"/>
<circle cx="439.4" cy="420.4" r="1.35" fill="#4c3e9a"/>
<circle cx="448.3" cy="420.4" r="1.35" fill="#2a1c84"/>
<circle cx="457.2" cy="420.4" r="2.5" fill="#2a1c84"/>
<circle cx="466.1" cy="420.4" r="2.5" fill="#2a1c84"/>
<circle cx="83.4" cy="430.3" r="1.9" fill="#7e76b2"/>
<circle cx="92.3" cy="430.3" r="1.35" fill="#a6a2c2"/>
<circle cx="101.2" cy="430.3" r="1.35" fill="#a6a2c2"/>
<circle cx="110.1" cy="430.3" r="1.35" fill="#a6a2c2"/>
<circle cx="119.0" cy="430.3" r="3.1" fill="#7e76b2"/>
<circle cx="127.9" cy="430.3" r="3.1" fill="#4c3e9a"/>
<circle cx="136.8" cy="430.3" r="3.1" fill="#4c3e9a"/>
<circle cx="145.7" cy="430.3" r="1.35" fill="#d6d6de"/>
<circle cx="154.6" cy="430.3" r="0.85" fill="#d6d6de"/>
<circle cx="163.5" cy="430.3" r="0.85" fill="#d6d6de"/>
<circle cx="172.4" cy="430.3" r="0.85" fill="#d6d6de"/>
<circle cx="181.3" cy="430.3" r="1.9" fill="#4c3e9a"/>
<circle cx="190.2" cy="430.3" r="1.35" fill="#a6a2c2"/>
<circle cx="199.1" cy="430.3" r="0.85" fill="#d6d6de"/>
<circle cx="208.0" cy="430.3" r="2.5" fill="#4c3e9a"/>
<circle cx="216.9" cy="430.3" r="1.9" fill="#7e76b2"/>
<circle cx="225.8" cy="430.3" r="1.35" fill="#a6a2c2"/>
<circle cx="234.7" cy="430.3" r="1.9" fill="#2a1c84"/>
<circle cx="243.6" cy="430.3" r="1.9" fill="#4c3e9a"/>
<circle cx="252.5" cy="430.3" r="1.35" fill="#a6a2c2"/>
<circle cx="261.4" cy="430.3" r="1.9" fill="#7e76b2"/>
<circle cx="270.3" cy="430.3" r="2.5" fill="#a6a2c2"/>
<circle cx="279.2" cy="430.3" r="2.5" fill="#2a1c84"/>
<circle cx="288.1" cy="430.3" r="0.85" fill="#d6d6de"/>
<circle cx="297.0" cy="430.3" r="0.85" fill="#d6d6de"/>
<circle cx="305.9" cy="430.3" r="2.5" fill="#7e76b2"/>
<circle cx="314.8" cy="430.3" r="1.9" fill="#4c3e9a"/>
<circle cx="323.7" cy="430.3" r="0.85" fill="#d6d6de"/>
<circle cx="332.6" cy="430.3" r="1.35" fill="#a6a2c2"/>
<circle cx="341.5" cy="430.3" r="0.85" fill="#d6d6de"/>
<circle cx="350.4" cy="430.3" r="0.85" fill="#d6d6de"/>
<circle cx="359.3" cy="430.3" r="0.85" fill="#d6d6de"/>
<circle cx="368.2" cy="430.3" r="0.85" fill="#a6a2c2"/>
<circle cx="377.1" cy="430.3" r="0.85" fill="#d6d6de"/>
<circle cx="386.0" cy="430.3" r="1.9" fill="#a6a2c2"/>
<circle cx="394.9" cy="430.3" r="2.5" fill="#7e76b2"/>
<circle cx="403.8" cy="430.3" r="2.5" fill="#a6a2c2"/>
<circle cx="412.7" cy="430.3" r="0.85" fill="#d6d6de"/>
<circle cx="421.6" cy="430.3" r="0.85" fill="#d6d6de"/>
<circle cx="430.5" cy="430.3" r="0.85" fill="#d6d6de"/>
<circle cx="439.4" cy="430.3" r="1.35" fill="#7e76b2"/>
<circle cx="448.3" cy="430.3" r="0.85" fill="#d6d6de"/>
<circle cx="457.2" cy="430.3" r="0.85" fill="#a6a2c2"/>
<circle cx="466.1" cy="430.3" r="0.85" fill="#d6d6de"/>
</g>
<path d="M78.2,306.4 L78.2,437.6 L471.5,437.6" fill="none" stroke="#111" stroke-width="0.8"/>
<path d="M75.4,312.3h2.8M75.4,322.1h2.8M75.4,332.0h2.8M75.4,341.8h2.8M75.4,351.6h2.8M75.4,361.4h2.8M75.4,371.3h2.8M75.4,381.1h2.8M75.4,390.9h2.8M75.4,400.8h2.8M75.4,410.6h2.8M75.4,420.4h2.8M75.4,430.3h2.8M83.4,437.6v2.6M92.3,437.6v2.6M101.2,437.6v2.6M110.1,437.6v2.6M119.0,437.6v2.6M127.9,437.6v2.6M136.8,437.6v2.6M145.7,437.6v2.6M154.6,437.6v2.6M163.5,437.6v2.6M172.4,437.6v2.6M181.3,437.6v2.6M190.2,437.6v2.6M199.1,437.6v2.6M208.0,437.6v2.6M216.9,437.6v2.6M225.8,437.6v2.6M234.7,437.6v2.6M243.6,437.6v2.6M252.5,437.6v2.6M261.4,437.6v2.6M270.3,437.6v2.6M279.2,437.6v2.6M288.1,437.6v2.6M297.0,437.6v2.6M305.9,437.6v2.6M314.8,437.6v2.6M323.7,437.6v2.6M332.6,437.6v2.6M341.5,437.6v2.6M350.4,437.6v2.6M359.3,437.6v2.6M368.2,437.6v2.6M377.1,437.6v2.6M386.0,437.6v2.6M394.9,437.6v2.6M403.8,437.6v2.6M412.7,437.6v2.6M421.6,437.6v2.6M430.5,437.6v2.6M439.4,437.6v2.6M448.3,437.6v2.6M457.2,437.6v2.6M466.1,437.6v2.6" stroke="#111" stroke-width="0.7"/>
<text x="0" y="0" transform="translate(72.60 314.50) scale(1 1.12)" font-size="6.2" text-anchor="end" font-weight="bold" fill="#111" stroke="#111" stroke-width="0.05">Activated Tregs</text>
<text x="0" y="0" transform="translate(72.60 324.33) scale(1 1.12)" font-size="6.2" text-anchor="end" font-weight="bold" fill="#111" stroke="#111" stroke-width="0.05">Resting Tregs</text>
<text x="0" y="0" transform="translate(72.60 334.16) scale(1 1.12)" font-size="6.2" font-weight="bold" text-anchor="end" fill="#111" stroke="#111" stroke-width="0.05">LAG3<tspan font-size="4.6" dy="-2.5">+</tspan><tspan dy="2.5"> Tregs</tspan></text>
<text x="0" y="0" transform="translate(72.60 343.99) scale(1 1.12)" font-size="6.2" text-anchor="end" fill="#333" stroke="#333" stroke-width="0.05">Naive T cells</text>
<text x="0" y="0" transform="translate(72.60 353.82) scale(1 1.12)" font-size="6.2" text-anchor="end" fill="#333" stroke="#333" stroke-width="0.05">Memory T cells 1</text>
<text x="0" y="0" transform="translate(72.60 363.65) scale(1 1.12)" font-size="6.2" text-anchor="end" fill="#333" stroke="#333" stroke-width="0.05">Memory T cells 2</text>
<text x="0" y="0" transform="translate(72.60 373.48) scale(1 1.12)" font-size="6.2" text-anchor="end" fill="#333" stroke="#333" stroke-width="0.05">Memory T cells 3</text>
<text x="0" y="0" transform="translate(72.60 383.31) scale(1 1.12)" font-size="6.2" text-anchor="end" fill="#333" stroke="#333" stroke-width="0.05">Tfh 1</text>
<text x="0" y="0" transform="translate(72.60 393.14) scale(1 1.12)" font-size="6.2" text-anchor="end" fill="#333" stroke="#333" stroke-width="0.05">Tfh 2</text>
<text x="0" y="0" transform="translate(72.60 402.97) scale(1 1.12)" font-size="6.2" text-anchor="end" fill="#333" stroke="#333" stroke-width="0.05">T helper cells</text>
<text x="0" y="0" transform="translate(72.60 412.80) scale(1 1.12)" font-size="6.2" text-anchor="end" fill="#333" stroke="#333" stroke-width="0.05">Cytotoxic T cells</text>
<text x="0" y="0" transform="translate(72.60 422.63) scale(1 1.12)" font-size="6.2" text-anchor="end" fill="#333" stroke="#333" stroke-width="0.05">Proliferating</text>
<text x="0" y="0" transform="translate(72.60 432.46) scale(1 1.12)" font-size="6.2" text-anchor="end" fill="#333" stroke="#333" stroke-width="0.05">Other</text>
<text x="0" y="0" transform="translate(85.60 443.00) rotate(-85) scale(1 1.12)" font-size="6.2" text-anchor="end" font-style="italic" fill="#333" stroke="#333" stroke-width="0.05">FOXP3</text>
<text x="0" y="0" transform="translate(94.50 443.00) rotate(-85) scale(1 1.12)" font-size="6.2" text-anchor="end" font-style="italic" fill="#333" stroke="#333" stroke-width="0.05">TNFRSF18</text>
<text x="0" y="0" transform="translate(103.40 443.00) rotate(-85) scale(1 1.12)" font-size="6.2" text-anchor="end" font-style="italic" fill="#333" stroke="#333" stroke-width="0.05">IL2RA</text>
<text x="0" y="0" transform="translate(112.30 443.00) rotate(-85) scale(1 1.12)" font-size="6.2" text-anchor="end" font-style="italic" fill="#333" stroke="#333" stroke-width="0.05">MIR4435-2HG</text>
<text x="0" y="0" transform="translate(121.20 443.00) rotate(-85) scale(1 1.12)" font-size="6.2" text-anchor="end" font-style="italic" fill="#333" stroke="#333" stroke-width="0.05">IL32</text>
<text x="0" y="0" transform="translate(130.10 443.00) rotate(-85) scale(1 1.12)" font-size="6.2" text-anchor="end" font-style="italic" fill="#333" stroke="#333" stroke-width="0.05">S100A4</text>
<text x="0" y="0" transform="translate(139.00 443.00) rotate(-85) scale(1 1.12)" font-size="6.2" text-anchor="end" font-style="italic" fill="#333" stroke="#333" stroke-width="0.05">S100A6</text>
<text x="0" y="0" transform="translate(147.90 443.00) rotate(-85) scale(1 1.12)" font-size="6.2" text-anchor="end" font-style="italic" fill="#333" stroke="#333" stroke-width="0.05">HSPA1A</text>
<text x="0" y="0" transform="translate(156.80 443.00) rotate(-85) scale(1 1.12)" font-size="6.2" text-anchor="end" font-style="italic" fill="#333" stroke="#333" stroke-width="0.05">HSPA1B</text>
<text x="0" y="0" transform="translate(165.70 443.00) rotate(-85) scale(1 1.12)" font-size="6.2" text-anchor="end" font-style="italic" fill="#333" stroke="#333" stroke-width="0.05">LAG3</text>
<text x="0" y="0" transform="translate(174.60 443.00) rotate(-85) scale(1 1.12)" font-size="6.2" text-anchor="end" font-style="italic" fill="#333" stroke="#333" stroke-width="0.05">LGMN</text>
<text x="0" y="0" transform="translate(183.50 443.00) rotate(-85) scale(1 1.12)" font-size="6.2" text-anchor="end" font-style="italic" fill="#333" stroke="#333" stroke-width="0.05">KLRB1</text>
<text x="0" y="0" transform="translate(192.40 443.00) rotate(-85) scale(1 1.12)" font-size="6.2" text-anchor="end" font-style="italic" fill="#333" stroke="#333" stroke-width="0.05">CTLA4</text>
<text x="0" y="0" transform="translate(201.30 443.00) rotate(-85) scale(1 1.12)" font-size="6.2" text-anchor="end" font-style="italic" fill="#333" stroke="#333" stroke-width="0.05">IL10</text>
<text x="0" y="0" transform="translate(210.20 443.00) rotate(-85) scale(1 1.12)" font-size="6.2" text-anchor="end" font-style="italic" fill="#333" stroke="#333" stroke-width="0.05">KLF2</text>
<text x="0" y="0" transform="translate(219.10 443.00) rotate(-85) scale(1 1.12)" font-size="6.2" text-anchor="end" font-style="italic" fill="#333" stroke="#333" stroke-width="0.05">CCR7</text>
<text x="0" y="0" transform="translate(228.00 443.00) rotate(-85) scale(1 1.12)" font-size="6.2" text-anchor="end" font-style="italic" fill="#333" stroke="#333" stroke-width="0.05">NOSIP</text>
<text x="0" y="0" transform="translate(236.90 443.00) rotate(-85) scale(1 1.12)" font-size="6.2" text-anchor="end" font-style="italic" fill="#333" stroke="#333" stroke-width="0.05">CD55</text>
<text x="0" y="0" transform="translate(245.80 443.00) rotate(-85) scale(1 1.12)" font-size="6.2" text-anchor="end" font-style="italic" fill="#333" stroke="#333" stroke-width="0.05">LEF1</text>
<text x="0" y="0" transform="translate(254.70 443.00) rotate(-85) scale(1 1.12)" font-size="6.2" text-anchor="end" font-style="italic" fill="#333" stroke="#333" stroke-width="0.05">ANXA1</text>
<text x="0" y="0" transform="translate(263.60 443.00) rotate(-85) scale(1 1.12)" font-size="6.2" text-anchor="end" font-style="italic" fill="#333" stroke="#333" stroke-width="0.05">IL7R</text>
<text x="0" y="0" transform="translate(272.50 443.00) rotate(-85) scale(1 1.12)" font-size="6.2" text-anchor="end" font-style="italic" fill="#333" stroke="#333" stroke-width="0.05">CD69</text>
<text x="0" y="0" transform="translate(281.40 443.00) rotate(-85) scale(1 1.12)" font-size="6.2" text-anchor="end" font-style="italic" fill="#333" stroke="#333" stroke-width="0.05">SELL</text>
<text x="0" y="0" transform="translate(290.30 443.00) rotate(-85) scale(1 1.12)" font-size="6.2" text-anchor="end" font-style="italic" fill="#333" stroke="#333" stroke-width="0.05">NR4A1</text>
<text x="0" y="0" transform="translate(299.20 443.00) rotate(-85) scale(1 1.12)" font-size="6.2" text-anchor="end" font-style="italic" fill="#333" stroke="#333" stroke-width="0.05">EGR1</text>
<text x="0" y="0" transform="translate(308.10 443.00) rotate(-85) scale(1 1.12)" font-size="6.2" text-anchor="end" font-style="italic" fill="#333" stroke="#333" stroke-width="0.05">FOSB</text>
<text x="0" y="0" transform="translate(317.00 443.00) rotate(-85) scale(1 1.12)" font-size="6.2" text-anchor="end" font-style="italic" fill="#333" stroke="#333" stroke-width="0.05">MYADM</text>
<text x="0" y="0" transform="translate(325.90 443.00) rotate(-85) scale(1 1.12)" font-size="6.2" text-anchor="end" font-style="italic" fill="#333" stroke="#333" stroke-width="0.05">PDCD1</text>
<text x="0" y="0" transform="translate(334.80 443.00) rotate(-85) scale(1 1.12)" font-size="6.2" text-anchor="end" font-style="italic" fill="#333" stroke="#333" stroke-width="0.05">CXCR5</text>
<text x="0" y="0" transform="translate(343.70 443.00) rotate(-85) scale(1 1.12)" font-size="6.2" text-anchor="end" font-style="italic" fill="#333" stroke="#333" stroke-width="0.05">TOX2</text>
<text x="0" y="0" transform="translate(352.60 443.00) rotate(-85) scale(1 1.12)" font-size="6.2" text-anchor="end" font-style="italic" fill="#333" stroke="#333" stroke-width="0.05">CH25H</text>
<text x="0" y="0" transform="translate(361.50 443.00) rotate(-85) scale(1 1.12)" font-size="6.2" text-anchor="end" font-style="italic" fill="#333" stroke="#333" stroke-width="0.05">CXCL13</text>
<text x="0" y="0" transform="translate(370.40 443.00) rotate(-85) scale(1 1.12)" font-size="6.2" text-anchor="end" font-style="italic" fill="#333" stroke="#333" stroke-width="0.05">TOX</text>
<text x="0" y="0" transform="translate(379.30 443.00) rotate(-85) scale(1 1.12)" font-size="6.2" text-anchor="end" font-style="italic" fill="#333" stroke="#333" stroke-width="0.05">TNF</text>
<text x="0" y="0" transform="translate(388.20 443.00) rotate(-85) scale(1 1.12)" font-size="6.2" text-anchor="end" font-style="italic" fill="#333" stroke="#333" stroke-width="0.05">ITM2A</text>
<text x="0" y="0" transform="translate(397.10 443.00) rotate(-85) scale(1 1.12)" font-size="6.2" text-anchor="end" font-style="italic" fill="#333" stroke="#333" stroke-width="0.05">CXCR4</text>
<text x="0" y="0" transform="translate(406.00 443.00) rotate(-85) scale(1 1.12)" font-size="6.2" text-anchor="end" font-style="italic" fill="#333" stroke="#333" stroke-width="0.05">KLF6</text>
<text x="0" y="0" transform="translate(414.90 443.00) rotate(-85) scale(1 1.12)" font-size="6.2" text-anchor="end" font-style="italic" fill="#333" stroke="#333" stroke-width="0.05">GZMK</text>
<text x="0" y="0" transform="translate(423.80 443.00) rotate(-85) scale(1 1.12)" font-size="6.2" text-anchor="end" font-style="italic" fill="#333" stroke="#333" stroke-width="0.05">NKG7</text>
<text x="0" y="0" transform="translate(432.70 443.00) rotate(-85) scale(1 1.12)" font-size="6.2" text-anchor="end" font-style="italic" fill="#333" stroke="#333" stroke-width="0.05">CCL5</text>
<text x="0" y="0" transform="translate(441.60 443.00) rotate(-85) scale(1 1.12)" font-size="6.2" text-anchor="end" font-style="italic" fill="#333" stroke="#333" stroke-width="0.05">CST7</text>
<text x="0" y="0" transform="translate(450.50 443.00) rotate(-85) scale(1 1.12)" font-size="6.2" text-anchor="end" font-style="italic" fill="#333" stroke="#333" stroke-width="0.05">GZMA</text>
<text x="0" y="0" transform="translate(459.40 443.00) rotate(-85) scale(1 1.12)" font-size="6.2" text-anchor="end" font-style="italic" fill="#333" stroke="#333" stroke-width="0.05">STMN1</text>
<text x="0" y="0" transform="translate(468.30 443.00) rotate(-85) scale(1 1.12)" font-size="6.2" text-anchor="end" font-style="italic" fill="#333" stroke="#333" stroke-width="0.05">MKI67</text>
<text x="0" y="0" transform="translate(492.90 319.20) scale(1 1.12)" font-size="6.2" text-anchor="middle" fill="#222" stroke="#222" stroke-width="0.05">Percent</text>
<text x="0" y="0" transform="translate(492.90 327.20) scale(1 1.12)" font-size="6.2" text-anchor="middle" fill="#222" stroke="#222" stroke-width="0.05">expressed</text>
<circle cx="487.9" cy="331.9" r="0.5" fill="#111"/>
<text x="0" y="0" transform="translate(493.30 334.10) scale(1 1.12)" font-size="6.2" text-anchor="start" fill="#222" stroke="#222" stroke-width="0.05">0</text>
<circle cx="487.9" cy="338.3" r="1.2" fill="#111"/>
<text x="0" y="0" transform="translate(493.30 340.50) scale(1 1.12)" font-size="6.2" text-anchor="start" fill="#222" stroke="#222" stroke-width="0.05">25</text>
<circle cx="487.9" cy="344.5" r="2.0" fill="#111"/>
<text x="0" y="0" transform="translate(493.30 346.70) scale(1 1.12)" font-size="6.2" text-anchor="start" fill="#222" stroke="#222" stroke-width="0.05">50</text>
<circle cx="487.9" cy="350.9" r="2.8" fill="#111"/>
<text x="0" y="0" transform="translate(493.30 353.10) scale(1 1.12)" font-size="6.2" text-anchor="start" fill="#222" stroke="#222" stroke-width="0.05">75</text>
<text x="0" y="0" transform="translate(493.00 371.10) scale(1 1.12)" font-size="6.2" text-anchor="middle" fill="#222" stroke="#222" stroke-width="0.05">Average gene</text>
<text x="0" y="0" transform="translate(493.00 378.40) scale(1 1.12)" font-size="6.2" text-anchor="middle" fill="#222" stroke="#222" stroke-width="0.05">expression</text>
<rect x="486.3" y="382.8" width="5.6" height="30" fill="url(#gpur)"/>
<text x="0" y="0" transform="translate(494.00 388.40) scale(1 1.12)" font-size="6.2" text-anchor="start" fill="#222" stroke="#222" stroke-width="0.05">2</text>
<text x="0" y="0" transform="translate(494.00 396.00) scale(1 1.12)" font-size="6.2" text-anchor="start" fill="#222" stroke="#222" stroke-width="0.05">1</text>
<text x="0" y="0" transform="translate(494.00 404.00) scale(1 1.12)" font-size="6.2" text-anchor="start" fill="#222" stroke="#222" stroke-width="0.05">0</text>
<text x="0" y="0" transform="translate(493.20 411.60) scale(1 1.12)" font-size="6.2" text-anchor="start" fill="#222" stroke="#222" stroke-width="0.05">−1</text>
<text x="0" y="0" transform="translate(6.80 507.60) scale(1 1.0)" font-size="11.5" text-anchor="start" font-weight="bold" fill="#111">E</text>
<g filter="url(#tex3)" opacity="0.95">
<g transform="translate(32.70,513.20) scale(0.3578,0.3211) translate(-39.0,-102.6)">
<path d="M38.5,168.0C38.8,164.2 39.8,159.2 41.0,156.0C42.2,152.8 44.0,150.8 46.0,149.0C48.0,147.2 50.7,146.4 53.0,145.5C55.3,144.6 57.8,144.1 60.0,143.8C62.2,143.6 64.3,144.7 66.0,144.0C67.7,143.3 68.5,140.9 70.0,139.5C71.5,138.1 72.7,136.3 75.0,135.3C77.3,134.3 80.8,133.7 84.0,133.3C87.2,132.9 91.0,132.9 94.0,133.0C97.0,133.1 99.7,133.5 102.0,134.0C104.3,134.5 105.7,136.4 108.0,136.0C110.3,135.6 113.6,133.6 116.0,131.5C118.4,129.4 120.5,126.1 122.6,123.5C124.7,120.9 125.9,118.3 128.6,115.8C131.2,113.2 134.6,110.5 138.5,108.2C142.4,106.0 147.7,103.1 151.9,102.3C156.1,101.5 160.1,102.3 163.5,103.3C166.9,104.3 170.6,106.0 172.4,108.2C174.2,110.4 174.5,113.3 174.4,116.2C174.3,119.1 172.6,122.6 171.6,125.8C170.6,129.0 169.3,132.6 168.7,135.4C168.0,138.2 169.5,141.1 167.7,142.4C165.9,143.8 161.3,142.8 157.7,143.5C154.1,144.2 149.4,146.7 146.2,146.4C143.0,146.1 141.2,142.6 138.5,141.6C135.8,140.6 132.2,139.4 130.0,140.5C127.8,141.6 125.7,145.6 125.0,148.0C124.3,150.4 124.7,153.7 126.0,155.0C127.3,156.3 129.3,154.9 132.7,155.8C136.1,156.7 142.0,158.7 146.2,160.6C150.4,162.5 154.2,165.0 157.7,167.4C161.2,169.8 164.4,172.7 167.3,175.1C170.2,177.5 173.5,179.2 175.0,182.0C176.5,184.8 176.1,188.5 176.2,192.0C176.3,195.5 175.7,199.3 175.6,203.0C175.5,206.7 175.8,210.0 175.8,214.0C175.8,218.0 176.0,223.3 175.5,227.0C175.0,230.7 174.6,232.7 173.0,236.0C171.4,239.3 167.4,243.7 166.0,247.0C164.6,250.3 165.0,253.2 164.6,256.0C164.2,258.8 164.5,261.2 163.8,264.0C163.1,266.8 162.5,271.1 160.2,273.0C157.9,274.9 152.7,275.1 150.0,275.7C147.3,276.3 147.0,276.9 144.2,276.7C141.4,276.5 136.6,275.6 133.0,274.7C129.4,273.8 125.2,273.1 122.6,271.1C120.0,269.1 119.6,264.8 117.6,262.9C115.6,261.0 114.5,260.7 110.8,259.5C107.1,258.3 100.2,257.0 95.4,255.7C90.6,254.4 85.3,253.6 82.0,251.9C78.7,250.2 76.0,247.7 75.6,245.6C75.2,243.5 78.1,242.2 79.4,239.6C80.7,237.0 82.2,232.9 83.2,230.0C84.2,227.1 84.7,224.2 85.2,222.3C85.7,220.4 86.2,219.3 86.0,218.5C85.8,217.7 86.7,217.2 83.8,217.2C80.9,217.1 72.7,218.8 68.5,218.2C64.3,217.6 61.0,215.6 58.5,213.4C56.0,211.2 54.6,207.7 53.3,205.0C52.0,202.3 51.2,198.5 50.5,197.0C49.8,195.5 50.5,197.7 49.3,196.2C48.1,194.7 45.0,191.1 43.3,188.2C41.6,185.3 40.1,182.4 39.3,179.0C38.5,175.6 38.2,171.8 38.5,168.0Z" fill="#cdcdd4"/>
<path d="M108.0,136.0C108.8,134.2 114.2,131.8 117.0,132.0C119.8,132.2 123.0,134.3 125.0,137.0C127.0,139.7 128.7,143.3 129.0,148.0C129.3,152.7 127.7,159.7 127.0,165.0C126.3,170.3 126.2,176.2 125.0,180.0C123.8,183.8 122.0,187.0 120.0,188.0C118.0,189.0 113.8,189.0 113.0,186.0C112.2,183.0 114.3,175.2 115.0,170.0C115.7,164.8 117.5,159.5 117.0,155.0C116.5,150.5 113.5,146.2 112.0,143.0C110.5,139.8 107.2,137.8 108.0,136.0Z" fill="#b8b4d0" stroke="#b8b4d0" stroke-width="7" stroke-linejoin="round"/>
<path d="M105.0,168.0C106.3,164.3 111.7,164.3 114.0,166.0C116.3,167.7 118.5,173.7 119.0,178.0C119.5,182.3 118.2,189.0 117.0,192.0C115.8,195.0 113.8,196.7 112.0,196.0C110.2,195.3 107.2,192.7 106.0,188.0C104.8,183.3 103.7,171.7 105.0,168.0Z" fill="#b8b4d0" stroke="#b8b4d0" stroke-width="7" stroke-linejoin="round"/>
<path d="M80.0,146.0C82.5,144.7 86.7,144.3 90.0,144.0C93.3,143.7 96.7,143.7 100.0,144.0C103.3,144.3 107.2,144.7 110.0,146.0C112.8,147.3 115.6,148.8 117.0,152.0C118.4,155.2 118.5,160.7 118.5,165.0C118.5,169.3 118.1,174.5 117.0,178.0C115.9,181.5 114.8,184.2 112.0,186.0C109.2,187.8 104.0,188.2 100.0,189.0C96.0,189.8 91.7,190.8 88.0,191.0C84.3,191.2 80.7,191.5 78.0,190.0C75.3,188.5 73.0,186.2 72.0,182.0C71.0,177.8 71.5,170.0 72.0,165.0C72.5,160.0 73.7,155.2 75.0,152.0C76.3,148.8 77.5,147.3 80.0,146.0Z" fill="#c6c4d6" stroke="#c6c4d6" stroke-width="7" stroke-linejoin="round"/>
<path d="M70.0,140.0C70.8,138.1 72.7,136.6 75.0,135.5C77.3,134.4 80.8,133.9 84.0,133.5C87.2,133.1 91.0,133.2 94.0,133.3C97.0,133.4 99.9,133.5 102.0,134.3C104.1,135.1 106.0,136.4 106.5,138.0C107.0,139.6 106.4,142.4 105.0,144.0C103.6,145.6 100.5,146.8 98.0,147.5C95.5,148.2 92.7,148.1 90.0,148.5C87.3,148.9 84.5,149.6 82.0,150.0C79.5,150.4 77.0,151.5 75.0,151.0C73.0,150.5 70.8,148.8 70.0,147.0C69.2,145.2 69.2,141.9 70.0,140.0Z" fill="#b4aed0" stroke="#b4aed0" stroke-width="7" stroke-linejoin="round"/>
<path d="M66.0,148.0C67.4,144.8 71.3,145.8 74.0,146.0C76.7,146.2 80.2,147.0 82.0,149.0C83.8,151.0 84.7,154.5 85.0,158.0C85.3,161.5 84.7,166.0 84.0,170.0C83.3,174.0 82.7,179.2 81.0,182.0C79.3,184.8 76.3,187.2 74.0,187.0C71.7,186.8 68.4,184.7 67.0,181.0C65.6,177.3 65.7,170.5 65.5,165.0C65.3,159.5 64.6,151.2 66.0,148.0Z" fill="#cdcdd4" stroke="#cdcdd4" stroke-width="7" stroke-linejoin="round"/>
<path d="M38.5,168.0C38.7,164.5 39.3,161.0 40.5,158.0C41.7,155.0 43.5,152.0 45.5,150.0C47.5,148.0 50.1,147.0 52.5,146.0C54.9,145.0 57.8,144.1 60.0,144.0C62.2,143.9 64.0,144.2 65.5,145.5C67.0,146.8 68.3,148.8 69.0,152.0C69.7,155.2 69.5,160.3 69.5,165.0C69.5,169.7 69.2,175.3 69.0,180.0C68.8,184.7 69.2,190.1 68.0,193.0C66.8,195.9 64.2,196.5 62.0,197.5C59.8,198.5 57.1,199.2 55.0,199.0C52.9,198.8 51.4,197.8 49.5,196.0C47.6,194.2 45.2,190.8 43.5,188.0C41.8,185.2 40.3,182.3 39.5,179.0C38.7,175.7 38.3,171.5 38.5,168.0Z" fill="#cdcdd4" stroke="#cdcdd4" stroke-width="7" stroke-linejoin="round"/>
<path d="M51.0,196.0C51.8,193.9 55.1,193.4 58.0,192.5C60.9,191.6 64.8,191.0 68.5,190.5C72.2,190.0 76.4,189.8 80.0,189.5C83.6,189.2 86.2,189.4 90.0,189.0C93.8,188.6 99.3,187.4 103.0,187.0C106.7,186.6 109.7,185.8 112.0,186.5C114.3,187.2 116.2,188.8 117.0,191.0C117.8,193.2 117.7,197.2 117.0,200.0C116.3,202.8 116.3,205.5 113.0,207.5C109.7,209.5 102.2,210.6 97.3,212.2C92.4,213.8 88.6,216.0 83.8,217.0C79.0,218.0 72.7,218.6 68.5,218.0C64.3,217.4 61.0,215.4 58.5,213.2C56.0,211.0 54.8,207.9 53.5,205.0C52.2,202.1 50.2,198.1 51.0,196.0Z" fill="#cdcdd4" stroke="#cdcdd4" stroke-width="7" stroke-linejoin="round"/>
<path d="M88.0,218.0C90.0,216.9 93.5,216.1 97.3,216.0C101.1,215.9 107.5,216.5 110.8,217.5C114.1,218.5 115.6,219.6 117.0,222.0C118.4,224.4 118.3,228.5 119.0,232.0C119.7,235.5 120.3,239.5 121.0,243.0C121.7,246.5 123.3,249.9 123.0,253.0C122.7,256.1 121.0,260.2 119.0,261.3C117.0,262.4 114.7,260.3 110.8,259.3C106.9,258.3 100.2,256.8 95.4,255.5C90.6,254.2 85.3,253.3 82.0,251.7C78.7,250.0 76.2,247.6 75.8,245.6C75.4,243.6 78.3,242.2 79.6,239.6C80.9,237.0 82.4,232.9 83.4,230.0C84.4,227.1 84.6,224.3 85.4,222.3C86.2,220.3 86.0,219.1 88.0,218.0Z" fill="#cdcdd4" stroke="#cdcdd4" stroke-width="7" stroke-linejoin="round"/>
<path d="M116.0,223.0C117.8,220.3 124.0,224.0 128.0,225.0C132.0,226.0 136.0,227.2 140.0,229.0C144.0,230.8 148.0,233.3 152.0,236.0C156.0,238.7 161.8,242.7 164.0,245.0C166.2,247.3 165.3,248.7 165.0,250.0C164.7,251.3 165.0,252.5 162.0,253.0C159.0,253.5 151.8,253.3 147.0,253.0C142.2,252.7 137.2,251.9 133.0,251.0C128.8,250.1 124.7,249.2 122.0,247.5C119.3,245.8 118.0,245.1 117.0,241.0C116.0,236.9 114.2,225.7 116.0,223.0Z" fill="#cdcdd4" stroke="#cdcdd4" stroke-width="7" stroke-linejoin="round"/>
<path d="M119.0,252.6C121.9,250.8 129.8,251.6 135.0,251.6C140.2,251.6 145.2,252.1 150.0,252.6C154.8,253.1 161.7,252.7 164.0,254.6C166.3,256.5 164.3,261.0 163.6,264.0C162.9,267.0 162.3,270.9 160.0,272.8C157.7,274.7 152.6,274.9 150.0,275.5C147.4,276.1 147.0,276.7 144.2,276.5C141.4,276.3 136.6,275.4 133.0,274.5C129.4,273.6 125.1,272.9 122.6,270.9C120.1,268.9 118.4,265.8 117.8,262.7C117.2,259.6 116.1,254.4 119.0,252.6Z" fill="#cdcdd4" stroke="#cdcdd4" stroke-width="7" stroke-linejoin="round"/>
<path d="M128.0,213.0C129.7,211.4 136.0,211.8 140.0,211.5C144.0,211.2 148.2,211.2 152.0,211.0C155.8,210.8 159.5,210.2 163.0,210.0C166.5,209.8 170.9,208.7 173.0,210.0C175.1,211.3 175.2,215.2 175.5,218.0C175.8,220.8 175.4,224.0 175.0,227.0C174.6,230.0 174.7,234.8 173.0,236.0C171.3,237.2 167.7,235.0 165.0,234.0C162.3,233.0 159.8,231.0 157.0,230.0C154.2,229.0 151.2,228.7 148.0,228.0C144.8,227.3 141.0,227.2 138.0,226.0C135.0,224.8 131.7,223.2 130.0,221.0C128.3,218.8 126.3,214.6 128.0,213.0Z" fill="#9890c0" stroke="#9890c0" stroke-width="7" stroke-linejoin="round"/>
<path d="M113.0,180.0C114.7,178.0 118.8,176.7 122.0,176.0C125.2,175.3 129.0,175.3 132.0,176.0C135.0,176.7 137.5,177.7 140.0,180.0C142.5,182.3 145.0,187.2 147.0,190.0C149.0,192.8 150.0,194.7 152.0,197.0C154.0,199.3 157.8,201.7 159.0,204.0C160.2,206.3 160.5,209.6 159.0,211.0C157.5,212.4 153.5,212.3 150.0,212.5C146.5,212.7 142.0,212.6 138.0,212.0C134.0,211.4 129.3,210.3 126.0,209.0C122.7,207.7 120.2,206.2 118.0,204.0C115.8,201.8 114.0,198.7 113.0,196.0C112.0,193.3 112.0,190.7 112.0,188.0C112.0,185.3 111.3,182.0 113.0,180.0Z" fill="#5a4ca8" stroke="#5a4ca8" stroke-width="7" stroke-linejoin="round"/>
<path d="M121.0,156.0C123.2,155.2 128.5,155.2 132.7,156.0C136.9,156.8 142.0,158.9 146.2,160.8C150.4,162.7 154.2,165.2 157.7,167.6C161.2,170.0 164.4,172.9 167.3,175.3C170.2,177.7 173.6,179.2 175.0,182.0C176.4,184.8 176.0,188.5 176.0,192.0C176.0,195.5 175.7,200.0 175.0,203.0C174.3,206.0 173.7,209.2 172.0,210.0C170.3,210.8 167.1,208.7 165.0,207.5C162.9,206.3 161.4,204.9 159.2,203.0C157.0,201.1 154.0,198.0 152.0,196.0C150.0,194.0 148.7,193.4 147.0,190.8C145.3,188.2 143.9,183.2 141.9,180.4C139.9,177.6 137.3,175.7 135.0,174.0C132.7,172.3 130.2,171.3 128.0,170.0C125.8,168.7 123.4,167.5 122.0,166.0C120.6,164.5 119.7,162.7 119.5,161.0C119.3,159.3 118.8,156.8 121.0,156.0Z" fill="#5546a6" stroke="#5546a6" stroke-width="7" stroke-linejoin="round"/>
<path d="M117.8,132.5C118.1,130.3 120.8,126.3 122.6,123.5C124.4,120.7 125.9,118.3 128.6,115.8C131.2,113.2 134.6,110.5 138.5,108.2C142.4,106.0 147.7,103.1 151.9,102.3C156.1,101.5 160.1,102.3 163.5,103.3C166.9,104.3 170.6,106.0 172.4,108.2C174.2,110.4 174.5,113.3 174.4,116.2C174.3,119.1 172.6,122.6 171.6,125.8C170.6,129.0 169.3,132.6 168.7,135.4C168.0,138.2 169.5,141.1 167.7,142.4C165.9,143.8 161.3,142.8 157.7,143.5C154.1,144.2 149.4,146.7 146.2,146.4C143.0,146.1 141.4,142.9 138.5,141.6C135.6,140.3 131.7,139.5 128.8,138.7C125.9,137.9 122.8,137.7 121.0,136.7C119.2,135.7 117.5,134.7 117.8,132.5Z" fill="#c4c0d4" stroke="#c4c0d4" stroke-width="7" stroke-linejoin="round"/>
</g></g>
<g transform="translate(32.70,513.20) scale(0.3578,0.3211) translate(-39.0,-102.6)">
<g fill="none" stroke="#8a80c0" stroke-width="2.34" stroke-linecap="round" stroke-linejoin="round" opacity="0.85">
<path d="M206.5,170.2 C210,168.5 213.5,171 213,175 C212.5,179 208.5,180 206.5,177.8 C204.5,175.5 204.5,172 206.5,170.2 Z"/>
<path d="M205.8,177 L199,188 M204.8,171 L201,167"/>
</g></g>
<text x="0" y="0" transform="translate(53.80 507.90) scale(1 1.12)" font-size="6.2" text-anchor="middle" font-style="italic" fill="#333" stroke="#333" stroke-width="0.05">FOXP3</text>
<g filter="url(#tex3)" opacity="0.95">
<g transform="translate(99.40,512.40) scale(0.3644,0.3234) translate(-39.0,-102.6)">
<path d="M38.5,168.0C38.8,164.2 39.8,159.2 41.0,156.0C42.2,152.8 44.0,150.8 46.0,149.0C48.0,147.2 50.7,146.4 53.0,145.5C55.3,144.6 57.8,144.1 60.0,143.8C62.2,143.6 64.3,144.7 66.0,144.0C67.7,143.3 68.5,140.9 70.0,139.5C71.5,138.1 72.7,136.3 75.0,135.3C77.3,134.3 80.8,133.7 84.0,133.3C87.2,132.9 91.0,132.9 94.0,133.0C97.0,133.1 99.7,133.5 102.0,134.0C104.3,134.5 105.7,136.4 108.0,136.0C110.3,135.6 113.6,133.6 116.0,131.5C118.4,129.4 120.5,126.1 122.6,123.5C124.7,120.9 125.9,118.3 128.6,115.8C131.2,113.2 134.6,110.5 138.5,108.2C142.4,106.0 147.7,103.1 151.9,102.3C156.1,101.5 160.1,102.3 163.5,103.3C166.9,104.3 170.6,106.0 172.4,108.2C174.2,110.4 174.5,113.3 174.4,116.2C174.3,119.1 172.6,122.6 171.6,125.8C170.6,129.0 169.3,132.6 168.7,135.4C168.0,138.2 169.5,141.1 167.7,142.4C165.9,143.8 161.3,142.8 157.7,143.5C154.1,144.2 149.4,146.7 146.2,146.4C143.0,146.1 141.2,142.6 138.5,141.6C135.8,140.6 132.2,139.4 130.0,140.5C127.8,141.6 125.7,145.6 125.0,148.0C124.3,150.4 124.7,153.7 126.0,155.0C127.3,156.3 129.3,154.9 132.7,155.8C136.1,156.7 142.0,158.7 146.2,160.6C150.4,162.5 154.2,165.0 157.7,167.4C161.2,169.8 164.4,172.7 167.3,175.1C170.2,177.5 173.5,179.2 175.0,182.0C176.5,184.8 176.1,188.5 176.2,192.0C176.3,195.5 175.7,199.3 175.6,203.0C175.5,206.7 175.8,210.0 175.8,214.0C175.8,218.0 176.0,223.3 175.5,227.0C175.0,230.7 174.6,232.7 173.0,236.0C171.4,239.3 167.4,243.7 166.0,247.0C164.6,250.3 165.0,253.2 164.6,256.0C164.2,258.8 164.5,261.2 163.8,264.0C163.1,266.8 162.5,271.1 160.2,273.0C157.9,274.9 152.7,275.1 150.0,275.7C147.3,276.3 147.0,276.9 144.2,276.7C141.4,276.5 136.6,275.6 133.0,274.7C129.4,273.8 125.2,273.1 122.6,271.1C120.0,269.1 119.6,264.8 117.6,262.9C115.6,261.0 114.5,260.7 110.8,259.5C107.1,258.3 100.2,257.0 95.4,255.7C90.6,254.4 85.3,253.6 82.0,251.9C78.7,250.2 76.0,247.7 75.6,245.6C75.2,243.5 78.1,242.2 79.4,239.6C80.7,237.0 82.2,232.9 83.2,230.0C84.2,227.1 84.7,224.2 85.2,222.3C85.7,220.4 86.2,219.3 86.0,218.5C85.8,217.7 86.7,217.2 83.8,217.2C80.9,217.1 72.7,218.8 68.5,218.2C64.3,217.6 61.0,215.6 58.5,213.4C56.0,211.2 54.6,207.7 53.3,205.0C52.0,202.3 51.2,198.5 50.5,197.0C49.8,195.5 50.5,197.7 49.3,196.2C48.1,194.7 45.0,191.1 43.3,188.2C41.6,185.3 40.1,182.4 39.3,179.0C38.5,175.6 38.2,171.8 38.5,168.0Z" fill="#cdcdd4"/>
<path d="M108.0,136.0C108.8,134.2 114.2,131.8 117.0,132.0C119.8,132.2 123.0,134.3 125.0,137.0C127.0,139.7 128.7,143.3 129.0,148.0C129.3,152.7 127.7,159.7 127.0,165.0C126.3,170.3 126.2,176.2 125.0,180.0C123.8,183.8 122.0,187.0 120.0,188.0C118.0,189.0 113.8,189.0 113.0,186.0C112.2,183.0 114.3,175.2 115.0,170.0C115.7,164.8 117.5,159.5 117.0,155.0C116.5,150.5 113.5,146.2 112.0,143.0C110.5,139.8 107.2,137.8 108.0,136.0Z" fill="#cdcdd4" stroke="#cdcdd4" stroke-width="7" stroke-linejoin="round"/>
<path d="M105.0,168.0C106.3,164.3 111.7,164.3 114.0,166.0C116.3,167.7 118.5,173.7 119.0,178.0C119.5,182.3 118.2,189.0 117.0,192.0C115.8,195.0 113.8,196.7 112.0,196.0C110.2,195.3 107.2,192.7 106.0,188.0C104.8,183.3 103.7,171.7 105.0,168.0Z" fill="#cdcdd4" stroke="#cdcdd4" stroke-width="7" stroke-linejoin="round"/>
<path d="M80.0,146.0C82.5,144.7 86.7,144.3 90.0,144.0C93.3,143.7 96.7,143.7 100.0,144.0C103.3,144.3 107.2,144.7 110.0,146.0C112.8,147.3 115.6,148.8 117.0,152.0C118.4,155.2 118.5,160.7 118.5,165.0C118.5,169.3 118.1,174.5 117.0,178.0C115.9,181.5 114.8,184.2 112.0,186.0C109.2,187.8 104.0,188.2 100.0,189.0C96.0,189.8 91.7,190.8 88.0,191.0C84.3,191.2 80.7,191.5 78.0,190.0C75.3,188.5 73.0,186.2 72.0,182.0C71.0,177.8 71.5,170.0 72.0,165.0C72.5,160.0 73.7,155.2 75.0,152.0C76.3,148.8 77.5,147.3 80.0,146.0Z" fill="#cdcdd4" stroke="#cdcdd4" stroke-width="7" stroke-linejoin="round"/>
<path d="M70.0,140.0C70.8,138.1 72.7,136.6 75.0,135.5C77.3,134.4 80.8,133.9 84.0,133.5C87.2,133.1 91.0,133.2 94.0,133.3C97.0,133.4 99.9,133.5 102.0,134.3C104.1,135.1 106.0,136.4 106.5,138.0C107.0,139.6 106.4,142.4 105.0,144.0C103.6,145.6 100.5,146.8 98.0,147.5C95.5,148.2 92.7,148.1 90.0,148.5C87.3,148.9 84.5,149.6 82.0,150.0C79.5,150.4 77.0,151.5 75.0,151.0C73.0,150.5 70.8,148.8 70.0,147.0C69.2,145.2 69.2,141.9 70.0,140.0Z" fill="#cdcdd4" stroke="#cdcdd4" stroke-width="7" stroke-linejoin="round"/>
<path d="M66.0,148.0C67.4,144.8 71.3,145.8 74.0,146.0C76.7,146.2 80.2,147.0 82.0,149.0C83.8,151.0 84.7,154.5 85.0,158.0C85.3,161.5 84.7,166.0 84.0,170.0C83.3,174.0 82.7,179.2 81.0,182.0C79.3,184.8 76.3,187.2 74.0,187.0C71.7,186.8 68.4,184.7 67.0,181.0C65.6,177.3 65.7,170.5 65.5,165.0C65.3,159.5 64.6,151.2 66.0,148.0Z" fill="#cdcdd4" stroke="#cdcdd4" stroke-width="7" stroke-linejoin="round"/>
<path d="M38.5,168.0C38.7,164.5 39.3,161.0 40.5,158.0C41.7,155.0 43.5,152.0 45.5,150.0C47.5,148.0 50.1,147.0 52.5,146.0C54.9,145.0 57.8,144.1 60.0,144.0C62.2,143.9 64.0,144.2 65.5,145.5C67.0,146.8 68.3,148.8 69.0,152.0C69.7,155.2 69.5,160.3 69.5,165.0C69.5,169.7 69.2,175.3 69.0,180.0C68.8,184.7 69.2,190.1 68.0,193.0C66.8,195.9 64.2,196.5 62.0,197.5C59.8,198.5 57.1,199.2 55.0,199.0C52.9,198.8 51.4,197.8 49.5,196.0C47.6,194.2 45.2,190.8 43.5,188.0C41.8,185.2 40.3,182.3 39.5,179.0C38.7,175.7 38.3,171.5 38.5,168.0Z" fill="#cdcdd4" stroke="#cdcdd4" stroke-width="7" stroke-linejoin="round"/>
<path d="M51.0,196.0C51.8,193.9 55.1,193.4 58.0,192.5C60.9,191.6 64.8,191.0 68.5,190.5C72.2,190.0 76.4,189.8 80.0,189.5C83.6,189.2 86.2,189.4 90.0,189.0C93.8,188.6 99.3,187.4 103.0,187.0C106.7,186.6 109.7,185.8 112.0,186.5C114.3,187.2 116.2,188.8 117.0,191.0C117.8,193.2 117.7,197.2 117.0,200.0C116.3,202.8 116.3,205.5 113.0,207.5C109.7,209.5 102.2,210.6 97.3,212.2C92.4,213.8 88.6,216.0 83.8,217.0C79.0,218.0 72.7,218.6 68.5,218.0C64.3,217.4 61.0,215.4 58.5,213.2C56.0,211.0 54.8,207.9 53.5,205.0C52.2,202.1 50.2,198.1 51.0,196.0Z" fill="#cdcdd4" stroke="#cdcdd4" stroke-width="7" stroke-linejoin="round"/>
<path d="M88.0,218.0C90.0,216.9 93.5,216.1 97.3,216.0C101.1,215.9 107.5,216.5 110.8,217.5C114.1,218.5 115.6,219.6 117.0,222.0C118.4,224.4 118.3,228.5 119.0,232.0C119.7,235.5 120.3,239.5 121.0,243.0C121.7,246.5 123.3,249.9 123.0,253.0C122.7,256.1 121.0,260.2 119.0,261.3C117.0,262.4 114.7,260.3 110.8,259.3C106.9,258.3 100.2,256.8 95.4,255.5C90.6,254.2 85.3,253.3 82.0,251.7C78.7,250.0 76.2,247.6 75.8,245.6C75.4,243.6 78.3,242.2 79.6,239.6C80.9,237.0 82.4,232.9 83.4,230.0C84.4,227.1 84.6,224.3 85.4,222.3C86.2,220.3 86.0,219.1 88.0,218.0Z" fill="#cdcdd4" stroke="#cdcdd4" stroke-width="7" stroke-linejoin="round"/>
<path d="M116.0,223.0C117.8,220.3 124.0,224.0 128.0,225.0C132.0,226.0 136.0,227.2 140.0,229.0C144.0,230.8 148.0,233.3 152.0,236.0C156.0,238.7 161.8,242.7 164.0,245.0C166.2,247.3 165.3,248.7 165.0,250.0C164.7,251.3 165.0,252.5 162.0,253.0C159.0,253.5 151.8,253.3 147.0,253.0C142.2,252.7 137.2,251.9 133.0,251.0C128.8,250.1 124.7,249.2 122.0,247.5C119.3,245.8 118.0,245.1 117.0,241.0C116.0,236.9 114.2,225.7 116.0,223.0Z" fill="#c4c0d6" stroke="#c4c0d6" stroke-width="7" stroke-linejoin="round"/>
<path d="M119.0,252.6C121.9,250.8 129.8,251.6 135.0,251.6C140.2,251.6 145.2,252.1 150.0,252.6C154.8,253.1 161.7,252.7 164.0,254.6C166.3,256.5 164.3,261.0 163.6,264.0C162.9,267.0 162.3,270.9 160.0,272.8C157.7,274.7 152.6,274.9 150.0,275.5C147.4,276.1 147.0,276.7 144.2,276.5C141.4,276.3 136.6,275.4 133.0,274.5C129.4,273.6 125.1,272.9 122.6,270.9C120.1,268.9 118.4,265.8 117.8,262.7C117.2,259.6 116.1,254.4 119.0,252.6Z" fill="#bcb6d2" stroke="#bcb6d2" stroke-width="7" stroke-linejoin="round"/>
<path d="M128.0,213.0C129.7,211.4 136.0,211.8 140.0,211.5C144.0,211.2 148.2,211.2 152.0,211.0C155.8,210.8 159.5,210.2 163.0,210.0C166.5,209.8 170.9,208.7 173.0,210.0C175.1,211.3 175.2,215.2 175.5,218.0C175.8,220.8 175.4,224.0 175.0,227.0C174.6,230.0 174.7,234.8 173.0,236.0C171.3,237.2 167.7,235.0 165.0,234.0C162.3,233.0 159.8,231.0 157.0,230.0C154.2,229.0 151.2,228.7 148.0,228.0C144.8,227.3 141.0,227.2 138.0,226.0C135.0,224.8 131.7,223.2 130.0,221.0C128.3,218.8 126.3,214.6 128.0,213.0Z" fill="#8a80b8" stroke="#8a80b8" stroke-width="7" stroke-linejoin="round"/>
<path d="M113.0,180.0C114.7,178.0 118.8,176.7 122.0,176.0C125.2,175.3 129.0,175.3 132.0,176.0C135.0,176.7 137.5,177.7 140.0,180.0C142.5,182.3 145.0,187.2 147.0,190.0C149.0,192.8 150.0,194.7 152.0,197.0C154.0,199.3 157.8,201.7 159.0,204.0C160.2,206.3 160.5,209.6 159.0,211.0C157.5,212.4 153.5,212.3 150.0,212.5C146.5,212.7 142.0,212.6 138.0,212.0C134.0,211.4 129.3,210.3 126.0,209.0C122.7,207.7 120.2,206.2 118.0,204.0C115.8,201.8 114.0,198.7 113.0,196.0C112.0,193.3 112.0,190.7 112.0,188.0C112.0,185.3 111.3,182.0 113.0,180.0Z" fill="#cdcdd4" stroke="#cdcdd4" stroke-width="7" stroke-linejoin="round"/>
<path d="M121.0,156.0C123.2,155.2 128.5,155.2 132.7,156.0C136.9,156.8 142.0,158.9 146.2,160.8C150.4,162.7 154.2,165.2 157.7,167.6C161.2,170.0 164.4,172.9 167.3,175.3C170.2,177.7 173.6,179.2 175.0,182.0C176.4,184.8 176.0,188.5 176.0,192.0C176.0,195.5 175.7,200.0 175.0,203.0C174.3,206.0 173.7,209.2 172.0,210.0C170.3,210.8 167.1,208.7 165.0,207.5C162.9,206.3 161.4,204.9 159.2,203.0C157.0,201.1 154.0,198.0 152.0,196.0C150.0,194.0 148.7,193.4 147.0,190.8C145.3,188.2 143.9,183.2 141.9,180.4C139.9,177.6 137.3,175.7 135.0,174.0C132.7,172.3 130.2,171.3 128.0,170.0C125.8,168.7 123.4,167.5 122.0,166.0C120.6,164.5 119.7,162.7 119.5,161.0C119.3,159.3 118.8,156.8 121.0,156.0Z" fill="#b8b2d0" stroke="#b8b2d0" stroke-width="7" stroke-linejoin="round"/>
<path d="M117.8,132.5C118.1,130.3 120.8,126.3 122.6,123.5C124.4,120.7 125.9,118.3 128.6,115.8C131.2,113.2 134.6,110.5 138.5,108.2C142.4,106.0 147.7,103.1 151.9,102.3C156.1,101.5 160.1,102.3 163.5,103.3C166.9,104.3 170.6,106.0 172.4,108.2C174.2,110.4 174.5,113.3 174.4,116.2C174.3,119.1 172.6,122.6 171.6,125.8C170.6,129.0 169.3,132.6 168.7,135.4C168.0,138.2 169.5,141.1 167.7,142.4C165.9,143.8 161.3,142.8 157.7,143.5C154.1,144.2 149.4,146.7 146.2,146.4C143.0,146.1 141.4,142.9 138.5,141.6C135.6,140.3 131.7,139.5 128.8,138.7C125.9,137.9 122.8,137.7 121.0,136.7C119.2,135.7 117.5,134.7 117.8,132.5Z" fill="#b4aed0" stroke="#b4aed0" stroke-width="7" stroke-linejoin="round"/>
<ellipse cx="161" cy="115" rx="14" ry="13" fill="#3e2e96" opacity="0.8"/>
<path d="M170,180 C175,190 176,200 174,210" stroke="#5a4aa6" stroke-width="5" fill="none" opacity="0.8"/>
<path d="M135,222 C150,220 162,222 172,226" stroke="#2e2088" stroke-width="5" fill="none" opacity="0.9"/>
</g></g>
<g transform="translate(99.40,512.40) scale(0.3644,0.3234) translate(-39.0,-102.6)">
<g fill="none" stroke="#8a80c0" stroke-width="2.32" stroke-linecap="round" stroke-linejoin="round" opacity="0.85">
<path d="M206.5,170.2 C210,168.5 213.5,171 213,175 C212.5,179 208.5,180 206.5,177.8 C204.5,175.5 204.5,172 206.5,170.2 Z"/>
<path d="M205.8,177 L199,188 M204.8,171 L201,167"/>
</g></g>
<text x="0" y="0" transform="translate(123.20 507.90) scale(1 1.12)" font-size="6.2" text-anchor="middle" font-style="italic" fill="#333" stroke="#333" stroke-width="0.05">LAG3</text>
<g filter="url(#tex3)" opacity="0.95">
<g transform="translate(167.00,512.40) scale(0.3652,0.3234) translate(-39.0,-102.6)">
<path d="M38.5,168.0C38.8,164.2 39.8,159.2 41.0,156.0C42.2,152.8 44.0,150.8 46.0,149.0C48.0,147.2 50.7,146.4 53.0,145.5C55.3,144.6 57.8,144.1 60.0,143.8C62.2,143.6 64.3,144.7 66.0,144.0C67.7,143.3 68.5,140.9 70.0,139.5C71.5,138.1 72.7,136.3 75.0,135.3C77.3,134.3 80.8,133.7 84.0,133.3C87.2,132.9 91.0,132.9 94.0,133.0C97.0,133.1 99.7,133.5 102.0,134.0C104.3,134.5 105.7,136.4 108.0,136.0C110.3,135.6 113.6,133.6 116.0,131.5C118.4,129.4 120.5,126.1 122.6,123.5C124.7,120.9 125.9,118.3 128.6,115.8C131.2,113.2 134.6,110.5 138.5,108.2C142.4,106.0 147.7,103.1 151.9,102.3C156.1,101.5 160.1,102.3 163.5,103.3C166.9,104.3 170.6,106.0 172.4,108.2C174.2,110.4 174.5,113.3 174.4,116.2C174.3,119.1 172.6,122.6 171.6,125.8C170.6,129.0 169.3,132.6 168.7,135.4C168.0,138.2 169.5,141.1 167.7,142.4C165.9,143.8 161.3,142.8 157.7,143.5C154.1,144.2 149.4,146.7 146.2,146.4C143.0,146.1 141.2,142.6 138.5,141.6C135.8,140.6 132.2,139.4 130.0,140.5C127.8,141.6 125.7,145.6 125.0,148.0C124.3,150.4 124.7,153.7 126.0,155.0C127.3,156.3 129.3,154.9 132.7,155.8C136.1,156.7 142.0,158.7 146.2,160.6C150.4,162.5 154.2,165.0 157.7,167.4C161.2,169.8 164.4,172.7 167.3,175.1C170.2,177.5 173.5,179.2 175.0,182.0C176.5,184.8 176.1,188.5 176.2,192.0C176.3,195.5 175.7,199.3 175.6,203.0C175.5,206.7 175.8,210.0 175.8,214.0C175.8,218.0 176.0,223.3 175.5,227.0C175.0,230.7 174.6,232.7 173.0,236.0C171.4,239.3 167.4,243.7 166.0,247.0C164.6,250.3 165.0,253.2 164.6,256.0C164.2,258.8 164.5,261.2 163.8,264.0C163.1,266.8 162.5,271.1 160.2,273.0C157.9,274.9 152.7,275.1 150.0,275.7C147.3,276.3 147.0,276.9 144.2,276.7C141.4,276.5 136.6,275.6 133.0,274.7C129.4,273.8 125.2,273.1 122.6,271.1C120.0,269.1 119.6,264.8 117.6,262.9C115.6,261.0 114.5,260.7 110.8,259.5C107.1,258.3 100.2,257.0 95.4,255.7C90.6,254.4 85.3,253.6 82.0,251.9C78.7,250.2 76.0,247.7 75.6,245.6C75.2,243.5 78.1,242.2 79.4,239.6C80.7,237.0 82.2,232.9 83.2,230.0C84.2,227.1 84.7,224.2 85.2,222.3C85.7,220.4 86.2,219.3 86.0,218.5C85.8,217.7 86.7,217.2 83.8,217.2C80.9,217.1 72.7,218.8 68.5,218.2C64.3,217.6 61.0,215.6 58.5,213.4C56.0,211.2 54.6,207.7 53.3,205.0C52.0,202.3 51.2,198.5 50.5,197.0C49.8,195.5 50.5,197.7 49.3,196.2C48.1,194.7 45.0,191.1 43.3,188.2C41.6,185.3 40.1,182.4 39.3,179.0C38.5,175.6 38.2,171.8 38.5,168.0Z" fill="#bdb6d8"/>
<path d="M108.0,136.0C108.8,134.2 114.2,131.8 117.0,132.0C119.8,132.2 123.0,134.3 125.0,137.0C127.0,139.7 128.7,143.3 129.0,148.0C129.3,152.7 127.7,159.7 127.0,165.0C126.3,170.3 126.2,176.2 125.0,180.0C123.8,183.8 122.0,187.0 120.0,188.0C118.0,189.0 113.8,189.0 113.0,186.0C112.2,183.0 114.3,175.2 115.0,170.0C115.7,164.8 117.5,159.5 117.0,155.0C116.5,150.5 113.5,146.2 112.0,143.0C110.5,139.8 107.2,137.8 108.0,136.0Z" fill="#bdb6d8" stroke="#bdb6d8" stroke-width="7" stroke-linejoin="round"/>
<path d="M105.0,168.0C106.3,164.3 111.7,164.3 114.0,166.0C116.3,167.7 118.5,173.7 119.0,178.0C119.5,182.3 118.2,189.0 117.0,192.0C115.8,195.0 113.8,196.7 112.0,196.0C110.2,195.3 107.2,192.7 106.0,188.0C104.8,183.3 103.7,171.7 105.0,168.0Z" fill="#bdb6d8" stroke="#bdb6d8" stroke-width="7" stroke-linejoin="round"/>
<path d="M80.0,146.0C82.5,144.7 86.7,144.3 90.0,144.0C93.3,143.7 96.7,143.7 100.0,144.0C103.3,144.3 107.2,144.7 110.0,146.0C112.8,147.3 115.6,148.8 117.0,152.0C118.4,155.2 118.5,160.7 118.5,165.0C118.5,169.3 118.1,174.5 117.0,178.0C115.9,181.5 114.8,184.2 112.0,186.0C109.2,187.8 104.0,188.2 100.0,189.0C96.0,189.8 91.7,190.8 88.0,191.0C84.3,191.2 80.7,191.5 78.0,190.0C75.3,188.5 73.0,186.2 72.0,182.0C71.0,177.8 71.5,170.0 72.0,165.0C72.5,160.0 73.7,155.2 75.0,152.0C76.3,148.8 77.5,147.3 80.0,146.0Z" fill="#bdb6d8" stroke="#bdb6d8" stroke-width="7" stroke-linejoin="round"/>
<path d="M70.0,140.0C70.8,138.1 72.7,136.6 75.0,135.5C77.3,134.4 80.8,133.9 84.0,133.5C87.2,133.1 91.0,133.2 94.0,133.3C97.0,133.4 99.9,133.5 102.0,134.3C104.1,135.1 106.0,136.4 106.5,138.0C107.0,139.6 106.4,142.4 105.0,144.0C103.6,145.6 100.5,146.8 98.0,147.5C95.5,148.2 92.7,148.1 90.0,148.5C87.3,148.9 84.5,149.6 82.0,150.0C79.5,150.4 77.0,151.5 75.0,151.0C73.0,150.5 70.8,148.8 70.0,147.0C69.2,145.2 69.2,141.9 70.0,140.0Z" fill="#bdb6d8" stroke="#bdb6d8" stroke-width="7" stroke-linejoin="round"/>
<path d="M66.0,148.0C67.4,144.8 71.3,145.8 74.0,146.0C76.7,146.2 80.2,147.0 82.0,149.0C83.8,151.0 84.7,154.5 85.0,158.0C85.3,161.5 84.7,166.0 84.0,170.0C83.3,174.0 82.7,179.2 81.0,182.0C79.3,184.8 76.3,187.2 74.0,187.0C71.7,186.8 68.4,184.7 67.0,181.0C65.6,177.3 65.7,170.5 65.5,165.0C65.3,159.5 64.6,151.2 66.0,148.0Z" fill="#bdb6d8" stroke="#bdb6d8" stroke-width="7" stroke-linejoin="round"/>
<path d="M38.5,168.0C38.7,164.5 39.3,161.0 40.5,158.0C41.7,155.0 43.5,152.0 45.5,150.0C47.5,148.0 50.1,147.0 52.5,146.0C54.9,145.0 57.8,144.1 60.0,144.0C62.2,143.9 64.0,144.2 65.5,145.5C67.0,146.8 68.3,148.8 69.0,152.0C69.7,155.2 69.5,160.3 69.5,165.0C69.5,169.7 69.2,175.3 69.0,180.0C68.8,184.7 69.2,190.1 68.0,193.0C66.8,195.9 64.2,196.5 62.0,197.5C59.8,198.5 57.1,199.2 55.0,199.0C52.9,198.8 51.4,197.8 49.5,196.0C47.6,194.2 45.2,190.8 43.5,188.0C41.8,185.2 40.3,182.3 39.5,179.0C38.7,175.7 38.3,171.5 38.5,168.0Z" fill="#bdb6d8" stroke="#bdb6d8" stroke-width="7" stroke-linejoin="round"/>
<path d="M51.0,196.0C51.8,193.9 55.1,193.4 58.0,192.5C60.9,191.6 64.8,191.0 68.5,190.5C72.2,190.0 76.4,189.8 80.0,189.5C83.6,189.2 86.2,189.4 90.0,189.0C93.8,188.6 99.3,187.4 103.0,187.0C106.7,186.6 109.7,185.8 112.0,186.5C114.3,187.2 116.2,188.8 117.0,191.0C117.8,193.2 117.7,197.2 117.0,200.0C116.3,202.8 116.3,205.5 113.0,207.5C109.7,209.5 102.2,210.6 97.3,212.2C92.4,213.8 88.6,216.0 83.8,217.0C79.0,218.0 72.7,218.6 68.5,218.0C64.3,217.4 61.0,215.4 58.5,213.2C56.0,211.0 54.8,207.9 53.5,205.0C52.2,202.1 50.2,198.1 51.0,196.0Z" fill="#bdb6d8" stroke="#bdb6d8" stroke-width="7" stroke-linejoin="round"/>
<path d="M88.0,218.0C90.0,216.9 93.5,216.1 97.3,216.0C101.1,215.9 107.5,216.5 110.8,217.5C114.1,218.5 115.6,219.6 117.0,222.0C118.4,224.4 118.3,228.5 119.0,232.0C119.7,235.5 120.3,239.5 121.0,243.0C121.7,246.5 123.3,249.9 123.0,253.0C122.7,256.1 121.0,260.2 119.0,261.3C117.0,262.4 114.7,260.3 110.8,259.3C106.9,258.3 100.2,256.8 95.4,255.5C90.6,254.2 85.3,253.3 82.0,251.7C78.7,250.0 76.2,247.6 75.8,245.6C75.4,243.6 78.3,242.2 79.6,239.6C80.9,237.0 82.4,232.9 83.4,230.0C84.4,227.1 84.6,224.3 85.4,222.3C86.2,220.3 86.0,219.1 88.0,218.0Z" fill="#bdb6d8" stroke="#bdb6d8" stroke-width="7" stroke-linejoin="round"/>
<path d="M116.0,223.0C117.8,220.3 124.0,224.0 128.0,225.0C132.0,226.0 136.0,227.2 140.0,229.0C144.0,230.8 148.0,233.3 152.0,236.0C156.0,238.7 161.8,242.7 164.0,245.0C166.2,247.3 165.3,248.7 165.0,250.0C164.7,251.3 165.0,252.5 162.0,253.0C159.0,253.5 151.8,253.3 147.0,253.0C142.2,252.7 137.2,251.9 133.0,251.0C128.8,250.1 124.7,249.2 122.0,247.5C119.3,245.8 118.0,245.1 117.0,241.0C116.0,236.9 114.2,225.7 116.0,223.0Z" fill="#b0a8d0" stroke="#b0a8d0" stroke-width="7" stroke-linejoin="round"/>
<path d="M119.0,252.6C121.9,250.8 129.8,251.6 135.0,251.6C140.2,251.6 145.2,252.1 150.0,252.6C154.8,253.1 161.7,252.7 164.0,254.6C166.3,256.5 164.3,261.0 163.6,264.0C162.9,267.0 162.3,270.9 160.0,272.8C157.7,274.7 152.6,274.9 150.0,275.5C147.4,276.1 147.0,276.7 144.2,276.5C141.4,276.3 136.6,275.4 133.0,274.5C129.4,273.6 125.1,272.9 122.6,270.9C120.1,268.9 118.4,265.8 117.8,262.7C117.2,259.6 116.1,254.4 119.0,252.6Z" fill="#a8a0ca" stroke="#a8a0ca" stroke-width="7" stroke-linejoin="round"/>
<path d="M128.0,213.0C129.7,211.4 136.0,211.8 140.0,211.5C144.0,211.2 148.2,211.2 152.0,211.0C155.8,210.8 159.5,210.2 163.0,210.0C166.5,209.8 170.9,208.7 173.0,210.0C175.1,211.3 175.2,215.2 175.5,218.0C175.8,220.8 175.4,224.0 175.0,227.0C174.6,230.0 174.7,234.8 173.0,236.0C171.3,237.2 167.7,235.0 165.0,234.0C162.3,233.0 159.8,231.0 157.0,230.0C154.2,229.0 151.2,228.7 148.0,228.0C144.8,227.3 141.0,227.2 138.0,226.0C135.0,224.8 131.7,223.2 130.0,221.0C128.3,218.8 126.3,214.6 128.0,213.0Z" fill="#7a6eb4" stroke="#7a6eb4" stroke-width="7" stroke-linejoin="round"/>
<path d="M113.0,180.0C114.7,178.0 118.8,176.7 122.0,176.0C125.2,175.3 129.0,175.3 132.0,176.0C135.0,176.7 137.5,177.7 140.0,180.0C142.5,182.3 145.0,187.2 147.0,190.0C149.0,192.8 150.0,194.7 152.0,197.0C154.0,199.3 157.8,201.7 159.0,204.0C160.2,206.3 160.5,209.6 159.0,211.0C157.5,212.4 153.5,212.3 150.0,212.5C146.5,212.7 142.0,212.6 138.0,212.0C134.0,211.4 129.3,210.3 126.0,209.0C122.7,207.7 120.2,206.2 118.0,204.0C115.8,201.8 114.0,198.7 113.0,196.0C112.0,193.3 112.0,190.7 112.0,188.0C112.0,185.3 111.3,182.0 113.0,180.0Z" fill="#6e62b0" stroke="#6e62b0" stroke-width="7" stroke-linejoin="round"/>
<path d="M121.0,156.0C123.2,155.2 128.5,155.2 132.7,156.0C136.9,156.8 142.0,158.9 146.2,160.8C150.4,162.7 154.2,165.2 157.7,167.6C161.2,170.0 164.4,172.9 167.3,175.3C170.2,177.7 173.6,179.2 175.0,182.0C176.4,184.8 176.0,188.5 176.0,192.0C176.0,195.5 175.7,200.0 175.0,203.0C174.3,206.0 173.7,209.2 172.0,210.0C170.3,210.8 167.1,208.7 165.0,207.5C162.9,206.3 161.4,204.9 159.2,203.0C157.0,201.1 154.0,198.0 152.0,196.0C150.0,194.0 148.7,193.4 147.0,190.8C145.3,188.2 143.9,183.2 141.9,180.4C139.9,177.6 137.3,175.7 135.0,174.0C132.7,172.3 130.2,171.3 128.0,170.0C125.8,168.7 123.4,167.5 122.0,166.0C120.6,164.5 119.7,162.7 119.5,161.0C119.3,159.3 118.8,156.8 121.0,156.0Z" fill="#6a5cae" stroke="#6a5cae" stroke-width="7" stroke-linejoin="round"/>
<path d="M117.8,132.5C118.1,130.3 120.8,126.3 122.6,123.5C124.4,120.7 125.9,118.3 128.6,115.8C131.2,113.2 134.6,110.5 138.5,108.2C142.4,106.0 147.7,103.1 151.9,102.3C156.1,101.5 160.1,102.3 163.5,103.3C166.9,104.3 170.6,106.0 172.4,108.2C174.2,110.4 174.5,113.3 174.4,116.2C174.3,119.1 172.6,122.6 171.6,125.8C170.6,129.0 169.3,132.6 168.7,135.4C168.0,138.2 169.5,141.1 167.7,142.4C165.9,143.8 161.3,142.8 157.7,143.5C154.1,144.2 149.4,146.7 146.2,146.4C143.0,146.1 141.4,142.9 138.5,141.6C135.6,140.3 131.7,139.5 128.8,138.7C125.9,137.9 122.8,137.7 121.0,136.7C119.2,135.7 117.5,134.7 117.8,132.5Z" fill="#a49cc8" stroke="#a49cc8" stroke-width="7" stroke-linejoin="round"/>
</g></g>
<g transform="translate(167.00,512.40) scale(0.3652,0.3234) translate(-39.0,-102.6)">
<g fill="none" stroke="#8a80c0" stroke-width="2.32" stroke-linecap="round" stroke-linejoin="round" opacity="0.85">
<path d="M206.5,170.2 C210,168.5 213.5,171 213,175 C212.5,179 208.5,180 206.5,177.8 C204.5,175.5 204.5,172 206.5,170.2 Z"/>
<path d="M205.8,177 L199,188 M204.8,171 L201,167"/>
</g></g>
<text x="0" y="0" transform="translate(190.90 507.90) scale(1 1.12)" font-size="6.2" text-anchor="middle" font-style="italic" fill="#333" stroke="#333" stroke-width="0.05">CTLA4</text>
<g filter="url(#tex3)" opacity="0.95">
<g transform="translate(276.60,512.60) scale(0.3689,0.3234) translate(-39.0,-102.6)">
<path d="M38.5,168.0C38.8,164.2 39.8,159.2 41.0,156.0C42.2,152.8 44.0,150.8 46.0,149.0C48.0,147.2 50.7,146.4 53.0,145.5C55.3,144.6 57.8,144.1 60.0,143.8C62.2,143.6 64.3,144.7 66.0,144.0C67.7,143.3 68.5,140.9 70.0,139.5C71.5,138.1 72.7,136.3 75.0,135.3C77.3,134.3 80.8,133.7 84.0,133.3C87.2,132.9 91.0,132.9 94.0,133.0C97.0,133.1 99.7,133.5 102.0,134.0C104.3,134.5 105.7,136.4 108.0,136.0C110.3,135.6 113.6,133.6 116.0,131.5C118.4,129.4 120.5,126.1 122.6,123.5C124.7,120.9 125.9,118.3 128.6,115.8C131.2,113.2 134.6,110.5 138.5,108.2C142.4,106.0 147.7,103.1 151.9,102.3C156.1,101.5 160.1,102.3 163.5,103.3C166.9,104.3 170.6,106.0 172.4,108.2C174.2,110.4 174.5,113.3 174.4,116.2C174.3,119.1 172.6,122.6 171.6,125.8C170.6,129.0 169.3,132.6 168.7,135.4C168.0,138.2 169.5,141.1 167.7,142.4C165.9,143.8 161.3,142.8 157.7,143.5C154.1,144.2 149.4,146.7 146.2,146.4C143.0,146.1 141.2,142.6 138.5,141.6C135.8,140.6 132.2,139.4 130.0,140.5C127.8,141.6 125.7,145.6 125.0,148.0C124.3,150.4 124.7,153.7 126.0,155.0C127.3,156.3 129.3,154.9 132.7,155.8C136.1,156.7 142.0,158.7 146.2,160.6C150.4,162.5 154.2,165.0 157.7,167.4C161.2,169.8 164.4,172.7 167.3,175.1C170.2,177.5 173.5,179.2 175.0,182.0C176.5,184.8 176.1,188.5 176.2,192.0C176.3,195.5 175.7,199.3 175.6,203.0C175.5,206.7 175.8,210.0 175.8,214.0C175.8,218.0 176.0,223.3 175.5,227.0C175.0,230.7 174.6,232.7 173.0,236.0C171.4,239.3 167.4,243.7 166.0,247.0C164.6,250.3 165.0,253.2 164.6,256.0C164.2,258.8 164.5,261.2 163.8,264.0C163.1,266.8 162.5,271.1 160.2,273.0C157.9,274.9 152.7,275.1 150.0,275.7C147.3,276.3 147.0,276.9 144.2,276.7C141.4,276.5 136.6,275.6 133.0,274.7C129.4,273.8 125.2,273.1 122.6,271.1C120.0,269.1 119.6,264.8 117.6,262.9C115.6,261.0 114.5,260.7 110.8,259.5C107.1,258.3 100.2,257.0 95.4,255.7C90.6,254.4 85.3,253.6 82.0,251.9C78.7,250.2 76.0,247.7 75.6,245.6C75.2,243.5 78.1,242.2 79.4,239.6C80.7,237.0 82.2,232.9 83.2,230.0C84.2,227.1 84.7,224.2 85.2,222.3C85.7,220.4 86.2,219.3 86.0,218.5C85.8,217.7 86.7,217.2 83.8,217.2C80.9,217.1 72.7,218.8 68.5,218.2C64.3,217.6 61.0,215.6 58.5,213.4C56.0,211.2 54.6,207.7 53.3,205.0C52.0,202.3 51.2,198.5 50.5,197.0C49.8,195.5 50.5,197.7 49.3,196.2C48.1,194.7 45.0,191.1 43.3,188.2C41.6,185.3 40.1,182.4 39.3,179.0C38.5,175.6 38.2,171.8 38.5,168.0Z" fill="#c4d0c4"/>
<path d="M108.0,136.0C108.8,134.2 114.2,131.8 117.0,132.0C119.8,132.2 123.0,134.3 125.0,137.0C127.0,139.7 128.7,143.3 129.0,148.0C129.3,152.7 127.7,159.7 127.0,165.0C126.3,170.3 126.2,176.2 125.0,180.0C123.8,183.8 122.0,187.0 120.0,188.0C118.0,189.0 113.8,189.0 113.0,186.0C112.2,183.0 114.3,175.2 115.0,170.0C115.7,164.8 117.5,159.5 117.0,155.0C116.5,150.5 113.5,146.2 112.0,143.0C110.5,139.8 107.2,137.8 108.0,136.0Z" fill="#c4d0c4" stroke="#c4d0c4" stroke-width="7" stroke-linejoin="round"/>
<path d="M105.0,168.0C106.3,164.3 111.7,164.3 114.0,166.0C116.3,167.7 118.5,173.7 119.0,178.0C119.5,182.3 118.2,189.0 117.0,192.0C115.8,195.0 113.8,196.7 112.0,196.0C110.2,195.3 107.2,192.7 106.0,188.0C104.8,183.3 103.7,171.7 105.0,168.0Z" fill="#c4d0c4" stroke="#c4d0c4" stroke-width="7" stroke-linejoin="round"/>
<path d="M80.0,146.0C82.5,144.7 86.7,144.3 90.0,144.0C93.3,143.7 96.7,143.7 100.0,144.0C103.3,144.3 107.2,144.7 110.0,146.0C112.8,147.3 115.6,148.8 117.0,152.0C118.4,155.2 118.5,160.7 118.5,165.0C118.5,169.3 118.1,174.5 117.0,178.0C115.9,181.5 114.8,184.2 112.0,186.0C109.2,187.8 104.0,188.2 100.0,189.0C96.0,189.8 91.7,190.8 88.0,191.0C84.3,191.2 80.7,191.5 78.0,190.0C75.3,188.5 73.0,186.2 72.0,182.0C71.0,177.8 71.5,170.0 72.0,165.0C72.5,160.0 73.7,155.2 75.0,152.0C76.3,148.8 77.5,147.3 80.0,146.0Z" fill="#a6bca6" stroke="#a6bca6" stroke-width="7" stroke-linejoin="round"/>
<path d="M70.0,140.0C70.8,138.1 72.7,136.6 75.0,135.5C77.3,134.4 80.8,133.9 84.0,133.5C87.2,133.1 91.0,133.2 94.0,133.3C97.0,133.4 99.9,133.5 102.0,134.3C104.1,135.1 106.0,136.4 106.5,138.0C107.0,139.6 106.4,142.4 105.0,144.0C103.6,145.6 100.5,146.8 98.0,147.5C95.5,148.2 92.7,148.1 90.0,148.5C87.3,148.9 84.5,149.6 82.0,150.0C79.5,150.4 77.0,151.5 75.0,151.0C73.0,150.5 70.8,148.8 70.0,147.0C69.2,145.2 69.2,141.9 70.0,140.0Z" fill="#c4d0c4" stroke="#c4d0c4" stroke-width="7" stroke-linejoin="round"/>
<path d="M66.0,148.0C67.4,144.8 71.3,145.8 74.0,146.0C76.7,146.2 80.2,147.0 82.0,149.0C83.8,151.0 84.7,154.5 85.0,158.0C85.3,161.5 84.7,166.0 84.0,170.0C83.3,174.0 82.7,179.2 81.0,182.0C79.3,184.8 76.3,187.2 74.0,187.0C71.7,186.8 68.4,184.7 67.0,181.0C65.6,177.3 65.7,170.5 65.5,165.0C65.3,159.5 64.6,151.2 66.0,148.0Z" fill="#c4d0c4" stroke="#c4d0c4" stroke-width="7" stroke-linejoin="round"/>
<path d="M38.5,168.0C38.7,164.5 39.3,161.0 40.5,158.0C41.7,155.0 43.5,152.0 45.5,150.0C47.5,148.0 50.1,147.0 52.5,146.0C54.9,145.0 57.8,144.1 60.0,144.0C62.2,143.9 64.0,144.2 65.5,145.5C67.0,146.8 68.3,148.8 69.0,152.0C69.7,155.2 69.5,160.3 69.5,165.0C69.5,169.7 69.2,175.3 69.0,180.0C68.8,184.7 69.2,190.1 68.0,193.0C66.8,195.9 64.2,196.5 62.0,197.5C59.8,198.5 57.1,199.2 55.0,199.0C52.9,198.8 51.4,197.8 49.5,196.0C47.6,194.2 45.2,190.8 43.5,188.0C41.8,185.2 40.3,182.3 39.5,179.0C38.7,175.7 38.3,171.5 38.5,168.0Z" fill="#a8bca8" stroke="#a8bca8" stroke-width="7" stroke-linejoin="round"/>
<path d="M51.0,196.0C51.8,193.9 55.1,193.4 58.0,192.5C60.9,191.6 64.8,191.0 68.5,190.5C72.2,190.0 76.4,189.8 80.0,189.5C83.6,189.2 86.2,189.4 90.0,189.0C93.8,188.6 99.3,187.4 103.0,187.0C106.7,186.6 109.7,185.8 112.0,186.5C114.3,187.2 116.2,188.8 117.0,191.0C117.8,193.2 117.7,197.2 117.0,200.0C116.3,202.8 116.3,205.5 113.0,207.5C109.7,209.5 102.2,210.6 97.3,212.2C92.4,213.8 88.6,216.0 83.8,217.0C79.0,218.0 72.7,218.6 68.5,218.0C64.3,217.4 61.0,215.4 58.5,213.2C56.0,211.0 54.8,207.9 53.5,205.0C52.2,202.1 50.2,198.1 51.0,196.0Z" fill="#b2c4b2" stroke="#b2c4b2" stroke-width="7" stroke-linejoin="round"/>
<path d="M88.0,218.0C90.0,216.9 93.5,216.1 97.3,216.0C101.1,215.9 107.5,216.5 110.8,217.5C114.1,218.5 115.6,219.6 117.0,222.0C118.4,224.4 118.3,228.5 119.0,232.0C119.7,235.5 120.3,239.5 121.0,243.0C121.7,246.5 123.3,249.9 123.0,253.0C122.7,256.1 121.0,260.2 119.0,261.3C117.0,262.4 114.7,260.3 110.8,259.3C106.9,258.3 100.2,256.8 95.4,255.5C90.6,254.2 85.3,253.3 82.0,251.7C78.7,250.0 76.2,247.6 75.8,245.6C75.4,243.6 78.3,242.2 79.6,239.6C80.9,237.0 82.4,232.9 83.4,230.0C84.4,227.1 84.6,224.3 85.4,222.3C86.2,220.3 86.0,219.1 88.0,218.0Z" fill="#c8d2c8" stroke="#c8d2c8" stroke-width="7" stroke-linejoin="round"/>
<path d="M116.0,223.0C117.8,220.3 124.0,224.0 128.0,225.0C132.0,226.0 136.0,227.2 140.0,229.0C144.0,230.8 148.0,233.3 152.0,236.0C156.0,238.7 161.8,242.7 164.0,245.0C166.2,247.3 165.3,248.7 165.0,250.0C164.7,251.3 165.0,252.5 162.0,253.0C159.0,253.5 151.8,253.3 147.0,253.0C142.2,252.7 137.2,251.9 133.0,251.0C128.8,250.1 124.7,249.2 122.0,247.5C119.3,245.8 118.0,245.1 117.0,241.0C116.0,236.9 114.2,225.7 116.0,223.0Z" fill="#ccd6cc" stroke="#ccd6cc" stroke-width="7" stroke-linejoin="round"/>
<path d="M119.0,252.6C121.9,250.8 129.8,251.6 135.0,251.6C140.2,251.6 145.2,252.1 150.0,252.6C154.8,253.1 161.7,252.7 164.0,254.6C166.3,256.5 164.3,261.0 163.6,264.0C162.9,267.0 162.3,270.9 160.0,272.8C157.7,274.7 152.6,274.9 150.0,275.5C147.4,276.1 147.0,276.7 144.2,276.5C141.4,276.3 136.6,275.4 133.0,274.5C129.4,273.6 125.1,272.9 122.6,270.9C120.1,268.9 118.4,265.8 117.8,262.7C117.2,259.6 116.1,254.4 119.0,252.6Z" fill="#c8d4c8" stroke="#c8d4c8" stroke-width="7" stroke-linejoin="round"/>
<path d="M128.0,213.0C129.7,211.4 136.0,211.8 140.0,211.5C144.0,211.2 148.2,211.2 152.0,211.0C155.8,210.8 159.5,210.2 163.0,210.0C166.5,209.8 170.9,208.7 173.0,210.0C175.1,211.3 175.2,215.2 175.5,218.0C175.8,220.8 175.4,224.0 175.0,227.0C174.6,230.0 174.7,234.8 173.0,236.0C171.3,237.2 167.7,235.0 165.0,234.0C162.3,233.0 159.8,231.0 157.0,230.0C154.2,229.0 151.2,228.7 148.0,228.0C144.8,227.3 141.0,227.2 138.0,226.0C135.0,224.8 131.7,223.2 130.0,221.0C128.3,218.8 126.3,214.6 128.0,213.0Z" fill="#6a986a" stroke="#6a986a" stroke-width="7" stroke-linejoin="round"/>
<path d="M113.0,180.0C114.7,178.0 118.8,176.7 122.0,176.0C125.2,175.3 129.0,175.3 132.0,176.0C135.0,176.7 137.5,177.7 140.0,180.0C142.5,182.3 145.0,187.2 147.0,190.0C149.0,192.8 150.0,194.7 152.0,197.0C154.0,199.3 157.8,201.7 159.0,204.0C160.2,206.3 160.5,209.6 159.0,211.0C157.5,212.4 153.5,212.3 150.0,212.5C146.5,212.7 142.0,212.6 138.0,212.0C134.0,211.4 129.3,210.3 126.0,209.0C122.7,207.7 120.2,206.2 118.0,204.0C115.8,201.8 114.0,198.7 113.0,196.0C112.0,193.3 112.0,190.7 112.0,188.0C112.0,185.3 111.3,182.0 113.0,180.0Z" fill="#2e742e" stroke="#2e742e" stroke-width="7" stroke-linejoin="round"/>
<path d="M121.0,156.0C123.2,155.2 128.5,155.2 132.7,156.0C136.9,156.8 142.0,158.9 146.2,160.8C150.4,162.7 154.2,165.2 157.7,167.6C161.2,170.0 164.4,172.9 167.3,175.3C170.2,177.7 173.6,179.2 175.0,182.0C176.4,184.8 176.0,188.5 176.0,192.0C176.0,195.5 175.7,200.0 175.0,203.0C174.3,206.0 173.7,209.2 172.0,210.0C170.3,210.8 167.1,208.7 165.0,207.5C162.9,206.3 161.4,204.9 159.2,203.0C157.0,201.1 154.0,198.0 152.0,196.0C150.0,194.0 148.7,193.4 147.0,190.8C145.3,188.2 143.9,183.2 141.9,180.4C139.9,177.6 137.3,175.7 135.0,174.0C132.7,172.3 130.2,171.3 128.0,170.0C125.8,168.7 123.4,167.5 122.0,166.0C120.6,164.5 119.7,162.7 119.5,161.0C119.3,159.3 118.8,156.8 121.0,156.0Z" fill="#3a7a3a" stroke="#3a7a3a" stroke-width="7" stroke-linejoin="round"/>
<path d="M117.8,132.5C118.1,130.3 120.8,126.3 122.6,123.5C124.4,120.7 125.9,118.3 128.6,115.8C131.2,113.2 134.6,110.5 138.5,108.2C142.4,106.0 147.7,103.1 151.9,102.3C156.1,101.5 160.1,102.3 163.5,103.3C166.9,104.3 170.6,106.0 172.4,108.2C174.2,110.4 174.5,113.3 174.4,116.2C174.3,119.1 172.6,122.6 171.6,125.8C170.6,129.0 169.3,132.6 168.7,135.4C168.0,138.2 169.5,141.1 167.7,142.4C165.9,143.8 161.3,142.8 157.7,143.5C154.1,144.2 149.4,146.7 146.2,146.4C143.0,146.1 141.4,142.9 138.5,141.6C135.6,140.3 131.7,139.5 128.8,138.7C125.9,137.9 122.8,137.7 121.0,136.7C119.2,135.7 117.5,134.7 117.8,132.5Z" fill="#b8c8b8" stroke="#b8c8b8" stroke-width="7" stroke-linejoin="round"/>
</g></g>
<g transform="translate(276.60,512.60) scale(0.3689,0.3234) translate(-39.0,-102.6)">
<g fill="none" stroke="#8aa88a" stroke-width="2.32" stroke-linecap="round" stroke-linejoin="round" opacity="0.85">
<path d="M206.5,170.2 C210,168.5 213.5,171 213,175 C212.5,179 208.5,180 206.5,177.8 C204.5,175.5 204.5,172 206.5,170.2 Z"/>
<path d="M205.8,177 L199,188 M204.8,171 L201,167"/>
</g></g>
<text x="0" y="0" transform="translate(304.80 507.90) scale(1 1.12)" font-size="6.2" text-anchor="middle" fill="#333" stroke="#333" stroke-width="0.05">CD25</text>
<g filter="url(#tex3)" opacity="0.95">
<g transform="translate(347.90,512.60) scale(0.3652,0.3234) translate(-39.0,-102.6)">
<path d="M38.5,168.0C38.8,164.2 39.8,159.2 41.0,156.0C42.2,152.8 44.0,150.8 46.0,149.0C48.0,147.2 50.7,146.4 53.0,145.5C55.3,144.6 57.8,144.1 60.0,143.8C62.2,143.6 64.3,144.7 66.0,144.0C67.7,143.3 68.5,140.9 70.0,139.5C71.5,138.1 72.7,136.3 75.0,135.3C77.3,134.3 80.8,133.7 84.0,133.3C87.2,132.9 91.0,132.9 94.0,133.0C97.0,133.1 99.7,133.5 102.0,134.0C104.3,134.5 105.7,136.4 108.0,136.0C110.3,135.6 113.6,133.6 116.0,131.5C118.4,129.4 120.5,126.1 122.6,123.5C124.7,120.9 125.9,118.3 128.6,115.8C131.2,113.2 134.6,110.5 138.5,108.2C142.4,106.0 147.7,103.1 151.9,102.3C156.1,101.5 160.1,102.3 163.5,103.3C166.9,104.3 170.6,106.0 172.4,108.2C174.2,110.4 174.5,113.3 174.4,116.2C174.3,119.1 172.6,122.6 171.6,125.8C170.6,129.0 169.3,132.6 168.7,135.4C168.0,138.2 169.5,141.1 167.7,142.4C165.9,143.8 161.3,142.8 157.7,143.5C154.1,144.2 149.4,146.7 146.2,146.4C143.0,146.1 141.2,142.6 138.5,141.6C135.8,140.6 132.2,139.4 130.0,140.5C127.8,141.6 125.7,145.6 125.0,148.0C124.3,150.4 124.7,153.7 126.0,155.0C127.3,156.3 129.3,154.9 132.7,155.8C136.1,156.7 142.0,158.7 146.2,160.6C150.4,162.5 154.2,165.0 157.7,167.4C161.2,169.8 164.4,172.7 167.3,175.1C170.2,177.5 173.5,179.2 175.0,182.0C176.5,184.8 176.1,188.5 176.2,192.0C176.3,195.5 175.7,199.3 175.6,203.0C175.5,206.7 175.8,210.0 175.8,214.0C175.8,218.0 176.0,223.3 175.5,227.0C175.0,230.7 174.6,232.7 173.0,236.0C171.4,239.3 167.4,243.7 166.0,247.0C164.6,250.3 165.0,253.2 164.6,256.0C164.2,258.8 164.5,261.2 163.8,264.0C163.1,266.8 162.5,271.1 160.2,273.0C157.9,274.9 152.7,275.1 150.0,275.7C147.3,276.3 147.0,276.9 144.2,276.7C141.4,276.5 136.6,275.6 133.0,274.7C129.4,273.8 125.2,273.1 122.6,271.1C120.0,269.1 119.6,264.8 117.6,262.9C115.6,261.0 114.5,260.7 110.8,259.5C107.1,258.3 100.2,257.0 95.4,255.7C90.6,254.4 85.3,253.6 82.0,251.9C78.7,250.2 76.0,247.7 75.6,245.6C75.2,243.5 78.1,242.2 79.4,239.6C80.7,237.0 82.2,232.9 83.2,230.0C84.2,227.1 84.7,224.2 85.2,222.3C85.7,220.4 86.2,219.3 86.0,218.5C85.8,217.7 86.7,217.2 83.8,217.2C80.9,217.1 72.7,218.8 68.5,218.2C64.3,217.6 61.0,215.6 58.5,213.4C56.0,211.2 54.6,207.7 53.3,205.0C52.0,202.3 51.2,198.5 50.5,197.0C49.8,195.5 50.5,197.7 49.3,196.2C48.1,194.7 45.0,191.1 43.3,188.2C41.6,185.3 40.1,182.4 39.3,179.0C38.5,175.6 38.2,171.8 38.5,168.0Z" fill="#a8c0a8"/>
<path d="M108.0,136.0C108.8,134.2 114.2,131.8 117.0,132.0C119.8,132.2 123.0,134.3 125.0,137.0C127.0,139.7 128.7,143.3 129.0,148.0C129.3,152.7 127.7,159.7 127.0,165.0C126.3,170.3 126.2,176.2 125.0,180.0C123.8,183.8 122.0,187.0 120.0,188.0C118.0,189.0 113.8,189.0 113.0,186.0C112.2,183.0 114.3,175.2 115.0,170.0C115.7,164.8 117.5,159.5 117.0,155.0C116.5,150.5 113.5,146.2 112.0,143.0C110.5,139.8 107.2,137.8 108.0,136.0Z" fill="#98b498" stroke="#98b498" stroke-width="7" stroke-linejoin="round"/>
<path d="M105.0,168.0C106.3,164.3 111.7,164.3 114.0,166.0C116.3,167.7 118.5,173.7 119.0,178.0C119.5,182.3 118.2,189.0 117.0,192.0C115.8,195.0 113.8,196.7 112.0,196.0C110.2,195.3 107.2,192.7 106.0,188.0C104.8,183.3 103.7,171.7 105.0,168.0Z" fill="#98b498" stroke="#98b498" stroke-width="7" stroke-linejoin="round"/>
<path d="M80.0,146.0C82.5,144.7 86.7,144.3 90.0,144.0C93.3,143.7 96.7,143.7 100.0,144.0C103.3,144.3 107.2,144.7 110.0,146.0C112.8,147.3 115.6,148.8 117.0,152.0C118.4,155.2 118.5,160.7 118.5,165.0C118.5,169.3 118.1,174.5 117.0,178.0C115.9,181.5 114.8,184.2 112.0,186.0C109.2,187.8 104.0,188.2 100.0,189.0C96.0,189.8 91.7,190.8 88.0,191.0C84.3,191.2 80.7,191.5 78.0,190.0C75.3,188.5 73.0,186.2 72.0,182.0C71.0,177.8 71.5,170.0 72.0,165.0C72.5,160.0 73.7,155.2 75.0,152.0C76.3,148.8 77.5,147.3 80.0,146.0Z" fill="#98b498" stroke="#98b498" stroke-width="7" stroke-linejoin="round"/>
<path d="M70.0,140.0C70.8,138.1 72.7,136.6 75.0,135.5C77.3,134.4 80.8,133.9 84.0,133.5C87.2,133.1 91.0,133.2 94.0,133.3C97.0,133.4 99.9,133.5 102.0,134.3C104.1,135.1 106.0,136.4 106.5,138.0C107.0,139.6 106.4,142.4 105.0,144.0C103.6,145.6 100.5,146.8 98.0,147.5C95.5,148.2 92.7,148.1 90.0,148.5C87.3,148.9 84.5,149.6 82.0,150.0C79.5,150.4 77.0,151.5 75.0,151.0C73.0,150.5 70.8,148.8 70.0,147.0C69.2,145.2 69.2,141.9 70.0,140.0Z" fill="#98b498" stroke="#98b498" stroke-width="7" stroke-linejoin="round"/>
<path d="M66.0,148.0C67.4,144.8 71.3,145.8 74.0,146.0C76.7,146.2 80.2,147.0 82.0,149.0C83.8,151.0 84.7,154.5 85.0,158.0C85.3,161.5 84.7,166.0 84.0,170.0C83.3,174.0 82.7,179.2 81.0,182.0C79.3,184.8 76.3,187.2 74.0,187.0C71.7,186.8 68.4,184.7 67.0,181.0C65.6,177.3 65.7,170.5 65.5,165.0C65.3,159.5 64.6,151.2 66.0,148.0Z" fill="#98b498" stroke="#98b498" stroke-width="7" stroke-linejoin="round"/>
<path d="M38.5,168.0C38.7,164.5 39.3,161.0 40.5,158.0C41.7,155.0 43.5,152.0 45.5,150.0C47.5,148.0 50.1,147.0 52.5,146.0C54.9,145.0 57.8,144.1 60.0,144.0C62.2,143.9 64.0,144.2 65.5,145.5C67.0,146.8 68.3,148.8 69.0,152.0C69.7,155.2 69.5,160.3 69.5,165.0C69.5,169.7 69.2,175.3 69.0,180.0C68.8,184.7 69.2,190.1 68.0,193.0C66.8,195.9 64.2,196.5 62.0,197.5C59.8,198.5 57.1,199.2 55.0,199.0C52.9,198.8 51.4,197.8 49.5,196.0C47.6,194.2 45.2,190.8 43.5,188.0C41.8,185.2 40.3,182.3 39.5,179.0C38.7,175.7 38.3,171.5 38.5,168.0Z" fill="#98b498" stroke="#98b498" stroke-width="7" stroke-linejoin="round"/>
<path d="M51.0,196.0C51.8,193.9 55.1,193.4 58.0,192.5C60.9,191.6 64.8,191.0 68.5,190.5C72.2,190.0 76.4,189.8 80.0,189.5C83.6,189.2 86.2,189.4 90.0,189.0C93.8,188.6 99.3,187.4 103.0,187.0C106.7,186.6 109.7,185.8 112.0,186.5C114.3,187.2 116.2,188.8 117.0,191.0C117.8,193.2 117.7,197.2 117.0,200.0C116.3,202.8 116.3,205.5 113.0,207.5C109.7,209.5 102.2,210.6 97.3,212.2C92.4,213.8 88.6,216.0 83.8,217.0C79.0,218.0 72.7,218.6 68.5,218.0C64.3,217.4 61.0,215.4 58.5,213.2C56.0,211.0 54.8,207.9 53.5,205.0C52.2,202.1 50.2,198.1 51.0,196.0Z" fill="#98b498" stroke="#98b498" stroke-width="7" stroke-linejoin="round"/>
<path d="M88.0,218.0C90.0,216.9 93.5,216.1 97.3,216.0C101.1,215.9 107.5,216.5 110.8,217.5C114.1,218.5 115.6,219.6 117.0,222.0C118.4,224.4 118.3,228.5 119.0,232.0C119.7,235.5 120.3,239.5 121.0,243.0C121.7,246.5 123.3,249.9 123.0,253.0C122.7,256.1 121.0,260.2 119.0,261.3C117.0,262.4 114.7,260.3 110.8,259.3C106.9,258.3 100.2,256.8 95.4,255.5C90.6,254.2 85.3,253.3 82.0,251.7C78.7,250.0 76.2,247.6 75.8,245.6C75.4,243.6 78.3,242.2 79.6,239.6C80.9,237.0 82.4,232.9 83.4,230.0C84.4,227.1 84.6,224.3 85.4,222.3C86.2,220.3 86.0,219.1 88.0,218.0Z" fill="#8eae8e" stroke="#8eae8e" stroke-width="7" stroke-linejoin="round"/>
<path d="M116.0,223.0C117.8,220.3 124.0,224.0 128.0,225.0C132.0,226.0 136.0,227.2 140.0,229.0C144.0,230.8 148.0,233.3 152.0,236.0C156.0,238.7 161.8,242.7 164.0,245.0C166.2,247.3 165.3,248.7 165.0,250.0C164.7,251.3 165.0,252.5 162.0,253.0C159.0,253.5 151.8,253.3 147.0,253.0C142.2,252.7 137.2,251.9 133.0,251.0C128.8,250.1 124.7,249.2 122.0,247.5C119.3,245.8 118.0,245.1 117.0,241.0C116.0,236.9 114.2,225.7 116.0,223.0Z" fill="#c2cec2" stroke="#c2cec2" stroke-width="7" stroke-linejoin="round"/>
<path d="M119.0,252.6C121.9,250.8 129.8,251.6 135.0,251.6C140.2,251.6 145.2,252.1 150.0,252.6C154.8,253.1 161.7,252.7 164.0,254.6C166.3,256.5 164.3,261.0 163.6,264.0C162.9,267.0 162.3,270.9 160.0,272.8C157.7,274.7 152.6,274.9 150.0,275.5C147.4,276.1 147.0,276.7 144.2,276.5C141.4,276.3 136.6,275.4 133.0,274.5C129.4,273.6 125.1,272.9 122.6,270.9C120.1,268.9 118.4,265.8 117.8,262.7C117.2,259.6 116.1,254.4 119.0,252.6Z" fill="#bccabc" stroke="#bccabc" stroke-width="7" stroke-linejoin="round"/>
<path d="M128.0,213.0C129.7,211.4 136.0,211.8 140.0,211.5C144.0,211.2 148.2,211.2 152.0,211.0C155.8,210.8 159.5,210.2 163.0,210.0C166.5,209.8 170.9,208.7 173.0,210.0C175.1,211.3 175.2,215.2 175.5,218.0C175.8,220.8 175.4,224.0 175.0,227.0C174.6,230.0 174.7,234.8 173.0,236.0C171.3,237.2 167.7,235.0 165.0,234.0C162.3,233.0 159.8,231.0 157.0,230.0C154.2,229.0 151.2,228.7 148.0,228.0C144.8,227.3 141.0,227.2 138.0,226.0C135.0,224.8 131.7,223.2 130.0,221.0C128.3,218.8 126.3,214.6 128.0,213.0Z" fill="#b6c6b6" stroke="#b6c6b6" stroke-width="7" stroke-linejoin="round"/>
<path d="M113.0,180.0C114.7,178.0 118.8,176.7 122.0,176.0C125.2,175.3 129.0,175.3 132.0,176.0C135.0,176.7 137.5,177.7 140.0,180.0C142.5,182.3 145.0,187.2 147.0,190.0C149.0,192.8 150.0,194.7 152.0,197.0C154.0,199.3 157.8,201.7 159.0,204.0C160.2,206.3 160.5,209.6 159.0,211.0C157.5,212.4 153.5,212.3 150.0,212.5C146.5,212.7 142.0,212.6 138.0,212.0C134.0,211.4 129.3,210.3 126.0,209.0C122.7,207.7 120.2,206.2 118.0,204.0C115.8,201.8 114.0,198.7 113.0,196.0C112.0,193.3 112.0,190.7 112.0,188.0C112.0,185.3 111.3,182.0 113.0,180.0Z" fill="#c0ccc0" stroke="#c0ccc0" stroke-width="7" stroke-linejoin="round"/>
<path d="M121.0,156.0C123.2,155.2 128.5,155.2 132.7,156.0C136.9,156.8 142.0,158.9 146.2,160.8C150.4,162.7 154.2,165.2 157.7,167.6C161.2,170.0 164.4,172.9 167.3,175.3C170.2,177.7 173.6,179.2 175.0,182.0C176.4,184.8 176.0,188.5 176.0,192.0C176.0,195.5 175.7,200.0 175.0,203.0C174.3,206.0 173.7,209.2 172.0,210.0C170.3,210.8 167.1,208.7 165.0,207.5C162.9,206.3 161.4,204.9 159.2,203.0C157.0,201.1 154.0,198.0 152.0,196.0C150.0,194.0 148.7,193.4 147.0,190.8C145.3,188.2 143.9,183.2 141.9,180.4C139.9,177.6 137.3,175.7 135.0,174.0C132.7,172.3 130.2,171.3 128.0,170.0C125.8,168.7 123.4,167.5 122.0,166.0C120.6,164.5 119.7,162.7 119.5,161.0C119.3,159.3 118.8,156.8 121.0,156.0Z" fill="#c4d0c4" stroke="#c4d0c4" stroke-width="7" stroke-linejoin="round"/>
<path d="M117.8,132.5C118.1,130.3 120.8,126.3 122.6,123.5C124.4,120.7 125.9,118.3 128.6,115.8C131.2,113.2 134.6,110.5 138.5,108.2C142.4,106.0 147.7,103.1 151.9,102.3C156.1,101.5 160.1,102.3 163.5,103.3C166.9,104.3 170.6,106.0 172.4,108.2C174.2,110.4 174.5,113.3 174.4,116.2C174.3,119.1 172.6,122.6 171.6,125.8C170.6,129.0 169.3,132.6 168.7,135.4C168.0,138.2 169.5,141.1 167.7,142.4C165.9,143.8 161.3,142.8 157.7,143.5C154.1,144.2 149.4,146.7 146.2,146.4C143.0,146.1 141.4,142.9 138.5,141.6C135.6,140.3 131.7,139.5 128.8,138.7C125.9,137.9 122.8,137.7 121.0,136.7C119.2,135.7 117.5,134.7 117.8,132.5Z" fill="#b4c6b4" stroke="#b4c6b4" stroke-width="7" stroke-linejoin="round"/>
</g></g>
<g transform="translate(347.90,512.60) scale(0.3652,0.3234) translate(-39.0,-102.6)">
<g fill="none" stroke="#a0b6a0" stroke-width="2.32" stroke-linecap="round" stroke-linejoin="round" opacity="0.85">
<path d="M206.5,170.2 C210,168.5 213.5,171 213,175 C212.5,179 208.5,180 206.5,177.8 C204.5,175.5 204.5,172 206.5,170.2 Z"/>
<path d="M205.8,177 L199,188 M204.8,171 L201,167"/>
</g></g>
<text x="0" y="0" transform="translate(375.60 507.90) scale(1 1.12)" font-size="6.2" text-anchor="middle" fill="#333" stroke="#333" stroke-width="0.05">CD127</text>
<g filter="url(#tex3)" opacity="0.95">
<g transform="translate(417.70,512.60) scale(0.3689,0.3177) translate(-39.0,-102.6)">
<path d="M38.5,168.0C38.8,164.2 39.8,159.2 41.0,156.0C42.2,152.8 44.0,150.8 46.0,149.0C48.0,147.2 50.7,146.4 53.0,145.5C55.3,144.6 57.8,144.1 60.0,143.8C62.2,143.6 64.3,144.7 66.0,144.0C67.7,143.3 68.5,140.9 70.0,139.5C71.5,138.1 72.7,136.3 75.0,135.3C77.3,134.3 80.8,133.7 84.0,133.3C87.2,132.9 91.0,132.9 94.0,133.0C97.0,133.1 99.7,133.5 102.0,134.0C104.3,134.5 105.7,136.4 108.0,136.0C110.3,135.6 113.6,133.6 116.0,131.5C118.4,129.4 120.5,126.1 122.6,123.5C124.7,120.9 125.9,118.3 128.6,115.8C131.2,113.2 134.6,110.5 138.5,108.2C142.4,106.0 147.7,103.1 151.9,102.3C156.1,101.5 160.1,102.3 163.5,103.3C166.9,104.3 170.6,106.0 172.4,108.2C174.2,110.4 174.5,113.3 174.4,116.2C174.3,119.1 172.6,122.6 171.6,125.8C170.6,129.0 169.3,132.6 168.7,135.4C168.0,138.2 169.5,141.1 167.7,142.4C165.9,143.8 161.3,142.8 157.7,143.5C154.1,144.2 149.4,146.7 146.2,146.4C143.0,146.1 141.2,142.6 138.5,141.6C135.8,140.6 132.2,139.4 130.0,140.5C127.8,141.6 125.7,145.6 125.0,148.0C124.3,150.4 124.7,153.7 126.0,155.0C127.3,156.3 129.3,154.9 132.7,155.8C136.1,156.7 142.0,158.7 146.2,160.6C150.4,162.5 154.2,165.0 157.7,167.4C161.2,169.8 164.4,172.7 167.3,175.1C170.2,177.5 173.5,179.2 175.0,182.0C176.5,184.8 176.1,188.5 176.2,192.0C176.3,195.5 175.7,199.3 175.6,203.0C175.5,206.7 175.8,210.0 175.8,214.0C175.8,218.0 176.0,223.3 175.5,227.0C175.0,230.7 174.6,232.7 173.0,236.0C171.4,239.3 167.4,243.7 166.0,247.0C164.6,250.3 165.0,253.2 164.6,256.0C164.2,258.8 164.5,261.2 163.8,264.0C163.1,266.8 162.5,271.1 160.2,273.0C157.9,274.9 152.7,275.1 150.0,275.7C147.3,276.3 147.0,276.9 144.2,276.7C141.4,276.5 136.6,275.6 133.0,274.7C129.4,273.8 125.2,273.1 122.6,271.1C120.0,269.1 119.6,264.8 117.6,262.9C115.6,261.0 114.5,260.7 110.8,259.5C107.1,258.3 100.2,257.0 95.4,255.7C90.6,254.4 85.3,253.6 82.0,251.9C78.7,250.2 76.0,247.7 75.6,245.6C75.2,243.5 78.1,242.2 79.4,239.6C80.7,237.0 82.2,232.9 83.2,230.0C84.2,227.1 84.7,224.2 85.2,222.3C85.7,220.4 86.2,219.3 86.0,218.5C85.8,217.7 86.7,217.2 83.8,217.2C80.9,217.1 72.7,218.8 68.5,218.2C64.3,217.6 61.0,215.6 58.5,213.4C56.0,211.2 54.6,207.7 53.3,205.0C52.0,202.3 51.2,198.5 50.5,197.0C49.8,195.5 50.5,197.7 49.3,196.2C48.1,194.7 45.0,191.1 43.3,188.2C41.6,185.3 40.1,182.4 39.3,179.0C38.5,175.6 38.2,171.8 38.5,168.0Z" fill="#afc4af"/>
<path d="M108.0,136.0C108.8,134.2 114.2,131.8 117.0,132.0C119.8,132.2 123.0,134.3 125.0,137.0C127.0,139.7 128.7,143.3 129.0,148.0C129.3,152.7 127.7,159.7 127.0,165.0C126.3,170.3 126.2,176.2 125.0,180.0C123.8,183.8 122.0,187.0 120.0,188.0C118.0,189.0 113.8,189.0 113.0,186.0C112.2,183.0 114.3,175.2 115.0,170.0C115.7,164.8 117.5,159.5 117.0,155.0C116.5,150.5 113.5,146.2 112.0,143.0C110.5,139.8 107.2,137.8 108.0,136.0Z" fill="#afc4af" stroke="#afc4af" stroke-width="7" stroke-linejoin="round"/>
<path d="M105.0,168.0C106.3,164.3 111.7,164.3 114.0,166.0C116.3,167.7 118.5,173.7 119.0,178.0C119.5,182.3 118.2,189.0 117.0,192.0C115.8,195.0 113.8,196.7 112.0,196.0C110.2,195.3 107.2,192.7 106.0,188.0C104.8,183.3 103.7,171.7 105.0,168.0Z" fill="#afc4af" stroke="#afc4af" stroke-width="7" stroke-linejoin="round"/>
<path d="M80.0,146.0C82.5,144.7 86.7,144.3 90.0,144.0C93.3,143.7 96.7,143.7 100.0,144.0C103.3,144.3 107.2,144.7 110.0,146.0C112.8,147.3 115.6,148.8 117.0,152.0C118.4,155.2 118.5,160.7 118.5,165.0C118.5,169.3 118.1,174.5 117.0,178.0C115.9,181.5 114.8,184.2 112.0,186.0C109.2,187.8 104.0,188.2 100.0,189.0C96.0,189.8 91.7,190.8 88.0,191.0C84.3,191.2 80.7,191.5 78.0,190.0C75.3,188.5 73.0,186.2 72.0,182.0C71.0,177.8 71.5,170.0 72.0,165.0C72.5,160.0 73.7,155.2 75.0,152.0C76.3,148.8 77.5,147.3 80.0,146.0Z" fill="#afc4af" stroke="#afc4af" stroke-width="7" stroke-linejoin="round"/>
<path d="M70.0,140.0C70.8,138.1 72.7,136.6 75.0,135.5C77.3,134.4 80.8,133.9 84.0,133.5C87.2,133.1 91.0,133.2 94.0,133.3C97.0,133.4 99.9,133.5 102.0,134.3C104.1,135.1 106.0,136.4 106.5,138.0C107.0,139.6 106.4,142.4 105.0,144.0C103.6,145.6 100.5,146.8 98.0,147.5C95.5,148.2 92.7,148.1 90.0,148.5C87.3,148.9 84.5,149.6 82.0,150.0C79.5,150.4 77.0,151.5 75.0,151.0C73.0,150.5 70.8,148.8 70.0,147.0C69.2,145.2 69.2,141.9 70.0,140.0Z" fill="#afc4af" stroke="#afc4af" stroke-width="7" stroke-linejoin="round"/>
<path d="M66.0,148.0C67.4,144.8 71.3,145.8 74.0,146.0C76.7,146.2 80.2,147.0 82.0,149.0C83.8,151.0 84.7,154.5 85.0,158.0C85.3,161.5 84.7,166.0 84.0,170.0C83.3,174.0 82.7,179.2 81.0,182.0C79.3,184.8 76.3,187.2 74.0,187.0C71.7,186.8 68.4,184.7 67.0,181.0C65.6,177.3 65.7,170.5 65.5,165.0C65.3,159.5 64.6,151.2 66.0,148.0Z" fill="#afc4af" stroke="#afc4af" stroke-width="7" stroke-linejoin="round"/>
<path d="M38.5,168.0C38.7,164.5 39.3,161.0 40.5,158.0C41.7,155.0 43.5,152.0 45.5,150.0C47.5,148.0 50.1,147.0 52.5,146.0C54.9,145.0 57.8,144.1 60.0,144.0C62.2,143.9 64.0,144.2 65.5,145.5C67.0,146.8 68.3,148.8 69.0,152.0C69.7,155.2 69.5,160.3 69.5,165.0C69.5,169.7 69.2,175.3 69.0,180.0C68.8,184.7 69.2,190.1 68.0,193.0C66.8,195.9 64.2,196.5 62.0,197.5C59.8,198.5 57.1,199.2 55.0,199.0C52.9,198.8 51.4,197.8 49.5,196.0C47.6,194.2 45.2,190.8 43.5,188.0C41.8,185.2 40.3,182.3 39.5,179.0C38.7,175.7 38.3,171.5 38.5,168.0Z" fill="#afc4af" stroke="#afc4af" stroke-width="7" stroke-linejoin="round"/>
<path d="M51.0,196.0C51.8,193.9 55.1,193.4 58.0,192.5C60.9,191.6 64.8,191.0 68.5,190.5C72.2,190.0 76.4,189.8 80.0,189.5C83.6,189.2 86.2,189.4 90.0,189.0C93.8,188.6 99.3,187.4 103.0,187.0C106.7,186.6 109.7,185.8 112.0,186.5C114.3,187.2 116.2,188.8 117.0,191.0C117.8,193.2 117.7,197.2 117.0,200.0C116.3,202.8 116.3,205.5 113.0,207.5C109.7,209.5 102.2,210.6 97.3,212.2C92.4,213.8 88.6,216.0 83.8,217.0C79.0,218.0 72.7,218.6 68.5,218.0C64.3,217.4 61.0,215.4 58.5,213.2C56.0,211.0 54.8,207.9 53.5,205.0C52.2,202.1 50.2,198.1 51.0,196.0Z" fill="#afc4af" stroke="#afc4af" stroke-width="7" stroke-linejoin="round"/>
<path d="M88.0,218.0C90.0,216.9 93.5,216.1 97.3,216.0C101.1,215.9 107.5,216.5 110.8,217.5C114.1,218.5 115.6,219.6 117.0,222.0C118.4,224.4 118.3,228.5 119.0,232.0C119.7,235.5 120.3,239.5 121.0,243.0C121.7,246.5 123.3,249.9 123.0,253.0C122.7,256.1 121.0,260.2 119.0,261.3C117.0,262.4 114.7,260.3 110.8,259.3C106.9,258.3 100.2,256.8 95.4,255.5C90.6,254.2 85.3,253.3 82.0,251.7C78.7,250.0 76.2,247.6 75.8,245.6C75.4,243.6 78.3,242.2 79.6,239.6C80.9,237.0 82.4,232.9 83.4,230.0C84.4,227.1 84.6,224.3 85.4,222.3C86.2,220.3 86.0,219.1 88.0,218.0Z" fill="#afc4af" stroke="#afc4af" stroke-width="7" stroke-linejoin="round"/>
<path d="M116.0,223.0C117.8,220.3 124.0,224.0 128.0,225.0C132.0,226.0 136.0,227.2 140.0,229.0C144.0,230.8 148.0,233.3 152.0,236.0C156.0,238.7 161.8,242.7 164.0,245.0C166.2,247.3 165.3,248.7 165.0,250.0C164.7,251.3 165.0,252.5 162.0,253.0C159.0,253.5 151.8,253.3 147.0,253.0C142.2,252.7 137.2,251.9 133.0,251.0C128.8,250.1 124.7,249.2 122.0,247.5C119.3,245.8 118.0,245.1 117.0,241.0C116.0,236.9 114.2,225.7 116.0,223.0Z" fill="#afc4af" stroke="#afc4af" stroke-width="7" stroke-linejoin="round"/>
<path d="M119.0,252.6C121.9,250.8 129.8,251.6 135.0,251.6C140.2,251.6 145.2,252.1 150.0,252.6C154.8,253.1 161.7,252.7 164.0,254.6C166.3,256.5 164.3,261.0 163.6,264.0C162.9,267.0 162.3,270.9 160.0,272.8C157.7,274.7 152.6,274.9 150.0,275.5C147.4,276.1 147.0,276.7 144.2,276.5C141.4,276.3 136.6,275.4 133.0,274.5C129.4,273.6 125.1,272.9 122.6,270.9C120.1,268.9 118.4,265.8 117.8,262.7C117.2,259.6 116.1,254.4 119.0,252.6Z" fill="#a8bea8" stroke="#a8bea8" stroke-width="7" stroke-linejoin="round"/>
<path d="M128.0,213.0C129.7,211.4 136.0,211.8 140.0,211.5C144.0,211.2 148.2,211.2 152.0,211.0C155.8,210.8 159.5,210.2 163.0,210.0C166.5,209.8 170.9,208.7 173.0,210.0C175.1,211.3 175.2,215.2 175.5,218.0C175.8,220.8 175.4,224.0 175.0,227.0C174.6,230.0 174.7,234.8 173.0,236.0C171.3,237.2 167.7,235.0 165.0,234.0C162.3,233.0 159.8,231.0 157.0,230.0C154.2,229.0 151.2,228.7 148.0,228.0C144.8,227.3 141.0,227.2 138.0,226.0C135.0,224.8 131.7,223.2 130.0,221.0C128.3,218.8 126.3,214.6 128.0,213.0Z" fill="#7a9e7a" stroke="#7a9e7a" stroke-width="7" stroke-linejoin="round"/>
<path d="M113.0,180.0C114.7,178.0 118.8,176.7 122.0,176.0C125.2,175.3 129.0,175.3 132.0,176.0C135.0,176.7 137.5,177.7 140.0,180.0C142.5,182.3 145.0,187.2 147.0,190.0C149.0,192.8 150.0,194.7 152.0,197.0C154.0,199.3 157.8,201.7 159.0,204.0C160.2,206.3 160.5,209.6 159.0,211.0C157.5,212.4 153.5,212.3 150.0,212.5C146.5,212.7 142.0,212.6 138.0,212.0C134.0,211.4 129.3,210.3 126.0,209.0C122.7,207.7 120.2,206.2 118.0,204.0C115.8,201.8 114.0,198.7 113.0,196.0C112.0,193.3 112.0,190.7 112.0,188.0C112.0,185.3 111.3,182.0 113.0,180.0Z" fill="#86a686" stroke="#86a686" stroke-width="7" stroke-linejoin="round"/>
<path d="M121.0,156.0C123.2,155.2 128.5,155.2 132.7,156.0C136.9,156.8 142.0,158.9 146.2,160.8C150.4,162.7 154.2,165.2 157.7,167.6C161.2,170.0 164.4,172.9 167.3,175.3C170.2,177.7 173.6,179.2 175.0,182.0C176.4,184.8 176.0,188.5 176.0,192.0C176.0,195.5 175.7,200.0 175.0,203.0C174.3,206.0 173.7,209.2 172.0,210.0C170.3,210.8 167.1,208.7 165.0,207.5C162.9,206.3 161.4,204.9 159.2,203.0C157.0,201.1 154.0,198.0 152.0,196.0C150.0,194.0 148.7,193.4 147.0,190.8C145.3,188.2 143.9,183.2 141.9,180.4C139.9,177.6 137.3,175.7 135.0,174.0C132.7,172.3 130.2,171.3 128.0,170.0C125.8,168.7 123.4,167.5 122.0,166.0C120.6,164.5 119.7,162.7 119.5,161.0C119.3,159.3 118.8,156.8 121.0,156.0Z" fill="#7a9e7a" stroke="#7a9e7a" stroke-width="7" stroke-linejoin="round"/>
<path d="M117.8,132.5C118.1,130.3 120.8,126.3 122.6,123.5C124.4,120.7 125.9,118.3 128.6,115.8C131.2,113.2 134.6,110.5 138.5,108.2C142.4,106.0 147.7,103.1 151.9,102.3C156.1,101.5 160.1,102.3 163.5,103.3C166.9,104.3 170.6,106.0 172.4,108.2C174.2,110.4 174.5,113.3 174.4,116.2C174.3,119.1 172.6,122.6 171.6,125.8C170.6,129.0 169.3,132.6 168.7,135.4C168.0,138.2 169.5,141.1 167.7,142.4C165.9,143.8 161.3,142.8 157.7,143.5C154.1,144.2 149.4,146.7 146.2,146.4C143.0,146.1 141.4,142.9 138.5,141.6C135.6,140.3 131.7,139.5 128.8,138.7C125.9,137.9 122.8,137.7 121.0,136.7C119.2,135.7 117.5,134.7 117.8,132.5Z" fill="#9ab49a" stroke="#9ab49a" stroke-width="7" stroke-linejoin="round"/>
</g></g>
<g transform="translate(417.70,512.60) scale(0.3689,0.3177) translate(-39.0,-102.6)">
<g fill="none" stroke="#8aa88a" stroke-width="2.36" stroke-linecap="round" stroke-linejoin="round" opacity="0.85">
<path d="M206.5,170.2 C210,168.5 213.5,171 213,175 C212.5,179 208.5,180 206.5,177.8 C204.5,175.5 204.5,172 206.5,170.2 Z"/>
<path d="M205.8,177 L199,188 M204.8,171 L201,167"/>
</g></g>
<text x="0" y="0" transform="translate(445.40 507.90) scale(1 1.12)" font-size="6.2" text-anchor="middle" fill="#333" stroke="#333" stroke-width="0.05">OX40</text>
<path d="M26.1,540.9 L26.1,575.4 L60.6,575.4" fill="none" stroke="#111" stroke-width="1.0"/>
<path d="M26.10,537.90 L28.17,542.50 L24.03,542.50Z" fill="#111"/>
<path d="M63.60,575.40 L59.00,577.47 L59.00,573.33Z" fill="#111"/>
<text x="0" y="0" transform="translate(44.05 585.60) scale(1 1.0)" font-size="9.0" text-anchor="middle" fill="#222" stroke="#222" stroke-width="0.2" textLength="32.3" lengthAdjust="spacingAndGlyphs">WnnUMAP 1</text>
<text x="0" y="0" transform="translate(21.50 558.00) rotate(-90) scale(1 1.0)" font-size="9.0" text-anchor="middle" fill="#222" stroke="#222" stroke-width="0.2" textLength="32.3" lengthAdjust="spacingAndGlyphs">WnnUMAP 2</text>
<path d="M273.6,540.9 L273.6,575.4 L308.6,575.4" fill="none" stroke="#111" stroke-width="1.0"/>
<path d="M273.60,537.90 L275.67,542.50 L271.53,542.50Z" fill="#111"/>
<path d="M311.60,575.40 L307.00,577.47 L307.00,573.33Z" fill="#111"/>
<text x="0" y="0" transform="translate(291.20 585.50) scale(1 1.0)" font-size="9.0" text-anchor="middle" fill="#222" stroke="#222" stroke-width="0.2" textLength="32.4" lengthAdjust="spacingAndGlyphs">WnnUMAP 1</text>
<text x="0" y="0" transform="translate(269.00 558.30) rotate(-90) scale(1 1.0)" font-size="9.0" text-anchor="middle" fill="#222" stroke="#222" stroke-width="0.2" textLength="32.4" lengthAdjust="spacingAndGlyphs">WnnUMAP 2</text>
<text x="0" y="0" transform="translate(244.00 512.10) scale(1 1.12)" font-size="6.2" text-anchor="middle" fill="#222" stroke="#222" stroke-width="0.05">Average gene</text>
<text x="0" y="0" transform="translate(244.60 519.50) scale(1 1.12)" font-size="6.2" text-anchor="middle" fill="#222" stroke="#222" stroke-width="0.05">expression</text>
<rect x="238" y="528" width="5.5" height="30.8" fill="url(#gpur)"/>
<text x="0" y="0" transform="translate(246.50 530.70) scale(1 1.12)" font-size="6.2" text-anchor="start" fill="#222" stroke="#222" stroke-width="0.05">3</text>
<text x="0" y="0" transform="translate(246.50 540.60) scale(1 1.12)" font-size="6.2" text-anchor="start" fill="#222" stroke="#222" stroke-width="0.05">2</text>
<text x="0" y="0" transform="translate(246.50 551.00) scale(1 1.12)" font-size="6.2" text-anchor="start" fill="#222" stroke="#222" stroke-width="0.05">1</text>
<text x="0" y="0" transform="translate(246.50 560.60) scale(1 1.12)" font-size="6.2" text-anchor="start" fill="#222" stroke="#222" stroke-width="0.05">0</text>
<text x="0" y="0" transform="translate(490.50 510.70) scale(1 1.12)" font-size="6.2" text-anchor="middle" fill="#222" stroke="#222" stroke-width="0.05">Average protein</text>
<text x="0" y="0" transform="translate(490.50 518.70) scale(1 1.12)" font-size="6.2" text-anchor="middle" fill="#222" stroke="#222" stroke-width="0.05">expression</text>
<rect x="488.2" y="527.8" width="4.8" height="29.7" fill="url(#ggrn)"/>
<text x="0" y="0" transform="translate(496.30 530.20) scale(1 1.12)" font-size="6.2" text-anchor="start" fill="#222" stroke="#222" stroke-width="0.05">4</text>
<text x="0" y="0" transform="translate(496.30 537.80) scale(1 1.12)" font-size="6.2" text-anchor="start" fill="#222" stroke="#222" stroke-width="0.05">3</text>
<text x="0" y="0" transform="translate(496.30 545.70) scale(1 1.12)" font-size="6.2" text-anchor="start" fill="#222" stroke="#222" stroke-width="0.05">2</text>
<text x="0" y="0" transform="translate(496.30 553.20) scale(1 1.12)" font-size="6.2" text-anchor="start" fill="#222" stroke="#222" stroke-width="0.05">1</text>
<text x="0" y="0" transform="translate(496.30 560.50) scale(1 1.12)" font-size="6.2" text-anchor="start" fill="#222" stroke="#222" stroke-width="0.05">0</text>
<text x="0" y="0" transform="translate(9.00 612.40) scale(1 1.0)" font-size="11.5" text-anchor="start" font-weight="bold" fill="#111">F</text>
<path d="M63.1,639.3 L63.10,619.00 A20.3,20.3 0 0 1 64.16,619.03Z" fill="#f08418"/>
<path d="M63.1,639.3 L64.16,619.03 A20.3,20.3 0 0 1 66.63,619.31Z" fill="#1f4f9c"/>
<path d="M63.1,639.3 L66.63,619.31 A20.3,20.3 0 0 1 80.13,628.24Z" fill="#1f9a45"/>
<path d="M63.1,639.3 L80.13,628.24 A20.3,20.3 0 0 1 83.39,640.01Z" fill="#f07fa9"/>
<path d="M63.1,639.3 L83.39,640.01 A20.3,20.3 0 0 1 82.88,643.87Z" fill="#7f76c4"/>
<path d="M63.1,639.3 L82.88,643.87 A20.3,20.3 0 0 1 75.60,655.30Z" fill="#f08418"/>
<path d="M63.1,639.3 L75.60,655.30 A20.3,20.3 0 0 1 43.40,644.21Z" fill="#4f2890"/>
<path d="M63.1,639.3 L43.40,644.21 A20.3,20.3 0 0 1 42.83,640.36Z" fill="#b9cd22"/>
<path d="M63.1,639.3 L42.83,640.36 A20.3,20.3 0 0 1 61.68,619.05Z" fill="#72c2d3"/>
<path d="M63.1,639.3 L61.68,619.05 A20.3,20.3 0 0 1 63.10,619.00Z" fill="#f2d52a"/>
<path d="M110.0,639.3 L110.00,619.00 A20.3,20.3 0 0 1 111.06,619.03Z" fill="#f2d52a"/>
<path d="M110.0,639.3 L111.06,619.03 A20.3,20.3 0 0 1 112.83,619.20Z" fill="#dc1a2c"/>
<path d="M110.0,639.3 L112.83,619.20 A20.3,20.3 0 0 1 114.91,619.60Z" fill="#1f4f9c"/>
<path d="M110.0,639.3 L114.91,619.60 A20.3,20.3 0 0 1 126.63,627.66Z" fill="#1f9a45"/>
<path d="M110.0,639.3 L126.63,627.66 A20.3,20.3 0 0 1 129.31,645.57Z" fill="#f07fa9"/>
<path d="M110.0,639.3 L129.31,645.57 A20.3,20.3 0 0 1 112.83,659.40Z" fill="#7f76c4"/>
<path d="M110.0,639.3 L112.83,659.40 A20.3,20.3 0 0 1 106.47,659.29Z" fill="#f08418"/>
<path d="M110.0,639.3 L106.47,659.29 A20.3,20.3 0 0 1 90.01,642.83Z" fill="#4f2890"/>
<path d="M110.0,639.3 L90.01,642.83 A20.3,20.3 0 0 1 108.58,619.05Z" fill="#72c2d3"/>
<path d="M110.0,639.3 L108.58,619.05 A20.3,20.3 0 0 1 110.00,619.00Z" fill="#7f76c4"/>
<path d="M157.2,639.3 L157.20,619.00 A20.3,20.3 0 0 1 158.26,619.03Z" fill="#b9cd22"/>
<path d="M157.2,639.3 L158.26,619.03 A20.3,20.3 0 0 1 160.03,619.20Z" fill="#1f4f9c"/>
<path d="M157.2,639.3 L160.03,619.20 A20.3,20.3 0 0 1 169.70,623.30Z" fill="#1f9a45"/>
<path d="M157.2,639.3 L169.70,623.30 A20.3,20.3 0 0 1 171.80,653.40Z" fill="#f07fa9"/>
<path d="M157.2,639.3 L171.80,653.40 A20.3,20.3 0 0 1 157.20,659.60Z" fill="#7f76c4"/>
<path d="M157.2,639.3 L157.20,659.60 A20.3,20.3 0 0 1 139.98,650.06Z" fill="#f08418"/>
<path d="M157.2,639.3 L139.98,650.06 A20.3,20.3 0 0 1 138.12,632.36Z" fill="#4f2890"/>
<path d="M157.2,639.3 L138.12,632.36 A20.3,20.3 0 0 1 155.43,619.08Z" fill="#72c2d3"/>
<path d="M157.2,639.3 L155.43,619.08 A20.3,20.3 0 0 1 157.20,619.00Z" fill="#0f9676"/>
<path d="M222.5,639.3 L222.50,619.00 A20.3,20.3 0 0 1 241.81,633.03Z" fill="#dc1a2c"/>
<path d="M222.5,639.3 L241.81,633.03 A20.3,20.3 0 0 1 242.20,634.39Z" fill="#1f4f9c"/>
<path d="M222.5,639.3 L242.20,634.39 A20.3,20.3 0 0 1 242.01,644.90Z" fill="#1f9a45"/>
<path d="M222.5,639.3 L242.01,644.90 A20.3,20.3 0 0 1 235.55,654.85Z" fill="#f07fa9"/>
<path d="M222.5,639.3 L235.55,654.85 A20.3,20.3 0 0 1 231.08,657.70Z" fill="#7f76c4"/>
<path d="M222.5,639.3 L231.08,657.70 A20.3,20.3 0 0 1 224.62,659.49Z" fill="#f08418"/>
<path d="M222.5,639.3 L224.62,659.49 A20.3,20.3 0 0 1 223.21,659.59Z" fill="#a5455a"/>
<path d="M222.5,639.3 L223.21,659.59 A20.3,20.3 0 0 1 222.15,659.60Z" fill="#4f2890"/>
<path d="M222.5,639.3 L222.15,659.60 A20.3,20.3 0 0 1 202.20,639.30Z" fill="#b9cd22"/>
<path d="M222.5,639.3 L202.20,639.30 A20.3,20.3 0 0 1 213.92,620.90Z" fill="#0f9676"/>
<path d="M222.5,639.3 L213.92,620.90 A20.3,20.3 0 0 1 217.25,619.69Z" fill="#f2d52a"/>
<path d="M222.5,639.3 L217.25,619.69 A20.3,20.3 0 0 1 221.79,619.01Z" fill="#a3abbb"/>
<path d="M222.5,639.3 L221.79,619.01 A20.3,20.3 0 0 1 222.50,619.00Z" fill="#72c2d3"/>
<path d="M270.0,639.3 L270.00,619.00 A20.3,20.3 0 0 1 289.78,634.73Z" fill="#dc1a2c"/>
<path d="M270.0,639.3 L289.78,634.73 A20.3,20.3 0 0 1 281.06,656.33Z" fill="#1f4f9c"/>
<path d="M270.0,639.3 L281.06,656.33 A20.3,20.3 0 0 1 280.15,656.88Z" fill="#1f9a45"/>
<path d="M270.0,639.3 L280.15,656.88 A20.3,20.3 0 0 1 270.00,659.60Z" fill="#7f76c4"/>
<path d="M270.0,639.3 L270.00,659.60 A20.3,20.3 0 0 1 255.40,653.40Z" fill="#f08418"/>
<path d="M270.0,639.3 L255.40,653.40 A20.3,20.3 0 0 1 253.58,651.23Z" fill="#a5455a"/>
<path d="M270.0,639.3 L253.58,651.23 A20.3,20.3 0 0 1 250.69,633.03Z" fill="#b9cd22"/>
<path d="M270.0,639.3 L250.69,633.03 A20.3,20.3 0 0 1 266.47,619.31Z" fill="#0f9676"/>
<path d="M270.0,639.3 L266.47,619.31 A20.3,20.3 0 0 1 270.00,619.00Z" fill="#f2d52a"/>
<path d="M317.5,639.3 L317.50,619.00 A20.3,20.3 0 0 1 318.56,619.03Z" fill="#f2d52a"/>
<path d="M317.5,639.3 L318.56,619.03 A20.3,20.3 0 0 1 326.08,620.90Z" fill="#dc1a2c"/>
<path d="M317.5,639.3 L326.08,620.90 A20.3,20.3 0 0 1 328.85,656.13Z" fill="#1f4f9c"/>
<path d="M317.5,639.3 L328.85,656.13 A20.3,20.3 0 0 1 327.65,656.88Z" fill="#7f76c4"/>
<path d="M317.5,639.3 L327.65,656.88 A20.3,20.3 0 0 1 298.31,645.91Z" fill="#f08418"/>
<path d="M317.5,639.3 L298.31,645.91 A20.3,20.3 0 0 1 297.80,644.21Z" fill="#a5455a"/>
<path d="M317.5,639.3 L297.80,644.21 A20.3,20.3 0 0 1 311.23,619.99Z" fill="#b9cd22"/>
<path d="M317.5,639.3 L311.23,619.99 A20.3,20.3 0 0 1 315.73,619.08Z" fill="#0f9676"/>
<path d="M317.5,639.3 L315.73,619.08 A20.3,20.3 0 0 1 317.50,619.00Z" fill="#b9cd22"/>
<path d="M382.0,639.3 L382.00,619.00 A20.3,20.3 0 0 1 383.77,619.08Z" fill="#f2d52a"/>
<path d="M382.0,639.3 L383.77,619.08 A20.3,20.3 0 0 1 391.22,621.21Z" fill="#dc1a2c"/>
<path d="M382.0,639.3 L391.22,621.21 A20.3,20.3 0 0 1 392.76,622.08Z" fill="#f07fa9"/>
<path d="M382.0,639.3 L392.76,622.08 A20.3,20.3 0 0 1 400.95,632.03Z" fill="#7f76c4"/>
<path d="M382.0,639.3 L400.95,632.03 A20.3,20.3 0 0 1 401.70,634.39Z" fill="#f08418"/>
<path d="M382.0,639.3 L401.70,634.39 A20.3,20.3 0 0 1 369.78,655.51Z" fill="#a5455a"/>
<path d="M382.0,639.3 L369.78,655.51 A20.3,20.3 0 0 1 380.94,619.03Z" fill="#0f9676"/>
<path d="M382.0,639.3 L380.94,619.03 A20.3,20.3 0 0 1 382.00,619.00Z" fill="#f2d52a"/>
<path d="M429.0,639.3 L429.00,619.00 A20.3,20.3 0 0 1 430.06,619.03Z" fill="#f2d52a"/>
<path d="M429.0,639.3 L430.06,619.03 A20.3,20.3 0 0 1 445.00,626.80Z" fill="#dc1a2c"/>
<path d="M429.0,639.3 L445.00,626.80 A20.3,20.3 0 0 1 447.09,630.08Z" fill="#1f4f9c"/>
<path d="M429.0,639.3 L447.09,630.08 A20.3,20.3 0 0 1 449.15,641.77Z" fill="#f07fa9"/>
<path d="M429.0,639.3 L449.15,641.77 A20.3,20.3 0 0 1 416.50,655.30Z" fill="#7f76c4"/>
<path d="M429.0,639.3 L416.50,655.30 A20.3,20.3 0 0 1 409.01,642.83Z" fill="#f08418"/>
<path d="M429.0,639.3 L409.01,642.83 A20.3,20.3 0 0 1 409.07,635.43Z" fill="#a5455a"/>
<path d="M429.0,639.3 L409.07,635.43 A20.3,20.3 0 0 1 409.30,634.39Z" fill="#b9cd22"/>
<path d="M429.0,639.3 L409.30,634.39 A20.3,20.3 0 0 1 427.94,619.03Z" fill="#0f9676"/>
<path d="M429.0,639.3 L427.94,619.03 A20.3,20.3 0 0 1 429.00,619.00Z" fill="#f2d52a"/>
<path d="M476.5,639.3 L476.50,619.00 A20.3,20.3 0 0 1 477.56,619.03Z" fill="#a3abbb"/>
<path d="M476.5,639.3 L477.56,619.03 A20.3,20.3 0 0 1 484.10,620.48Z" fill="#dc1a2c"/>
<path d="M476.5,639.3 L484.10,620.48 A20.3,20.3 0 0 1 488.14,622.67Z" fill="#1f4f9c"/>
<path d="M476.5,639.3 L488.14,622.67 A20.3,20.3 0 0 1 489.00,623.30Z" fill="#7f76c4"/>
<path d="M476.5,639.3 L489.00,623.30 A20.3,20.3 0 0 1 484.10,658.12Z" fill="#f07fa9"/>
<path d="M476.5,639.3 L484.10,658.12 A20.3,20.3 0 0 1 468.24,657.84Z" fill="#7f76c4"/>
<path d="M476.5,639.3 L468.24,657.84 A20.3,20.3 0 0 1 456.20,638.95Z" fill="#f08418"/>
<path d="M476.5,639.3 L456.20,638.95 A20.3,20.3 0 0 1 458.41,630.08Z" fill="#a5455a"/>
<path d="M476.5,639.3 L458.41,630.08 A20.3,20.3 0 0 1 459.87,627.66Z" fill="#72c2d3"/>
<path d="M476.5,639.3 L459.87,627.66 A20.3,20.3 0 0 1 475.44,619.03Z" fill="#0f9676"/>
<path d="M476.5,639.3 L475.44,619.03 A20.3,20.3 0 0 1 476.50,619.00Z" fill="#a3abbb"/>
<line x1="42.3" y1="613.1" x2="177.7" y2="613.1" stroke="#555" stroke-width="1.1"/>
<text x="0" y="0" transform="translate(110.40 607.80) scale(1 1.12)" font-size="6.2" text-anchor="middle" fill="#333" stroke="#333" stroke-width="0.05">Tonsils</text>
<line x1="203.8" y1="613.1" x2="338.8" y2="613.1" stroke="#555" stroke-width="1.1"/>
<text x="0" y="0" transform="translate(271.30 607.80) scale(1 1.12)" font-size="6.2" text-anchor="middle" fill="#333" stroke="#333" stroke-width="0.05">FL</text>
<line x1="361.4" y1="613.1" x2="495.5" y2="613.1" stroke="#555" stroke-width="1.1"/>
<text x="0" y="0" transform="translate(428.50 607.80) scale(1 1.12)" font-size="6.2" text-anchor="middle" fill="#333" stroke="#333" stroke-width="0.05">DLBCL</text>
<circle cx="50.8" cy="674.2" r="3.4" fill="#dc1a2c"/>
<text x="0" y="0" transform="translate(57.20 676.70) scale(1 1.12)" font-size="6.2" text-anchor="start" fill="#222" stroke="#222" stroke-width="0.05">Activated Tregs</text>
<circle cx="117.0" cy="674.2" r="3.4" fill="#1f4f9c"/>
<text x="0" y="0" transform="translate(123.40 676.70) scale(1 1.12)" font-size="6.2" text-anchor="start" fill="#222" stroke="#222" stroke-width="0.05">Resting Tregs</text>
<circle cx="180.0" cy="674.2" r="3.4" fill="#1f9a45"/>
<text x="0" y="0" transform="translate(186.40 676.70) scale(1 1.12)" font-size="6.2" fill="#222" stroke="#222" stroke-width="0.05">LAG3<tspan font-size="4.5" dy="-2.5">+</tspan><tspan dy="2.5"> Tregs</tspan></text>
<circle cx="239.5" cy="674.2" r="3.4" fill="#f2a6c2"/>
<text x="0" y="0" transform="translate(245.90 676.70) scale(1 1.12)" font-size="6.2" text-anchor="start" fill="#222" stroke="#222" stroke-width="0.05">Naive T cells</text>
<circle cx="298.3" cy="674.2" r="3.4" fill="#7f76c4"/>
<text x="0" y="0" transform="translate(304.70 676.70) scale(1 1.12)" font-size="6.2" text-anchor="start" fill="#222" stroke="#222" stroke-width="0.05">Memory T cells 1</text>
<circle cx="370.3" cy="674.2" r="3.4" fill="#f08418"/>
<text x="0" y="0" transform="translate(376.70 676.70) scale(1 1.12)" font-size="6.2" text-anchor="start" fill="#222" stroke="#222" stroke-width="0.05">Memory T cells 2</text>
<circle cx="441.5" cy="674.2" r="3.4" fill="#a5455a"/>
<text x="0" y="0" transform="translate(447.90 676.70) scale(1 1.12)" font-size="6.2" text-anchor="start" fill="#222" stroke="#222" stroke-width="0.05">Memory T cells 3</text>
<circle cx="50.8" cy="690.3" r="3.4" fill="#4f2890"/>
<text x="0" y="0" transform="translate(57.20 692.80) scale(1 1.12)" font-size="6.2" text-anchor="start" fill="#222" stroke="#222" stroke-width="0.05">Tfh 1</text>
<circle cx="117.0" cy="690.3" r="3.4" fill="#b9cd22"/>
<text x="0" y="0" transform="translate(123.40 692.80) scale(1 1.12)" font-size="6.2" text-anchor="start" fill="#222" stroke="#222" stroke-width="0.05">Tfh 2</text>
<circle cx="180.0" cy="690.3" r="3.4" fill="#72c2d3"/>
<text x="0" y="0" transform="translate(186.40 692.80) scale(1 1.12)" font-size="6.2" text-anchor="start" fill="#222" stroke="#222" stroke-width="0.05">T helper cells</text>
<circle cx="239.5" cy="690.3" r="3.4" fill="#0f9676"/>
<text x="0" y="0" transform="translate(245.90 692.80) scale(1 1.12)" font-size="6.2" fill="#222" stroke="#222" stroke-width="0.05">GZM<tspan font-size="4.5" dy="-2.5">+</tspan><tspan dy="2.5"> T cells</tspan></text>
<circle cx="298.3" cy="690.3" r="3.4" fill="#f2d52a"/>
<text x="0" y="0" transform="translate(304.70 692.80) scale(1 1.12)" font-size="6.2" text-anchor="start" fill="#222" stroke="#222" stroke-width="0.05">Proliferating</text>
<circle cx="370.3" cy="690.3" r="3.4" fill="#a3abbb"/>
<text x="0" y="0" transform="translate(376.70 692.80) scale(1 1.12)" font-size="6.2" text-anchor="start" fill="#222" stroke="#222" stroke-width="0.05">Other</text>
<path d="M0,0.5H520" stroke="#666" stroke-width="1"/><path d="M0.5,0V701" stroke="#555" stroke-width="1"/><path d="M519.5,0V701" stroke="#3a3a3a" stroke-width="1"/><path d="M0,700.5H520" stroke="#3a3a3a" stroke-width="1"/>
</svg></body></html>
